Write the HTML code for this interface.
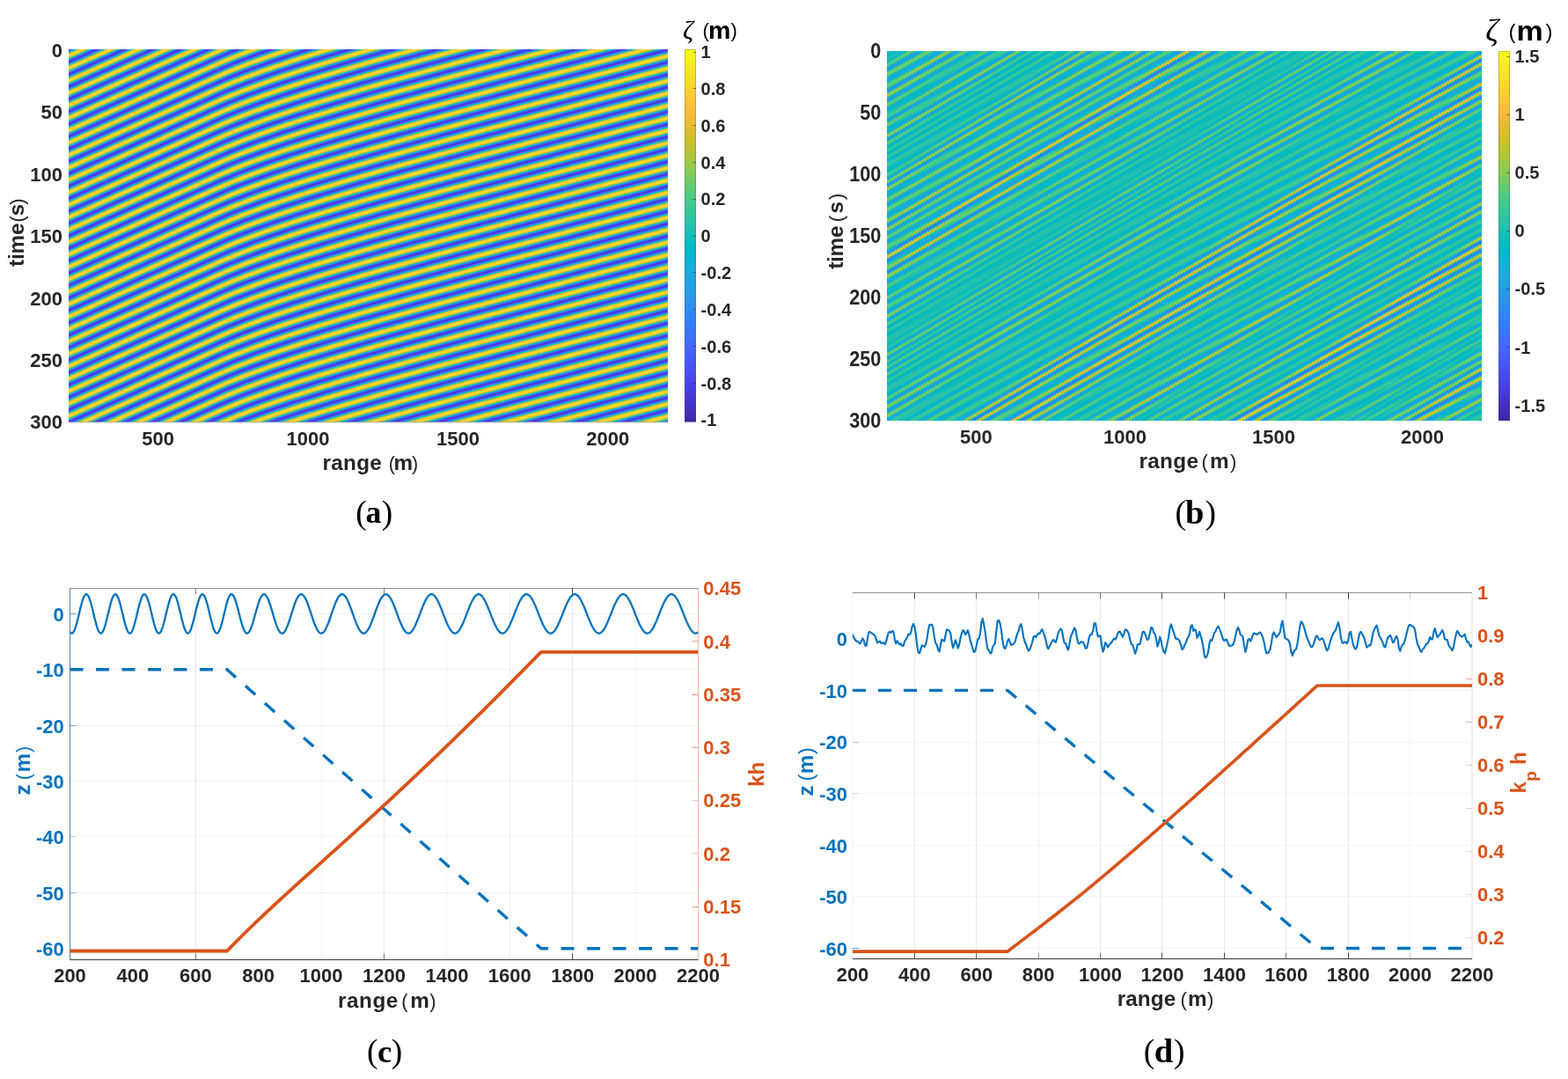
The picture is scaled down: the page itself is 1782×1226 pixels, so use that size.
<!DOCTYPE html>
<html lang="en"><head><meta charset="utf-8"><title>Wave propagation over a sloping bottom</title>
<style>
html,body{margin:0;padding:0;background:#fff}
body{width:1782px;height:1226px;position:relative;overflow:hidden}
svg{position:absolute;left:0;top:0}
text{font-family:"Liberation Sans",sans-serif;font-weight:bold;fill:#262626;text-anchor:middle;white-space:pre}
.s{font-family:"Liberation Serif","DejaVu Serif",serif;font-weight:normal}.b{fill:#0072bd}.o{fill:#d95319}.k{fill:#000}.n{font-weight:normal}.e{text-anchor:end}.l{text-anchor:start}.z{font-family:"Liberation Serif","DejaVu Serif",serif;font-style:italic;font-weight:normal}
#hb{position:absolute;left:1008px;top:58px;width:676px;height:420px;overflow:hidden;display:flex;filter:url(#cm)}#hb i{flex:0 0 3px;height:100%}
</style></head><body>
<div id="hb"><i style="background:linear-gradient(#880,#880,#740,#750,#880,#810,#790,#960,#a20,#770,#560,#6c0,#9c0,#b00,#960,#6c0,#5c0,#710,#900,#a30,#a40,#800,#520,#5b0,#9f0,#c00,#8e0,#5d0,#5e0,#860,#aa0,#990,#6e0,#690,#810,#870,#8b0,#9d0,#840,#570,#6c0,#a90,#a20,#7a0,#780,#710,#680,#960,#bc0,#7d0,#4c0,#7c0,#b00,#8c0,#680,#7b0,#940,#850,#730,#800,#950,#850,#6b0,#7c0,#980,#8b0,#780,#7d0,#7a0,#800,#9c0,#890,#5d0,#7f0,#bb0,#810,#450,#7f0,#c60,#940,#610,#6c0,#790,#860,#aa0,#a20,#680,#540,#770,#a20,#aa0,#8c0,#6a0,#630,#730,#8f0,#b20,#a40,#5c0,#470,#8f0,#c60,#8f0,#580,#6a0,#9d0,#a70,#7b0,#5a0,#720,#9c0,#a10,#950,#780,#480,#5b0,#cb0,#e10,#690,#3b0,#710,#940,#990,#b40,#900,#430,#500,#ab0,#c20,#8a0,#640,#600,#7c0,#a30,#990,#770,#770,#7c0,#720,#8c0,#ac0,#850,#580,#6e0,#990,#a00,#900,#720,#5a0,#780,#b50,#a50,#630,#5c0,#910,#a30,#7b0,#6c0,#8a0,#960,#7c0,#730,#840,#880,#830,#860,#7f0,#7b0,#8e0,#860,#660,#7d0,#b10,#8d0,#570,#780,#a50,#7e0,#6d0,#9b0,#950,#5f0,#700,#a60,#910,#670,#7c0,#9b0,#840,#6f0,#800,#8e0,#860,#840,#7e0,#700,#820,#a60,#8f0,#590,#630,#a50,#b60,#7f0,#550,#630,#9a0,#b80,#8a0,#580,#6b0)"></i><i style="background:linear-gradient(#8b0,#770,#740,#870,#820,#770,#920,#a60,#7f0,#570,#660,#940,#b00,#9d0,#720,#5c0,#6b0,#8a0,#a00,#a80,#890,#560,#550,#950,#c00,#980,#620,#5b0,#7e0,#a70,#9f0,#730,#680,#7e0,#860,#890,#9e0,#8b0,#590,#650,#a30,#a60,#7f0,#790,#730,#650,#8e0,#be0,#870,#4d0,#730,#ad0,#920,#6a0,#780,#920,#880,#740,#7d0,#940,#890,#6d0,#780,#960,#8e0,#790,#7d0,#7a0,#7d0,#9a0,#8e0,#5e0,#770,#bb0,#8c0,#460,#740,#c30,#9e0,#650,#6a0,#760,#810,#a70,#a90,#700,#530,#700,#9c0,#ab0,#930,#6f0,#620,#6e0,#880,#af0,#ad0,#650,#440,#830,#c50,#990,#5c0,#640,#970,#aa0,#820,#5c0,#6c0,#970,#a20,#9a0,#7f0,#4b0,#500,#bc0,#ea0,#780,#3c0,#690,#8e0,#950,#b50,#9c0,#4a0,#480,#9e0,#c40,#930,#690,#5f0,#760,#9f0,#9d0,#7a0,#770,#7c0,#710,#870,#ac0,#8d0,#5b0,#680,#940,#a00,#940,#770,#590,#700,#af0,#ad0,#6a0,#590,#8a0,#a40,#800,#6b0,#860,#970,#7f0,#720,#820,#880,#830,#860,#800,#7a0,#8d0,#890,#670,#770,#af0,#950,#590,#720,#a30,#820,#6b0,#980,#9a0,#630,#6a0,#a30,#970,#690,#770,#9a0,#870,#6f0,#7d0,#8d0,#870,#850,#800,#700,#7d0,#a40,#960,#5d0,#5d0,#9d0,#b90,#880,#590,#5e0,#910,#b80,#930,#5c0,#660,#950)"></i><i style="background:linear-gradient(#790,#730,#850,#820,#760,#8e0,#a80,#860,#5a0,#600,#8c0,#ae0,#a30,#790,#5d0,#670,#830,#9d0,#aa0,#910,#5b0,#500,#8a0,#be0,#a10,#690,#590,#770,#a30,#a30,#790,#680,#7b0,#840,#870,#9e0,#920,#5d0,#5f0,#9b0,#a80,#830,#7b0,#750,#620,#860,#be0,#920,#500,#6b0,#a90,#980,#6c0,#750,#910,#8a0,#750,#7a0,#930,#8d0,#6e0,#740,#940,#900,#7b0,#7d0,#7a0,#7a0,#980,#940,#600,#700,#b80,#970,#480,#690,#be0,#a60,#6b0,#690,#730,#7c0,#a20,#ae0,#780,#530,#690,#950,#ab0,#990,#740,#630,#6a0,#810,#ab0,#b40,#6f0,#420,#770,#c10,#a20,#610,#600,#900,#ab0,#890,#5e0,#670,#910,#a10,#9e0,#880,#500,#470,#ac0,#f00,#890,#3f0,#620,#880,#910,#b50,#a80,#520,#420,#910,#c30,#9b0,#6f0,#5f0,#700,#9a0,#a00,#7e0,#780,#7c0,#6f0,#810,#ab0,#950,#5f0,#640,#8e0,#9f0,#980,#7d0,#5b0,#680,#a80,#b30,#720,#580,#830,#a40,#850,#6b0,#820,#970,#820,#720,#800,#870,#830,#870,#810,#7a0,#8b0,#8d0,#690,#710,#ab0,#9d0,#5d0,#6c0,#a10,#870,#6a0,#940,#9f0,#670,#650,#9e0,#9b0,#6c0,#740,#980,#8b0,#700,#7b0,#8b0,#880,#860,#820,#700,#780,#a20,#9d0,#630,#580,#940,#bb0,#910,#5d0,#590,#880,#b70,#9c0,#610,#610,#900,#990)"></i><i style="background:linear-gradient(#720,#830,#830,#740,#8a0,#a90,#8e0,#5e0,#5c0,#840,#aa0,#a80,#810,#600,#630,#7d0,#980,#ab0,#9a0,#620,#4c0,#7f0,#bb0,#a90,#700,#590,#710,#9d0,#a60,#7f0,#680,#780,#820,#840,#9d0,#990,#620,#590,#930,#a90,#880,#7e0,#780,#610,#7d0,#bc0,#9c0,#540,#640,#a40,#9d0,#700,#720,#8f0,#8d0,#760,#780,#910,#900,#710,#710,#910,#920,#7d0,#7d0,#7a0,#780,#960,#990,#640,#690,#b40,#a10,#4c0,#5f0,#b60,#ad0,#710,#690,#710,#770,#9d0,#b20,#810,#560,#630,#8e0,#aa0,#9f0,#7a0,#650,#670,#7a0,#a60,#ba0,#7b0,#430,#6c0,#bb0,#aa0,#670,#5d0,#890,#ab0,#910,#620,#620,#8a0,#a00,#a10,#900,#560,#400,#9b0,#f10,#9a0,#440,#5b0,#820,#8b0,#b20,#b20,#5c0,#3d0,#840,#c00,#a30,#760,#600,#6b0,#950,#a20,#820,#790,#7d0,#6f0,#7b0,#a90,#9c0,#630,#600,#880,#9e0,#9c0,#840,#5d0,#620,#a00,#b70,#7a0,#570,#7c0,#a30,#890,#6c0,#7e0,#970,#850,#730,#7e0,#870,#830,#870,#820,#790,#8a0,#900,#6b0,#6b0,#a70,#a40,#620,#670,#9d0,#8b0,#690,#8f0,#a30,#6d0,#610,#980,#9f0,#6f0,#700,#960,#8f0,#720,#780,#8a0,#880,#870,#840,#710,#740,#9e0,#a30,#690,#540,#8a0,#ba0,#9a0,#630,#560,#7f0,#b40,#a40,#670,#5e0,#8a0,#9a0,#840)"></i><i style="background:linear-gradient(#820,#840,#730,#850,#a90,#960,#630,#580,#7c0,#a60,#ac0,#890,#640,#610,#770,#930,#ab0,#a10,#6a0,#4b0,#740,#b50,#af0,#780,#5a0,#6b0,#970,#a90,#850,#6a0,#760,#800,#820,#9b0,#9e0,#680,#560,#8b0,#a90,#8c0,#800,#7b0,#600,#750,#b80,#a60,#590,#5e0,#9e0,#a10,#730,#700,#8c0,#8f0,#780,#760,#8f0,#930,#740,#6e0,#8e0,#940,#800,#7e0,#7b0,#750,#920,#9d0,#680,#630,#ae0,#aa0,#520,#560,#ae0,#b30,#770,#6a0,#700,#720,#970,#b50,#8b0,#590,#5e0,#860,#a70,#a30,#810,#670,#650,#740,#9f0,#be0,#860,#450,#610,#b40,#b10,#6e0,#5a0,#820,#aa0,#970,#660,#5f0,#840,#9d0,#a30,#980,#5d0,#3a0,#890,#ef0,#ab0,#4b0,#570,#7d0,#860,#ae0,#bb0,#670,#3b0,#770,#bb0,#a90,#7d0,#620,#660,#8e0,#a20,#860,#7a0,#7e0,#6f0,#760,#a60,#a30,#690,#5d0,#810,#9b0,#9e0,#8a0,#610,#5c0,#980,#ba0,#830,#580,#760,#a00,#8e0,#6d0,#7b0,#960,#880,#740,#7c0,#860,#830,#870,#840,#790,#880,#920,#6e0,#660,#a10,#ab0,#680,#620,#990,#8f0,#690,#8a0,#a60,#730,#5e0,#920,#a20,#730,#6d0,#930,#920,#740,#760,#880,#880,#870,#860,#720,#700,#9a0,#a80,#700,#510,#800,#b80,#a20,#6a0,#540,#760,#af0,#ab0,#6e0,#5c0,#840,#990,#860,#800)"></i><i style="background:linear-gradient(#850,#730,#800,#a70,#9d0,#690,#570,#740,#a00,#ae0,#910,#690,#600,#720,#8d0,#a90,#a80,#730,#4a0,#6a0,#ae0,#b40,#800,#5c0,#650,#910,#a90,#8b0,#6c0,#740,#7f0,#7f0,#990,#a40,#6f0,#530,#820,#a80,#900,#820,#7e0,#610,#6d0,#b20,#ae0,#600,#590,#970,#a40,#780,#6e0,#890,#900,#7a0,#740,#8c0,#950,#770,#6c0,#8a0,#950,#820,#7e0,#7c0,#730,#8f0,#a00,#6d0,#5e0,#a70,#b30,#5a0,#4f0,#a40,#b80,#7e0,#6c0,#6f0,#6e0,#900,#b60,#940,#5e0,#5a0,#7e0,#a30,#a70,#870,#6b0,#640,#6e0,#970,#c00,#920,#490,#580,#aa0,#b70,#760,#590,#7b0,#a70,#9e0,#6c0,#5d0,#7d0,#990,#a30,#a00,#660,#370,#780,#ea0,#ba0,#540,#540,#770,#800,#a80,#c30,#740,#3b0,#6b0,#b40,#ae0,#840,#650,#630,#880,#a20,#8a0,#7b0,#800,#6f0,#710,#a10,#a80,#700,#5b0,#7b0,#980,#a00,#900,#650,#580,#8e0,#bb0,#8c0,#5a0,#700,#9d0,#920,#6f0,#780,#940,#8c0,#750,#7b0,#850,#830,#860,#850,#790,#860,#940,#720,#620,#9a0,#b00,#6f0,#5f0,#950,#930,#690,#840,#a80,#790,#5c0,#8b0,#a50,#780,#6b0,#8f0,#940,#770,#750,#860,#880,#870,#880,#740,#6d0,#950,#ac0,#780,#510,#770,#b30,#aa0,#710,#540,#6e0,#a90,#b00,#750,#5b0,#7f0,#980,#880,#800,#830)"></i><i style="background:linear-gradient(#720,#7b0,#a40,#a40,#710,#560,#6d0,#990,#af0,#980,#6f0,#5f0,#6d0,#860,#a60,#ae0,#7d0,#4c0,#610,#a50,#b80,#890,#5f0,#610,#8a0,#a90,#910,#6f0,#730,#7d0,#7c0,#950,#a80,#770,#520,#7a0,#a60,#930,#850,#820,#630,#660,#ab0,#b60,#680,#550,#900,#a60,#7c0,#6d0,#870,#910,#7d0,#730,#8a0,#970,#7b0,#6b0,#860,#950,#840,#7f0,#7d0,#720,#8a0,#a30,#730,#5a0,#9f0,#ba0,#620,#4a0,#990,#ba0,#860,#6e0,#6f0,#6b0,#890,#b50,#9d0,#640,#580,#770,#9e0,#a90,#8e0,#6f0,#630,#690,#8f0,#c00,#9e0,#4f0,#510,#a00,#bb0,#7e0,#5a0,#740,#a30,#a30,#720,#5c0,#770,#950,#a30,#a70,#710,#360,#680,#e10,#c80,#5e0,#520,#720,#7a0,#a10,#c80,#820,#3c0,#600,#ac0,#b20,#8b0,#690,#600,#820,#a10,#8e0,#7d0,#810,#710,#6d0,#9b0,#ad0,#770,#5b0,#750,#930,#a00,#960,#6b0,#550,#850,#ba0,#950,#5d0,#6b0,#9a0,#950,#710,#750,#920,#8e0,#770,#7a0,#850,#830,#860,#860,#790,#840,#960,#760,#5f0,#920,#b30,#760,#5d0,#8f0,#960,#6b0,#7f0,#a90,#800,#5b0,#850,#a60,#7d0,#6a0,#8c0,#960,#790,#730,#840,#880,#880,#890,#770,#6a0,#8f0,#ae0,#810,#510,#6e0,#ae0,#b00,#7a0,#550,#660,#a10,#b40,#7e0,#5b0,#790,#970,#8a0,#810,#840,#780)"></i><i style="background:linear-gradient(#760,#a10,#a90,#780,#570,#670,#910,#ae0,#9e0,#750,#600,#690,#800,#a10,#b20,#870,#4f0,#5a0,#9c0,#ba0,#910,#640,#5e0,#820,#a70,#960,#720,#720,#7c0,#7a0,#910,#ab0,#7f0,#530,#720,#a20,#960,#870,#850,#650,#600,#a30,#bb0,#710,#530,#880,#a70,#810,#6d0,#830,#920,#7f0,#720,#860,#980,#7f0,#6a0,#820,#950,#860,#800,#7e0,#710,#860,#a50,#7a0,#570,#960,#c00,#6c0,#460,#8e0,#bb0,#8d0,#710,#700,#680,#810,#b30,#a50,#6b0,#570,#700,#980,#aa0,#940,#740,#640,#640,#860,#be0,#a90,#570,#4b0,#960,#bd0,#870,#5b0,#6e0,#9f0,#a80,#790,#5c0,#710,#900,#a10,#ac0,#7c0,#380,#590,#d40,#d50,#6a0,#520,#6e0,#750,#990,#cb0,#900,#400,#570,#a30,#b40,#920,#6e0,#5f0,#7b0,#9f0,#910,#7f0,#830,#720,#690,#950,#b00,#7f0,#5c0,#700,#8f0,#9f0,#9c0,#710,#530,#7b0,#b70,#9d0,#620,#660,#950,#980,#740,#720,#900,#910,#790,#790,#840,#820,#850,#870,#7a0,#810,#970,#7b0,#5d0,#8b0,#b50,#7e0,#5c0,#8a0,#990,#6d0,#7a0,#a90,#870,#5b0,#7e0,#a60,#820,#690,#880,#980,#7d0,#730,#820,#880,#880,#8b0,#790,#680,#890,#af0,#890,#530,#660,#a60,#b40,#830,#570,#600,#990,#b70,#860,#5d0,#740,#940,#8b0,#820,#850,#790,#740)"></i><i style="background:linear-gradient(#9c0,#ad0,#810,#590,#610,#890,#ac0,#a40,#7c0,#620,#660,#7a0,#9c0,#b50,#910,#540,#530,#910,#b90,#9a0,#690,#5c0,#7b0,#a40,#9b0,#760,#720,#7b0,#770,#8c0,#ac0,#880,#550,#6b0,#9d0,#970,#890,#890,#690,#5b0,#990,#bf0,#7b0,#520,#800,#a60,#860,#6d0,#800,#920,#820,#720,#830,#980,#830,#6a0,#7e0,#940,#880,#810,#7f0,#700,#810,#a50,#810,#550,#8d0,#c30,#770,#440,#820,#ba0,#940,#750,#710,#660,#7a0,#ae0,#ac0,#730,#570,#6a0,#910,#a90,#9a0,#7a0,#660,#610,#7e0,#ba0,#b30,#600,#470,#8a0,#bd0,#8f0,#5e0,#690,#990,#ab0,#810,#5d0,#6c0,#8a0,#9f0,#b10,#880,#3b0,#4c0,#c60,#de0,#770,#530,#6b0,#700,#900,#cc0,#9e0,#460,#4f0,#980,#b40,#990,#740,#5e0,#750,#9b0,#930,#800,#840,#750,#660,#8e0,#b20,#870,#5e0,#6b0,#8a0,#9e0,#a00,#790,#530,#720,#b30,#a50,#670,#630,#900,#9b0,#780,#700,#8d0,#920,#7b0,#780,#830,#820,#850,#880,#7a0,#7f0,#980,#800,#5c0,#820,#b50,#860,#5b0,#850,#9b0,#6f0,#750,#a70,#8f0,#5c0,#770,#a50,#870,#690,#830,#980,#800,#720,#800,#870,#870,#8c0,#7c0,#670,#820,#af0,#920,#570,#5f0,#9e0,#b70,#8c0,#5b0,#5b0,#900,#b80,#8e0,#5f0,#6f0,#910,#8c0,#830,#860,#7b0,#720,#880)"></i><i style="background:linear-gradient(#b00,#890,#5d0,#5d0,#810,#a80,#a90,#830,#650,#640,#740,#950,#b50,#9b0,#5a0,#4f0,#870,#b70,#a10,#700,#5b0,#750,#a00,#9f0,#7a0,#720,#7a0,#750,#870,#ad0,#910,#580,#650,#980,#990,#8b0,#8d0,#6d0,#570,#8f0,#c10,#850,#520,#790,#a50,#8b0,#6e0,#7e0,#910,#840,#720,#800,#980,#870,#6b0,#7a0,#930,#890,#820,#810,#700,#7d0,#a50,#880,#550,#830,#c50,#820,#440,#770,#b70,#9a0,#790,#730,#650,#730,#a90,#b20,#7c0,#590,#640,#8a0,#a70,#9e0,#800,#690,#5f0,#750,#b30,#bc0,#6a0,#440,#7f0,#bb0,#970,#620,#640,#920,#ad0,#880,#5f0,#680,#840,#9b0,#b30,#940,#410,#410,#b50,#e40,#840,#560,#680,#6b0,#870,#ca0,#ab0,#4e0,#490,#8e0,#b20,#9e0,#7a0,#5f0,#700,#970,#950,#820,#860,#780,#640,#870,#b20,#8f0,#610,#680,#840,#9b0,#a40,#800,#540,#6a0,#ad0,#ab0,#6e0,#600,#8b0,#9c0,#7b0,#6e0,#8a0,#940,#7e0,#780,#820,#820,#840,#890,#7b0,#7d0,#980,#860,#5c0,#7a0,#b40,#8e0,#5c0,#7f0,#9c0,#720,#700,#a50,#950,#5f0,#710,#a20,#8c0,#690,#7f0,#990,#830,#730,#7f0,#860,#870,#8d0,#800,#670,#7c0,#ad0,#9a0,#5c0,#590,#950,#b80,#940,#600,#570,#870,#b60,#960,#630,#6b0,#8e0,#8d0,#830,#870,#7c0,#710,#840,#9a0)"></i><i style="background:linear-gradient(#920,#620,#5a0,#7a0,#a30,#ac0,#8b0,#690,#630,#6f0,#8e0,#b50,#a40,#620,#4b0,#7d0,#b30,#a70,#770,#5c0,#6e0,#9b0,#a20,#7f0,#730,#7a0,#740,#820,#ac0,#990,#5c0,#600,#920,#990,#8c0,#900,#730,#550,#850,#c10,#8f0,#540,#720,#a20,#8f0,#700,#7b0,#910,#870,#720,#7c0,#970,#8b0,#6d0,#770,#910,#8b0,#830,#830,#710,#780,#a30,#8f0,#560,#790,#c40,#8e0,#450,#6d0,#b20,#9f0,#7d0,#760,#650,#6c0,#a20,#b60,#850,#5c0,#600,#820,#a40,#a20,#860,#6d0,#5e0,#6d0,#ac0,#c30,#760,#440,#750,#b70,#9f0,#670,#600,#8b0,#ad0,#900,#630,#640,#7f0,#960,#b40,#a00,#490,#380,#a40,#e70,#910,#5a0,#670,#680,#7e0,#c60,#b80,#580,#440,#830,#af0,#a30,#810,#610,#6b0,#930,#970,#840,#870,#7b0,#620,#7f0,#b00,#970,#650,#650,#7f0,#970,#a60,#880,#570,#620,#a50,#b00,#750,#5e0,#850,#9d0,#7f0,#6e0,#860,#950,#810,#780,#810,#810,#830,#890,#7c0,#7b0,#970,#8b0,#5e0,#730,#b10,#960,#5f0,#7a0,#9d0,#760,#6c0,#a10,#9c0,#620,#6c0,#9f0,#910,#6b0,#7b0,#980,#870,#730,#7d0,#850,#860,#8e0,#830,#670,#760,#aa0,#a20,#620,#540,#8c0,#b70,#9d0,#670,#540,#7d0,#b40,#9e0,#670,#680,#8b0,#8e0,#840,#880,#7f0,#700,#800,#990,#910)"></i><i style="background:linear-gradient(#680,#580,#720,#9d0,#ae0,#920,#6e0,#630,#6a0,#870,#b20,#ac0,#6b0,#4a0,#730,#ae0,#ad0,#7e0,#5d0,#690,#950,#a40,#840,#740,#7a0,#720,#7d0,#a90,#a10,#620,#5c0,#8b0,#980,#8d0,#930,#780,#530,#7b0,#bf0,#990,#570,#6c0,#9f0,#930,#710,#780,#8f0,#890,#730,#790,#960,#8f0,#6f0,#740,#8e0,#8c0,#840,#840,#720,#740,#a10,#950,#580,#700,#c10,#9a0,#490,#640,#ac0,#a30,#820,#790,#660,#660,#9a0,#b80,#8e0,#600,#5d0,#7b0,#a00,#a50,#8c0,#710,#5e0,#660,#a30,#c70,#820,#450,#6b0,#b20,#a60,#6c0,#5e0,#840,#ac0,#970,#680,#620,#790,#900,#b40,#ab0,#530,#320,#920,#e70,#9e0,#5f0,#670,#650,#750,#bf0,#c30,#630,#420,#780,#aa0,#a70,#870,#640,#670,#8e0,#970,#860,#890,#7e0,#620,#780,#ae0,#9e0,#6a0,#630,#7a0,#930,#a80,#900,#5b0,#5c0,#9d0,#b40,#7c0,#5e0,#800,#9d0,#830,#6d0,#830,#950,#830,#780,#800,#810,#820,#8a0,#7e0,#790,#950,#900,#600,#6c0,#ad0,#9d0,#620,#750,#9d0,#790,#690,#9c0,#a10,#670,#670,#9b0,#950,#6d0,#780,#970,#8a0,#740,#7b0,#840,#850,#8f0,#870,#690,#700,#a50,#a90,#690,#510,#820,#b50,#a40,#6e0,#530,#750,#af0,#a50,#6d0,#660,#870,#8e0,#840,#880,#810,#700,#7c0,#970,#950,#7a0)"></i><i style="background:linear-gradient(#580,#6b0,#960,#ae0,#980,#740,#630,#660,#7f0,#ad0,#b40,#750,#4a0,#6a0,#a70,#b00,#860,#600,#640,#8f0,#a40,#880,#760,#7a0,#720,#780,#a50,#a80,#690,#590,#850,#970,#8e0,#960,#7f0,#540,#720,#bb0,#a20,#5c0,#660,#9b0,#960,#740,#760,#8e0,#8c0,#750,#760,#940,#920,#710,#710,#8c0,#8d0,#850,#860,#740,#700,#9d0,#9c0,#5c0,#680,#bd0,#a50,#4e0,#5c0,#a50,#a70,#860,#7c0,#680,#610,#910,#b90,#970,#660,#5b0,#740,#9a0,#a60,#910,#770,#5f0,#600,#990,#ca0,#8e0,#480,#620,#ab0,#ab0,#730,#5d0,#7d0,#aa0,#9d0,#6d0,#610,#740,#8a0,#b10,#b60,#5e0,#2e0,#800,#e30,#ab0,#660,#670,#630,#6c0,#b60,#cc0,#6f0,#410,#6e0,#a40,#a90,#8e0,#680,#630,#880,#970,#870,#8a0,#820,#630,#710,#a90,#a50,#700,#620,#750,#8e0,#a80,#980,#600,#570,#940,#b60,#840,#5f0,#7a0,#9c0,#870,#6d0,#7f0,#950,#860,#780,#7f0,#810,#820,#8a0,#7f0,#770,#930,#950,#630,#650,#a70,#a40,#660,#700,#9c0,#7e0,#660,#970,#a60,#6c0,#630,#970,#990,#6f0,#740,#950,#8d0,#760,#7a0,#830,#840,#8e0,#8a0,#6b0,#6b0,#a00,#af0,#710,#500,#790,#b00,#ab0,#760,#530,#6c0,#a90,#aa0,#730,#640,#830,#8d0,#840,#890,#830,#710,#790,#940,#970,#7e0,#680)"></i><i style="background:linear-gradient(#650,#8e0,#ad0,#9e0,#7a0,#650,#630,#780,#a80,#b90,#800,#4c0,#610,#9f0,#b20,#8e0,#640,#610,#880,#a40,#8d0,#780,#7b0,#720,#730,#a00,#ad0,#710,#570,#7f0,#950,#8e0,#980,#850,#550,#690,#b50,#ab0,#620,#610,#960,#990,#770,#740,#8c0,#8e0,#770,#740,#910,#950,#750,#6f0,#890,#8d0,#850,#880,#760,#6d0,#990,#a10,#600,#600,#b60,#b00,#540,#550,#9c0,#a90,#8a0,#800,#6b0,#5e0,#880,#b80,#9f0,#6c0,#5b0,#6e0,#940,#a70,#970,#7c0,#610,#5b0,#8e0,#ca0,#9b0,#4d0,#5a0,#a30,#b00,#7a0,#5c0,#760,#a60,#a30,#730,#600,#700,#840,#ad0,#bf0,#6b0,#2c0,#6f0,#db0,#b60,#6e0,#690,#630,#640,#ac0,#d30,#7d0,#430,#660,#9d0,#aa0,#940,#6d0,#610,#830,#960,#880,#8b0,#860,#640,#6b0,#a40,#aa0,#770,#620,#710,#890,#a60,#9f0,#660,#530,#8a0,#b70,#8c0,#600,#750,#9a0,#8b0,#6e0,#7c0,#940,#880,#790,#7f0,#810,#810,#8a0,#810,#760,#910,#990,#680,#600,#a10,#a90,#6b0,#6d0,#9a0,#820,#640,#910,#aa0,#720,#610,#910,#9c0,#720,#710,#920,#900,#780,#790,#820,#830,#8e0,#8e0,#6e0,#670,#990,#b30,#7a0,#500,#700,#ab0,#b00,#7f0,#550,#650,#a20,#af0,#790,#640,#7f0,#8d0,#850,#890,#860,#720,#750,#910,#990,#830,#6a0,#6c0)"></i><i style="background:linear-gradient(#860,#aa0,#a30,#810,#680,#620,#710,#a00,#bd0,#8a0,#500,#5a0,#960,#b30,#950,#690,#5e0,#820,#a30,#910,#7a0,#7c0,#720,#6e0,#9a0,#b20,#790,#570,#790,#930,#8d0,#990,#8c0,#580,#610,#ae0,#b20,#690,#5e0,#900,#9b0,#7a0,#730,#8a0,#8f0,#790,#720,#8e0,#980,#780,#6d0,#860,#8d0,#860,#890,#780,#6b0,#940,#a60,#660,#5a0,#ae0,#b90,#5d0,#4f0,#930,#a90,#8e0,#840,#6e0,#5b0,#7f0,#b40,#a60,#730,#5b0,#690,#8e0,#a60,#9b0,#820,#650,#570,#830,#c70,#a70,#530,#530,#9a0,#b20,#810,#5d0,#700,#a10,#a80,#7a0,#610,#6c0,#7e0,#a70,#c60,#7a0,#2d0,#5f0,#d10,#c00,#760,#6b0,#630,#5d0,#a00,#d70,#8b0,#460,#5e0,#950,#aa0,#9a0,#720,#600,#7e0,#950,#890,#8b0,#8a0,#670,#660,#9d0,#ae0,#7e0,#630,#6d0,#830,#a40,#a50,#6e0,#510,#810,#b50,#930,#630,#710,#980,#8e0,#700,#790,#920,#8b0,#7a0,#7e0,#800,#800,#890,#820,#750,#8e0,#9d0,#6d0,#5c0,#990,#ae0,#700,#690,#980,#870,#630,#8a0,#ac0,#790,#5f0,#8c0,#9e0,#760,#6f0,#8f0,#920,#7a0,#780,#810,#820,#8d0,#910,#710,#630,#920,#b60,#830,#510,#680,#a30,#b40,#880,#580,#5e0,#9a0,#b20,#800,#640,#7c0,#8c0,#850,#890,#880,#730,#730,#8e0,#9b0,#870,#6c0,#690,#880)"></i><i style="background:linear-gradient(#a60,#a70,#870,#6c0,#610,#6b0,#980,#be0,#950,#550,#550,#8d0,#b20,#9c0,#6f0,#5d0,#7b0,#a00,#940,#7d0,#7d0,#730,#6b0,#940,#b50,#820,#580,#730,#900,#8c0,#990,#930,#5d0,#5a0,#a50,#b80,#700,#5b0,#8a0,#9d0,#7d0,#720,#870,#910,#7b0,#700,#8a0,#9a0,#7c0,#6d0,#830,#8d0,#860,#8b0,#7b0,#690,#8e0,#aa0,#6c0,#550,#a50,#c00,#660,#4b0,#8a0,#a80,#920,#880,#730,#590,#770,#b00,#ac0,#7b0,#5d0,#640,#870,#a30,#9f0,#880,#6a0,#540,#790,#c30,#b20,#5b0,#4e0,#900,#b40,#890,#5f0,#6a0,#9b0,#ab0,#810,#630,#690,#780,#a00,#cb0,#890,#300,#510,#c50,#c70,#7e0,#6f0,#650,#570,#940,#d80,#990,#4b0,#570,#8d0,#a80,#9f0,#790,#600,#790,#930,#8a0,#8c0,#8e0,#6a0,#610,#960,#b00,#850,#650,#6a0,#7e0,#a00,#aa0,#760,#500,#780,#b20,#9a0,#660,#6d0,#950,#920,#720,#760,#900,#8d0,#7c0,#7e0,#800,#7f0,#890,#840,#740,#8a0,#a00,#730,#580,#910,#b10,#770,#670,#950,#8b0,#630,#830,#ad0,#800,#5e0,#860,#a00,#7a0,#6d0,#8c0,#940,#7c0,#780,#800,#810,#8c0,#930,#750,#610,#8a0,#b70,#8d0,#540,#610,#9b0,#b60,#910,#5c0,#590,#920,#b30,#870,#660,#780,#8a0,#850,#890,#8a0,#750,#700,#8a0,#9b0,#8c0,#6f0,#660,#820,#a30)"></i><i style="background:linear-gradient(#aa0,#8e0,#710,#610,#650,#900,#be0,#a00,#5c0,#510,#830,#af0,#a20,#750,#5d0,#750,#9d0,#970,#800,#7e0,#750,#680,#8c0,#b60,#8b0,#5a0,#6e0,#8c0,#8b0,#990,#990,#620,#540,#9b0,#bc0,#780,#5a0,#840,#9d0,#810,#710,#840,#920,#7e0,#6f0,#860,#9b0,#800,#6c0,#7f0,#8c0,#860,#8c0,#7e0,#680,#880,#ac0,#740,#510,#9b0,#c60,#710,#490,#810,#a60,#950,#8c0,#780,#590,#6e0,#a90,#b10,#830,#600,#610,#800,#a00,#a10,#8e0,#6f0,#530,#6e0,#bc0,#bb0,#650,#4b0,#870,#b30,#900,#620,#650,#950,#ad0,#880,#660,#670,#720,#980,#cd0,#990,#360,#450,#b70,#cc0,#870,#730,#670,#530,#870,#d60,#a70,#520,#520,#840,#a50,#a30,#7f0,#610,#740,#900,#8a0,#8c0,#910,#6f0,#5d0,#8e0,#b10,#8c0,#680,#680,#790,#9b0,#ae0,#7f0,#500,#6f0,#ae0,#a10,#6b0,#6a0,#910,#940,#740,#730,#8e0,#8e0,#7d0,#7e0,#800,#7e0,#880,#850,#740,#860,#a20,#7a0,#560,#890,#b20,#7d0,#650,#920,#8f0,#630,#7d0,#ad0,#870,#5e0,#800,#a00,#7e0,#6c0,#880,#950,#7f0,#780,#7f0,#800,#8a0,#950,#7a0,#5f0,#830,#b60,#960,#580,#5b0,#930,#b60,#990,#620,#550,#890,#b30,#8e0,#680,#760,#890,#840,#880,#8c0,#780,#6e0,#860,#9b0,#900,#730,#650,#7c0,#a10,#9c0)"></i><i style="background:linear-gradient(#940,#760,#630,#610,#870,#bc0,#aa0,#640,#4e0,#7a0,#ab0,#a70,#7c0,#5d0,#6f0,#980,#990,#820,#800,#770,#650,#850,#b60,#940,#5d0,#6a0,#890,#890,#980,#9f0,#690,#500,#910,#be0,#810,#5a0,#7f0,#9d0,#850,#710,#820,#920,#810,#6f0,#820,#9b0,#850,#6d0,#7d0,#8b0,#860,#8c0,#820,#670,#820,#ae0,#7c0,#4e0,#900,#ca0,#7c0,#490,#780,#a30,#970,#8f0,#7d0,#5a0,#670,#a20,#b40,#8c0,#650,#5e0,#790,#9b0,#a30,#940,#750,#540,#650,#b30,#c30,#6f0,#490,#7d0,#b10,#970,#660,#610,#8e0,#ae0,#8f0,#6a0,#650,#6d0,#900,#cd0,#a90,#3e0,#3b0,#a70,#cf0,#900,#770,#6b0,#500,#7a0,#d20,#b40,#5a0,#4f0,#7c0,#a10,#a60,#860,#630,#700,#8d0,#8a0,#8b0,#950,#740,#5b0,#850,#b10,#930,#6c0,#670,#740,#960,#b10,#880,#520,#670,#a80,#a60,#700,#670,#8d0,#970,#770,#710,#8b0,#900,#7f0,#7e0,#800,#7e0,#870,#870,#740,#830,#a30,#800,#560,#800,#b20,#840,#640,#8e0,#930,#650,#760,#ac0,#8e0,#5f0,#7b0,#a00,#830,#6b0,#850,#950,#820,#780,#7e0,#7e0,#880,#970,#7f0,#5e0,#7b0,#b40,#9f0,#5e0,#560,#890,#b40,#a10,#690,#530,#800,#b10,#950,#6b0,#730,#870,#840,#880,#8e0,#7a0,#6d0,#810,#9a0,#940,#770,#640,#760,#9d0,#a00,#7e0)"></i><i style="background:linear-gradient(#7c0,#650,#5d0,#7d0,#b70,#b20,#6d0,#4d0,#710,#a50,#ab0,#840,#5f0,#6a0,#930,#9b0,#850,#820,#790,#640,#7d0,#b30,#9c0,#620,#660,#850,#870,#960,#a40,#700,#4d0,#870,#be0,#8a0,#5b0,#790,#9c0,#880,#720,#7f0,#920,#840,#6f0,#7f0,#9a0,#890,#6e0,#7a0,#8a0,#860,#8d0,#850,#680,#7c0,#ae0,#840,#4d0,#850,#cb0,#880,#4a0,#700,#9f0,#980,#920,#830,#5d0,#600,#990,#b60,#940,#6a0,#5d0,#730,#960,#a30,#990,#7c0,#550,#5d0,#a90,#c90,#7b0,#490,#740,#ae0,#9e0,#6b0,#5f0,#860,#ad0,#960,#6e0,#650,#680,#860,#ca0,#b80,#480,#330,#970,#cf0,#980,#7c0,#6f0,#4f0,#6e0,#ca0,#bf0,#640,#4d0,#740,#9b0,#a80,#8d0,#660,#6c0,#8a0,#890,#8a0,#970,#790,#5a0,#7d0,#ae0,#990,#710,#670,#6f0,#8f0,#b20,#910,#560,#600,#a10,#ab0,#760,#660,#890,#980,#7a0,#700,#880,#900,#810,#7e0,#800,#7d0,#860,#880,#740,#7f0,#a30,#880,#560,#780,#b10,#8b0,#640,#8a0,#970,#670,#700,#a90,#950,#610,#750,#9f0,#870,#6b0,#810,#950,#840,#790,#7d0,#7d0,#860,#980,#840,#5f0,#730,#b00,#a70,#650,#530,#800,#b10,#a80,#710,#520,#770,#ad0,#9b0,#6e0,#710,#850,#840,#870,#8f0,#7e0,#6d0,#7d0,#980,#970,#7c0,#650,#710,#980,#a20,#840,#6e0)"></i><i style="background:linear-gradient(#690,#5b0,#750,#b10,#b90,#770,#4e0,#690,#9e0,#ad0,#8b0,#630,#660,#8e0,#9b0,#880,#830,#7c0,#640,#760,#b00,#a40,#680,#640,#810,#840,#930,#a70,#790,#4c0,#7c0,#bc0,#930,#5d0,#740,#9a0,#8b0,#730,#7d0,#910,#870,#700,#7b0,#990,#8d0,#700,#770,#880,#860,#8d0,#890,#690,#760,#ac0,#8d0,#4e0,#7a0,#ca0,#940,#4d0,#680,#9a0,#990,#950,#890,#600,#5b0,#900,#b50,#9b0,#700,#5d0,#6d0,#900,#a20,#9d0,#830,#590,#560,#9e0,#cc0,#870,#4b0,#6c0,#a90,#a30,#710,#5d0,#7f0,#ab0,#9c0,#740,#660,#650,#7d0,#c50,#c50,#550,#2e0,#870,#cc0,#9f0,#820,#750,#4f0,#630,#c10,#c90,#6f0,#4d0,#6d0,#950,#a90,#930,#6a0,#6a0,#870,#890,#890,#990,#7f0,#5a0,#760,#ab0,#9f0,#760,#670,#6b0,#890,#b10,#9a0,#5b0,#5a0,#990,#ae0,#7c0,#650,#850,#990,#7e0,#6f0,#850,#910,#820,#7e0,#810,#7d0,#850,#8a0,#750,#7b0,#a20,#8f0,#580,#700,#ae0,#910,#650,#860,#990,#6b0,#6b0,#a50,#9b0,#650,#700,#9c0,#8c0,#6c0,#7d0,#950,#870,#7a0,#7d0,#7d0,#840,#980,#890,#610,#6c0,#aa0,#ae0,#6d0,#510,#770,#ac0,#ae0,#790,#520,#6f0,#a90,#a00,#730,#700,#830,#830,#860,#900,#810,#6d0,#790,#950,#9a0,#810,#660,#6c0,#930,#a40,#890,#700,#6e0)"></i><i style="background:linear-gradient(#5a0,#6c0,#a90,#bf0,#820,#500,#620,#970,#ae0,#920,#670,#630,#880,#9b0,#8a0,#850,#7f0,#640,#6f0,#aa0,#ab0,#6e0,#620,#7e0,#820,#8f0,#aa0,#810,#4d0,#720,#b90,#9b0,#610,#6f0,#970,#8e0,#740,#7a0,#900,#8a0,#710,#770,#970,#910,#720,#750,#860,#850,#8d0,#8c0,#6b0,#710,#aa0,#950,#500,#6f0,#c60,#9f0,#510,#620,#940,#980,#960,#8f0,#650,#570,#870,#b30,#a20,#770,#5e0,#680,#8a0,#a00,#a10,#8b0,#5d0,#500,#920,#cd0,#930,#4e0,#640,#a30,#a80,#780,#5c0,#780,#a70,#a10,#790,#680,#620,#740,#bd0,#d10,#630,#2b0,#770,#c70,#a60,#870,#7b0,#510,#590,#b50,#d00,#7b0,#4e0,#670,#8e0,#a80,#990,#6e0,#680,#830,#880,#880,#9a0,#850,#5b0,#6e0,#a60,#a40,#7c0,#690,#680,#820,#af0,#a20,#610,#560,#900,#af0,#820,#650,#800,#990,#810,#6e0,#820,#910,#840,#7f0,#810,#7c0,#840,#8b0,#760,#770,#a00,#960,#5b0,#690,#a90,#970,#670,#820,#9c0,#6f0,#660,#a00,#a10,#690,#6c0,#9a0,#900,#6d0,#7a0,#940,#890,#7b0,#7d0,#7c0,#810,#970,#8e0,#630,#660,#a40,#b40,#760,#510,#6f0,#a60,#b20,#820,#540,#670,#a30,#a50,#770,#6f0,#820,#830,#840,#900,#840,#6e0,#760,#920,#9b0,#860,#690,#680,#8d0,#a40,#8e0,#730,#6d0,#760)"></i><i style="background:linear-gradient(#650,#a00,#c20,#8c0,#540,#5c0,#8f0,#ae0,#990,#6c0,#600,#820,#9a0,#8c0,#870,#830,#660,#690,#a40,#b00,#750,#620,#7a0,#800,#8c0,#ab0,#8b0,#4f0,#690,#b40,#a30,#650,#6b0,#940,#910,#760,#780,#8f0,#8c0,#720,#740,#940,#940,#750,#740,#850,#850,#8c0,#8f0,#6d0,#6c0,#a60,#9d0,#530,#660,#c10,#aa0,#570,#5c0,#8e0,#970,#980,#940,#6b0,#540,#7e0,#b00,#a80,#7e0,#600,#640,#840,#9d0,#a30,#920,#630,#4c0,#850,#cc0,#9e0,#530,#5d0,#9c0,#ab0,#7e0,#5c0,#710,#a30,#a60,#800,#6a0,#610,#6c0,#b40,#da0,#730,#2b0,#680,#bf0,#ab0,#8c0,#810,#540,#510,#a80,#d50,#870,#510,#610,#870,#a50,#9e0,#730,#670,#800,#870,#860,#9b0,#8c0,#5d0,#680,#a00,#a70,#820,#6b0,#660,#7b0,#ab0,#a90,#690,#530,#880,#af0,#890,#660,#7c0,#990,#850,#6f0,#7f0,#900,#860,#7f0,#810,#7c0,#820,#8b0,#780,#740,#9d0,#9c0,#600,#620,#a40,#9d0,#690,#7e0,#9d0,#730,#620,#9a0,#a60,#6d0,#690,#960,#930,#6f0,#770,#920,#8c0,#7c0,#7d0,#7b0,#7f0,#960,#930,#670,#610,#9c0,#b80,#7f0,#520,#670,#9f0,#b50,#8b0,#570,#610,#9c0,#a80,#7c0,#6f0,#800,#820,#830,#900,#870,#6f0,#720,#8e0,#9c0,#8b0,#6c0,#650,#870,#a30,#930,#770,#6d0,#720,#880)"></i><i style="background:linear-gradient(#960,#c30,#970,#590,#580,#860,#ac0,#9f0,#720,#5f0,#7d0,#980,#8e0,#880,#860,#680,#640,#9c0,#b40,#7d0,#620,#770,#7d0,#870,#ab0,#940,#520,#600,#ad0,#a90,#6a0,#680,#900,#930,#780,#760,#8d0,#8f0,#750,#710,#910,#970,#780,#730,#830,#840,#8b0,#920,#710,#680,#a10,#a40,#580,#5d0,#b90,#b40,#5e0,#580,#880,#950,#980,#9a0,#710,#530,#750,#aa0,#ac0,#850,#640,#610,#7d0,#990,#a40,#990,#6a0,#4a0,#790,#c80,#a90,#5a0,#580,#940,#ad0,#850,#5e0,#6b0,#9d0,#a90,#860,#6e0,#600,#640,#a90,#e10,#840,#2d0,#5b0,#b60,#ae0,#910,#880,#590,#4a0,#9a0,#d70,#940,#560,#5d0,#800,#a20,#a30,#790,#660,#7d0,#860,#840,#9a0,#920,#610,#620,#990,#aa0,#880,#6e0,#650,#750,#a60,#b00,#710,#510,#7f0,#ae0,#8f0,#670,#780,#980,#890,#6f0,#7c0,#8f0,#870,#800,#820,#7d0,#810,#8c0,#7a0,#710,#9a0,#a20,#650,#5d0,#9e0,#a20,#6c0,#7a0,#9e0,#780,#600,#930,#a90,#730,#660,#920,#960,#720,#740,#900,#8d0,#7d0,#7d0,#7b0,#7c0,#940,#970,#6b0,#5d0,#930,#ba0,#890,#550,#610,#960,#b60,#940,#5c0,#5b0,#940,#aa0,#820,#6f0,#7e0,#810,#820,#900,#8b0,#710,#6f0,#8a0,#9c0,#900,#6f0,#630,#810,#a10,#970,#7b0,#6e0,#700,#840,#9b0)"></i><i style="background:linear-gradient(#c20,#a20,#600,#550,#7e0,#a80,#a40,#780,#5f0,#770,#950,#8f0,#890,#8a0,#6b0,#5f0,#940,#b70,#850,#640,#750,#7b0,#830,#aa0,#9c0,#570,#590,#a50,#af0,#700,#650,#8c0,#950,#7b0,#750,#8b0,#910,#770,#6f0,#8d0,#990,#7b0,#720,#810,#830,#8a0,#940,#750,#640,#9b0,#ab0,#5e0,#560,#b00,#bd0,#670,#550,#810,#930,#970,#9e0,#780,#530,#6c0,#a40,#af0,#8d0,#680,#5f0,#770,#940,#a40,#9f0,#720,#490,#6e0,#c10,#b30,#610,#540,#8c0,#ad0,#8c0,#610,#660,#960,#ab0,#8c0,#720,#610,#5d0,#9c0,#e40,#960,#320,#4f0,#ab0,#b00,#950,#8f0,#600,#440,#8c0,#d60,#a00,#5c0,#5a0,#7a0,#9d0,#a60,#7f0,#670,#7a0,#840,#820,#990,#970,#650,#5d0,#920,#ab0,#8d0,#720,#650,#6f0,#a00,#b40,#7a0,#510,#770,#ab0,#950,#6a0,#740,#960,#8c0,#710,#790,#8e0,#880,#800,#820,#7d0,#800,#8c0,#7c0,#6e0,#950,#a70,#6c0,#590,#970,#a50,#700,#760,#9e0,#7e0,#5e0,#8c0,#ac0,#790,#640,#8d0,#990,#750,#710,#8d0,#8f0,#7f0,#7d0,#7b0,#7a0,#920,#9b0,#710,#5a0,#8a0,#bb0,#920,#590,#5b0,#8e0,#b50,#9d0,#620,#570,#8c0,#aa0,#870,#700,#7d0,#810,#800,#8f0,#8e0,#740,#6d0,#850,#9c0,#940,#740,#620,#7b0,#9e0,#9a0,#800,#700,#6e0,#7f0,#990,#960)"></i><i style="background:linear-gradient(#ab0,#670,#530,#760,#a30,#a80,#7f0,#600,#720,#920,#900,#8a0,#8d0,#6f0,#5c0,#8b0,#b70,#8d0,#660,#730,#790,#7e0,#a70,#a40,#5e0,#530,#9c0,#b30,#770,#630,#880,#960,#7d0,#740,#880,#920,#7a0,#6d0,#890,#9a0,#7f0,#720,#7f0,#820,#880,#960,#790,#620,#940,#b00,#660,#500,#a60,#c30,#700,#540,#7b0,#8f0,#960,#a10,#800,#540,#650,#9c0,#b00,#940,#6d0,#5e0,#710,#8f0,#a30,#a40,#7b0,#4a0,#630,#b90,#bc0,#6a0,#520,#840,#ad0,#930,#650,#610,#8f0,#ab0,#920,#770,#630,#580,#8f0,#e40,#a80,#390,#460,#a00,#b00,#980,#950,#670,#410,#7e0,#d20,#ab0,#630,#590,#730,#980,#a80,#860,#680,#770,#830,#800,#970,#9c0,#6b0,#5a0,#8a0,#aa0,#930,#770,#650,#690,#980,#b80,#840,#520,#6f0,#a70,#9a0,#6d0,#710,#930,#8f0,#730,#770,#8c0,#890,#810,#830,#7d0,#7e0,#8c0,#7f0,#6c0,#900,#aa0,#730,#560,#8f0,#a80,#740,#720,#9d0,#840,#5d0,#850,#ad0,#7f0,#630,#890,#9b0,#780,#6f0,#8a0,#900,#810,#7e0,#7b0,#780,#8f0,#9e0,#770,#580,#810,#b90,#9c0,#5e0,#570,#850,#b30,#a50,#690,#550,#840,#aa0,#8c0,#720,#7c0,#800,#7f0,#8e0,#900,#770,#6c0,#810,#9a0,#980,#790,#620,#750,#9a0,#9d0,#840,#720,#6d0,#7b0,#960,#990,#830)"></i><i style="background:linear-gradient(#700,#520,#6f0,#9d0,#ab0,#860,#620,#6e0,#8f0,#900,#8b0,#900,#740,#590,#820,#b60,#950,#690,#720,#780,#7a0,#a30,#ac0,#660,#4f0,#920,#b50,#7e0,#630,#830,#960,#800,#730,#850,#930,#7e0,#6c0,#850,#9b0,#830,#720,#7e0,#810,#860,#970,#7e0,#600,#8d0,#b40,#6e0,#4b0,#9a0,#c80,#7a0,#540,#750,#8c0,#940,#a40,#880,#570,#5e0,#940,#b00,#9b0,#730,#5f0,#6c0,#890,#a00,#a90,#840,#4d0,#5a0,#af0,#c20,#740,#510,#7c0,#aa0,#9a0,#690,#5e0,#880,#aa0,#970,#7c0,#660,#540,#820,#e00,#b90,#430,#3e0,#930,#af0,#9b0,#9b0,#700,#400,#700,#cb0,#b50,#6c0,#580,#6d0,#920,#a90,#8c0,#6b0,#750,#810,#7e0,#940,#a10,#710,#580,#820,#a90,#980,#7c0,#670,#650,#900,#b90,#8d0,#550,#680,#a20,#9f0,#710,#6e0,#900,#920,#750,#740,#8a0,#8a0,#810,#830,#7e0,#7d0,#8c0,#810,#6b0,#8a0,#ad0,#7a0,#550,#870,#a90,#790,#700,#9c0,#890,#5d0,#7e0,#ac0,#860,#630,#840,#9c0,#7c0,#6e0,#870,#900,#830,#7f0,#7c0,#770,#8b0,#a00,#7d0,#570,#790,#b60,#a40,#650,#540,#7c0,#af0,#ac0,#710,#530,#7c0,#a80,#910,#740,#7b0,#800,#7d0,#8c0,#930,#7a0,#6b0,#7d0,#970,#9b0,#7e0,#630,#700,#960,#9e0,#880,#750,#6c0,#770,#920,#9a0,#870,#760)"></i><i style="background:linear-gradient(#540,#680,#970,#ac0,#8d0,#650,#6a0,#8b0,#8f0,#8b0,#930,#790,#590,#7a0,#b30,#9c0,#6d0,#710,#760,#750,#9e0,#b20,#6e0,#4c0,#890,#b60,#850,#630,#7f0,#960,#830,#730,#830,#940,#810,#6c0,#810,#9b0,#870,#730,#7d0,#800,#840,#980,#830,#5f0,#860,#b60,#770,#480,#8e0,#ca0,#850,#550,#700,#880,#910,#a50,#900,#5c0,#590,#8b0,#ae0,#a10,#7a0,#600,#680,#830,#9c0,#ab0,#8e0,#510,#520,#a40,#c70,#7e0,#510,#740,#a70,#9f0,#6f0,#5c0,#800,#a80,#9c0,#820,#6a0,#510,#750,#da0,#c90,#4e0,#380,#870,#ac0,#9c0,#a10,#7a0,#400,#640,#c20,#be0,#750,#590,#680,#8b0,#a80,#920,#6d0,#730,#800,#7b0,#910,#a40,#780,#570,#7a0,#a60,#9c0,#810,#690,#610,#880,#b80,#970,#590,#620,#9c0,#a30,#750,#6c0,#8d0,#940,#780,#730,#880,#8b0,#820,#840,#7f0,#7c0,#8b0,#840,#6b0,#850,#ae0,#830,#540,#7f0,#aa0,#7d0,#6d0,#9a0,#8f0,#5e0,#770,#ab0,#8c0,#630,#7f0,#9c0,#800,#6d0,#840,#910,#840,#7f0,#7c0,#750,#880,#a20,#840,#580,#700,#b10,#ac0,#6d0,#530,#730,#a90,#b10,#790,#530,#740,#a50,#950,#760,#7a0,#800,#7c0,#8a0,#940,#7e0,#6b0,#780,#940,#9d0,#840,#650,#6b0,#910,#9f0,#8d0,#780,#6c0,#730,#8e0,#9b0,#8b0,#7a0,#6a0)"></i><i style="background:linear-gradient(#620,#8f0,#ac0,#940,#690,#680,#870,#8f0,#8b0,#950,#7f0,#590,#710,#af0,#a20,#720,#710,#760,#710,#980,#b60,#780,#4b0,#7f0,#b50,#8c0,#640,#7b0,#950,#860,#730,#800,#940,#850,#6c0,#7d0,#9a0,#8a0,#740,#7b0,#7f0,#820,#970,#880,#600,#7e0,#b70,#810,#470,#830,#ca0,#900,#580,#6c0,#840,#8d0,#a50,#980,#610,#550,#820,#ab0,#a60,#810,#630,#650,#7e0,#980,#ad0,#970,#570,#4c0,#980,#c90,#890,#530,#6d0,#a20,#a40,#750,#5b0,#790,#a40,#a00,#870,#6f0,#500,#690,#d00,#d70,#5c0,#350,#7b0,#a70,#9d0,#a50,#840,#430,#580,#b80,#c40,#7e0,#5c0,#640,#850,#a70,#970,#710,#720,#7f0,#7a0,#8d0,#a70,#800,#570,#730,#a20,#9f0,#860,#6d0,#5f0,#800,#b60,#a00,#5e0,#5d0,#950,#a50,#7a0,#6b0,#8a0,#960,#7b0,#720,#850,#8b0,#830,#840,#800,#7b0,#8b0,#860,#6b0,#7f0,#ae0,#8b0,#550,#780,#a90,#820,#6b0,#970,#940,#610,#700,#a80,#920,#650,#7a0,#9c0,#840,#6d0,#810,#900,#860,#800,#7d0,#740,#840,#a20,#8a0,#5a0,#690,#ab0,#b20,#750,#530,#6c0,#a20,#b50,#830,#550,#6d0,#a00,#990,#790,#7a0,#800,#7b0,#880,#950,#820,#6b0,#740,#900,#9f0,#8a0,#670,#670,#8b0,#9f0,#900,#7c0,#6d0,#700,#8a0,#9b0,#8e0,#7d0,#6c0,#660)"></i><i style="background:linear-gradient(#880,#ab0,#9a0,#6e0,#650,#820,#8d0,#8b0,#960,#850,#5a0,#6a0,#a90,#a70,#770,#710,#750,#6e0,#920,#b90,#820,#4b0,#750,#b20,#930,#660,#770,#940,#890,#740,#7d0,#930,#880,#6d0,#790,#980,#8e0,#760,#7b0,#7e0,#800,#970,#8d0,#610,#770,#b60,#8b0,#470,#770,#c70,#9a0,#5c0,#680,#800,#8a0,#a40,#9f0,#680,#530,#790,#a60,#a90,#880,#660,#630,#780,#930,#ad0,#a00,#5f0,#470,#8b0,#c90,#940,#560,#660,#9c0,#a80,#7c0,#5b0,#720,#9f0,#a30,#8d0,#740,#500,#5e0,#c40,#e20,#6b0,#340,#700,#a20,#9c0,#a80,#8e0,#470,#4e0,#ab0,#c90,#890,#5f0,#610,#7e0,#a40,#9c0,#750,#720,#7e0,#780,#890,#a80,#880,#590,#6c0,#9c0,#a10,#8b0,#710,#5d0,#780,#b20,#a80,#650,#590,#8e0,#a70,#7f0,#6a0,#860,#970,#7e0,#710,#830,#8b0,#830,#840,#800,#7b0,#8a0,#890,#6b0,#790,#ac0,#930,#580,#710,#a70,#870,#6a0,#930,#990,#640,#6a0,#a40,#980,#670,#760,#9a0,#880,#6e0,#7e0,#900,#870,#810,#7e0,#740,#800,#a10,#910,#5d0,#620,#a30,#b70,#7e0,#540,#650,#9a0,#b70,#8c0,#580,#670,#9b0,#9b0,#7c0,#7a0,#7f0,#7a0,#850,#960,#860,#6d0,#710,#8c0,#9f0,#8f0,#6b0,#640,#850,#9e0,#940,#800,#6f0,#6d0,#850,#9a0,#920,#810,#6e0,#630,#8c0)"></i><i style="background:linear-gradient(#a80,#a00,#730,#640,#7e0,#8c0,#8a0,#970,#8b0,#5d0,#630,#a20,#ab0,#7d0,#720,#760,#6b0,#8a0,#ba0,#8c0,#4d0,#6d0,#ae0,#990,#690,#730,#920,#8b0,#750,#7b0,#920,#8b0,#6f0,#750,#960,#910,#780,#7a0,#7e0,#7e0,#950,#920,#630,#700,#b40,#950,#490,#6c0,#c30,#a40,#610,#650,#7c0,#850,#a20,#a60,#700,#520,#710,#a00,#ac0,#8f0,#6b0,#610,#730,#8d0,#ab0,#a80,#680,#440,#7f0,#c70,#9e0,#5b0,#610,#960,#aa0,#830,#5c0,#6c0,#9a0,#a40,#920,#7b0,#520,#540,#b60,#eb0,#7c0,#360,#650,#9b0,#9b0,#aa0,#990,#4e0,#460,#9e0,#ca0,#920,#640,#5f0,#770,#a00,#a00,#7a0,#710,#7d0,#760,#840,#a80,#8f0,#5b0,#660,#970,#a20,#900,#760,#5d0,#700,#ac0,#af0,#6c0,#560,#870,#a70,#840,#6a0,#820,#980,#810,#710,#810,#8a0,#840,#850,#810,#7a0,#880,#8b0,#6d0,#730,#a90,#9b0,#5b0,#6a0,#a30,#8c0,#6a0,#8f0,#9e0,#680,#650,#9f0,#9d0,#6b0,#720,#990,#8c0,#6f0,#7b0,#8e0,#880,#820,#800,#730,#7c0,#9f0,#980,#610,#5c0,#9a0,#ba0,#880,#570,#5f0,#920,#b80,#950,#5c0,#620,#950,#9d0,#7f0,#7a0,#800,#790,#830,#960,#8a0,#6f0,#6e0,#880,#9f0,#940,#6f0,#620,#7f0,#9b0,#960,#840,#710,#6b0,#810,#980,#940,#850,#710,#600,#830,#c40)"></i><i style="background:linear-gradient(#a40,#790,#640,#7a0,#8a0,#880,#970,#910,#610,#5d0,#9a0,#ae0,#830,#740,#760,#690,#830,#b90,#970,#510,#650,#a90,#9f0,#6d0,#700,#900,#8d0,#760,#790,#910,#8e0,#710,#720,#930,#930,#7a0,#7a0,#7d0,#7b0,#930,#960,#670,#6a0,#b00,#9f0,#4d0,#620,#bc0,#ad0,#670,#640,#790,#810,#9f0,#ab0,#780,#520,#6a0,#9a0,#ad0,#960,#700,#610,#6e0,#870,#a80,#af0,#720,#430,#730,#c20,#a70,#610,#5d0,#8f0,#ab0,#8a0,#5f0,#660,#940,#a40,#970,#810,#560,#4c0,#a60,#f00,#8d0,#390,#5c0,#940,#980,#aa0,#a30,#560,#400,#900,#ca0,#9c0,#6a0,#5e0,#710,#9b0,#a30,#7e0,#720,#7d0,#750,#800,#a70,#970,#600,#610,#900,#a20,#940,#7b0,#5e0,#690,#a60,#b50,#750,#550,#7f0,#a60,#8a0,#6b0,#7e0,#970,#850,#710,#7e0,#8a0,#840,#850,#830,#7a0,#870,#8e0,#6f0,#6e0,#a50,#a20,#600,#640,#9f0,#910,#6a0,#8b0,#a10,#6d0,#610,#990,#a10,#6f0,#6e0,#960,#8f0,#710,#780,#8d0,#890,#830,#810,#740,#780,#9d0,#9d0,#670,#570,#910,#bb0,#910,#5c0,#5a0,#890,#b60,#9e0,#610,#5d0,#8f0,#9f0,#820,#7a0,#800,#790,#800,#950,#8d0,#710,#6c0,#830,#9d0,#990,#740,#610,#7a0,#980,#980,#880,#740,#6a0,#7c0,#960,#960,#880,#740,#5f0,#7a0,#c10,#ab0)"></i><i style="background:linear-gradient(#7f0,#650,#770,#880,#870,#970,#970,#660,#580,#910,#af0,#880,#760,#780,#680,#7b0,#b60,#a00,#560,#5e0,#a30,#a40,#710,#6e0,#8d0,#8f0,#780,#770,#8f0,#910,#730,#6f0,#8f0,#950,#7d0,#7a0,#7d0,#7a0,#900,#9a0,#6b0,#650,#ab0,#a80,#530,#590,#b40,#b50,#6e0,#630,#750,#7d0,#9a0,#af0,#810,#540,#630,#920,#ac0,#9c0,#760,#620,#6a0,#800,#a40,#b40,#7c0,#440,#680,#bb0,#b00,#680,#5a0,#880,#ab0,#910,#630,#620,#8d0,#a40,#9b0,#890,#5b0,#450,#960,#f10,#9f0,#3f0,#550,#8d0,#940,#a90,#ac0,#600,#3c0,#820,#c70,#a50,#700,#5f0,#6c0,#950,#a50,#830,#730,#7d0,#750,#7b0,#a40,#9e0,#650,#5d0,#890,#a10,#980,#810,#600,#630,#9e0,#b90,#7d0,#550,#780,#a40,#8e0,#6c0,#7a0,#960,#880,#720,#7c0,#890,#840,#850,#840,#7a0,#850,#900,#710,#6a0,#a00,#a90,#660,#600,#9a0,#950,#6a0,#860,#a40,#730,#5e0,#930,#a50,#730,#6b0,#930,#920,#730,#760,#8b0,#8a0,#840,#830,#750,#750,#990,#a20,#6d0,#540,#880,#bb0,#9a0,#610,#560,#800,#b30,#a50,#680,#5a0,#890,#9f0,#850,#7b0,#800,#790,#7d0,#940,#910,#750,#6b0,#7e0,#9b0,#9d0,#7a0,#610,#740,#950,#9a0,#8b0,#770,#6a0,#780,#930,#970,#8c0,#790,#5e0,#710,#bc0,#b70,#500)"></i><i style="background:linear-gradient(#670,#740,#860,#850,#960,#9c0,#6c0,#550,#890,#af0,#8e0,#780,#790,#670,#740,#b20,#aa0,#5c0,#580,#9b0,#a70,#760,#6c0,#8a0,#910,#7a0,#750,#8c0,#930,#770,#6d0,#8c0,#970,#800,#7a0,#7d0,#780,#8d0,#9d0,#700,#600,#a40,#b00,#590,#510,#aa0,#bb0,#760,#630,#730,#790,#950,#b10,#8a0,#580,#5e0,#8a0,#aa0,#a10,#7d0,#640,#670,#7a0,#9e0,#b80,#870,#470,#5e0,#b30,#b70,#6f0,#580,#800,#a90,#980,#670,#5e0,#860,#a20,#9e0,#900,#610,#410,#850,#ee0,#b10,#470,#4f0,#850,#900,#a70,#b50,#6b0,#3a0,#750,#c10,#ac0,#780,#600,#670,#8f0,#a60,#880,#740,#7d0,#750,#770,#a10,#a40,#6b0,#5b0,#820,#9f0,#9b0,#870,#630,#5e0,#950,#bb0,#870,#560,#710,#a10,#930,#6e0,#770,#950,#8b0,#730,#7a0,#880,#850,#850,#850,#7a0,#830,#910,#750,#660,#9a0,#ae0,#6d0,#5c0,#950,#980,#6c0,#810,#a60,#790,#5c0,#8c0,#a70,#780,#690,#8f0,#950,#750,#740,#890,#8b0,#850,#840,#760,#710,#950,#a70,#740,#520,#7e0,#b80,#a30,#680,#540,#770,#ae0,#ac0,#6f0,#580,#820,#9e0,#880,#7c0,#810,#790,#7b0,#920,#940,#780,#6a0,#7a0,#970,#a00,#800,#620,#700,#900,#9a0,#8f0,#7b0,#6a0,#740,#8f0,#980,#8f0,#7d0,#5f0,#690,#b40,#c10,#5b0,#370)"></i><i style="background:linear-gradient(#710,#830,#830,#940,#a00,#730,#530,#800,#ad0,#930,#7b0,#7b0,#680,#6e0,#ac0,#b20,#640,#540,#930,#aa0,#7b0,#6b0,#870,#920,#7d0,#740,#890,#950,#7a0,#6b0,#870,#970,#820,#7a0,#7d0,#760,#8a0,#9f0,#750,#5c0,#9c0,#b70,#620,#4b0,#9f0,#bf0,#7f0,#640,#710,#750,#8f0,#b20,#940,#5c0,#5a0,#820,#a60,#a60,#840,#670,#650,#740,#980,#ba0,#930,#4b0,#550,#a90,#bc0,#780,#570,#790,#a70,#9e0,#6d0,#5c0,#7f0,#9f0,#a00,#960,#690,#3e0,#750,#e70,#c10,#500,#4b0,#7e0,#8b0,#a30,#bb0,#770,#3a0,#690,#ba0,#b20,#7f0,#630,#640,#880,#a50,#8d0,#760,#7d0,#750,#730,#9c0,#a90,#720,#590,#7c0,#9c0,#9d0,#8c0,#670,#5a0,#8c0,#bb0,#900,#590,#6b0,#9d0,#970,#710,#740,#930,#8e0,#750,#780,#870,#850,#850,#860,#7b0,#820,#920,#780,#630,#930,#b20,#740,#5a0,#8f0,#9b0,#6e0,#7c0,#a60,#800,#5a0,#850,#a80,#7e0,#680,#8b0,#970,#780,#720,#870,#8b0,#860,#860,#780,#6f0,#900,#a90,#7c0,#520,#750,#b40,#aa0,#700,#540,#6f0,#a80,#b20,#770,#580,#7b0,#9d0,#8b0,#7d0,#810,#790,#780,#8f0,#960,#7c0,#6a0,#750,#930,#a20,#860,#650,#6c0,#8c0,#9a0,#920,#7f0,#6b0,#700,#8b0,#970,#920,#820,#610,#620,#ac0,#c90,#680,#340,#860)"></i><i style="background:linear-gradient(#810,#810,#910,#a30,#7a0,#530,#770,#aa0,#970,#7e0,#7e0,#690,#670,#a50,#b80,#6d0,#510,#8b0,#ab0,#800,#6a0,#840,#920,#7f0,#730,#860,#960,#7e0,#6a0,#830,#970,#850,#7b0,#7e0,#750,#860,#a10,#7b0,#5a0,#940,#bc0,#6b0,#470,#930,#c10,#870,#670,#700,#720,#890,#b20,#9c0,#620,#570,#7a0,#a10,#a90,#8b0,#6b0,#640,#6f0,#910,#ba0,#9e0,#520,#4e0,#9e0,#c00,#810,#580,#720,#a20,#a30,#730,#5b0,#780,#9a0,#a10,#9c0,#720,#3d0,#660,#de0,#d00,#5c0,#480,#770,#860,#9e0,#c00,#840,#3d0,#5d0,#b10,#b70,#870,#660,#610,#810,#a40,#910,#780,#7d0,#760,#6f0,#970,#ad0,#7a0,#590,#750,#980,#9f0,#920,#6c0,#570,#820,#ba0,#990,#5d0,#660,#980,#9a0,#740,#710,#900,#910,#770,#770,#860,#850,#850,#860,#7b0,#800,#930,#7c0,#610,#8c0,#b40,#7d0,#580,#890,#9e0,#700,#780,#a60,#870,#5b0,#7e0,#a80,#830,#670,#870,#990,#7c0,#710,#840,#8b0,#860,#870,#7a0,#6d0,#8a0,#ab0,#840,#530,#6c0,#ad0,#b00,#780,#550,#670,#a10,#b60,#800,#580,#750,#9a0,#8d0,#7e0,#820,#7a0,#760,#8d0,#980,#810,#6b0,#720,#8f0,#a30,#8c0,#680,#680,#870,#980,#940,#830,#6d0,#6d0,#870,#960,#940,#870,#640,#5c0,#a10,#cf0,#750,#320,#770,#df0)"></i><i style="background:linear-gradient(#7f0,#8e0,#a60,#820,#540,#6f0,#a60,#9b0,#810,#800,#6b0,#620,#9d0,#bd0,#760,#4f0,#830,#ab0,#860,#6b0,#800,#930,#820,#720,#830,#970,#820,#6a0,#7f0,#970,#880,#7c0,#7e0,#750,#820,#a10,#810,#580,#8b0,#bf0,#750,#440,#880,#c10,#8f0,#6a0,#6f0,#6f0,#820,#af0,#a40,#6a0,#550,#730,#9c0,#aa0,#910,#6f0,#640,#6a0,#890,#b90,#a80,#590,#480,#920,#c10,#8a0,#5a0,#6c0,#9d0,#a70,#7a0,#5b0,#720,#960,#a10,#a20,#7b0,#3f0,#580,#d10,#dc0,#690,#470,#700,#810,#980,#c30,#910,#410,#530,#a60,#ba0,#8f0,#6b0,#5f0,#7b0,#a10,#950,#7b0,#7e0,#770,#6c0,#910,#af0,#820,#5a0,#6f0,#930,#9f0,#970,#720,#550,#790,#b60,#a10,#620,#620,#930,#9d0,#770,#6f0,#8d0,#930,#7a0,#760,#840,#840,#840,#870,#7c0,#7e0,#930,#810,#600,#840,#b50,#850,#580,#820,#9f0,#730,#740,#a40,#8e0,#5c0,#770,#a70,#890,#670,#830,#990,#7f0,#710,#820,#8a0,#870,#880,#7c0,#6c0,#850,#ac0,#8c0,#550,#640,#a60,#b50,#810,#570,#610,#980,#b80,#890,#5a0,#700,#970,#900,#7f0,#820,#7b0,#750,#890,#990,#850,#6c0,#6e0,#8a0,#a30,#920,#6b0,#660,#820,#960,#960,#870,#700,#6b0,#820,#940,#960,#8c0,#680,#570,#960,#d30,#840,#330,#680,#d80,#bd0)"></i><i style="background:linear-gradient(#8a0,#a70,#8a0,#560,#680,#a00,#9e0,#840,#830,#6e0,#5e0,#940,#c00,#800,#4f0,#7a0,#aa0,#8b0,#6c0,#7d0,#920,#840,#720,#800,#970,#860,#6b0,#7b0,#960,#8a0,#7d0,#7f0,#750,#7e0,#a10,#880,#580,#820,#c10,#800,#440,#7c0,#bf0,#970,#6e0,#6f0,#6d0,#7c0,#ab0,#ab0,#720,#550,#6c0,#950,#aa0,#970,#750,#650,#670,#810,#b50,#b20,#630,#450,#870,#c00,#930,#5d0,#670,#970,#aa0,#810,#5c0,#6c0,#900,#9f0,#a60,#860,#420,#4c0,#c20,#e50,#770,#480,#6b0,#7c0,#910,#c30,#9f0,#470,#4b0,#9b0,#ba0,#960,#700,#5e0,#740,#9d0,#980,#7d0,#7f0,#780,#6a0,#8a0,#b00,#8a0,#5c0,#6a0,#8e0,#9e0,#9b0,#790,#550,#700,#b10,#a90,#690,#5e0,#8d0,#9f0,#7b0,#6e0,#8a0,#950,#7c0,#750,#830,#840,#840,#880,#7d0,#7c0,#930,#850,#600,#7d0,#b40,#8d0,#590,#7c0,#9f0,#770,#700,#a20,#950,#5e0,#710,#a40,#8e0,#680,#7e0,#9a0,#830,#710,#7f0,#890,#870,#890,#7e0,#6b0,#7f0,#ab0,#940,#590,#5e0,#9e0,#b80,#8a0,#5a0,#5c0,#8f0,#b80,#910,#5e0,#6b0,#930,#910,#810,#830,#7d0,#740,#860,#990,#890,#6f0,#6c0,#850,#a10,#970,#700,#640,#7d0,#940,#970,#8b0,#730,#6a0,#7e0,#920,#970,#900,#6d0,#540,#8b0,#d40,#930,#360,#5a0,#ce0,#c80,#620)"></i><i style="background:linear-gradient(#a70,#920,#5a0,#610,#9a0,#9f0,#870,#860,#710,#5b0,#8a0,#c10,#8b0,#510,#730,#a70,#900,#6d0,#7a0,#910,#870,#730,#7d0,#960,#8a0,#6c0,#770,#940,#8c0,#7f0,#800,#750,#7a0,#a00,#8e0,#590,#7a0,#c10,#8c0,#450,#710,#bb0,#9f0,#720,#700,#6b0,#750,#a60,#b10,#7a0,#560,#660,#8e0,#a90,#9d0,#7b0,#660,#640,#790,#af0,#ba0,#6d0,#430,#7b0,#be0,#9c0,#620,#620,#910,#ac0,#890,#5f0,#670,#8a0,#9d0,#a90,#900,#470,#420,#b10,#eb0,#860,#4b0,#660,#770,#8a0,#c20,#ac0,#4f0,#450,#8f0,#b90,#9d0,#760,#5f0,#6f0,#990,#9a0,#800,#800,#7a0,#680,#840,#b00,#920,#5f0,#660,#890,#9c0,#9f0,#800,#570,#680,#ab0,#af0,#700,#5c0,#870,#a00,#7f0,#6d0,#870,#960,#7f0,#750,#810,#840,#830,#880,#7e0,#7b0,#920,#8a0,#610,#750,#b10,#960,#5c0,#760,#9f0,#7b0,#6c0,#9e0,#9b0,#620,#6b0,#a10,#930,#6a0,#7a0,#990,#860,#710,#7d0,#890,#870,#8a0,#810,#6b0,#7a0,#a80,#9c0,#5e0,#580,#940,#b90,#930,#5f0,#570,#860,#b70,#9a0,#620,#670,#8f0,#920,#820,#840,#7e0,#730,#820,#990,#8d0,#720,#6a0,#7f0,#9f0,#9c0,#750,#640,#780,#900,#980,#8f0,#770,#690,#7a0,#8f0,#970,#950,#730,#520,#7f0,#d30,#a20,#3c0,#4e0,#c10,#d20,#6e0,#430)"></i><i style="background:linear-gradient(#9a0,#5e0,#5c0,#930,#a00,#890,#890,#760,#590,#810,#c00,#950,#540,#6b0,#a40,#950,#6f0,#770,#900,#8a0,#740,#7a0,#950,#8e0,#6e0,#740,#910,#8e0,#800,#810,#750,#770,#9d0,#940,#5b0,#710,#be0,#970,#470,#670,#b50,#a50,#770,#710,#6a0,#700,#a00,#b50,#830,#590,#610,#870,#a70,#a10,#810,#690,#620,#720,#a90,#c00,#790,#430,#700,#b90,#a40,#670,#5f0,#8a0,#ac0,#900,#620,#630,#840,#9a0,#ab0,#9a0,#4f0,#3a0,#9f0,#ee0,#950,#500,#630,#730,#820,#be0,#b80,#590,#400,#830,#b60,#a30,#7d0,#610,#6a0,#940,#9c0,#830,#810,#7d0,#670,#7d0,#ae0,#9a0,#640,#630,#830,#990,#a20,#870,#590,#610,#a30,#b40,#770,#5b0,#810,#a00,#830,#6d0,#830,#960,#820,#750,#800,#840,#830,#890,#800,#790,#910,#8e0,#630,#6e0,#ae0,#9d0,#5f0,#710,#9e0,#7f0,#6a0,#9a0,#a00,#660,#660,#9d0,#970,#6c0,#760,#980,#8a0,#720,#7b0,#870,#870,#8b0,#840,#6c0,#740,#a50,#a30,#650,#540,#8b0,#b90,#9c0,#650,#550,#7d0,#b40,#a10,#670,#640,#8b0,#930,#830,#840,#800,#720,#7f0,#980,#910,#750,#690,#7a0,#9c0,#a00,#7b0,#640,#740,#8d0,#970,#930,#7b0,#690,#760,#8c0,#960,#980,#790,#510,#740,#ce0,#b00,#430,#440,#b30,#d90,#7b0,#440,#670)"></i><i style="background:linear-gradient(#650,#580,#8c0,#a00,#8c0,#8b0,#7a0,#580,#770,#bd0,#9f0,#580,#650,#9f0,#990,#720,#750,#8e0,#8c0,#750,#780,#930,#910,#710,#710,#8e0,#8f0,#810,#820,#760,#730,#9a0,#9a0,#5f0,#690,#ba0,#a20,#4c0,#5e0,#ae0,#aa0,#7c0,#730,#6b0,#6a0,#980,#b80,#8d0,#5d0,#5d0,#7f0,#a30,#a50,#870,#6d0,#610,#6b0,#a00,#c40,#850,#450,#660,#b20,#ab0,#6d0,#5d0,#830,#ab0,#970,#670,#610,#7e0,#960,#ab0,#a40,#580,#340,#8d0,#ec0,#a40,#560,#600,#6f0,#7a0,#b80,#c20,#650,#3e0,#780,#b10,#a80,#840,#630,#650,#8e0,#9c0,#850,#820,#7f0,#670,#760,#ab0,#a10,#690,#600,#7d0,#960,#a30,#8f0,#5d0,#5b0,#9a0,#b70,#7f0,#5b0,#7b0,#9f0,#880,#6d0,#7f0,#960,#850,#760,#7f0,#830,#820,#890,#810,#780,#8f0,#920,#660,#680,#a80,#a40,#640,#6c0,#9c0,#830,#680,#940,#a50,#6c0,#620,#980,#9b0,#6f0,#730,#960,#8d0,#740,#790,#860,#860,#8b0,#870,#6d0,#700,#a00,#a90,#6c0,#510,#810,#b60,#a40,#6d0,#530,#740,#af0,#a80,#6d0,#610,#860,#930,#840,#850,#820,#720,#7b0,#960,#940,#790,#680,#760,#980,#a30,#810,#650,#700,#890,#960,#950,#7f0,#6a0,#730,#880,#950,#9b0,#800,#520,#6a0,#c70,#bd0,#4d0,#3c0,#a40,#dd0,#890,#470,#5f0,#9c0)"></i><i style="background:linear-gradient(#550,#840,#9f0,#8e0,#8e0,#800,#590,#6e0,#b80,#a80,#5d0,#600,#990,#9c0,#750,#730,#8c0,#8e0,#770,#750,#900,#940,#740,#6e0,#8b0,#900,#830,#830,#780,#710,#960,#9f0,#630,#620,#b40,#ac0,#520,#560,#a50,#ae0,#820,#760,#6c0,#660,#900,#b90,#960,#620,#5b0,#780,#9e0,#a70,#8d0,#720,#610,#650,#970,#c60,#910,#480,#5d0,#ab0,#b00,#740,#5c0,#7c0,#a80,#9e0,#6c0,#5f0,#790,#910,#aa0,#ad0,#630,#310,#7b0,#e70,#b20,#5d0,#5f0,#6c0,#730,#b00,#ca0,#720,#3e0,#6d0,#ab0,#ab0,#8a0,#670,#620,#880,#9c0,#880,#830,#820,#680,#700,#a60,#a70,#700,#5f0,#780,#920,#a40,#960,#620,#560,#910,#b90,#880,#5c0,#760,#9d0,#8c0,#6e0,#7c0,#950,#880,#770,#7e0,#830,#820,#880,#820,#770,#8d0,#960,#6a0,#630,#a20,#aa0,#690,#680,#9a0,#870,#660,#8f0,#a80,#720,#5f0,#920,#9e0,#720,#700,#930,#900,#760,#780,#850,#860,#8b0,#8a0,#6f0,#6b0,#9b0,#ae0,#740,#500,#780,#b20,#aa0,#750,#530,#6c0,#a90,#ae0,#740,#600,#810,#920,#850,#850,#840,#730,#780,#930,#970,#7d0,#690,#710,#930,#a50,#870,#670,#6d0,#840,#950,#980,#840,#6c0,#700,#840,#930,#9d0,#870,#540,#600,#be0,#c90,#580,#360,#940,#de0,#970,#4b0,#580,#930,#ac0)"></i><i style="background:linear-gradient(#7d0,#9d0,#8f0,#900,#850,#5b0,#660,#b10,#b00,#640,#5c0,#930,#9f0,#790,#710,#8a0,#8f0,#790,#730,#8e0,#970,#770,#6d0,#880,#910,#840,#840,#7a0,#6e0,#920,#a40,#690,#5c0,#ac0,#b60,#5a0,#4f0,#9c0,#b00,#880,#790,#6d0,#620,#880,#b70,#9e0,#690,#590,#710,#980,#a80,#930,#770,#630,#600,#8d0,#c60,#9d0,#4e0,#550,#a20,#b40,#7c0,#5c0,#750,#a50,#a30,#730,#5e0,#730,#8b0,#a80,#b50,#6f0,#2f0,#6b0,#df0,#bf0,#660,#5f0,#6a0,#6c0,#a70,#d00,#7f0,#3f0,#630,#a30,#ad0,#910,#6c0,#600,#820,#9b0,#8a0,#850,#850,#6a0,#6b0,#a00,#ac0,#770,#5f0,#730,#8d0,#a30,#9c0,#690,#530,#870,#b80,#900,#5f0,#710,#9a0,#8f0,#6f0,#790,#940,#8b0,#780,#7d0,#820,#810,#880,#840,#770,#8a0,#990,#6e0,#5f0,#9b0,#af0,#6f0,#650,#960,#8b0,#660,#890,#ab0,#780,#5d0,#8c0,#a10,#760,#6e0,#900,#930,#780,#770,#830,#850,#8b0,#8c0,#720,#680,#940,#b20,#7d0,#500,#6f0,#ac0,#b00,#7d0,#550,#650,#a10,#b20,#7b0,#600,#7d0,#910,#860,#860,#850,#740,#750,#900,#990,#820,#6a0,#6d0,#8e0,#a50,#8d0,#6a0,#6b0,#800,#920,#990,#880,#6e0,#6e0,#810,#900,#9f0,#8e0,#580,#580,#b40,#d30,#650,#320,#840,#dc0,#a40,#520,#530,#8a0,#aa0,#9a0)"></i><i style="background:linear-gradient(#9a0,#900,#910,#8b0,#5e0,#5f0,#a90,#b70,#6c0,#590,#8d0,#a00,#7d0,#700,#870,#900,#7c0,#720,#8a0,#980,#7b0,#6c0,#840,#910,#850,#850,#7c0,#6c0,#8d0,#a70,#6f0,#570,#a40,#bd0,#630,#4a0,#920,#b10,#8d0,#7c0,#700,#600,#7f0,#b40,#a60,#700,#590,#6b0,#920,#a80,#980,#7c0,#650,#5c0,#830,#c40,#a90,#550,#4f0,#980,#b70,#840,#5d0,#6f0,#a00,#a80,#790,#5e0,#6f0,#860,#a40,#bb0,#7c0,#310,#5b0,#d40,#ca0,#700,#600,#680,#660,#9c0,#d40,#8e0,#430,#5b0,#9b0,#ad0,#970,#710,#5f0,#7c0,#990,#8c0,#860,#880,#6c0,#660,#9a0,#b00,#7e0,#600,#6f0,#880,#a10,#a20,#700,#510,#7e0,#b60,#980,#620,#6c0,#970,#930,#710,#760,#920,#8d0,#790,#7c0,#820,#800,#880,#850,#770,#880,#9b0,#740,#5b0,#930,#b20,#760,#620,#930,#8f0,#660,#830,#ac0,#7f0,#5c0,#860,#a20,#7b0,#6c0,#8c0,#950,#7b0,#760,#820,#840,#8a0,#8f0,#750,#650,#8d0,#b40,#860,#520,#670,#a50,#b40,#860,#580,#5e0,#990,#b50,#830,#610,#790,#8f0,#870,#860,#870,#760,#730,#8d0,#9a0,#860,#6c0,#6a0,#880,#a50,#930,#6e0,#690,#7c0,#8f0,#9a0,#8d0,#710,#6c0,#7d0,#8d0,#9f0,#950,#5d0,#500,#a70,#da0,#740,#310,#750,#d70,#b10,#5a0,#4f0,#820,#a70,#9d0,#890)"></i><i style="background:linear-gradient(#900,#920,#900,#620,#590,#a00,#bc0,#750,#570,#860,#a10,#810,#700,#840,#910,#7e0,#710,#870,#9a0,#7f0,#6b0,#810,#900,#860,#860,#7e0,#6b0,#870,#a90,#760,#540,#9a0,#c30,#6d0,#470,#870,#b00,#920,#800,#730,#5e0,#770,#b00,#ad0,#780,#5b0,#660,#8b0,#a60,#9d0,#820,#690,#5a0,#7a0,#bf0,#b40,#5d0,#4a0,#8e0,#b70,#8c0,#5f0,#6a0,#9a0,#ab0,#810,#600,#6b0,#800,#9f0,#c00,#8a0,#340,#4d0,#c60,#d20,#7a0,#630,#680,#600,#910,#d40,#9c0,#480,#540,#920,#ac0,#9d0,#770,#5f0,#770,#970,#8e0,#860,#8b0,#6f0,#620,#920,#b20,#860,#620,#6b0,#830,#9e0,#a70,#780,#510,#750,#b30,#9f0,#670,#680,#930,#960,#740,#730,#8f0,#8f0,#7b0,#7c0,#820,#800,#870,#860,#770,#850,#9d0,#790,#590,#8a0,#b40,#7d0,#610,#8e0,#920,#670,#7d0,#ac0,#870,#5c0,#800,#a20,#7f0,#6b0,#890,#960,#7e0,#750,#800,#830,#890,#910,#790,#630,#860,#b40,#8f0,#550,#600,#9c0,#b60,#8f0,#5c0,#590,#900,#b50,#8b0,#630,#750,#8e0,#870,#860,#890,#780,#710,#890,#9b0,#8b0,#6f0,#680,#820,#a30,#980,#730,#680,#780,#8c0,#990,#910,#750,#6b0,#790,#8a0,#9e0,#9b0,#630,#4b0,#9a0,#de0,#830,#320,#660,#cf0,#bc0,#630,#4c0,#790,#a30,#a00,#8e0,#790)"></i><i style="background:linear-gradient(#920,#950,#670,#540,#960,#bf0,#7e0,#560,#800,#a10,#850,#700,#820,#920,#810,#700,#830,#9a0,#830,#6b0,#7d0,#8f0,#870,#870,#810,#6b0,#820,#aa0,#7d0,#510,#900,#c70,#780,#460,#7d0,#ae0,#960,#840,#770,#5e0,#6f0,#a90,#b20,#800,#5d0,#620,#840,#a30,#a00,#880,#6d0,#580,#700,#b80,#bd0,#670,#480,#830,#b60,#930,#620,#650,#930,#ad0,#880,#630,#670,#7a0,#980,#c20,#990,#3a0,#420,#b70,#d80,#850,#660,#690,#5c0,#860,#d20,#aa0,#500,#4e0,#880,#aa0,#a20,#7e0,#600,#720,#940,#8f0,#870,#8d0,#730,#5f0,#8a0,#b20,#8d0,#650,#680,#7d0,#9a0,#aa0,#800,#520,#6c0,#ad0,#a60,#6c0,#650,#8e0,#980,#770,#710,#8c0,#910,#7d0,#7b0,#810,#7f0,#860,#880,#770,#820,#9e0,#7f0,#580,#820,#b40,#850,#600,#8a0,#960,#690,#770,#ab0,#8e0,#5d0,#7a0,#a20,#840,#6a0,#850,#970,#810,#750,#7f0,#820,#880,#920,#7d0,#620,#7f0,#b30,#980,#590,#5a0,#940,#b70,#970,#620,#550,#870,#b50,#920,#650,#710,#8b0,#880,#860,#8a0,#7a0,#6f0,#850,#9b0,#8f0,#730,#660,#7c0,#a00,#9d0,#780,#680,#750,#880,#990,#950,#790,#6b0,#760,#860,#9d0,#a10,#6a0,#470,#8c0,#df0,#930,#350,#590,#c50,#c60,#6e0,#4c0,#710,#9e0,#a10,#920,#7f0,#5b0)"></i><i style="background:linear-gradient(#9a0,#6e0,#510,#8b0,#c00,#870,#570,#790,#a00,#890,#710,#7f0,#910,#840,#700,#7f0,#9a0,#880,#6c0,#7a0,#8e0,#880,#880,#830,#6b0,#7c0,#aa0,#850,#510,#850,#c90,#840,#460,#740,#aa0,#9a0,#870,#7b0,#5f0,#680,#a20,#b60,#890,#610,#5f0,#7d0,#9f0,#a30,#8e0,#720,#580,#670,#af0,#c40,#730,#460,#790,#b40,#9a0,#670,#610,#8c0,#ae0,#8f0,#660,#650,#750,#910,#c20,#a70,#420,#380,#a60,#db0,#900,#6a0,#6a0,#590,#7a0,#cd0,#b70,#590,#4a0,#7f0,#a60,#a50,#850,#620,#6d0,#900,#8f0,#870,#900,#770,#5d0,#820,#b10,#950,#690,#660,#780,#960,#ad0,#890,#540,#640,#a70,#ab0,#720,#630,#8a0,#990,#7a0,#6f0,#890,#920,#7f0,#7b0,#810,#7f0,#850,#890,#780,#7e0,#9e0,#860,#580,#790,#b30,#8c0,#610,#850,#980,#6b0,#710,#a80,#950,#600,#740,#a00,#890,#6a0,#810,#970,#840,#760,#7e0,#810,#870,#930,#810,#620,#780,#b00,#a10,#5f0,#550,#8a0,#b50,#a00,#690,#530,#7e0,#b20,#990,#690,#6e0,#890,#880,#860,#8c0,#7c0,#6e0,#810,#990,#930,#770,#660,#770,#9d0,#a00,#7d0,#690,#720,#840,#970,#980,#7d0,#6c0,#730,#820,#9a0,#a60,#730,#450,#7f0,#de0,#a30,#3b0,#4d0,#b90,#cd0,#790,#4d0,#690,#970,#a10,#960,#850,#5f0,#4f0)"></i><i style="background:linear-gradient(#750,#4f0,#810,#c00,#910,#590,#730,#9d0,#8c0,#720,#7c0,#910,#870,#710,#7c0,#990,#8c0,#6e0,#770,#8c0,#880,#890,#860,#6c0,#770,#a90,#8d0,#510,#7b0,#c80,#900,#480,#6b0,#a50,#9c0,#8b0,#800,#600,#620,#9a0,#b70,#910,#660,#5d0,#760,#9a0,#a40,#930,#780,#590,#600,#a60,#c90,#7e0,#470,#700,#af0,#a10,#6c0,#5e0,#850,#ad0,#960,#6b0,#640,#700,#8a0,#c00,#b40,#4d0,#310,#950,#da0,#9a0,#700,#6d0,#580,#6f0,#c60,#c20,#630,#480,#760,#a10,#a70,#8b0,#650,#690,#8c0,#8f0,#880,#910,#7c0,#5d0,#7b0,#af0,#9c0,#6e0,#650,#740,#900,#ae0,#920,#580,#5d0,#9f0,#af0,#790,#620,#850,#9a0,#7e0,#6e0,#860,#930,#810,#7b0,#810,#7e0,#840,#8a0,#790,#7b0,#9e0,#8c0,#5a0,#720,#b00,#930,#620,#810,#9a0,#6f0,#6c0,#a40,#9b0,#630,#6f0,#9e0,#8d0,#6b0,#7d0,#960,#870,#770,#7d0,#800,#850,#940,#860,#630,#710,#ab0,#a80,#660,#520,#810,#b20,#a70,#700,#520,#750,#ae0,#a00,#6d0,#6c0,#860,#870,#850,#8d0,#7f0,#6e0,#7d0,#970,#960,#7b0,#660,#720,#980,#a30,#830,#6b0,#6f0,#800,#940,#9a0,#820,#6d0,#710,#7e0,#970,#aa0,#7c0,#450,#710,#d90,#b30,#420,#440,#ab0,#d20,#850,#4f0,#630,#910,#a10,#990,#8c0,#640,#4b0,#830)"></i><i style="background:linear-gradient(#4f0,#770,#bd0,#9a0,#5c0,#6e0,#9a0,#900,#730,#7a0,#900,#890,#720,#790,#970,#900,#700,#740,#8a0,#880,#890,#890,#6e0,#720,#a60,#950,#530,#710,#c50,#9c0,#4c0,#630,#9f0,#9e0,#8e0,#850,#640,#5d0,#910,#b80,#990,#6c0,#5c0,#700,#950,#a40,#980,#7e0,#5c0,#590,#9b0,#cc0,#8b0,#490,#670,#a90,#a60,#720,#5d0,#7e0,#ab0,#9d0,#700,#640,#6c0,#820,#bc0,#c00,#590,#2c0,#830,#d70,#a40,#750,#700,#570,#650,#bd0,#cc0,#6f0,#480,#6e0,#9b0,#a90,#920,#690,#660,#880,#8f0,#880,#930,#810,#5d0,#730,#ab0,#a20,#730,#650,#700,#8a0,#ad0,#9a0,#5d0,#580,#960,#b20,#800,#620,#800,#9a0,#820,#6e0,#830,#930,#840,#7c0,#810,#7e0,#830,#8a0,#7a0,#780,#9c0,#930,#5d0,#6a0,#ac0,#9a0,#640,#7c0,#9c0,#720,#680,#9f0,#a10,#670,#6a0,#9b0,#910,#6d0,#790,#950,#890,#780,#7c0,#7f0,#830,#940,#8a0,#650,#6b0,#a60,#af0,#6f0,#500,#780,#ae0,#ad0,#790,#520,#6d0,#a90,#a50,#730,#6b0,#840,#870,#850,#8d0,#820,#6e0,#790,#950,#990,#800,#670,#6d0,#930,#a50,#880,#6d0,#6e0,#7c0,#910,#9c0,#870,#6f0,#700,#7a0,#920,#ac0,#860,#460,#650,#d10,#c10,#4c0,#3c0,#9d0,#d50,#910,#530,#5d0,#8a0,#9f0,#9c0,#920,#6b0,#480,#760,#d90)"></i><i style="background:linear-gradient(#6d0,#b80,#a20,#610,#690,#970,#930,#750,#780,#8e0,#8c0,#730,#750,#940,#930,#730,#720,#880,#880,#890,#8b0,#700,#6e0,#a20,#9c0,#560,#680,#c10,#a70,#510,#5c0,#990,#9f0,#910,#8a0,#680,#590,#870,#b60,#a10,#720,#5c0,#6a0,#8e0,#a30,#9c0,#850,#600,#540,#8f0,#cd0,#970,#4e0,#5f0,#a30,#ab0,#790,#5c0,#770,#a70,#a20,#760,#640,#680,#7a0,#b50,#cb0,#670,#2a0,#730,#d10,#ac0,#7b0,#740,#580,#5c0,#b10,#d30,#7c0,#490,#660,#940,#a80,#980,#6e0,#640,#830,#8e0,#870,#940,#870,#5f0,#6c0,#a60,#a70,#790,#660,#6c0,#840,#ab0,#a20,#640,#540,#8d0,#b30,#870,#630,#7b0,#9a0,#850,#6e0,#7f0,#920,#860,#7c0,#800,#7e0,#820,#8b0,#7b0,#760,#9a0,#980,#600,#640,#a60,#a00,#680,#780,#9c0,#770,#640,#9a0,#a60,#6c0,#660,#970,#950,#6f0,#760,#940,#8c0,#790,#7c0,#7f0,#810,#930,#8f0,#680,#660,#9f0,#b40,#770,#500,#6f0,#a80,#b10,#810,#540,#650,#a20,#aa0,#780,#6a0,#810,#870,#840,#8e0,#850,#6f0,#750,#920,#9b0,#850,#690,#690,#8d0,#a50,#8e0,#700,#6d0,#780,#8e0,#9c0,#8b0,#720,#6f0,#770,#8e0,#ae0,#8f0,#490,#5a0,#c70,#ce0,#580,#370,#8e0,#d40,#9d0,#590,#590,#830,#9c0,#9d0,#970,#720,#470,#690,#d00,#d10)"></i><i style="background:linear-gradient(#b20,#aa0,#660,#650,#930,#950,#780,#760,#8c0,#8e0,#750,#730,#920,#960,#760,#710,#860,#880,#890,#8d0,#730,#6a0,#9e0,#a30,#5b0,#5f0,#ba0,#b20,#580,#560,#910,#9e0,#930,#8e0,#6d0,#560,#7e0,#b20,#a70,#7a0,#5e0,#650,#880,#a10,#9f0,#8c0,#650,#500,#830,#cb0,#a30,#530,#590,#9b0,#ae0,#800,#5d0,#700,#a20,#a70,#7d0,#660,#660,#730,#ad0,#d30,#770,#2b0,#630,#c80,#b30,#820,#790,#5b0,#540,#a40,#d70,#890,#4c0,#600,#8d0,#a70,#9e0,#730,#630,#7f0,#8d0,#870,#940,#8c0,#610,#660,#9f0,#aa0,#800,#680,#690,#7e0,#a70,#a90,#6b0,#510,#840,#b20,#8e0,#640,#770,#990,#890,#6f0,#7c0,#910,#880,#7d0,#810,#7e0,#800,#8b0,#7d0,#740,#960,#9e0,#650,#5e0,#a00,#a50,#6b0,#740,#9c0,#7b0,#610,#930,#aa0,#720,#640,#920,#980,#720,#730,#910,#8e0,#7b0,#7b0,#7e0,#800,#920,#930,#6b0,#610,#970,#b80,#810,#510,#670,#a00,#b50,#8b0,#580,#5f0,#9b0,#ad0,#7e0,#6a0,#7f0,#860,#830,#8d0,#880,#710,#720,#8e0,#9c0,#8a0,#6c0,#660,#870,#a40,#930,#740,#6c0,#750,#8a0,#9c0,#8f0,#750,#6e0,#740,#880,#ad0,#990,#4e0,#500,#ba0,#d80,#650,#340,#7f0,#d00,#a90,#600,#570,#7c0,#980,#9d0,#9c0,#7a0,#480,#5d0,#c40,#dc0,#6e0)"></i><i style="background:linear-gradient(#b00,#6c0,#620,#8e0,#970,#7a0,#740,#8a0,#900,#780,#710,#8e0,#990,#790,#700,#830,#870,#880,#8f0,#760,#670,#980,#a80,#610,#580,#b10,#bb0,#610,#520,#8a0,#9d0,#940,#930,#720,#550,#750,#ad0,#ac0,#810,#610,#620,#810,#9e0,#a20,#920,#6b0,#4e0,#780,#c60,#ae0,#5a0,#540,#920,#af0,#870,#5f0,#6a0,#9c0,#aa0,#830,#690,#640,#6c0,#a40,#d80,#880,#2d0,#560,#bd0,#b90,#880,#7e0,#5f0,#4e0,#970,#d90,#960,#510,#5b0,#850,#a40,#a20,#7a0,#630,#7b0,#8c0,#860,#940,#910,#650,#610,#980,#ad0,#860,#6b0,#680,#780,#a30,#ae0,#740,#500,#7b0,#b00,#940,#670,#730,#970,#8d0,#700,#790,#900,#890,#7e0,#810,#7e0,#7f0,#8b0,#7f0,#720,#930,#a20,#6b0,#5a0,#980,#a90,#700,#710,#9b0,#800,#600,#8c0,#ac0,#780,#620,#8d0,#9b0,#750,#710,#8f0,#900,#7d0,#7b0,#7d0,#7e0,#900,#960,#700,#5e0,#8f0,#b90,#8b0,#540,#610,#980,#b60,#930,#5d0,#5a0,#930,#ae0,#840,#6b0,#7c0,#850,#820,#8d0,#8b0,#730,#700,#8a0,#9c0,#8e0,#700,#640,#810,#a20,#970,#780,#6d0,#720,#850,#9b0,#930,#790,#6f0,#710,#830,#ab0,#a20,#550,#480,#ac0,#e00,#740,#330,#700,#ca0,#b30,#680,#550,#750,#930,#9d0,#a00,#830,#4b0,#530,#b60,#e40,#7e0,#340)"></i><i style="background:linear-gradient(#730,#600,#890,#980,#7d0,#730,#880,#910,#7a0,#6f0,#8a0,#9a0,#7d0,#6f0,#810,#870,#870,#910,#7a0,#650,#920,#ad0,#680,#520,#a70,#c20,#6a0,#4f0,#820,#9b0,#950,#970,#790,#550,#6d0,#a60,#b00,#890,#650,#5f0,#7a0,#9a0,#a30,#980,#720,#4d0,#6d0,#bf0,#b80,#630,#500,#8a0,#b00,#8e0,#620,#650,#960,#ac0,#8a0,#6c0,#640,#660,#990,#db0,#990,#330,#4a0,#b10,#bc0,#8e0,#840,#640,#490,#890,#d70,#a30,#570,#570,#7e0,#a00,#a60,#800,#640,#770,#8a0,#850,#930,#960,#690,#5d0,#900,#ae0,#8c0,#6e0,#670,#720,#9d0,#b30,#7d0,#500,#730,#ac0,#9a0,#6a0,#6f0,#940,#900,#720,#760,#8e0,#8b0,#7f0,#810,#7e0,#7e0,#8b0,#810,#700,#8e0,#a60,#720,#570,#910,#ac0,#750,#6e0,#9a0,#860,#5f0,#850,#ad0,#7f0,#600,#880,#9d0,#780,#6f0,#8c0,#910,#7f0,#7b0,#7d0,#7c0,#8e0,#990,#750,#5b0,#870,#b90,#940,#580,#5b0,#8f0,#b50,#9c0,#620,#560,#8a0,#ae0,#8a0,#6c0,#7a0,#840,#810,#8c0,#8d0,#750,#6e0,#860,#9b0,#930,#740,#630,#7b0,#9f0,#9b0,#7d0,#6e0,#700,#810,#990,#970,#7d0,#700,#6f0,#7e0,#a80,#ab0,#5d0,#420,#9e0,#e40,#840,#340,#630,#c20,#bb0,#720,#550,#6f0,#8e0,#9b0,#a30,#8c0,#500,#4a0,#a70,#e90,#8e0,#380,#510)"></i><i style="background:linear-gradient(#5f0,#840,#990,#800,#730,#850,#920,#7d0,#6e0,#860,#9b0,#810,#6f0,#7f0,#860,#860,#920,#7e0,#630,#8b0,#b10,#700,#4e0,#9c0,#c70,#750,#4e0,#7a0,#980,#950,#9a0,#800,#560,#650,#9f0,#b20,#910,#6a0,#5e0,#740,#950,#a30,#9d0,#7a0,#4e0,#630,#b60,#c00,#6d0,#4e0,#810,#ae0,#950,#660,#610,#8e0,#ad0,#910,#710,#650,#600,#8e0,#db0,#aa0,#3a0,#400,#a40,#bd0,#940,#890,#6a0,#460,#7b0,#d30,#af0,#5f0,#550,#770,#9b0,#a80,#870,#650,#740,#880,#830,#920,#9a0,#6f0,#590,#880,#ae0,#930,#720,#670,#6d0,#960,#b50,#860,#520,#6b0,#a70,#a00,#6e0,#6d0,#910,#930,#740,#740,#8c0,#8c0,#800,#810,#7f0,#7d0,#8a0,#830,#6f0,#890,#a80,#790,#550,#880,#ae0,#7a0,#6b0,#980,#8b0,#5f0,#7e0,#ad0,#860,#600,#830,#9d0,#7c0,#6d0,#880,#920,#810,#7b0,#7d0,#7b0,#8b0,#9b0,#7b0,#5a0,#7e0,#b70,#9d0,#5e0,#570,#860,#b30,#a40,#6a0,#530,#820,#ad0,#900,#6e0,#780,#830,#800,#8b0,#900,#780,#6c0,#810,#9a0,#960,#790,#630,#750,#9c0,#9e0,#820,#700,#6e0,#7d0,#960,#990,#810,#710,#6e0,#780,#a40,#b20,#670,#3d0,#8e0,#e60,#940,#380,#570,#b80,#c20,#7b0,#570,#6a0,#890,#990,#a50,#940,#560,#430,#980,#ea0,#9f0,#3e0,#480,#9d0)"></i><i style="background:linear-gradient(#7f0,#990,#830,#730,#830,#930,#810,#6d0,#820,#9b0,#850,#700,#7d0,#850,#850,#930,#820,#630,#850,#b30,#780,#4b0,#910,#cb0,#800,#4f0,#730,#940,#950,#9d0,#870,#590,#5f0,#960,#b30,#980,#700,#5e0,#6f0,#8f0,#a10,#a20,#820,#510,#5a0,#ac0,#c60,#770,#4d0,#780,#ab0,#9b0,#6b0,#5e0,#870,#ac0,#970,#760,#660,#5c0,#830,#d70,#bb0,#450,#380,#950,#bd0,#990,#8f0,#710,#450,#6e0,#cc0,#ba0,#680,#540,#700,#950,#a90,#8d0,#680,#710,#860,#820,#8f0,#9e0,#750,#580,#800,#ac0,#980,#770,#670,#690,#8f0,#b60,#900,#550,#640,#a10,#a40,#730,#6a0,#8d0,#950,#770,#720,#8a0,#8d0,#810,#810,#7f0,#7c0,#890,#850,#6f0,#850,#aa0,#810,#540,#800,#ae0,#800,#6a0,#950,#900,#600,#770,#ac0,#8d0,#610,#7d0,#9e0,#810,#6c0,#850,#930,#830,#7c0,#7d0,#790,#880,#9d0,#800,#5a0,#760,#b40,#a60,#650,#540,#7d0,#af0,#ab0,#720,#520,#790,#aa0,#950,#710,#770,#830,#7f0,#8a0,#910,#7c0,#6b0,#7d0,#970,#990,#7e0,#640,#700,#970,#a00,#860,#720,#6d0,#790,#930,#9b0,#850,#730,#6d0,#730,#9e0,#b80,#720,#3b0,#7f0,#e40,#a50,#3e0,#4d0,#ac0,#c70,#860,#590,#660,#830,#950,#a60,#9d0,#5e0,#3e0,#870,#e80,#b00,#470,#410,#900,#cc0)"></i><i style="background:linear-gradient(#980,#860,#730,#800,#930,#840,#6d0,#7e0,#9a0,#890,#710,#7b0,#840,#840,#930,#870,#630,#7e0,#b30,#810,#490,#850,#cb0,#8b0,#500,#6d0,#900,#930,#9e0,#8e0,#5d0,#590,#8d0,#b20,#9f0,#760,#5e0,#6a0,#890,#9f0,#a50,#8a0,#550,#530,#a10,#ca0,#820,#4e0,#700,#a70,#a10,#700,#5c0,#7f0,#aa0,#9c0,#7b0,#690,#590,#770,#d10,#ca0,#510,#330,#870,#ba0,#9d0,#940,#790,#460,#620,#c20,#c30,#720,#540,#6a0,#8e0,#a90,#930,#6c0,#6f0,#840,#810,#8d0,#a00,#7c0,#570,#780,#a80,#9d0,#7c0,#690,#650,#870,#b60,#990,#5a0,#5e0,#9a0,#a80,#780,#690,#8a0,#970,#7a0,#710,#870,#8d0,#820,#810,#800,#7c0,#880,#870,#6f0,#7f0,#aa0,#890,#550,#780,#ad0,#860,#690,#920,#940,#630,#710,#a90,#930,#630,#780,#9d0,#850,#6c0,#810,#930,#850,#7d0,#7d0,#780,#850,#9d0,#870,#5b0,#6e0,#ae0,#ad0,#6d0,#520,#750,#aa0,#b00,#7a0,#530,#710,#a70,#9a0,#740,#760,#820,#7e0,#880,#930,#7f0,#6b0,#790,#950,#9c0,#830,#650,#6b0,#920,#a10,#8b0,#750,#6d0,#750,#8f0,#9c0,#890,#760,#6d0,#6f0,#980,#bc0,#7d0,#3b0,#700,#de0,#b40,#460,#450,#9f0,#c90,#900,#5e0,#620,#7e0,#910,#a60,#a50,#670,#3b0,#780,#e20,#c00,#510,#3c0,#820,#c80,#ae0)"></i><i style="background:linear-gradient(#890,#740,#7d0,#920,#870,#6e0,#7a0,#990,#8d0,#730,#790,#830,#820,#930,#8b0,#640,#770,#b20,#8b0,#4a0,#7a0,#ca0,#970,#540,#680,#8b0,#910,#9f0,#950,#630,#550,#840,#af0,#a40,#7d0,#600,#660,#830,#9b0,#a70,#930,#5a0,#4d0,#940,#cc0,#8e0,#510,#690,#a20,#a50,#770,#5b0,#780,#a60,#a10,#810,#6c0,#580,#6c0,#c80,#d70,#5f0,#300,#790,#b50,#9f0,#980,#820,#480,#570,#b70,#ca0,#7d0,#560,#650,#880,#a70,#990,#700,#6d0,#810,#7f0,#8a0,#a20,#830,#580,#710,#a40,#a10,#810,#6c0,#630,#800,#b30,#a20,#5f0,#590,#930,#aa0,#7e0,#680,#860,#980,#7d0,#700,#840,#8e0,#830,#820,#810,#7b0,#870,#890,#700,#7b0,#a90,#910,#570,#700,#aa0,#8c0,#680,#8e0,#990,#660,#6b0,#a50,#990,#660,#740,#9b0,#890,#6d0,#7e0,#920,#870,#7e0,#7e0,#770,#820,#9d0,#8d0,#5e0,#670,#a80,#b30,#750,#520,#6d0,#a30,#b40,#830,#540,#6a0,#a10,#9e0,#780,#750,#810,#7e0,#860,#940,#830,#6c0,#750,#910,#9d0,#890,#680,#670,#8c0,#a10,#8f0,#780,#6d0,#720,#8b0,#9c0,#8d0,#790,#6e0,#6b0,#900,#be0,#890,#3d0,#630,#d60,#c30,#500,#3f0,#920,#c90,#9a0,#630,#600,#790,#8c0,#a40,#ab0,#710,#3a0,#690,#d90,#ce0,#5e0,#390,#750,#c20,#b80,#680)"></i><i style="background:linear-gradient(#750,#7b0,#910,#8a0,#6f0,#760,#970,#910,#750,#780,#820,#810,#920,#8f0,#660,#710,#b00,#940,#4b0,#6f0,#c60,#a10,#590,#630,#860,#8e0,#9f0,#9c0,#690,#530,#7b0,#aa0,#a90,#840,#640,#630,#7d0,#970,#a80,#9b0,#610,#480,#880,#cb0,#990,#550,#630,#9c0,#a90,#7d0,#5c0,#710,#a10,#a40,#860,#700,#580,#620,#bc0,#e10,#6f0,#2f0,#6c0,#af0,#a10,#9c0,#8b0,#4d0,#4e0,#aa0,#cf0,#880,#5a0,#610,#810,#a40,#9e0,#740,#6c0,#7f0,#7e0,#870,#a30,#8a0,#5a0,#6a0,#9f0,#a40,#870,#6f0,#610,#780,#af0,#aa0,#670,#560,#8b0,#ab0,#840,#680,#820,#980,#810,#700,#810,#8d0,#840,#820,#810,#7b0,#860,#8b0,#710,#760,#a60,#980,#5a0,#6a0,#a70,#910,#690,#8a0,#9c0,#6a0,#660,#a00,#9f0,#690,#700,#990,#8d0,#6e0,#7b0,#910,#890,#7f0,#7e0,#770,#7f0,#9c0,#930,#610,#610,#a00,#b80,#7f0,#530,#660,#9c0,#b70,#8d0,#580,#640,#9c0,#a10,#7c0,#750,#800,#7d0,#840,#940,#870,#6e0,#720,#8d0,#9e0,#8e0,#6b0,#640,#860,#a00,#930,#7c0,#6f0,#6f0,#860,#9b0,#910,#7d0,#6f0,#680,#890,#be0,#950,#410,#560,#cb0,#cf0,#5c0,#3a0,#840,#c60,#a30,#690,#5f0,#740,#870,#a10,#b10,#7c0,#3c0,#5b0,#cd0,#d90,#6c0,#380,#690,#ba0,#bf0,#720,#470)"></i><i style="background:linear-gradient(#790,#900,#8d0,#710,#730,#940,#940,#770,#770,#810,#7f0,#900,#930,#690,#6b0,#ac0,#9d0,#4f0,#650,#c00,#ac0,#5f0,#600,#820,#8b0,#9d0,#a20,#700,#510,#730,#a50,#ac0,#8c0,#680,#610,#770,#920,#a80,#a20,#6a0,#460,#7b0,#c80,#a30,#5a0,#5d0,#950,#ab0,#840,#5d0,#6b0,#9b0,#a60,#8c0,#750,#590,#5a0,#af0,#e80,#800,#310,#610,#a70,#a20,#9f0,#930,#530,#460,#9c0,#d10,#930,#5e0,#5f0,#7a0,#a00,#a20,#7a0,#6c0,#7e0,#7d0,#830,#a20,#910,#5d0,#640,#980,#a50,#8c0,#730,#600,#710,#a90,#b00,#6f0,#530,#830,#aa0,#890,#690,#7e0,#980,#840,#700,#7f0,#8d0,#850,#820,#820,#7b0,#840,#8c0,#730,#710,#a30,#9f0,#5f0,#630,#a20,#960,#6a0,#860,#9f0,#6f0,#620,#9a0,#a30,#6e0,#6c0,#960,#900,#700,#780,#8f0,#8a0,#800,#7f0,#770,#7b0,#9a0,#980,#660,#5c0,#970,#bb0,#880,#560,#5f0,#930,#b70,#960,#5c0,#5e0,#950,#a30,#800,#750,#800,#7c0,#820,#940,#8a0,#700,#6f0,#880,#9e0,#930,#700,#620,#800,#9e0,#970,#800,#700,#6d0,#820,#9a0,#940,#800,#710,#650,#810,#bd0,#a20,#460,#4b0,#be0,#d90,#690,#380,#770,#c10,#ac0,#700,#5f0,#700,#820,#9c0,#b50,#880,#3f0,#4f0,#bf0,#e20,#7b0,#3a0,#5d0,#b00,#c50,#7e0,#480,#700)"></i><i style="background:linear-gradient(#8e0,#900,#740,#700,#910,#960,#7a0,#760,#800,#7e0,#8e0,#960,#6d0,#660,#a70,#a60,#540,#5b0,#b80,#b40,#660,#5d0,#7d0,#880,#9b0,#a60,#790,#520,#6b0,#9e0,#ae0,#930,#6d0,#600,#720,#8c0,#a60,#a90,#730,#450,#700,#c20,#ad0,#610,#590,#8d0,#ac0,#8c0,#600,#660,#950,#a70,#920,#7b0,#5b0,#520,#a10,#ec0,#920,#350,#560,#9f0,#a10,#a10,#9c0,#5a0,#410,#8e0,#d00,#9e0,#640,#5d0,#740,#9b0,#a50,#7f0,#6d0,#7c0,#7c0,#800,#a10,#980,#620,#5f0,#910,#a60,#910,#780,#610,#6a0,#a30,#b60,#770,#530,#7b0,#a80,#8f0,#6a0,#7a0,#970,#880,#700,#7c0,#8c0,#860,#830,#830,#7b0,#830,#8e0,#750,#6d0,#9e0,#a60,#650,#5e0,#9c0,#9a0,#6b0,#810,#a10,#740,#5e0,#940,#a70,#730,#690,#930,#940,#720,#750,#8d0,#8c0,#810,#800,#770,#780,#980,#9d0,#6b0,#580,#8e0,#bc0,#920,#5b0,#5a0,#8a0,#b60,#9e0,#620,#5a0,#8e0,#a40,#840,#760,#7f0,#7c0,#7f0,#930,#8e0,#720,#6d0,#840,#9c0,#970,#750,#610,#7a0,#9b0,#990,#840,#730,#6c0,#7d0,#970,#960,#840,#740,#640,#790,#b90,#ad0,#4e0,#430,#af0,#e10,#780,#380,#6b0,#ba0,#b30,#780,#600,#6c0,#7d0,#970,#b70,#940,#440,#450,#af0,#e70,#8b0,#3e0,#540,#a50,#c90,#890,#4a0,#670,#b30)"></i><i style="background:linear-gradient(#920,#760,#6e0,#8d0,#980,#7d0,#760,#7f0,#7d0,#8c0,#990,#720,#620,#a10,#ad0,#5a0,#540,#ae0,#bc0,#6e0,#5c0,#780,#840,#980,#aa0,#810,#540,#640,#960,#ae0,#9a0,#730,#600,#6d0,#860,#a30,#ae0,#7d0,#460,#650,#ba0,#b60,#690,#560,#860,#ab0,#930,#640,#610,#8e0,#a70,#960,#810,#5f0,#4c0,#910,#ed0,#a50,#3b0,#4e0,#950,#9f0,#a10,#a40,#640,#3d0,#800,#cc0,#a80,#6b0,#5d0,#6e0,#950,#a70,#850,#6e0,#7b0,#7b0,#7c0,#9f0,#9e0,#670,#5b0,#8a0,#a50,#960,#7d0,#630,#650,#9b0,#b90,#810,#530,#730,#a60,#940,#6c0,#760,#950,#8b0,#720,#7a0,#8b0,#860,#830,#840,#7b0,#810,#8f0,#780,#6a0,#990,#ab0,#6b0,#5a0,#960,#9e0,#6e0,#7d0,#a30,#7a0,#5c0,#8d0,#a90,#780,#670,#8f0,#960,#750,#730,#8b0,#8d0,#820,#810,#780,#760,#940,#a10,#720,#550,#850,#ba0,#9b0,#600,#570,#810,#b30,#a60,#690,#570,#860,#a40,#880,#770,#7f0,#7c0,#7d0,#910,#910,#750,#6b0,#7f0,#9a0,#9b0,#7a0,#610,#740,#970,#9b0,#880,#760,#6b0,#780,#940,#980,#880,#770,#640,#720,#b30,#b70,#580,#3c0,#9f0,#e50,#870,#3a0,#600,#b10,#b80,#800,#620,#6a0,#780,#910,#b80,#a00,#4c0,#3c0,#9e0,#e90,#9b0,#440,#4c0,#980,#ca0,#950,#4e0,#5e0,#ab0,#ab0)"></i><i style="background:linear-gradient(#7a0,#6c0,#890,#990,#810,#760,#7e0,#7b0,#890,#9b0,#770,#5f0,#990,#b30,#620,#4d0,#a40,#c10,#770,#5c0,#750,#800,#940,#ad0,#8a0,#570,#5e0,#8e0,#ac0,#9f0,#790,#610,#690,#800,#9e0,#b20,#880,#490,#5b0,#b10,#bd0,#720,#550,#7e0,#a90,#990,#680,#5e0,#870,#a60,#9b0,#870,#640,#480,#820,#e90,#b60,#440,#470,#8c0,#9c0,#a10,#ac0,#6e0,#3b0,#720,#c60,#b00,#730,#5d0,#690,#8f0,#a80,#8a0,#700,#7a0,#7a0,#790,#9b0,#a40,#6e0,#590,#820,#a30,#990,#820,#650,#600,#920,#bb0,#8a0,#550,#6d0,#a10,#980,#6f0,#730,#930,#8e0,#740,#780,#890,#870,#830,#850,#7c0,#800,#8f0,#7b0,#670,#930,#af0,#730,#580,#8f0,#a10,#700,#790,#a30,#810,#5b0,#860,#aa0,#7e0,#660,#8b0,#980,#780,#710,#880,#8d0,#830,#820,#790,#730,#900,#a40,#790,#540,#7b0,#b70,#a40,#670,#540,#780,#ae0,#ad0,#710,#560,#7f0,#a20,#8c0,#780,#7f0,#7c0,#7b0,#8f0,#940,#790,#6a0,#7b0,#970,#9e0,#800,#620,#6f0,#930,#9c0,#8c0,#790,#6b0,#740,#910,#990,#8c0,#7b0,#640,#6b0,#ac0,#c00,#630,#370,#8f0,#e60,#970,#3f0,#560,#a70,#bb0,#890,#660,#680,#740,#8b0,#b60,#ac0,#560,#360,#8d0,#e80,#ab0,#4c0,#450,#8c0,#c80,#a00,#540,#570,#a30,#b00,#740)"></i><i style="background:linear-gradient(#6b0,#850,#990,#840,#770,#7e0,#7a0,#860,#9d0,#7c0,#5c0,#920,#b80,#6b0,#490,#980,#c50,#810,#5e0,#710,#7c0,#8f0,#ae0,#930,#5c0,#590,#850,#a90,#a40,#800,#640,#660,#7a0,#990,#b40,#920,#4e0,#520,#a60,#c20,#7b0,#550,#770,#a60,#9f0,#6e0,#5b0,#7f0,#a30,#9e0,#8e0,#6b0,#450,#730,#e20,#c70,#4f0,#420,#820,#980,#9f0,#b20,#7a0,#3c0,#650,#be0,#b70,#7b0,#5f0,#650,#880,#a70,#900,#720,#790,#7a0,#750,#970,#a80,#750,#570,#7b0,#a00,#9c0,#880,#690,#5c0,#890,#bb0,#940,#590,#660,#9c0,#9c0,#730,#700,#910,#910,#760,#760,#880,#870,#830,#850,#7c0,#7e0,#900,#7e0,#660,#8c0,#b20,#7b0,#560,#880,#a20,#740,#750,#a20,#870,#5b0,#7e0,#aa0,#840,#650,#860,#9a0,#7b0,#700,#860,#8d0,#850,#830,#7a0,#710,#8c0,#a70,#800,#540,#720,#b30,#ab0,#6f0,#540,#700,#a80,#b20,#790,#560,#780,#a00,#8f0,#7a0,#7f0,#7c0,#790,#8d0,#960,#7d0,#6a0,#760,#930,#a00,#860,#640,#6b0,#8e0,#9c0,#900,#7d0,#6c0,#710,#8c0,#990,#8f0,#7f0,#660,#650,#a40,#c70,#6f0,#340,#7f0,#e40,#a70,#450,#4d0,#9c0,#bd0,#910,#6a0,#670,#6f0,#840,#b30,#b60,#610,#330,#7c0,#e30,#ba0,#560,#410,#7f0,#c40,#ab0,#5b0,#520,#9a0,#b40,#7b0,#670)"></i><i style="background:linear-gradient(#800,#990,#870,#780,#7d0,#790,#830,#9d0,#820,#5b0,#890,#bc0,#750,#460,#8c0,#c60,#8b0,#600,#6e0,#790,#890,#ad0,#9c0,#620,#560,#7d0,#a50,#a80,#880,#670,#640,#750,#930,#b50,#9d0,#550,#4c0,#9a0,#c40,#850,#560,#700,#a20,#a40,#750,#5a0,#780,#9f0,#a00,#940,#720,#450,#650,#d80,#d60,#5c0,#3f0,#790,#930,#9c0,#b60,#860,#3f0,#5a0,#b40,#bd0,#840,#630,#620,#810,#a50,#940,#750,#790,#7a0,#720,#920,#ab0,#7d0,#570,#740,#9c0,#9e0,#8d0,#6e0,#590,#800,#b80,#9d0,#5e0,#610,#970,#9f0,#770,#6e0,#8e0,#930,#780,#750,#860,#870,#830,#860,#7d0,#7d0,#900,#820,#650,#850,#b30,#840,#560,#810,#a30,#780,#710,#a00,#8e0,#5c0,#770,#a90,#8a0,#660,#810,#9b0,#7f0,#6f0,#830,#8d0,#860,#840,#7c0,#700,#870,#a80,#880,#560,#6a0,#ac0,#b20,#780,#540,#680,#a00,#b60,#820,#570,#710,#9d0,#920,#7c0,#7f0,#7d0,#780,#8a0,#970,#810,#6b0,#730,#8f0,#a10,#8c0,#680,#670,#880,#9b0,#930,#810,#6d0,#6e0,#880,#980,#920,#830,#680,#5f0,#9a0,#cc0,#7d0,#340,#6f0,#de0,#b60,#4e0,#470,#900,#bc0,#990,#6f0,#670,#6c0,#7d0,#ae0,#bf0,#6e0,#310,#6b0,#da0,#c70,#610,#3f0,#730,#be0,#b50,#630,#4d0,#900,#b60,#820,#670,#7c0)"></i><i style="background:linear-gradient(#980,#8a0,#790,#7d0,#790,#800,#9d0,#880,#5b0,#810,#bd0,#800,#440,#800,#c50,#940,#640,#6d0,#750,#840,#ab0,#a40,#690,#540,#750,#9f0,#aa0,#8f0,#6c0,#630,#6f0,#8c0,#b30,#a70,#5d0,#470,#8e0,#c50,#8f0,#590,#690,#9c0,#a80,#7c0,#5b0,#710,#9a0,#a10,#990,#7a0,#460,#580,#ca0,#e20,#6b0,#3f0,#700,#8e0,#980,#b90,#930,#430,#500,#a80,#c00,#8d0,#670,#600,#7a0,#a20,#990,#780,#790,#7a0,#700,#8c0,#ad0,#850,#590,#6e0,#970,#9f0,#930,#730,#580,#770,#b40,#a60,#640,#5d0,#900,#a10,#7b0,#6d0,#8a0,#950,#7b0,#740,#840,#870,#830,#870,#7e0,#7c0,#8f0,#850,#640,#7e0,#b20,#8c0,#570,#7a0,#a30,#7c0,#6e0,#9e0,#940,#5f0,#710,#a60,#900,#670,#7d0,#9a0,#830,#6f0,#800,#8d0,#860,#850,#7e0,#6f0,#820,#a70,#900,#590,#620,#a40,#b60,#810,#560,#620,#980,#b80,#8b0,#590,#6b0,#990,#940,#7e0,#7f0,#7d0,#760,#870,#980,#860,#6d0,#6f0,#8a0,#a10,#920,#6c0,#650,#830,#990,#950,#850,#700,#6b0,#830,#970,#940,#880,#6c0,#5b0,#900,#ce0,#8c0,#360,#600,#d50,#c40,#580,#420,#840,#ba0,#a00,#750,#680,#690,#760,#a70,#c60,#7c0,#330,#5c0,#cf0,#d20,#6e0,#3f0,#670,#b60,#bd0,#6d0,#4b0,#860,#b60,#890,#680,#7a0,#7f0)"></i><i style="background:linear-gradient(#8d0,#7b0,#7d0,#790,#7c0,#9c0,#8e0,#5c0,#790,#bd0,#8b0,#450,#740,#c10,#9d0,#680,#6c0,#730,#7e0,#a70,#ab0,#720,#530,#6d0,#990,#ab0,#950,#710,#630,#6b0,#840,#b00,#b00,#660,#430,#810,#c30,#990,#5d0,#640,#960,#aa0,#830,#5c0,#6b0,#940,#a10,#9e0,#830,#490,#4d0,#bb0,#ea0,#7b0,#400,#680,#880,#930,#b90,#a00,#4a0,#470,#9b0,#c10,#950,#6d0,#5f0,#740,#9e0,#9c0,#7c0,#790,#7b0,#6e0,#860,#ae0,#8d0,#5c0,#680,#910,#9f0,#970,#790,#580,#6e0,#af0,#ad0,#6b0,#5a0,#8a0,#a20,#7f0,#6c0,#870,#960,#7f0,#730,#820,#870,#830,#870,#7f0,#7b0,#8e0,#890,#650,#770,#b00,#950,#5a0,#740,#a20,#800,#6c0,#9a0,#9a0,#620,#6b0,#a30,#950,#690,#790,#9a0,#870,#700,#7d0,#8c0,#870,#860,#800,#6e0,#7d0,#a60,#970,#5d0,#5c0,#9b0,#b90,#8a0,#5a0,#5c0,#8f0,#b80,#950,#5d0,#660,#940,#960,#800,#800,#7e0,#750,#840,#980,#8a0,#6f0,#6d0,#850,#a00,#970,#700,#630,#7d0,#960,#970,#890,#730,#6a0,#7e0,#950,#950,#8c0,#700,#580,#850,#ce0,#9a0,#3b0,#530,#c90,#cf0,#640,#400,#790,#b50,#a70,#7b0,#6a0,#680,#700,#9f0,#ca0,#8b0,#360,#4f0,#c10,#db0,#7d0,#410,#5d0,#ac0,#c30,#780,#4a0,#7c0,#b40,#900,#6b0,#780,#7e0,#7c0)"></i><i style="background:linear-gradient(#7d0,#7e0,#790,#790,#9a0,#940,#5f0,#710,#ba0,#960,#470,#690,#bc0,#a50,#6e0,#6b0,#700,#780,#a20,#b00,#7b0,#550,#670,#910,#ab0,#9c0,#770,#640,#670,#7d0,#ab0,#b80,#710,#420,#750,#bf0,#a20,#620,#600,#8f0,#ac0,#8b0,#5f0,#660,#8e0,#a00,#a20,#8c0,#4e0,#430,#aa0,#f00,#8c0,#430,#620,#820,#8d0,#b80,#ac0,#530,#410,#8e0,#c00,#9d0,#730,#5f0,#6e0,#990,#9f0,#800,#7a0,#7c0,#6d0,#800,#ad0,#960,#600,#630,#8b0,#9e0,#9b0,#800,#5a0,#670,#a80,#b30,#730,#590,#830,#a20,#840,#6c0,#830,#970,#820,#730,#800,#860,#830,#870,#810,#7a0,#8d0,#8d0,#670,#710,#ad0,#9d0,#5d0,#6e0,#a00,#840,#6a0,#960,#9f0,#660,#660,#9e0,#9a0,#6c0,#750,#980,#8a0,#710,#7b0,#8a0,#870,#870,#820,#6f0,#780,#a30,#9e0,#620,#570,#920,#ba0,#940,#5f0,#580,#850,#b60,#9d0,#620,#620,#8f0,#970,#820,#800,#7f0,#750,#810,#970,#8e0,#720,#6b0,#800,#9e0,#9c0,#760,#620,#780,#930,#980,#8d0,#760,#690,#7a0,#920,#960,#900,#750,#570,#7a0,#cb0,#a90,#410,#480,#bb0,#d80,#720,#3f0,#6e0,#ae0,#ab0,#820,#6d0,#670,#6a0,#960,#cc0,#9a0,#3c0,#440,#b10,#e00,#8b0,#450,#540,#a10,#c60,#830,#4b0,#720,#b10,#970,#6e0,#770,#7e0,#790,#940)"></i><i style="background:linear-gradient(#7e0,#790,#760,#970,#990,#620,#690,#b60,#a10,#4c0,#5f0,#b50,#ac0,#740,#6c0,#6f0,#730,#9c0,#b40,#840,#570,#610,#890,#a80,#a10,#7e0,#670,#650,#760,#a50,#bd0,#7d0,#430,#6a0,#b90,#aa0,#680,#5d0,#880,#ab0,#920,#630,#620,#870,#9d0,#a40,#960,#550,#3c0,#980,#f10,#9c0,#490,#5d0,#7c0,#860,#b50,#b70,#5e0,#3d0,#810,#bc0,#a40,#7a0,#610,#690,#930,#a00,#830,#7b0,#7e0,#6c0,#7a0,#aa0,#9d0,#650,#600,#850,#9c0,#9e0,#870,#5d0,#600,#9f0,#b70,#7c0,#580,#7c0,#a10,#890,#6c0,#7f0,#970,#850,#740,#7e0,#860,#830,#870,#820,#790,#8b0,#900,#690,#6b0,#a80,#a40,#620,#680,#9d0,#880,#690,#910,#a40,#6c0,#610,#980,#9e0,#6f0,#710,#960,#8e0,#720,#790,#890,#880,#880,#840,#700,#730,#9f0,#a50,#690,#530,#880,#b90,#9d0,#650,#550,#7c0,#b30,#a50,#680,#5f0,#890,#970,#840,#810,#810,#750,#7d0,#960,#920,#750,#690,#7b0,#9b0,#a00,#7c0,#630,#730,#8f0,#980,#910,#7b0,#690,#760,#8e0,#960,#940,#7b0,#560,#700,#c60,#b60,#4a0,#3f0,#ac0,#de0,#800,#410,#640,#a70,#af0,#890,#710,#670,#650,#8c0,#cc0,#a90,#440,#3b0,#a00,#e20,#9a0,#4b0,#4d0,#950,#c80,#8f0,#4d0,#690,#ac0,#9d0,#710,#760,#7d0,#770,#900,#a30)"></i><i style="background:linear-gradient(#7a0,#740,#940,#9e0,#660,#630,#b00,#ab0,#520,#560,#ac0,#b20,#7b0,#6e0,#6e0,#6e0,#950,#b70,#8e0,#5c0,#5d0,#820,#a50,#a50,#850,#6a0,#630,#6f0,#9d0,#c10,#890,#460,#600,#b10,#b10,#700,#5b0,#800,#aa0,#990,#680,#5f0,#800,#9a0,#a50,#9e0,#5e0,#370,#850,#ee0,#ad0,#500,#590,#770,#800,#b00,#c00,#6a0,#3b0,#740,#b60,#aa0,#810,#630,#650,#8d0,#a10,#870,#7d0,#7f0,#6c0,#740,#a60,#a40,#6b0,#5d0,#7e0,#980,#a00,#8e0,#610,#5a0,#960,#ba0,#850,#590,#760,#9f0,#8d0,#6d0,#7b0,#960,#880,#750,#7d0,#850,#830,#870,#830,#790,#8a0,#930,#6d0,#650,#a20,#ab0,#680,#640,#990,#8c0,#680,#8c0,#a70,#720,#5e0,#920,#a10,#730,#6e0,#930,#910,#740,#770,#870,#880,#880,#870,#710,#6f0,#9a0,#aa0,#710,#510,#7e0,#b60,#a50,#6d0,#540,#730,#ad0,#ac0,#700,#5d0,#830,#970,#860,#820,#820,#750,#7a0,#940,#950,#790,#690,#760,#960,#a30,#820,#640,#6f0,#8b0,#970,#940,#7f0,#6a0,#720,#8a0,#960,#970,#810,#580,#660,#be0,#c30,#550,#380,#9b0,#e10,#8f0,#450,#5b0,#9e0,#b00,#8f0,#750,#690,#610,#820,#c80,#b70,#4f0,#340,#8e0,#e10,#a90,#530,#480,#890,#c70,#9a0,#510,#620,#a60,#a10,#750,#750,#7d0,#750,#8c0,#a50,#840)"></i><i style="background:linear-gradient(#720,#900,#a20,#6c0,#5d0,#a90,#b40,#590,#4f0,#a10,#b60,#810,#700,#6e0,#6a0,#8e0,#b70,#980,#610,#5a0,#7a0,#a00,#a80,#8b0,#6e0,#630,#690,#940,#c30,#960,#4a0,#570,#a80,#b60,#780,#5a0,#790,#a70,#a00,#6e0,#5d0,#7a0,#950,#a50,#a70,#690,#340,#740,#e70,#bc0,#5a0,#570,#720,#790,#a90,#c80,#780,#3c0,#680,#af0,#ae0,#880,#670,#610,#860,#a00,#8a0,#7e0,#810,#6d0,#6f0,#a10,#aa0,#720,#5c0,#780,#940,#a10,#940,#660,#560,#8c0,#ba0,#8e0,#5c0,#700,#9c0,#910,#6f0,#780,#940,#8b0,#760,#7b0,#840,#820,#870,#850,#780,#870,#960,#710,#610,#9a0,#b00,#6f0,#610,#950,#900,#680,#860,#a90,#790,#5c0,#8c0,#a30,#770,#6c0,#900,#940,#770,#750,#850,#870,#890,#890,#730,#6b0,#950,#ae0,#790,#500,#740,#b10,#ac0,#750,#540,#6b0,#a60,#b10,#770,#5c0,#7e0,#960,#870,#820,#840,#760,#770,#910,#970,#7e0,#6a0,#720,#920,#a40,#890,#670,#6c0,#860,#960,#960,#840,#6c0,#6f0,#860,#940,#990,#870,#5a0,#5e0,#b40,#cd0,#620,#330,#8b0,#e10,#9e0,#4b0,#540,#940,#b00,#950,#7a0,#6b0,#5e0,#780,#c20,#c40,#5c0,#300,#7d0,#db0,#b70,#5d0,#450,#7c0,#c30,#a50,#570,#5b0,#9f0,#a50,#7a0,#760,#7d0,#730,#870,#a50,#8a0,#660)"></i><i style="background:linear-gradient(#8b0,#a40,#720,#590,#a10,#bb0,#620,#4a0,#960,#b80,#880,#730,#6f0,#660,#850,#b50,#a10,#680,#580,#720,#9a0,#a90,#920,#730,#640,#640,#8b0,#c20,#a20,#510,#500,#9d0,#b90,#800,#5b0,#720,#a20,#a50,#750,#5c0,#740,#900,#a40,#ae0,#750,#340,#630,#dd0,#ca0,#640,#560,#6e0,#730,#a00,#cd0,#860,#3e0,#5e0,#a60,#b10,#900,#6c0,#5f0,#7f0,#9e0,#8d0,#800,#830,#6f0,#6a0,#9b0,#ae0,#7a0,#5c0,#730,#8f0,#a10,#9b0,#6d0,#530,#820,#b90,#960,#5f0,#6b0,#980,#950,#710,#750,#920,#8e0,#780,#7a0,#840,#820,#870,#860,#780,#850,#980,#750,#5e0,#920,#b30,#760,#5e0,#900,#940,#690,#800,#aa0,#800,#5b0,#850,#a40,#7c0,#6a0,#8c0,#960,#7a0,#740,#840,#870,#880,#8b0,#760,#680,#8e0,#b00,#830,#510,#6b0,#ab0,#b10,#7e0,#560,#630,#9e0,#b50,#800,#5d0,#790,#940,#890,#830,#850,#770,#750,#8e0,#990,#820,#6b0,#6e0,#8c0,#a50,#8f0,#6a0,#690,#810,#930,#980,#880,#6e0,#6d0,#820,#920,#9b0,#8e0,#5e0,#560,#a90,#d50,#700,#310,#7a0,#dd0,#ac0,#520,#4e0,#8a0,#ae0,#9b0,#800,#6e0,#5d0,#6e0,#ba0,#cf0,#6a0,#2e0,#6d0,#d30,#c20,#690,#430,#710,#bd0,#af0,#5f0,#560,#970,#a80,#7e0,#760,#7d0,#710,#820,#a40,#900,#690,#6f0)"></i><i style="background:linear-gradient(#a60,#790,#560,#970,#c10,#6d0,#460,#8b0,#b80,#8f0,#770,#710,#640,#7d0,#b20,#a90,#700,#580,#6c0,#930,#a90,#980,#790,#650,#600,#810,#be0,#ae0,#590,#4a0,#920,#bb0,#890,#5d0,#6c0,#9d0,#a90,#7c0,#5d0,#6e0,#8a0,#a10,#b40,#810,#360,#540,#cf0,#d50,#700,#570,#6b0,#6d0,#960,#d00,#950,#430,#550,#9c0,#b10,#970,#720,#5e0,#790,#9c0,#900,#820,#860,#710,#660,#940,#b10,#820,#5e0,#6e0,#8a0,#9f0,#a00,#740,#520,#780,#b50,#9f0,#640,#670,#940,#980,#740,#720,#900,#900,#7a0,#7a0,#830,#810,#860,#870,#790,#820,#990,#7b0,#5c0,#8a0,#b50,#7e0,#5d0,#8b0,#970,#6b0,#7b0,#aa0,#870,#5b0,#7e0,#a40,#810,#690,#880,#970,#7d0,#740,#820,#860,#880,#8d0,#790,#660,#880,#b10,#8c0,#540,#630,#a30,#b50,#870,#590,#5d0,#950,#b70,#880,#5f0,#740,#920,#8a0,#830,#860,#780,#720,#8a0,#9a0,#870,#6d0,#6b0,#860,#a40,#950,#6f0,#670,#7d0,#900,#990,#8d0,#720,#6b0,#7e0,#8f0,#9b0,#940,#630,#500,#9c0,#da0,#7f0,#310,#6a0,#d60,#ba0,#5c0,#4a0,#7f0,#ab0,#9f0,#850,#730,#5c0,#650,#b00,#d70,#7a0,#2f0,#5e0,#c80,#cc0,#750,#440,#660,#b50,#b80,#670,#520,#8e0,#a90,#830,#770,#7e0,#710,#7d0,#a30,#960,#6c0,#6c0,#840)"></i><i style="background:linear-gradient(#800,#540,#8d0,#c50,#780,#440,#800,#b60,#950,#7b0,#730,#620,#750,#ad0,#af0,#790,#590,#660,#8b0,#a70,#9d0,#7f0,#690,#5d0,#780,#b90,#b80,#630,#470,#870,#ba0,#910,#600,#670,#960,#ac0,#840,#5f0,#6a0,#840,#9c0,#b80,#8f0,#3b0,#470,#bf0,#dd0,#7d0,#5a0,#690,#680,#8c0,#cf0,#a40,#4a0,#4e0,#910,#b00,#9d0,#780,#5f0,#730,#980,#920,#830,#880,#740,#630,#8c0,#b20,#8a0,#600,#6a0,#850,#9c0,#a50,#7c0,#520,#6f0,#b00,#a60,#6a0,#630,#8f0,#9a0,#780,#700,#8d0,#920,#7c0,#790,#820,#810,#850,#880,#790,#800,#9a0,#800,#5b0,#820,#b50,#860,#5d0,#860,#990,#6d0,#750,#a90,#8f0,#5d0,#780,#a30,#860,#690,#840,#980,#800,#730,#800,#850,#880,#8f0,#7d0,#650,#810,#b00,#950,#580,#5c0,#9a0,#b70,#910,#5e0,#580,#8c0,#b70,#910,#620,#700,#8f0,#8b0,#840,#880,#7a0,#710,#860,#9a0,#8c0,#700,#690,#810,#a20,#9a0,#740,#660,#780,#8d0,#990,#910,#760,#6a0,#7a0,#8b0,#9b0,#9a0,#6a0,#4c0,#8f0,#dc0,#900,#340,#5c0,#cb0,#c50,#670,#490,#760,#a60,#a20,#8b0,#780,#5d0,#5d0,#a40,#dc0,#8b0,#330,#500,#ba0,#d30,#830,#470,#5c0,#ac0,#be0,#710,#500,#850,#a90,#880,#780,#7e0,#710,#780,#a00,#9c0,#710,#6b0,#810,#8b0)"></i><i style="background:linear-gradient(#530,#830,#c70,#840,#450,#750,#b20,#9a0,#7f0,#760,#620,#6e0,#a60,#b40,#820,#5c0,#610,#840,#a40,#a10,#860,#6d0,#5c0,#6f0,#b10,#c00,#6f0,#450,#7c0,#b80,#990,#640,#630,#8f0,#ad0,#8c0,#620,#660,#7e0,#970,#ba0,#9d0,#420,#3c0,#ae0,#e20,#8a0,#5e0,#690,#630,#810,#cc0,#b20,#530,#480,#860,#ad0,#a20,#7f0,#600,#6e0,#940,#930,#850,#8a0,#780,#610,#840,#b20,#920,#640,#670,#7f0,#990,#a80,#850,#540,#660,#aa0,#ac0,#700,#610,#8a0,#9b0,#7b0,#6f0,#890,#930,#7f0,#790,#810,#800,#840,#890,#7a0,#7d0,#9a0,#860,#5b0,#790,#b40,#8e0,#5e0,#810,#9b0,#700,#700,#a60,#960,#5f0,#720,#a10,#8b0,#6a0,#800,#980,#840,#740,#7e0,#840,#870,#900,#810,#650,#7a0,#ae0,#9e0,#5d0,#570,#900,#b70,#9a0,#640,#550,#820,#b50,#990,#660,#6c0,#8c0,#8b0,#840,#890,#7d0,#700,#820,#9a0,#900,#740,#670,#7b0,#9f0,#9f0,#790,#670,#740,#890,#980,#950,#7a0,#6a0,#760,#880,#990,#9f0,#720,#490,#810,#db0,#a00,#390,#4f0,#bf0,#ce0,#730,#490,#6d0,#9f0,#a40,#900,#7d0,#600,#570,#970,#de0,#9d0,#390,#450,#ab0,#d70,#910,#4c0,#540,#a10,#c30,#7b0,#4f0,#7d0,#a70,#8c0,#7a0,#800,#710,#730,#9b0,#a00,#760,#6a0,#7d0,#890,#900)"></i><i style="background:linear-gradient(#790,#c60,#910,#470,#6b0,#ac0,#9f0,#830,#7a0,#630,#670,#9e0,#b80,#8b0,#600,#5e0,#7c0,#a00,#a40,#8c0,#720,#5c0,#660,#a80,#c70,#7b0,#450,#710,#b30,#a10,#6a0,#5f0,#880,#ad0,#940,#670,#640,#780,#900,#b90,#aa0,#4b0,#340,#9b0,#e30,#970,#630,#690,#600,#760,#c60,#be0,#5e0,#450,#7c0,#a80,#a60,#860,#630,#690,#8f0,#940,#860,#8c0,#7c0,#600,#7c0,#b00,#9a0,#690,#650,#790,#940,#aa0,#8d0,#570,#5f0,#a10,#b10,#770,#600,#840,#9c0,#7f0,#6e0,#860,#940,#810,#790,#810,#800,#830,#890,#7b0,#7b0,#990,#8c0,#5c0,#710,#b10,#960,#600,#7c0,#9c0,#730,#6b0,#a20,#9d0,#630,#6c0,#9e0,#900,#6b0,#7c0,#970,#870,#750,#7d0,#830,#860,#900,#850,#660,#730,#aa0,#a60,#640,#530,#860,#b50,#a20,#6c0,#530,#780,#b10,#a00,#6b0,#690,#880,#8b0,#840,#8a0,#7f0,#6f0,#7e0,#980,#940,#780,#670,#750,#9a0,#a20,#7f0,#680,#710,#850,#960,#980,#7f0,#6b0,#730,#840,#970,#a30,#7a0,#490,#740,#d60,#b00,#410,#450,#b00,#d40,#800,#4b0,#650,#980,#a50,#940,#830,#640,#520,#890,#dd0,#ae0,#420,#3c0,#9b0,#d80,#9e0,#520,#4d0,#950,#c50,#860,#500,#750,#a50,#900,#7c0,#810,#720,#6f0,#960,#a30,#7c0,#6a0,#7a0,#870,#8f0,#8c0)"></i><i style="background:linear-gradient(#c30,#9d0,#4b0,#620,#a50,#a20,#880,#7f0,#650,#610,#950,#b90,#950,#660,#5c0,#750,#9a0,#a60,#920,#780,#5d0,#5f0,#9d0,#cb0,#880,#470,#670,#ad0,#a70,#700,#5d0,#800,#ab0,#9b0,#6c0,#620,#730,#890,#b70,#b70,#570,#2e0,#880,#e00,#a40,#6a0,#6a0,#5e0,#6c0,#bd0,#c90,#6a0,#440,#720,#a20,#a80,#8d0,#670,#660,#8a0,#940,#870,#8d0,#800,#600,#750,#ac0,#a10,#6f0,#640,#740,#8e0,#aa0,#960,#5c0,#590,#980,#b40,#7f0,#600,#7f0,#9c0,#830,#6d0,#820,#940,#840,#7a0,#800,#800,#820,#8a0,#7c0,#780,#980,#920,#5f0,#6a0,#ac0,#9d0,#640,#770,#9c0,#770,#680,#9d0,#a20,#680,#680,#9a0,#940,#6d0,#780,#960,#8a0,#760,#7b0,#820,#840,#910,#890,#670,#6d0,#a50,#ad0,#6d0,#500,#7c0,#b10,#a90,#740,#520,#6f0,#ac0,#a60,#700,#680,#850,#8b0,#840,#8b0,#820,#6f0,#7a0,#960,#970,#7d0,#670,#700,#950,#a50,#850,#6a0,#6e0,#800,#930,#9a0,#840,#6d0,#710,#7f0,#940,#a70,#830,#4a0,#670,#cf0,#bf0,#4b0,#3c0,#a10,#d80,#8e0,#4f0,#5e0,#900,#a40,#980,#890,#690,#4e0,#7b0,#d80,#bf0,#4d0,#360,#8a0,#d50,#ab0,#5b0,#490,#890,#c50,#910,#530,#6d0,#a10,#930,#7e0,#830,#740,#6b0,#910,#a60,#820,#6b0,#780,#850,#8e0,#8f0,#750)"></i><i style="background:linear-gradient(#a90,#500,#5a0,#9e0,#a40,#8c0,#830,#680,#5c0,#8b0,#b80,#9d0,#6d0,#5b0,#6e0,#940,#a60,#980,#7e0,#600,#590,#920,#cc0,#950,#4b0,#5f0,#a50,#ac0,#770,#5c0,#790,#a80,#a10,#720,#620,#6e0,#820,#b20,#c20,#650,#2b0,#760,#da0,#af0,#710,#6d0,#5e0,#620,#b20,#d10,#780,#450,#690,#9b0,#a90,#940,#6c0,#630,#850,#930,#870,#8f0,#850,#610,#6d0,#a70,#a70,#760,#640,#700,#880,#a90,#9e0,#630,#540,#8f0,#b50,#870,#610,#7a0,#9b0,#870,#6e0,#7f0,#940,#860,#7a0,#800,#7f0,#810,#8a0,#7e0,#760,#950,#980,#630,#630,#a60,#a40,#680,#730,#9c0,#7b0,#640,#970,#a70,#6e0,#640,#960,#980,#700,#740,#940,#8d0,#780,#7a0,#810,#830,#900,#8d0,#6a0,#680,#9e0,#b20,#760,#4f0,#720,#ab0,#af0,#7d0,#540,#670,#a50,#ab0,#770,#670,#810,#8a0,#840,#8b0,#850,#700,#760,#930,#990,#820,#690,#6c0,#8f0,#a60,#8c0,#6d0,#6c0,#7c0,#900,#9b0,#890,#6f0,#6f0,#7b0,#8f0,#a80,#8d0,#4c0,#5c0,#c50,#cc0,#570,#360,#900,#d80,#9b0,#540,#590,#880,#a10,#9b0,#8f0,#6f0,#4c0,#6e0,#cf0,#cd0,#5b0,#320,#7a0,#cf0,#b70,#650,#460,#7d0,#c20,#9c0,#570,#670,#9c0,#960,#800,#840,#760,#680,#8b0,#a70,#870,#6d0,#760,#820,#8d0,#910,#780,#6a0)"></i><i style="background:linear-gradient(#580,#540,#950,#a40,#8f0,#880,#6c0,#590,#810,#b50,#a50,#740,#5c0,#680,#8d0,#a40,#9c0,#850,#640,#540,#860,#ca0,#a20,#510,#570,#9d0,#b00,#7f0,#5d0,#720,#a30,#a60,#790,#630,#6a0,#7a0,#ac0,#cb0,#750,#2b0,#650,#d00,#b80,#790,#710,#5f0,#5a0,#a60,#d70,#860,#480,#610,#930,#a90,#9b0,#710,#610,#800,#920,#880,#8f0,#8a0,#630,#670,#a00,#ab0,#7d0,#650,#6c0,#820,#a60,#a60,#6b0,#510,#850,#b40,#8f0,#630,#750,#990,#8b0,#6f0,#7b0,#920,#890,#7b0,#800,#7f0,#800,#8a0,#800,#740,#930,#9d0,#680,#5e0,#9e0,#a90,#6c0,#6f0,#9b0,#800,#620,#900,#ab0,#740,#610,#900,#9b0,#730,#710,#910,#900,#7a0,#7a0,#800,#810,#8f0,#910,#6d0,#630,#970,#b60,#800,#500,#6a0,#a40,#b30,#870,#570,#600,#9d0,#af0,#7d0,#670,#7e0,#890,#840,#8b0,#870,#710,#730,#8f0,#9b0,#870,#6b0,#680,#890,#a50,#910,#710,#6b0,#780,#8c0,#9c0,#8e0,#730,#6e0,#780,#8b0,#a90,#960,#510,#520,#b80,#d70,#650,#330,#800,#d50,#a80,#5c0,#550,#800,#9e0,#9d0,#950,#770,#4c0,#620,#c40,#d90,#6a0,#310,#6b0,#c60,#c10,#710,#450,#710,#be0,#a60,#5c0,#610,#960,#980,#820,#860,#790,#660,#840,#a60,#8d0,#6f0,#740,#800,#8b0,#930,#7c0,#680,#890)"></i><i style="background:linear-gradient(#4f0,#8c0,#a30,#920,#8d0,#720,#570,#780,#b00,#ab0,#7d0,#5e0,#640,#850,#a10,#a00,#8c0,#690,#510,#7a0,#c60,#ae0,#590,#520,#930,#b10,#860,#5f0,#6b0,#9d0,#aa0,#810,#650,#670,#730,#a40,#d10,#860,#2d0,#560,#c40,#bf0,#810,#750,#610,#530,#980,#d90,#950,#4c0,#5a0,#8b0,#a60,#a00,#780,#610,#7b0,#900,#880,#900,#8f0,#670,#610,#980,#ae0,#840,#670,#6a0,#7c0,#a20,#ac0,#730,#500,#7b0,#b20,#960,#660,#710,#960,#8e0,#700,#780,#910,#8b0,#7c0,#7f0,#7f0,#7f0,#8a0,#810,#730,#8f0,#a10,#6e0,#590,#960,#ad0,#720,#6c0,#990,#850,#610,#890,#ad0,#7b0,#600,#8b0,#9d0,#770,#6f0,#8e0,#920,#7c0,#790,#7f0,#7f0,#8e0,#940,#720,#600,#8e0,#b80,#8a0,#530,#620,#9b0,#b60,#900,#5b0,#5a0,#940,#b10,#840,#680,#7b0,#880,#830,#8b0,#8a0,#730,#700,#8b0,#9c0,#8c0,#6f0,#660,#820,#a40,#970,#750,#6b0,#750,#880,#9b0,#920,#770,#6d0,#740,#860,#a80,#9f0,#580,#4a0,#aa0,#df0,#750,#320,#710,#ce0,#b30,#650,#530,#780,#990,#9e0,#9a0,#7f0,#4e0,#570,#b70,#e20,#7b0,#320,#5d0,#bb0,#c80,#7d0,#470,#670,#b70,#af0,#630,#5d0,#900,#990,#840,#880,#7c0,#650,#7e0,#a40,#920,#720,#730,#7d0,#890,#940,#800,#670,#830,#aa0)"></i><i style="background:linear-gradient(#830,#a10,#950,#910,#780,#570,#6e0,#a90,#b00,#850,#620,#600,#7e0,#9d0,#a20,#930,#700,#500,#6f0,#bf0,#b90,#630,#4e0,#890,#b10,#8e0,#620,#660,#960,#ad0,#880,#690,#660,#6c0,#9a0,#d40,#970,#330,#480,#b60,#c40,#8a0,#7b0,#650,#4e0,#8a0,#d80,#a30,#530,#550,#820,#a20,#a40,#7f0,#620,#760,#8d0,#870,#8f0,#940,#6b0,#5d0,#900,#b00,#8b0,#6b0,#680,#760,#9d0,#b00,#7d0,#500,#720,#ae0,#9d0,#6a0,#6d0,#930,#920,#730,#750,#8f0,#8c0,#7e0,#7f0,#7f0,#7e0,#890,#830,#720,#8b0,#a40,#750,#560,#8e0,#af0,#780,#6a0,#970,#8a0,#610,#820,#ae0,#820,#5f0,#850,#9e0,#7b0,#6d0,#8b0,#930,#7e0,#790,#7e0,#7e0,#8c0,#970,#770,#5d0,#860,#b80,#940,#580,#5b0,#920,#b60,#9a0,#620,#560,#8a0,#b10,#8b0,#6a0,#780,#870,#830,#8b0,#8d0,#760,#6e0,#860,#9b0,#910,#730,#640,#7c0,#a10,#9b0,#7a0,#6c0,#720,#830,#990,#960,#7b0,#6e0,#720,#800,#a50,#a80,#600,#430,#9b0,#e40,#860,#340,#620,#c50,#bd0,#6f0,#520,#710,#940,#9d0,#9e0,#870,#520,#4d0,#a70,#e80,#8d0,#360,#510,#ae0,#cd0,#8a0,#4a0,#5d0,#ae0,#b60,#6b0,#5a0,#8a0,#990,#860,#890,#800,#650,#770,#a10,#970,#760,#720,#7b0,#860,#950,#840,#670,#7d0,#a90,#940)"></i><i style="background:linear-gradient(#9d0,#960,#950,#7e0,#580,#660,#a10,#b30,#8e0,#670,#5e0,#770,#980,#a30,#990,#770,#500,#640,#b50,#c10,#6d0,#4c0,#800,#b00,#960,#660,#610,#8e0,#ad0,#8f0,#6d0,#650,#660,#8f0,#d50,#a90,#3b0,#3e0,#a60,#c60,#910,#810,#6a0,#4a0,#7b0,#d30,#b10,#5c0,#520,#7a0,#9d0,#a70,#860,#640,#720,#8b0,#860,#8f0,#980,#710,#5a0,#870,#af0,#920,#6f0,#670,#700,#960,#b30,#870,#520,#690,#a80,#a30,#6f0,#6a0,#8f0,#940,#750,#730,#8c0,#8e0,#7f0,#800,#800,#7d0,#890,#850,#710,#860,#a60,#7c0,#550,#850,#b00,#7e0,#680,#940,#8f0,#610,#7b0,#ad0,#890,#5f0,#7f0,#9f0,#7f0,#6c0,#870,#940,#810,#7a0,#7e0,#7c0,#8a0,#990,#7c0,#5c0,#7d0,#b60,#9e0,#5d0,#560,#880,#b40,#a20,#690,#530,#810,#af0,#920,#6c0,#760,#850,#820,#8a0,#8f0,#790,#6d0,#820,#9a0,#950,#780,#630,#760,#9c0,#9f0,#800,#6e0,#6f0,#7f0,#970,#990,#7f0,#700,#700,#7b0,#a10,#af0,#6a0,#3f0,#8b0,#e40,#970,#380,#560,#ba0,#c50,#7a0,#540,#6a0,#8d0,#9b0,#a10,#900,#580,#460,#970,#e90,#a00,#3d0,#470,#a00,#cf0,#970,#500,#550,#a40,#bc0,#740,#580,#830,#980,#870,#8b0,#840,#660,#710,#9d0,#9b0,#7a0,#730,#790,#840,#940,#880,#680,#770,#a70,#9b0,#670)"></i><i style="background:linear-gradient(#960,#980,#860,#5a0,#5f0,#980,#b40,#960,#6d0,#5d0,#700,#920,#a20,#9e0,#800,#530,#5b0,#aa0,#c80,#790,#4b0,#760,#ac0,#9c0,#6b0,#5e0,#870,#ad0,#960,#720,#660,#610,#840,#d20,#ba0,#460,#350,#960,#c50,#980,#870,#710,#490,#6e0,#cc0,#bd0,#660,#510,#720,#970,#a90,#8d0,#670,#6f0,#880,#850,#8d0,#9b0,#770,#580,#7f0,#ad0,#990,#740,#670,#6b0,#8f0,#b50,#910,#550,#620,#a10,#a70,#740,#680,#8b0,#960,#780,#710,#890,#8f0,#810,#800,#800,#7c0,#880,#870,#710,#820,#a70,#840,#550,#7c0,#b00,#850,#670,#900,#930,#630,#740,#ab0,#910,#610,#7a0,#9e0,#830,#6c0,#830,#940,#830,#7b0,#7d0,#7b0,#870,#9b0,#820,#5c0,#740,#b20,#a70,#650,#530,#7e0,#b00,#aa0,#710,#520,#780,#ac0,#980,#700,#750,#840,#810,#880,#910,#7c0,#6c0,#7d0,#980,#980,#7d0,#640,#700,#970,#a10,#850,#700,#6e0,#7a0,#930,#9b0,#840,#720,#6e0,#760,#9c0,#b50,#750,#3d0,#7b0,#e20,#a80,#3e0,#4b0,#ac0,#ca0,#850,#570,#650,#870,#980,#a30,#990,#600,#410,#860,#e60,#b20,#460,#3f0,#910,#ce0,#a40,#570,#4f0,#980,#bf0,#7e0,#580,#7d0,#960,#880,#8c0,#880,#680,#6c0,#980,#9e0,#7e0,#730,#780,#810,#940,#8c0,#6a0,#710,#a30,#a20,#6d0,#5e0)"></i><i style="background:linear-gradient(#9b0,#8d0,#5f0,#590,#8e0,#b30,#9e0,#740,#5e0,#6a0,#8b0,#a00,#a20,#880,#570,#530,#9e0,#cc0,#850,#4d0,#6e0,#a70,#a20,#710,#5c0,#7e0,#aa0,#9d0,#780,#680,#5e0,#780,#cb0,#ca0,#530,#300,#860,#c10,#9e0,#8d0,#780,#490,#610,#c10,#c70,#720,#510,#6b0,#900,#a90,#940,#6b0,#6c0,#850,#840,#8b0,#9e0,#7e0,#580,#760,#a90,#9e0,#7a0,#690,#670,#870,#b40,#9b0,#5b0,#5c0,#990,#aa0,#7a0,#670,#870,#980,#7c0,#700,#860,#8f0,#820,#800,#800,#7c0,#870,#880,#720,#7d0,#a70,#8c0,#560,#740,#ad0,#8b0,#670,#8d0,#970,#660,#6e0,#a70,#970,#640,#750,#9d0,#880,#6c0,#7f0,#940,#860,#7b0,#7d0,#7a0,#840,#9b0,#880,#5e0,#6d0,#ac0,#ae0,#6d0,#510,#750,#aa0,#b00,#7b0,#520,#6f0,#a70,#9d0,#740,#730,#820,#800,#870,#920,#800,#6c0,#790,#940,#9b0,#830,#660,#6b0,#920,#a20,#8b0,#730,#6d0,#760,#8f0,#9c0,#890,#750,#6e0,#710,#950,#b90,#810,#3d0,#6c0,#db0,#b90,#480,#420,#9e0,#cc0,#910,#5b0,#610,#800,#940,#a30,#a10,#690,#3e0,#760,#e00,#c20,#520,#3a0,#810,#c90,#af0,#600,#4a0,#8d0,#c00,#880,#590,#770,#940,#890,#8c0,#8c0,#6b0,#680,#930,#a00,#830,#750,#770,#7e0,#920,#900,#6c0,#6c0,#9e0,#a70,#740,#5d0,#750)"></i><i style="background:linear-gradient(#940,#640,#550,#840,#b00,#a40,#7c0,#600,#660,#840,#9d0,#a50,#910,#5d0,#4d0,#910,#cd0,#920,#500,#660,#a10,#a70,#780,#5b0,#770,#a60,#a20,#7f0,#6b0,#5c0,#6d0,#c20,#d70,#630,#2d0,#760,#bb0,#a20,#920,#810,#4c0,#560,#b40,#ce0,#7e0,#540,#650,#890,#a70,#9a0,#700,#6b0,#820,#820,#880,#9f0,#850,#590,#6e0,#a40,#a30,#800,#6b0,#640,#7f0,#b10,#a40,#610,#570,#900,#ac0,#810,#670,#830,#980,#7f0,#6f0,#830,#8f0,#830,#810,#810,#7b0,#850,#8a0,#720,#780,#a50,#940,#590,#6c0,#aa0,#910,#670,#890,#9b0,#6a0,#680,#a20,#9d0,#670,#700,#9a0,#8c0,#6d0,#7c0,#930,#880,#7d0,#7e0,#790,#810,#9b0,#8e0,#600,#650,#a50,#b50,#770,#510,#6c0,#a30,#b40,#850,#550,#680,#a10,#a10,#780,#730,#810,#7f0,#850,#930,#840,#6d0,#750,#910,#9d0,#890,#690,#670,#8b0,#a20,#900,#770,#6d0,#730,#8b0,#9d0,#8d0,#780,#6e0,#6d0,#8e0,#bb0,#8d0,#400,#5e0,#d20,#c80,#530,#3c0,#8f0,#cb0,#9c0,#610,#5e0,#7a0,#8f0,#a20,#a80,#730,#3d0,#660,#d60,#d10,#600,#370,#730,#c20,#b90,#6a0,#470,#810,#bf0,#910,#5c0,#720,#910,#890,#8c0,#900,#6f0,#640,#8c0,#a10,#870,#770,#760,#7b0,#900,#930,#700,#680,#980,#ab0,#7c0,#5e0,#6f0,#8a0)"></i><i style="background:linear-gradient(#6b0,#520,#7a0,#ab0,#aa0,#840,#630,#620,#7e0,#980,#a70,#9a0,#640,#490,#840,#cb0,#9e0,#560,#5f0,#9a0,#aa0,#800,#5c0,#6f0,#a00,#a60,#850,#6f0,#5b0,#630,#b60,#e10,#750,#2d0,#680,#b30,#a50,#970,#8a0,#500,#4c0,#a60,#d20,#8b0,#580,#600,#810,#a40,#a00,#750,#6a0,#7f0,#810,#850,#a00,#8d0,#5c0,#670,#9e0,#a60,#860,#6f0,#630,#770,#ac0,#ac0,#690,#540,#880,#ac0,#870,#670,#7e0,#980,#830,#6f0,#800,#8e0,#850,#810,#820,#7b0,#840,#8c0,#740,#740,#a20,#9c0,#5d0,#650,#a50,#970,#690,#840,#9e0,#6e0,#630,#9d0,#a30,#6c0,#6c0,#970,#900,#6f0,#780,#910,#8a0,#7e0,#7e0,#790,#7e0,#9a0,#940,#640,#5f0,#9c0,#b90,#810,#530,#640,#9a0,#b70,#8f0,#590,#610,#9a0,#a40,#7d0,#730,#800,#7f0,#830,#930,#880,#6e0,#710,#8c0,#9d0,#8e0,#6c0,#640,#840,#a10,#940,#7b0,#6e0,#6f0,#860,#9c0,#910,#7c0,#6f0,#6a0,#860,#bb0,#9a0,#440,#520,#c50,#d40,#600,#380,#800,#c70,#a70,#690,#5d0,#740,#8a0,#9f0,#ae0,#7f0,#3e0,#580,#c80,#dd0,#6f0,#370,#650,#b90,#c20,#760,#470,#760,#bc0,#9b0,#600,#6d0,#8e0,#890,#8c0,#930,#740,#620,#860,#a00,#8b0,#790,#760,#790,#8e0,#960,#740,#650,#910,#ae0,#840,#600,#6b0,#840,#9a0)"></i><i style="background:linear-gradient(#510,#700,#a40,#ad0,#8c0,#680,#600,#770,#930,#a60,#a20,#6d0,#460,#760,#c60,#a90,#5c0,#5a0,#920,#ac0,#870,#5e0,#690,#9a0,#a80,#8c0,#750,#5c0,#5a0,#a80,#e80,#880,#300,#5b0,#a90,#a60,#9b0,#930,#570,#450,#970,#d30,#970,#5d0,#5d0,#7a0,#9f0,#a40,#7b0,#6a0,#7d0,#7f0,#820,#a00,#940,#600,#610,#960,#a70,#8c0,#730,#620,#700,#a60,#b20,#720,#520,#7f0,#ab0,#8d0,#690,#7a0,#980,#870,#700,#7d0,#8d0,#860,#820,#820,#7b0,#830,#8d0,#760,#700,#9e0,#a30,#630,#5f0,#9f0,#9b0,#6b0,#800,#a00,#740,#5f0,#960,#a70,#710,#690,#940,#930,#710,#750,#8f0,#8c0,#7f0,#7f0,#780,#7b0,#970,#9a0,#690,#5a0,#930,#bb0,#8c0,#570,#5e0,#910,#b70,#990,#5e0,#5c0,#920,#a60,#820,#740,#7f0,#7e0,#810,#920,#8c0,#710,#6e0,#870,#9d0,#940,#710,#620,#7e0,#9e0,#980,#800,#700,#6d0,#810,#9a0,#950,#800,#720,#670,#7e0,#b80,#a60,#4b0,#470,#b60,#de0,#700,#370,#720,#c10,#af0,#710,#5d0,#6f0,#840,#9b0,#b20,#8c0,#430,#4b0,#b80,#e50,#800,#3a0,#5a0,#ad0,#c70,#820,#480,#6b0,#b60,#a30,#650,#690,#8a0,#880,#8b0,#960,#790,#600,#7f0,#9f0,#8f0,#7c0,#760,#770,#8b0,#990,#780,#620,#8a0,#af0,#8c0,#630,#670,#7e0,#950,#ab0)"></i><i style="background:linear-gradient(#680,#9c0,#af0,#940,#6e0,#5f0,#710,#8c0,#a40,#a90,#770,#460,#6a0,#bf0,#b30,#640,#560,#890,#ac0,#8f0,#620,#630,#920,#a90,#920,#7b0,#5e0,#520,#990,#eb0,#9c0,#360,#500,#9e0,#a50,#9e0,#9c0,#600,#3f0,#870,#d10,#a30,#650,#5c0,#730,#990,#a70,#820,#6b0,#7b0,#7e0,#7f0,#9e0,#9b0,#650,#5d0,#8e0,#a70,#920,#780,#630,#690,#9e0,#b70,#7c0,#520,#760,#a80,#930,#6b0,#760,#960,#8b0,#710,#7a0,#8c0,#870,#820,#830,#7c0,#810,#8e0,#780,#6c0,#990,#a90,#6a0,#5b0,#980,#9f0,#6e0,#7c0,#a10,#7a0,#5d0,#8f0,#aa0,#770,#670,#900,#960,#740,#730,#8c0,#8d0,#810,#800,#790,#780,#940,#9e0,#6f0,#570,#890,#bb0,#960,#5c0,#590,#870,#b50,#a20,#650,#580,#8a0,#a60,#870,#750,#7e0,#7d0,#7f0,#910,#8f0,#740,#6c0,#820,#9b0,#980,#770,#610,#770,#9b0,#9b0,#850,#730,#6c0,#7c0,#970,#970,#840,#740,#660,#760,#b40,#b20,#540,#3f0,#a60,#e40,#800,#380,#650,#b80,#b70,#7a0,#5f0,#6b0,#7e0,#960,#b40,#980,#490,#410,#a70,#ea0,#920,#3f0,#500,#a00,#ca0,#8f0,#4c0,#610,#af0,#ab0,#6b0,#670,#870,#870,#8a0,#990,#7f0,#600,#790,#9c0,#920,#7f0,#780,#750,#870,#9a0,#7d0,#610,#820,#ae0,#940,#670,#650,#790,#900,#ab0,#a20)"></i><i style="background:linear-gradient(#930,#ae0,#9c0,#750,#600,#6c0,#860,#a10,#ae0,#820,#490,#5f0,#b50,#bb0,#6e0,#540,#810,#ab0,#960,#660,#5f0,#8a0,#a80,#980,#810,#620,#4d0,#890,#e90,#af0,#3f0,#470,#930,#a20,#9f0,#a40,#6a0,#3d0,#780,#cb0,#ad0,#6d0,#5c0,#6c0,#930,#a80,#880,#6d0,#790,#7d0,#7b0,#9b0,#a10,#6b0,#590,#860,#a60,#970,#7e0,#640,#630,#960,#ba0,#870,#540,#6e0,#a40,#980,#6e0,#730,#940,#8e0,#730,#780,#8a0,#870,#830,#840,#7c0,#800,#8e0,#7b0,#690,#930,#ad0,#710,#580,#900,#a20,#710,#780,#a10,#800,#5b0,#870,#ab0,#7d0,#650,#8b0,#990,#770,#710,#8a0,#8e0,#830,#810,#790,#750,#910,#a20,#760,#550,#7f0,#b90,#a00,#630,#550,#7d0,#b10,#aa0,#6d0,#550,#820,#a50,#8b0,#760,#7e0,#7d0,#7c0,#900,#920,#780,#6b0,#7d0,#990,#9c0,#7d0,#620,#720,#960,#9c0,#890,#760,#6b0,#770,#930,#990,#890,#780,#650,#6f0,#ad0,#bc0,#600,#390,#940,#e70,#910,#3c0,#590,#ae0,#bc0,#840,#620,#680,#780,#8f0,#b50,#a50,#520,#3a0,#940,#ea0,#a40,#460,#480,#920,#ca0,#9c0,#510,#590,#a60,#b00,#720,#650,#830,#860,#880,#9a0,#850,#610,#730,#980,#940,#820,#790,#740,#840,#9b0,#830,#600,#7b0,#ac0,#9b0,#6d0,#640,#730,#890,#a90,#aa0,#6f0)"></i><i style="background:linear-gradient(#ac0,#a20,#7c0,#620,#680,#7f0,#9c0,#b20,#8d0,#4d0,#550,#aa0,#c10,#780,#540,#790,#a80,#9d0,#6c0,#5c0,#820,#a50,#9c0,#880,#680,#490,#790,#e40,#c20,#4a0,#410,#870,#9e0,#9f0,#ac0,#750,#3c0,#690,#c30,#b60,#760,#5d0,#670,#8b0,#a80,#8e0,#700,#780,#7c0,#780,#970,#a60,#730,#570,#7e0,#a30,#9b0,#840,#680,#5e0,#8c0,#bb0,#910,#570,#670,#9f0,#9c0,#720,#700,#910,#910,#750,#760,#880,#880,#830,#850,#7d0,#7e0,#8f0,#7e0,#670,#8d0,#b00,#7a0,#560,#890,#a40,#740,#740,#a10,#870,#5b0,#7f0,#ab0,#830,#650,#860,#9a0,#7b0,#700,#870,#8e0,#840,#820,#7a0,#730,#8c0,#a50,#7e0,#550,#750,#b50,#a90,#6b0,#540,#740,#ab0,#b00,#760,#550,#7a0,#a20,#8f0,#780,#7e0,#7d0,#7a0,#8d0,#950,#7c0,#6a0,#790,#950,#9f0,#830,#630,#6c0,#900,#9d0,#8e0,#7a0,#6c0,#730,#8f0,#9a0,#8d0,#7c0,#660,#680,#a50,#c40,#6c0,#360,#830,#e50,#a20,#420,#4f0,#a10,#be0,#8e0,#660,#670,#730,#880,#b20,#b00,#5d0,#350,#820,#e60,#b50,#510,#420,#840,#c70,#a80,#580,#520,#9c0,#b50,#790,#650,#7f0,#840,#850,#9b0,#8b0,#640,#6e0,#940,#960,#850,#7b0,#730,#800,#9b0,#880,#610,#730,#a80,#a20,#740,#640,#6f0,#830,#a50,#b10,#7a0,#450)"></i><i style="background:linear-gradient(#a70,#840,#650,#650,#780,#960,#b30,#990,#530,#4d0,#9d0,#c50,#830,#550,#710,#a30,#a20,#730,#5a0,#7a0,#a10,#9f0,#8f0,#6f0,#470,#6a0,#da0,#d20,#580,#3d0,#7c0,#990,#9d0,#b20,#820,#3e0,#5c0,#b80,#bd0,#800,#600,#630,#840,#a60,#940,#730,#780,#7b0,#750,#920,#aa0,#7b0,#570,#760,#9f0,#9e0,#8a0,#6c0,#5b0,#820,#b90,#9b0,#5c0,#620,#980,#a00,#760,#6e0,#8e0,#930,#780,#740,#860,#880,#830,#860,#7e0,#7d0,#8f0,#820,#660,#860,#b20,#830,#550,#810,#a50,#780,#710,#9f0,#8d0,#5c0,#780,#aa0,#8a0,#650,#810,#9b0,#7f0,#6f0,#830,#8e0,#850,#830,#7c0,#710,#870,#a60,#860,#560,#6c0,#ae0,#b00,#740,#540,#6b0,#a30,#b50,#800,#560,#720,#9f0,#920,#7a0,#7e0,#7d0,#790,#8b0,#970,#800,#6b0,#740,#910,#a10,#8a0,#660,#680,#8a0,#9c0,#910,#7f0,#6d0,#6f0,#8a0,#990,#900,#810,#680,#620,#9c0,#ca0,#7a0,#350,#720,#e00,#b30,#4b0,#480,#950,#be0,#970,#6c0,#660,#6f0,#810,#ae0,#ba0,#6a0,#320,#700,#dd0,#c40,#5d0,#3f0,#770,#c10,#b20,#610,#4e0,#920,#b70,#810,#650,#7c0,#830,#830,#9b0,#910,#670,#690,#8f0,#970,#880,#7d0,#730,#7c0,#9a0,#8e0,#630,#6d0,#a20,#a70,#7b0,#650,#6b0,#7c0,#a00,#b60,#860,#480,#570)"></i><i style="background:linear-gradient(#8c0,#6a0,#630,#720,#8e0,#b30,#a40,#5b0,#470,#900,#c60,#8e0,#580,#6a0,#9d0,#a70,#7a0,#5a0,#730,#9c0,#a10,#960,#770,#470,#5b0,#cd0,#e00,#670,#3c0,#720,#920,#990,#b60,#900,#430,#510,#ab0,#c10,#8a0,#650,#600,#7c0,#a30,#990,#770,#780,#7b0,#720,#8d0,#ac0,#840,#580,#6f0,#990,#9f0,#900,#720,#590,#790,#b50,#a40,#620,#5d0,#910,#a20,#7b0,#6c0,#8a0,#950,#7b0,#730,#840,#880,#830,#860,#7f0,#7c0,#8e0,#850,#650,#7e0,#b20,#8c0,#570,#7a0,#a40,#7d0,#6e0,#9d0,#940,#5f0,#710,#a70,#900,#660,#7d0,#9b0,#830,#6f0,#800,#8d0,#860,#840,#7e0,#700,#820,#a60,#8e0,#580,#640,#a60,#b60,#7e0,#550,#630,#9a0,#b80,#8a0,#580,#6c0,#9a0,#950,#7d0,#7e0,#7e0,#770,#880,#980,#850,#6c0,#700,#8c0,#a10,#900,#6a0,#650,#840,#9a0,#940,#830,#6f0,#6c0,#850,#980,#930,#860,#6b0,#5d0,#910,#cd0,#8a0,#360,#620,#d70,#c20,#560,#420,#870,#bc0,#9f0,#720,#670,#6b0,#790,#a80,#c20,#790,#330,#5f0,#d20,#d10,#6b0,#3e0,#6a0,#b80,#bb0,#6b0,#4b0,#870,#b70,#890,#670,#7a0,#810,#800,#990,#970,#6b0,#660,#8a0,#970,#8a0,#800,#730,#790,#980,#930,#660,#670,#9c0,#ab0,#820,#680,#690,#750,#990,#b90,#930,#4e0,#4e0,#9b0)"></i><i style="background:linear-gradient(#700,#630,#6d0,#870,#b00,#ae0,#650,#440,#830,#c40,#980,#5c0,#640,#970,#aa0,#820,#5c0,#6c0,#960,#a20,#9b0,#810,#4a0,#4f0,#bc0,#ea0,#790,#3e0,#690,#8c0,#940,#b70,#9d0,#490,#480,#9e0,#c20,#940,#6b0,#5f0,#750,#9f0,#9c0,#7b0,#780,#7c0,#6f0,#870,#ad0,#8d0,#5b0,#680,#930,#a00,#960,#780,#590,#6f0,#af0,#ac0,#6a0,#5a0,#8a0,#a30,#800,#6c0,#860,#960,#7e0,#730,#820,#870,#830,#870,#800,#7b0,#8d0,#890,#660,#770,#b00,#950,#590,#730,#a30,#810,#6c0,#990,#9a0,#620,#6b0,#a30,#960,#690,#780,#9a0,#870,#6f0,#7d0,#8c0,#870,#860,#800,#6f0,#7d0,#a50,#960,#5d0,#5d0,#9d0,#b90,#890,#590,#5d0,#900,#b80,#940,#5c0,#660,#950,#970,#7f0,#7f0,#7f0,#760,#840,#980,#890,#6f0,#6d0,#860,#a00,#960,#6f0,#630,#7e0,#980,#970,#880,#720,#6a0,#7f0,#960,#950,#8a0,#700,#5a0,#860,#cd0,#990,#3b0,#540,#ca0,#cf0,#630,#3f0,#7a0,#b70,#a60,#790,#690,#690,#720,#a00,#c80,#880,#360,#510,#c30,#db0,#7a0,#400,#5f0,#ae0,#c20,#770,#490,#7c0,#b50,#900,#690,#780,#800,#7d0,#970,#9c0,#710,#640,#840,#950,#8c0,#820,#740,#750,#950,#980,#6a0,#620,#940,#ad0,#8a0,#6b0,#670,#700,#910,#ba0,#9f0,#550,#480,#8e0,#c30)"></i><i style="background:linear-gradient(#640,#680,#7f0,#ab0,#b60,#710,#420,#760,#c00,#a20,#620,#600,#8f0,#ab0,#8a0,#5f0,#660,#8f0,#a00,#a00,#8a0,#4f0,#440,#aa0,#f00,#8b0,#420,#610,#850,#8e0,#b70,#aa0,#530,#410,#8f0,#c10,#9d0,#710,#5f0,#6f0,#990,#9f0,#7f0,#790,#7c0,#6e0,#800,#ac0,#950,#5f0,#630,#8c0,#9f0,#9a0,#7f0,#5a0,#670,#a80,#b30,#730,#580,#830,#a30,#840,#6c0,#820,#970,#820,#730,#800,#870,#830,#870,#810,#7a0,#8c0,#8d0,#680,#710,#ac0,#9d0,#5d0,#6d0,#a00,#850,#6a0,#950,#9f0,#670,#650,#9e0,#9b0,#6c0,#740,#980,#8b0,#700,#7b0,#8b0,#880,#870,#820,#6f0,#780,#a30,#9e0,#630,#570,#920,#bb0,#930,#5e0,#580,#860,#b70,#9d0,#620,#620,#8f0,#980,#820,#800,#800,#750,#810,#970,#8e0,#720,#6b0,#810,#9e0,#9b0,#750,#620,#780,#940,#980,#8c0,#760,#690,#7a0,#920,#960,#8f0,#750,#580,#7b0,#ca0,#a80,#410,#480,#bc0,#d90,#710,#3f0,#6e0,#b00,#ac0,#810,#6c0,#670,#6c0,#970,#cb0,#990,#3c0,#440,#b20,#e10,#8a0,#440,#550,#a20,#c60,#830,#4a0,#720,#b10,#970,#6d0,#760,#7e0,#7a0,#940,#a00,#770,#620,#7f0,#940,#8e0,#850,#760,#730,#920,#9c0,#700,#5e0,#8c0,#ad0,#910,#700,#670,#6a0,#880,#b80,#ab0,#5f0,#440,#800,#c00,#9f0)"></i><i style="background:linear-gradient(#650,#770,#a50,#bd0,#7d0,#430,#6a0,#b90,#ab0,#690,#5c0,#870,#ab0,#920,#630,#620,#880,#9e0,#a30,#950,#560,#3c0,#970,#f10,#9d0,#480,#5c0,#7e0,#880,#b40,#b60,#5e0,#3d0,#810,#bd0,#a50,#790,#600,#690,#930,#a10,#830,#7b0,#7e0,#6d0,#7a0,#aa0,#9d0,#650,#5f0,#850,#9c0,#9e0,#860,#5d0,#600,#9f0,#b80,#7c0,#580,#7c0,#a20,#890,#6c0,#7f0,#970,#850,#740,#7e0,#860,#830,#870,#820,#790,#8b0,#900,#6a0,#6a0,#a70,#a50,#630,#670,#9d0,#8a0,#690,#900,#a40,#6d0,#610,#980,#9f0,#6f0,#710,#960,#8e0,#720,#780,#890,#880,#880,#840,#700,#730,#9f0,#a50,#6a0,#530,#880,#b90,#9d0,#650,#550,#7c0,#b30,#a50,#690,#5e0,#890,#980,#840,#800,#810,#750,#7d0,#960,#920,#750,#6a0,#7b0,#9b0,#a00,#7c0,#630,#730,#900,#980,#900,#7a0,#690,#760,#8f0,#960,#930,#7b0,#570,#700,#c50,#b70,#4b0,#3e0,#ab0,#df0,#810,#410,#630,#a70,#af0,#880,#700,#670,#660,#8c0,#cb0,#a90,#450,#3a0,#9f0,#e30,#9b0,#4b0,#4d0,#950,#c80,#8f0,#4d0,#690,#ac0,#9d0,#710,#750,#7d0,#770,#900,#a30,#7d0,#620,#7a0,#910,#8f0,#880,#780,#700,#8e0,#9f0,#760,#5c0,#830,#ac0,#980,#760,#680,#660,#800,#b40,#b50,#6a0,#420,#730,#ba0,#a70,#6f0)"></i><i style="background:linear-gradient(#6f0,#9c0,#c10,#8b0,#460,#5f0,#b00,#b20,#700,#5a0,#800,#a90,#9a0,#680,#5e0,#800,#9a0,#a50,#9e0,#5f0,#370,#840,#ee0,#af0,#510,#580,#770,#800,#ae0,#c10,#6b0,#3b0,#730,#b70,#ab0,#810,#630,#640,#8c0,#a10,#870,#7c0,#7f0,#6d0,#740,#a60,#a50,#6c0,#5d0,#7e0,#980,#a00,#8e0,#610,#5a0,#950,#ba0,#860,#590,#750,#9f0,#8e0,#6e0,#7b0,#960,#890,#750,#7d0,#850,#830,#870,#840,#790,#890,#930,#6d0,#650,#a00,#ab0,#690,#630,#990,#8e0,#680,#8a0,#a70,#730,#5e0,#910,#a20,#740,#6e0,#920,#920,#750,#760,#870,#880,#880,#870,#720,#6f0,#990,#aa0,#720,#510,#7d0,#b60,#a50,#6d0,#540,#720,#ad0,#ad0,#700,#5d0,#830,#970,#860,#810,#820,#750,#7a0,#940,#950,#7a0,#690,#760,#960,#a30,#830,#640,#6f0,#8b0,#970,#940,#7f0,#6a0,#720,#8a0,#960,#970,#810,#580,#660,#bc0,#c40,#560,#370,#990,#e20,#910,#450,#5a0,#9d0,#b10,#900,#750,#690,#610,#810,#c70,#b80,#500,#330,#8d0,#e10,#aa0,#540,#470,#880,#c70,#9c0,#520,#610,#a50,#a20,#750,#750,#7d0,#750,#8b0,#a50,#840,#640,#750,#8e0,#8f0,#8a0,#7b0,#6f0,#890,#a10,#7c0,#5b0,#7b0,#a90,#9d0,#7c0,#6b0,#630,#770,#ae0,#bd0,#770,#420,#670,#b20,#ae0,#760,#6c0)"></i><i style="background:linear-gradient(#930,#c20,#980,#4b0,#560,#a60,#b70,#790,#5a0,#780,#a60,#a10,#6f0,#5d0,#790,#950,#a50,#a70,#6b0,#340,#710,#e60,#bf0,#5b0,#560,#720,#790,#a70,#c90,#7a0,#3c0,#660,#ae0,#af0,#890,#680,#610,#850,#a00,#8b0,#7e0,#810,#6e0,#6e0,#a00,#ab0,#730,#5c0,#780,#940,#a10,#950,#670,#550,#8a0,#ba0,#8f0,#5c0,#6f0,#9c0,#920,#700,#770,#940,#8c0,#760,#7b0,#840,#820,#870,#850,#780,#870,#960,#720,#600,#990,#b00,#700,#600,#940,#910,#680,#850,#aa0,#7a0,#5c0,#8a0,#a40,#780,#6b0,#8f0,#940,#770,#750,#850,#870,#880,#890,#740,#6b0,#930,#ae0,#7b0,#500,#730,#b00,#ad0,#760,#540,#690,#a50,#b20,#790,#5c0,#7d0,#960,#880,#820,#840,#760,#770,#910,#980,#7f0,#6a0,#710,#910,#a40,#8a0,#670,#6b0,#850,#960,#960,#840,#6c0,#6e0,#860,#940,#990,#880,#5b0,#5c0,#b20,#ce0,#640,#330,#870,#e10,#a10,#4c0,#520,#920,#b00,#960,#7b0,#6b0,#5e0,#770,#c10,#c60,#5e0,#2f0,#7a0,#db0,#b90,#5f0,#440,#7a0,#c20,#a70,#580,#5a0,#9d0,#a60,#7a0,#750,#7d0,#730,#860,#a50,#8b0,#660,#710,#8a0,#8f0,#8c0,#7e0,#6e0,#840,#a30,#830,#5b0,#730,#a40,#a20,#820,#6e0,#620,#6e0,#a50,#c30,#850,#450,#5d0,#a80,#b20,#7d0,#6c0,#820)"></i><i style="background:linear-gradient(#c10,#a50,#530,#4e0,#9a0,#ba0,#820,#5b0,#710,#a10,#a60,#760,#5c0,#730,#8e0,#a30,#af0,#780,#340,#5f0,#da0,#cd0,#670,#560,#6e0,#710,#9e0,#ce0,#8a0,#3f0,#5b0,#a40,#b10,#910,#6d0,#5f0,#7e0,#9e0,#8e0,#800,#840,#6f0,#690,#990,#af0,#7c0,#5d0,#720,#8e0,#a00,#9c0,#6e0,#530,#800,#b80,#990,#600,#6a0,#970,#950,#720,#740,#920,#8f0,#780,#7a0,#830,#820,#860,#860,#780,#840,#980,#770,#5d0,#900,#b40,#780,#5e0,#8f0,#950,#690,#7f0,#aa0,#820,#5b0,#830,#a50,#7e0,#6a0,#8b0,#960,#7b0,#740,#830,#870,#880,#8c0,#770,#680,#8d0,#b10,#850,#520,#690,#a90,#b30,#800,#560,#610,#9c0,#b60,#820,#5d0,#770,#940,#890,#830,#850,#770,#740,#8d0,#9a0,#840,#6c0,#6d0,#8b0,#a50,#900,#6b0,#680,#800,#930,#980,#890,#6f0,#6c0,#810,#910,#9b0,#8f0,#5f0,#550,#a50,#d60,#740,#310,#760,#db0,#b00,#540,#4d0,#870,#ae0,#9c0,#810,#6f0,#5c0,#6c0,#b80,#d10,#6e0,#2e0,#690,#d10,#c50,#6b0,#430,#6e0,#bc0,#b10,#610,#550,#940,#a80,#800,#760,#7d0,#710,#800,#a40,#920,#690,#6e0,#870,#8e0,#8e0,#810,#6d0,#7f0,#a30,#8a0,#5d0,#6c0,#9e0,#a50,#890,#730,#610,#670,#9b0,#c70,#930,#4a0,#540,#9d0,#b50,#840,#6d0,#800,#820)"></i><i style="background:linear-gradient(#b10,#5c0,#490,#8e0,#bb0,#8c0,#5e0,#6a0,#9b0,#aa0,#7f0,#5d0,#6d0,#880,#9f0,#b50,#860,#370,#4f0,#ca0,#d80,#740,#580,#6a0,#6b0,#930,#d00,#9a0,#450,#520,#980,#b10,#990,#740,#5e0,#770,#9b0,#910,#820,#860,#720,#650,#910,#b20,#850,#5f0,#6c0,#880,#9e0,#a20,#760,#520,#750,#b40,#a10,#660,#650,#920,#980,#750,#720,#8f0,#910,#7b0,#790,#830,#810,#860,#870,#790,#820,#9a0,#7c0,#5b0,#870,#b50,#810,#5d0,#8a0,#970,#6b0,#790,#aa0,#8a0,#5c0,#7c0,#a40,#830,#690,#870,#970,#7e0,#740,#810,#860,#880,#8e0,#7a0,#660,#850,#b10,#8f0,#550,#610,#a00,#b60,#8a0,#5a0,#5b0,#920,#b70,#8b0,#600,#720,#910,#8a0,#840,#870,#790,#720,#890,#9a0,#890,#6e0,#6a0,#850,#a30,#970,#700,#670,#7b0,#8f0,#990,#8e0,#730,#6b0,#7c0,#8e0,#9b0,#960,#650,#4f0,#980,#db0,#840,#320,#660,#d30,#bd0,#5f0,#4a0,#7c0,#a90,#a00,#870,#740,#5c0,#630,#ac0,#d90,#800,#300,#590,#c40,#cf0,#790,#450,#620,#b30,#ba0,#6a0,#510,#8b0,#a90,#850,#780,#7e0,#710,#7b0,#a20,#980,#6e0,#6c0,#830,#8d0,#8f0,#840,#6e0,#7b0,#a20,#910,#600,#650,#970,#a60,#8f0,#780,#630,#600,#900,#c70,#a10,#520,#4d0,#910,#b50,#8b0,#6f0,#7f0,#830,#700)"></i><i style="background:linear-gradient(#680,#460,#820,#b90,#950,#620,#650,#940,#ad0,#870,#600,#680,#810,#9a0,#b90,#950,#3d0,#420,#b80,#df0,#820,#5c0,#690,#650,#880,#cf0,#a90,#4d0,#4b0,#8d0,#af0,#9f0,#7b0,#5f0,#710,#970,#920,#840,#890,#750,#620,#890,#b30,#8d0,#620,#680,#820,#9b0,#a60,#7f0,#530,#6c0,#ae0,#a80,#6c0,#620,#8d0,#9a0,#790,#700,#8b0,#930,#7d0,#790,#820,#800,#850,#880,#790,#7f0,#9a0,#820,#5a0,#7e0,#b50,#890,#5e0,#840,#990,#6d0,#730,#a80,#910,#5e0,#760,#a30,#880,#690,#820,#980,#820,#740,#7f0,#850,#870,#8f0,#7e0,#650,#7e0,#b00,#990,#5a0,#5a0,#960,#b80,#950,#600,#560,#880,#b60,#940,#630,#6e0,#8e0,#8b0,#840,#880,#7b0,#700,#850,#9a0,#8d0,#720,#680,#7e0,#a10,#9c0,#760,#660,#770,#8b0,#980,#930,#770,#6a0,#780,#8a0,#9a0,#9c0,#6d0,#4a0,#890,#dc0,#960,#360,#570,#c70,#c90,#6b0,#490,#720,#a30,#a30,#8d0,#7a0,#5e0,#5a0,#9f0,#de0,#920,#350,#4b0,#b40,#d50,#880,#480,#590,#a80,#c00,#750,#4f0,#820,#a80,#890,#790,#7f0,#700,#760,#9e0,#9d0,#730,#6a0,#7f0,#8b0,#900,#880,#6f0,#760,#9f0,#980,#650,#600,#8f0,#a60,#950,#7e0,#660,#5b0,#850,#c40,#ae0,#5b0,#480,#850,#b30,#920,#720,#7f0,#850,#700,#770)"></i><i style="background:linear-gradient(#450,#770,#b60,#9d0,#670,#610,#8c0,#ad0,#900,#640,#650,#7a0,#940,#bb0,#a40,#460,#380,#a50,#e20,#900,#610,#690,#610,#7c0,#ca0,#b80,#580,#470,#810,#ab0,#a40,#830,#610,#6c0,#920,#930,#850,#8b0,#790,#600,#810,#b10,#960,#670,#660,#7c0,#960,#a90,#890,#550,#630,#a60,#ae0,#730,#610,#870,#9b0,#7d0,#6e0,#880,#940,#800,#790,#810,#800,#840,#890,#7a0,#7c0,#9a0,#890,#5b0,#760,#b30,#920,#5f0,#7f0,#9b0,#710,#6e0,#a40,#990,#610,#700,#a00,#8d0,#6a0,#7e0,#980,#850,#740,#7d0,#830,#860,#910,#830,#650,#770,#ad0,#a20,#600,#550,#8b0,#b60,#9e0,#680,#530,#7d0,#b30,#9c0,#680,#6b0,#8a0,#8b0,#840,#8a0,#7e0,#6f0,#800,#990,#920,#760,#670,#780,#9d0,#a10,#7c0,#670,#730,#870,#970,#960,#7c0,#6b0,#740,#850,#980,#a20,#750,#480,#7b0,#da0,#a70,#3c0,#4a0,#b80,#d10,#790,#4a0,#690,#9c0,#a40,#920,#800,#610,#530,#900,#df0,#a50,#3d0,#410,#a30,#d80,#970,#4f0,#510,#9c0,#c40,#800,#4f0,#790,#a60,#8e0,#7b0,#810,#710,#710,#990,#a20,#790,#6a0,#7c0,#880,#900,#8b0,#710,#720,#9c0,#9e0,#6b0,#5d0,#860,#a40,#990,#850,#6a0,#570,#790,#be0,#b90,#670,#460,#7a0,#af0,#970,#750,#7e0,#860,#710,#720,#9c0)"></i><i style="background:linear-gradient(#6c0,#b00,#a40,#6d0,#5e0,#840,#ac0,#980,#6a0,#630,#740,#8c0,#ba0,#b20,#510,#300,#910,#e10,#9e0,#680,#6a0,#5e0,#700,#c20,#c50,#640,#450,#760,#a40,#a80,#8b0,#650,#670,#8c0,#930,#870,#8e0,#7e0,#5f0,#780,#ae0,#9e0,#6d0,#640,#760,#910,#ab0,#920,#5a0,#5c0,#9d0,#b20,#7b0,#600,#820,#9c0,#810,#6e0,#840,#940,#830,#7a0,#800,#800,#830,#8a0,#7b0,#7a0,#990,#8f0,#5d0,#6d0,#af0,#990,#620,#7a0,#9c0,#740,#690,#a00,#9f0,#650,#6a0,#9c0,#920,#6c0,#7a0,#970,#890,#760,#7c0,#820,#850,#910,#870,#660,#700,#a80,#aa0,#680,#510,#800,#b30,#a70,#700,#520,#730,#ae0,#a30,#6e0,#690,#860,#8a0,#850,#8b0,#800,#6f0,#7c0,#970,#960,#7b0,#670,#720,#980,#a40,#830,#690,#6f0,#820,#940,#990,#820,#6c0,#710,#810,#950,#a60,#7f0,#480,#6d0,#d40,#b80,#460,#400,#a80,#d60,#870,#4d0,#610,#930,#a40,#970,#870,#660,#4e0,#810,#db0,#b70,#480,#380,#920,#d60,#a60,#570,#4b0,#8f0,#c50,#8c0,#510,#710,#a20,#910,#7e0,#820,#720,#6c0,#940,#a50,#7f0,#6b0,#790,#850,#8f0,#8e0,#730,#6e0,#970,#a30,#710,#5a0,#7e0,#a10,#9d0,#8b0,#6f0,#560,#6e0,#b60,#c30,#740,#460,#6f0,#aa0,#9c0,#780,#7e0,#880,#720,#6e0,#970,#a70)"></i><i style="background:linear-gradient(#a80,#aa0,#740,#5c0,#7c0,#a90,#9f0,#700,#620,#6f0,#840,#b60,#bf0,#5f0,#2c0,#7d0,#db0,#aa0,#700,#6d0,#5c0,#650,#b70,#cf0,#720,#450,#6c0,#9d0,#a90,#920,#6a0,#640,#870,#920,#870,#8f0,#830,#600,#700,#a90,#a50,#730,#640,#710,#8a0,#aa0,#9c0,#600,#560,#930,#b40,#840,#610,#7c0,#9b0,#850,#6e0,#800,#940,#850,#7a0,#800,#7f0,#820,#8a0,#7d0,#770,#980,#950,#600,#660,#a90,#a00,#660,#760,#9c0,#780,#660,#9a0,#a50,#6b0,#660,#980,#960,#6e0,#760,#950,#8c0,#770,#7b0,#810,#830,#910,#8c0,#680,#690,#a20,#b00,#720,#500,#760,#ad0,#ae0,#7a0,#530,#6a0,#a70,#a90,#740,#680,#830,#8a0,#840,#8c0,#830,#6f0,#780,#940,#990,#800,#680,#6d0,#910,#a50,#890,#6c0,#6d0,#7d0,#910,#9b0,#870,#6f0,#6f0,#7c0,#910,#a90,#890,#4a0,#600,#ca0,#c70,#520,#390,#970,#d80,#960,#530,#5b0,#8a0,#a10,#9b0,#8e0,#6d0,#4c0,#730,#d40,#c80,#550,#330,#800,#d10,#b30,#610,#470,#820,#c40,#970,#550,#6a0,#9d0,#940,#800,#840,#750,#690,#8d0,#a60,#850,#6c0,#760,#830,#8e0,#910,#760,#6b0,#920,#a70,#790,#5a0,#760,#9c0,#9f0,#910,#760,#560,#640,#ab0,#ca0,#820,#480,#650,#a30,#9f0,#7c0,#7e0,#890,#740,#6a0,#900,#aa0,#800)"></i><i style="background:linear-gradient(#ae0,#7c0,#5d0,#740,#a50,#a50,#770,#630,#6a0,#7b0,#af0,#ca0,#6f0,#2a0,#6a0,#d20,#b40,#790,#710,#5d0,#5b0,#aa0,#d60,#820,#470,#630,#940,#a90,#990,#700,#620,#810,#910,#870,#910,#890,#620,#690,#a20,#aa0,#7b0,#650,#6d0,#830,#a80,#a40,#680,#520,#880,#b40,#8c0,#620,#770,#9a0,#890,#6e0,#7d0,#930,#880,#7b0,#800,#7f0,#810,#8a0,#7e0,#750,#950,#9b0,#650,#600,#a20,#a60,#6a0,#720,#9b0,#7d0,#630,#940,#a90,#710,#630,#930,#990,#710,#730,#920,#8e0,#790,#7a0,#800,#810,#910,#900,#6b0,#640,#9a0,#b50,#7c0,#500,#6c0,#a60,#b30,#840,#560,#620,#9f0,#ad0,#7b0,#680,#7f0,#890,#840,#8c0,#870,#710,#740,#900,#9b0,#860,#6a0,#690,#8b0,#a50,#900,#700,#6c0,#790,#8d0,#9c0,#8c0,#720,#6e0,#780,#8c0,#aa0,#930,#4e0,#550,#be0,#d40,#600,#340,#860,#d50,#a30,#5a0,#560,#820,#9e0,#9d0,#950,#750,#4b0,#650,#c90,#d60,#650,#310,#6f0,#c90,#be0,#6d0,#450,#750,#bf0,#a20,#5a0,#640,#980,#960,#820,#870,#770,#660,#860,#a60,#8b0,#6f0,#750,#800,#8c0,#930,#7a0,#690,#8c0,#aa0,#810,#5a0,#6f0,#960,#9f0,#970,#7e0,#580,#5b0,#9f0,#cd0,#900,#4c0,#5d0,#9a0,#a10,#7f0,#7e0,#8b0,#770,#670,#890,#ab0,#880,#5e0)"></i><i style="background:linear-gradient(#840,#5e0,#6d0,#9f0,#a90,#7f0,#660,#670,#730,#a60,#d20,#810,#2c0,#5a0,#c60,#bb0,#810,#770,#5f0,#530,#9c0,#d90,#910,#4c0,#5c0,#8b0,#a60,#9f0,#770,#620,#7c0,#8f0,#870,#910,#8e0,#650,#630,#9b0,#ad0,#830,#680,#690,#7c0,#a40,#ab0,#710,#500,#7e0,#b20,#940,#650,#730,#970,#8d0,#700,#790,#910,#8a0,#7c0,#800,#7f0,#7f0,#8a0,#800,#730,#910,#a00,#6b0,#5b0,#9a0,#ab0,#700,#6e0,#9a0,#820,#610,#8c0,#ac0,#780,#610,#8d0,#9c0,#750,#700,#8f0,#910,#7c0,#7a0,#7f0,#7f0,#8f0,#940,#700,#600,#910,#b80,#870,#520,#630,#9d0,#b50,#8f0,#5a0,#5c0,#960,#b00,#820,#680,#7c0,#870,#830,#8c0,#8a0,#720,#710,#8c0,#9c0,#8b0,#6e0,#660,#840,#a40,#960,#750,#6c0,#750,#880,#9b0,#910,#760,#6e0,#740,#860,#aa0,#9e0,#550,#4b0,#af0,#dd0,#700,#320,#750,#cf0,#b00,#630,#540,#790,#990,#9d0,#9b0,#7d0,#4c0,#580,#bb0,#e10,#770,#320,#600,#bd0,#c70,#7a0,#460,#690,#b90,#ac0,#610,#5f0,#910,#970,#840,#890,#7b0,#650,#7f0,#a50,#910,#720,#730,#7d0,#890,#940,#7e0,#670,#850,#ab0,#8a0,#5d0,#690,#8f0,#9f0,#9c0,#860,#5c0,#540,#920,#cd0,#9e0,#530,#570,#920,#a20,#830,#7e0,#8c0,#7b0,#650,#820,#ab0,#900,#600,#6d0)"></i><i style="background:linear-gradient(#610,#670,#970,#ac0,#870,#690,#650,#6b0,#9c0,#d70,#940,#310,#4b0,#b70,#c00,#8a0,#7d0,#630,#4d0,#8c0,#d80,#a10,#530,#570,#820,#a20,#a40,#7e0,#620,#770,#8c0,#860,#910,#940,#690,#5e0,#920,#af0,#8a0,#6b0,#670,#760,#9e0,#b10,#7b0,#500,#740,#ae0,#9b0,#690,#6f0,#940,#900,#720,#760,#8f0,#8b0,#7e0,#800,#7f0,#7e0,#8a0,#820,#710,#8d0,#a40,#720,#570,#910,#ae0,#760,#6c0,#980,#870,#600,#850,#ae0,#7f0,#600,#870,#9d0,#790,#6e0,#8c0,#920,#7e0,#7a0,#7e0,#7e0,#8d0,#970,#750,#5d0,#880,#b90,#920,#570,#5c0,#930,#b60,#990,#610,#570,#8c0,#b00,#8a0,#6a0,#7a0,#860,#820,#8b0,#8c0,#750,#6e0,#870,#9b0,#910,#720,#640,#7d0,#a10,#9b0,#7a0,#6c0,#720,#830,#9a0,#960,#7b0,#6e0,#710,#800,#a70,#a70,#5d0,#440,#9f0,#e30,#820,#330,#650,#c60,#bb0,#6e0,#530,#710,#930,#9d0,#9f0,#870,#500,#4e0,#ab0,#e80,#8a0,#360,#530,#af0,#cc0,#880,#490,#5f0,#b00,#b40,#690,#5b0,#8b0,#970,#860,#8b0,#7f0,#640,#790,#a20,#960,#760,#730,#7b0,#870,#950,#830,#670,#7f0,#aa0,#920,#610,#640,#880,#9c0,#9f0,#8e0,#620,#4e0,#840,#ca0,#ab0,#5c0,#520,#890,#a10,#860,#7e0,#8e0,#7f0,#640,#7b0,#a90,#980,#650,#680,#950)"></i><i style="background:linear-gradient(#620,#8f0,#ad0,#8f0,#6e0,#650,#640,#900,#d80,#a80,#3a0,#3f0,#a70,#c20,#920,#840,#690,#480,#7d0,#d40,#af0,#5c0,#540,#790,#9d0,#a70,#860,#640,#730,#8a0,#850,#900,#980,#6f0,#5a0,#890,#af0,#920,#700,#670,#6f0,#970,#b40,#850,#510,#6b0,#a80,#a10,#6e0,#6c0,#910,#930,#740,#740,#8c0,#8d0,#7f0,#800,#7f0,#7d0,#890,#840,#700,#880,#a70,#7a0,#550,#870,#af0,#7c0,#6a0,#960,#8c0,#600,#7d0,#ad0,#870,#600,#820,#9e0,#7d0,#6d0,#880,#930,#810,#7b0,#7d0,#7c0,#8b0,#9a0,#7b0,#5b0,#7e0,#b70,#9d0,#5d0,#570,#880,#b40,#a20,#680,#530,#820,#ae0,#900,#6d0,#770,#850,#810,#8a0,#8f0,#780,#6c0,#820,#9a0,#950,#780,#630,#760,#9d0,#9e0,#800,#6e0,#6f0,#7e0,#970,#990,#800,#700,#6f0,#7a0,#a30,#b00,#670,#3e0,#8e0,#e50,#940,#370,#580,#ba0,#c30,#790,#550,#6b0,#8c0,#9a0,#a30,#910,#560,#450,#990,#ea0,#9e0,#3d0,#480,#a00,#ce0,#960,#4f0,#560,#a50,#ba0,#720,#5a0,#840,#960,#870,#8c0,#840,#650,#720,#9e0,#9a0,#7a0,#730,#790,#840,#950,#870,#670,#780,#a80,#9a0,#660,#600,#810,#980,#a10,#970,#690,#4b0,#760,#c40,#b70,#660,#500,#800,#9f0,#880,#7e0,#8f0,#830,#650,#740,#a50,#9e0,#6a0,#640,#8f0,#9d0)"></i><i style="background:linear-gradient(#870,#ac0,#970,#740,#660,#5e0,#830,#d50,#bb0,#450,#370,#960,#c00,#980,#8b0,#710,#470,#6e0,#cc0,#bb0,#670,#520,#710,#960,#a90,#8d0,#680,#700,#870,#830,#8e0,#9d0,#760,#580,#7f0,#ac0,#980,#760,#670,#6a0,#8f0,#b60,#900,#550,#630,#a10,#a60,#740,#690,#8d0,#950,#770,#720,#890,#8e0,#810,#810,#800,#7c0,#890,#860,#700,#830,#a90,#820,#540,#7e0,#af0,#820,#680,#930,#910,#610,#760,#ac0,#8e0,#610,#7c0,#9e0,#820,#6c0,#840,#930,#830,#7b0,#7d0,#7a0,#880,#9c0,#810,#5b0,#750,#b30,#a60,#650,#530,#7e0,#b00,#aa0,#710,#520,#790,#ab0,#960,#710,#760,#830,#800,#890,#910,#7c0,#6c0,#7d0,#980,#990,#7e0,#640,#700,#970,#a10,#860,#710,#6e0,#790,#930,#9b0,#850,#730,#6d0,#740,#9d0,#b60,#730,#3c0,#7d0,#e30,#a60,#3e0,#4c0,#ac0,#c80,#860,#580,#650,#850,#960,#a50,#9b0,#5f0,#3f0,#870,#e70,#b10,#460,#400,#900,#cd0,#a40,#570,#4f0,#9a0,#be0,#7c0,#590,#7e0,#940,#880,#8e0,#880,#670,#6c0,#980,#9d0,#7f0,#740,#770,#800,#950,#8c0,#680,#720,#a40,#a10,#6d0,#5e0,#7a0,#930,#a10,#9e0,#720,#4a0,#690,#bb0,#c10,#720,#4f0,#770,#9c0,#8b0,#7e0,#8f0,#880,#660,#6e0,#a00,#a40,#700,#610,#890,#9d0,#860)"></i><i style="background:linear-gradient(#a90,#9d0,#7b0,#690,#5b0,#760,#ce0,#cc0,#530,#310,#850,#bc0,#9e0,#920,#7a0,#470,#600,#c10,#c60,#730,#530,#6a0,#8e0,#a90,#940,#6c0,#6e0,#840,#810,#8c0,#a00,#7d0,#570,#760,#a80,#9e0,#7c0,#690,#650,#860,#b50,#9b0,#5b0,#5c0,#990,#a90,#7a0,#680,#880,#970,#7b0,#700,#860,#8e0,#820,#810,#800,#7c0,#880,#880,#700,#7e0,#a90,#8b0,#560,#760,#ad0,#880,#680,#900,#960,#640,#6f0,#a80,#950,#640,#770,#9d0,#860,#6c0,#800,#930,#860,#7c0,#7d0,#790,#840,#9d0,#880,#5c0,#6d0,#ad0,#af0,#6e0,#520,#740,#a90,#b10,#7c0,#530,#700,#a60,#9c0,#750,#750,#820,#7f0,#870,#930,#800,#6c0,#780,#940,#9c0,#840,#660,#6a0,#910,#a20,#8b0,#750,#6d0,#750,#8f0,#9c0,#8a0,#760,#6d0,#6f0,#960,#bb0,#800,#3c0,#6d0,#dd0,#b80,#470,#430,#9d0,#ca0,#920,#5d0,#610,#7e0,#910,#a50,#a40,#690,#3b0,#750,#e00,#c30,#530,#3a0,#800,#c80,#b00,#600,#4a0,#8e0,#bf0,#860,#5a0,#780,#920,#880,#8e0,#8d0,#6a0,#680,#920,#9f0,#830,#760,#760,#7d0,#930,#900,#6b0,#6c0,#9f0,#a70,#740,#5e0,#740,#8d0,#a00,#a50,#7c0,#4b0,#5e0,#af0,#c70,#7f0,#510,#700,#980,#8c0,#7e0,#8f0,#8c0,#690,#680,#990,#a90,#770,#600,#820,#9d0,#8a0,#780)"></i><i style="background:linear-gradient(#a20,#820,#6d0,#580,#6a0,#c40,#da0,#640,#2f0,#750,#b50,#a10,#980,#840,#4a0,#540,#b30,#cd0,#800,#570,#640,#860,#a60,#9b0,#710,#6c0,#810,#7f0,#890,#a20,#850,#590,#6e0,#a30,#a20,#830,#6d0,#620,#7d0,#b20,#a50,#620,#570,#900,#ab0,#800,#680,#840,#980,#7f0,#700,#830,#8e0,#830,#820,#810,#7b0,#860,#8a0,#700,#790,#a80,#940,#580,#6d0,#a90,#8e0,#680,#8c0,#9a0,#680,#690,#a30,#9c0,#670,#720,#9b0,#8b0,#6d0,#7d0,#920,#880,#7e0,#7e0,#780,#810,#9d0,#8f0,#5f0,#650,#a50,#b50,#780,#520,#6a0,#a10,#b50,#860,#550,#680,#a00,#a00,#790,#750,#810,#7e0,#850,#940,#840,#6d0,#740,#900,#9e0,#8a0,#690,#660,#8a0,#a10,#910,#790,#6e0,#710,#890,#9c0,#8e0,#7a0,#6e0,#6a0,#8e0,#be0,#8e0,#3e0,#5e0,#d20,#c80,#540,#3d0,#8d0,#c90,#9d0,#640,#5f0,#780,#8b0,#a30,#ad0,#750,#3b0,#640,#d50,#d20,#620,#380,#710,#c00,#ba0,#6b0,#480,#810,#be0,#900,#5d0,#730,#8f0,#870,#8e0,#920,#6e0,#640,#8c0,#9f0,#880,#780,#760,#7a0,#910,#940,#6e0,#680,#980,#ac0,#7d0,#5f0,#6e0,#870,#9d0,#aa0,#870,#4f0,#540,#a10,#cb0,#8c0,#540,#6a0,#930,#8d0,#7e0,#8f0,#910,#6d0,#640,#920,#ab0,#7f0,#600,#7c0,#9b0,#8e0,#7b0,#740)"></i><i style="background:linear-gradient(#890,#730,#580,#5e0,#b60,#e50,#770,#2f0,#660,#ac0,#a20,#9d0,#8f0,#4f0,#4a0,#a40,#d00,#8d0,#5b0,#600,#7e0,#a20,#a00,#770,#6c0,#7e0,#7e0,#850,#a30,#8e0,#5b0,#670,#9c0,#a50,#890,#710,#610,#750,#ac0,#ad0,#6a0,#540,#870,#ab0,#860,#680,#7f0,#980,#830,#700,#800,#8d0,#840,#820,#820,#7b0,#850,#8c0,#720,#730,#a50,#9c0,#5d0,#660,#a40,#940,#690,#880,#9e0,#6c0,#640,#9d0,#a10,#6b0,#6e0,#980,#8f0,#6f0,#790,#900,#8a0,#7f0,#7f0,#770,#7d0,#9b0,#950,#630,#5e0,#9c0,#ba0,#830,#540,#620,#980,#b70,#910,#590,#610,#980,#a20,#7e0,#750,#800,#7d0,#830,#940,#880,#6e0,#700,#8b0,#9e0,#900,#6d0,#630,#830,#9f0,#950,#7e0,#6f0,#6e0,#840,#9b0,#920,#7e0,#700,#670,#850,#be0,#9b0,#430,#510,#c50,#d50,#620,#390,#7e0,#c40,#a80,#6c0,#5e0,#720,#850,#9f0,#b30,#820,#3d0,#550,#c60,#de0,#730,#390,#630,#b50,#c30,#780,#470,#750,#bb0,#9a0,#610,#6f0,#8b0,#860,#8e0,#960,#730,#610,#850,#9e0,#8c0,#7b0,#760,#780,#8e0,#970,#730,#640,#910,#ae0,#850,#610,#6a0,#800,#980,#ad0,#930,#550,#4c0,#930,#cb0,#980,#5a0,#640,#8e0,#8e0,#7e0,#8d0,#950,#710,#600,#8a0,#ad0,#870,#610,#760,#980,#910,#7e0,#750,#700)"></i><i style="background:linear-gradient(#790,#5a0,#540,#a60,#ec0,#8c0,#330,#5a0,#a10,#a10,#a10,#9a0,#570,#420,#930,#d00,#9a0,#620,#5d0,#760,#9d0,#a40,#7d0,#6d0,#7d0,#7c0,#810,#a20,#960,#600,#610,#940,#a60,#900,#760,#600,#6c0,#a50,#b40,#740,#530,#7e0,#a90,#8d0,#6a0,#7b0,#970,#870,#700,#7d0,#8c0,#850,#830,#830,#7b0,#840,#8d0,#740,#6f0,#a00,#a30,#620,#600,#9e0,#980,#6b0,#830,#a10,#720,#5f0,#960,#a50,#710,#6a0,#940,#920,#710,#760,#8e0,#8b0,#810,#800,#770,#790,#990,#9c0,#690,#590,#920,#bc0,#8e0,#590,#5c0,#8d0,#b70,#9b0,#600,#5c0,#900,#a40,#820,#760,#7f0,#7c0,#800,#930,#8d0,#710,#6d0,#850,#9d0,#960,#730,#610,#7c0,#9c0,#980,#830,#720,#6c0,#7e0,#980,#960,#830,#730,#640,#7c0,#bb0,#a90,#4b0,#450,#b50,#df0,#720,#380,#6f0,#bd0,#b00,#750,#600,#6d0,#7e0,#990,#b70,#900,#420,#480,#b50,#e60,#850,#3c0,#570,#a90,#c80,#850,#490,#6a0,#b50,#a20,#660,#6b0,#880,#850,#8c0,#990,#790,#600,#7e0,#9c0,#8f0,#7e0,#770,#750,#8b0,#9a0,#770,#610,#890,#af0,#8e0,#660,#670,#7a0,#920,#ae0,#9e0,#5d0,#460,#840,#c80,#a40,#610,#610,#890,#8e0,#7d0,#8c0,#990,#770,#5e0,#820,#ac0,#8e0,#630,#710,#940,#930,#820,#770,#6e0,#830)"></i><i style="background:linear-gradient(#5e0,#4c0,#950,#ee0,#a10,#3a0,#500,#960,#9e0,#a20,#a40,#610,#3d0,#830,#cd0,#a60,#6a0,#5d0,#6f0,#960,#a70,#830,#6e0,#7b0,#7a0,#7d0,#a00,#9d0,#660,#5c0,#8b0,#a50,#950,#7d0,#620,#650,#9d0,#b90,#7f0,#530,#750,#a60,#920,#6c0,#770,#960,#8a0,#710,#7a0,#8b0,#860,#830,#840,#7b0,#820,#8f0,#760,#6b0,#9b0,#aa0,#690,#5c0,#980,#9c0,#6d0,#7f0,#a30,#780,#5c0,#8f0,#a80,#760,#680,#900,#950,#740,#730,#8c0,#8c0,#820,#810,#770,#760,#950,#a10,#700,#550,#870,#bb0,#990,#5f0,#570,#830,#b40,#a50,#670,#580,#880,#a30,#870,#770,#7f0,#7c0,#7e0,#920,#900,#750,#6b0,#800,#9b0,#9b0,#790,#610,#750,#980,#9b0,#880,#750,#6b0,#790,#950,#980,#880,#770,#630,#730,#b60,#b60,#550,#3d0,#a30,#e50,#840,#3a0,#620,#b30,#b70,#7f0,#620,#6a0,#780,#920,#b90,#9f0,#4a0,#3d0,#a10,#e90,#980,#430,#4d0,#9b0,#ca0,#920,#4d0,#600,#ad0,#aa0,#6d0,#690,#840,#830,#8a0,#9c0,#800,#600,#780,#990,#920,#810,#780,#730,#870,#9b0,#7d0,#5f0,#810,#ae0,#960,#6b0,#650,#740,#8b0,#ad0,#a80,#680,#430,#760,#c20,#af0,#690,#5f0,#840,#8d0,#7d0,#890,#9b0,#7d0,#5e0,#7a0,#aa0,#960,#670,#6d0,#900,#940,#850,#790,#6d0,#7d0,#ab0)"></i><i style="background:linear-gradient(#460,#830,#eb0,#b50,#440,#480,#8a0,#9a0,#a20,#ae0,#6d0,#3b0,#730,#c50,#af0,#740,#5e0,#690,#8f0,#a70,#8a0,#700,#7a0,#790,#780,#9c0,#a40,#6d0,#590,#830,#a20,#9a0,#830,#650,#5f0,#930,#bb0,#8a0,#550,#6e0,#a20,#970,#6f0,#740,#940,#8e0,#730,#780,#890,#860,#840,#850,#7b0,#810,#900,#790,#670,#940,#af0,#720,#580,#900,#9f0,#6f0,#7b0,#a40,#7f0,#5b0,#870,#aa0,#7d0,#660,#8c0,#980,#770,#720,#890,#8d0,#840,#820,#780,#730,#910,#a50,#780,#530,#7c0,#b80,#a40,#670,#540,#780,#ae0,#ad0,#700,#560,#800,#a20,#8b0,#790,#7f0,#7b0,#7b0,#900,#940,#790,#6a0,#7b0,#970,#9e0,#800,#620,#6f0,#920,#9c0,#8d0,#790,#6b0,#740,#900,#990,#8c0,#7b0,#630,#6a0,#ae0,#c10,#610,#370,#910,#e60,#960,#3f0,#560,#a70,#bb0,#890,#670,#680,#720,#8a0,#b80,#ac0,#540,#360,#8e0,#e80,#aa0,#4c0,#460,#8c0,#c80,#a00,#530,#580,#a40,#af0,#740,#680,#810,#810,#870,#9d0,#870,#620,#720,#950,#940,#840,#7a0,#720,#830,#9c0,#830,#5f0,#790,#ab0,#9e0,#710,#650,#6f0,#840,#a90,#b10,#730,#430,#680,#b90,#b70,#720,#5e0,#7f0,#8c0,#7c0,#860,#9d0,#840,#5e0,#720,#a60,#9c0,#6c0,#690,#8b0,#950,#880,#7c0,#6c0,#760,#a80,#a70)"></i><i style="background:linear-gradient(#710,#e30,#c80,#510,#440,#7f0,#940,#a00,#b50,#7b0,#3b0,#640,#bc0,#b70,#7e0,#610,#640,#870,#a60,#900,#730,#7a0,#790,#740,#980,#a90,#750,#580,#7a0,#9e0,#9d0,#8a0,#690,#5b0,#880,#bb0,#940,#5a0,#670,#9c0,#9b0,#730,#710,#910,#910,#760,#760,#870,#860,#840,#860,#7c0,#7f0,#910,#7d0,#640,#8d0,#b20,#7a0,#570,#890,#a10,#720,#760,#a30,#860,#5b0,#7f0,#aa0,#830,#660,#870,#990,#7b0,#700,#860,#8d0,#850,#840,#7a0,#700,#8c0,#a80,#800,#530,#710,#b20,#ac0,#700,#540,#6e0,#a70,#b30,#7a0,#560,#780,#9f0,#8e0,#7b0,#7f0,#7c0,#790,#8d0,#960,#7d0,#6a0,#750,#930,#a10,#870,#650,#6a0,#8c0,#9b0,#910,#7e0,#6c0,#700,#8b0,#990,#900,#800,#650,#630,#a40,#c90,#6f0,#340,#7e0,#e30,#a80,#460,#4d0,#9a0,#bc0,#930,#6c0,#670,#6d0,#820,#b40,#b90,#610,#320,#7a0,#e20,#bb0,#570,#410,#7d0,#c40,#ac0,#5b0,#520,#990,#b30,#7b0,#680,#7e0,#800,#840,#9e0,#8d0,#650,#6d0,#910,#950,#870,#7d0,#720,#7f0,#9c0,#890,#600,#710,#a60,#a40,#790,#660,#6b0,#7c0,#a40,#b80,#800,#450,#5c0,#ae0,#bd0,#7d0,#5f0,#7b0,#8b0,#7b0,#830,#9e0,#8b0,#610,#6b0,#a00,#a20,#710,#670,#860,#940,#8b0,#7f0,#6d0,#700,#a20,#af0,#670)"></i><i style="background:linear-gradient(#d60,#d80,#600,#420,#750,#8d0,#9b0,#bb0,#8a0,#3f0,#570,#af0,#bc0,#880,#650,#610,#7f0,#a40,#950,#770,#7b0,#790,#700,#920,#ad0,#7e0,#580,#720,#990,#9f0,#910,#6f0,#580,#7d0,#b80,#9f0,#5f0,#610,#950,#9e0,#770,#6f0,#8e0,#930,#790,#750,#850,#860,#840,#870,#7d0,#7d0,#910,#810,#630,#850,#b40,#840,#570,#810,#a20,#760,#720,#a20,#8e0,#5c0,#770,#a80,#890,#660,#820,#9a0,#7f0,#700,#830,#8c0,#860,#860,#7c0,#6e0,#860,#a90,#890,#550,#680,#aa0,#b30,#7b0,#550,#660,#9e0,#b70,#840,#580,#710,#9b0,#910,#7d0,#800,#7c0,#770,#8a0,#980,#820,#6b0,#710,#8d0,#a20,#8e0,#690,#670,#860,#9a0,#940,#830,#6e0,#6d0,#860,#970,#930,#860,#680,#5c0,#990,#cf0,#7f0,#340,#6d0,#dc0,#b80,#510,#470,#8c0,#ba0,#9b0,#730,#680,#690,#790,#ae0,#c40,#710,#310,#670,#d70,#ca0,#650,#3f0,#6f0,#bc0,#b60,#650,#4d0,#8f0,#b40,#830,#690,#7c0,#7e0,#810,#9d0,#940,#690,#690,#8b0,#940,#8a0,#800,#720,#7b0,#9b0,#8f0,#620,#6a0,#9f0,#a80,#800,#690,#680,#740,#9c0,#bc0,#8e0,#4a0,#520,#a10,#c10,#870,#610,#770,#8a0,#7b0,#800,#9d0,#920,#640,#660,#9a0,#a60,#780,#660,#810,#930,#8d0,#830,#6e0,#6b0,#9c0,#b60,#720,#440)"></i><i style="background:linear-gradient(#e50,#710,#430,#6d0,#850,#950,#be0,#990,#450,#4d0,#a10,#be0,#920,#6b0,#5f0,#770,#a00,#990,#7b0,#7c0,#790,#6d0,#8b0,#af0,#880,#5a0,#6c0,#930,#9f0,#970,#760,#570,#730,#b30,#a80,#660,#5d0,#8e0,#a00,#7b0,#6d0,#8a0,#950,#7c0,#740,#830,#860,#840,#870,#7e0,#7c0,#910,#850,#620,#7d0,#b30,#8d0,#580,#7a0,#a20,#7a0,#6f0,#9f0,#950,#5f0,#700,#a50,#8f0,#670,#7d0,#9a0,#830,#700,#800,#8b0,#870,#870,#7e0,#6d0,#800,#a90,#920,#590,#600,#a10,#b80,#860,#580,#5e0,#930,#b90,#8f0,#5b0,#6b0,#960,#930,#7f0,#810,#7d0,#750,#860,#990,#870,#6e0,#6d0,#870,#a10,#950,#6e0,#640,#800,#970,#970,#880,#710,#6a0,#800,#950,#950,#8c0,#6c0,#570,#8d0,#d10,#900,#360,#5c0,#d10,#c70,#5d0,#420,#7f0,#b50,#a30,#7a0,#6b0,#670,#700,#a50,#cb0,#820,#330,#570,#c90,#d50,#750,#400,#630,#b20,#bf0,#700,#4b0,#830,#b40,#8b0,#6b0,#7a0,#7c0,#7d0,#9b0,#9a0,#6e0,#660,#860,#930,#8c0,#830,#720,#770,#990,#950,#660,#640,#980,#ab0,#880,#6d0,#670,#6d0,#930,#be0,#9c0,#520,#4a0,#930,#c10,#910,#650,#740,#880,#7b0,#7c0,#9c0,#980,#690,#610,#920,#a80,#7e0,#660,#7d0,#910,#8f0,#870,#710,#660,#940,#bb0,#7e0,#440,#710)"></i><i style="background:linear-gradient(#840,#460,#660,#7e0,#8d0,#be0,#a80,#4e0,#450,#930,#bd0,#9b0,#730,#5f0,#700,#9a0,#9c0,#7f0,#7d0,#7b0,#6b0,#840,#af0,#910,#5e0,#660,#8c0,#9e0,#9c0,#7e0,#570,#6a0,#ac0,#af0,#6f0,#5b0,#870,#a10,#800,#6c0,#860,#960,#800,#740,#810,#850,#830,#880,#7f0,#7b0,#900,#8a0,#630,#750,#b10,#970,#5b0,#740,#a00,#7e0,#6c0,#9c0,#9b0,#620,#6a0,#a10,#950,#6a0,#790,#990,#870,#710,#7d0,#8a0,#870,#890,#810,#6c0,#7a0,#a70,#9b0,#5e0,#590,#960,#ba0,#910,#5d0,#590,#890,#b80,#990,#600,#660,#910,#940,#810,#820,#7e0,#740,#830,#990,#8c0,#710,#6b0,#810,#9f0,#9b0,#740,#630,#7a0,#930,#980,#8d0,#750,#690,#7b0,#910,#970,#910,#720,#540,#800,#d00,#a10,#3c0,#4e0,#c30,#d30,#6b0,#410,#720,#af0,#a80,#820,#6e0,#660,#680,#9b0,#d00,#940,#380,#480,#b70,#dd0,#860,#440,#580,#a60,#c50,#7d0,#4b0,#790,#b10,#920,#6e0,#790,#7b0,#790,#980,#9f0,#740,#640,#810,#920,#8e0,#860,#740,#740,#960,#9a0,#6b0,#5f0,#8f0,#ac0,#900,#720,#670,#670,#890,#bc0,#a90,#5b0,#450,#850,#be0,#9a0,#6a0,#720,#870,#7b0,#780,#990,#9e0,#6f0,#5d0,#8a0,#a90,#850,#670,#780,#8e0,#900,#8a0,#740,#630,#8b0,#bd0,#8a0,#460,#650,#b90)"></i><i style="background:linear-gradient(#4c0,#610,#770,#840,#bb0,#b60,#5a0,#3f0,#840,#b90,#a30,#7b0,#600,#6a0,#940,#9e0,#830,#7f0,#7d0,#690,#7c0,#ad0,#9a0,#630,#620,#840,#9b0,#a00,#860,#5a0,#610,#a30,#b50,#780,#5a0,#800,#a00,#850,#6c0,#820,#960,#830,#750,#800,#850,#830,#880,#800,#790,#8f0,#8e0,#650,#6d0,#ac0,#9f0,#600,#6e0,#9e0,#820,#690,#970,#a10,#680,#650,#9c0,#9a0,#6d0,#750,#970,#8b0,#720,#7a0,#880,#870,#8a0,#840,#6d0,#740,#a30,#a30,#650,#540,#8b0,#b90,#9b0,#650,#550,#7e0,#b40,#a20,#670,#620,#8b0,#950,#830,#830,#800,#730,#7f0,#970,#910,#750,#690,#7b0,#9c0,#a00,#7b0,#630,#740,#8e0,#980,#910,#7a0,#690,#760,#8d0,#960,#960,#790,#530,#740,#cc0,#b10,#450,#430,#b20,#db0,#7b0,#420,#670,#a60,#ac0,#890,#730,#660,#620,#8f0,#d10,#a60,#400,#3d0,#a40,#e00,#970,#4b0,#4f0,#980,#c70,#890,#4d0,#6f0,#ac0,#980,#720,#790,#7b0,#750,#930,#a30,#7b0,#640,#7c0,#8f0,#8e0,#890,#760,#710,#920,#9f0,#710,#5c0,#860,#ab0,#960,#780,#690,#630,#7f0,#b80,#b50,#670,#420,#770,#b90,#a20,#6f0,#710,#860,#7b0,#750,#950,#a20,#760,#5c0,#820,#a90,#8c0,#690,#740,#8b0,#900,#8e0,#780,#600,#810,#bd0,#970,#4a0,#5a0,#af0,#ba0)"></i><i style="background:linear-gradient(#5e0,#710,#7b0,#b50,#c30,#670,#3d0,#760,#b20,#a90,#830,#640,#650,#8d0,#9e0,#860,#810,#800,#690,#750,#a90,#a20,#6a0,#5f0,#7d0,#960,#a30,#8f0,#5f0,#5a0,#980,#b80,#820,#5b0,#790,#9f0,#8a0,#6d0,#7e0,#960,#860,#750,#7e0,#840,#820,#880,#820,#780,#8d0,#930,#680,#670,#a60,#a70,#650,#690,#9b0,#860,#670,#910,#a60,#6e0,#610,#960,#9d0,#700,#710,#950,#8f0,#740,#780,#860,#860,#8a0,#870,#6e0,#6f0,#9e0,#aa0,#6e0,#510,#7f0,#b60,#a50,#6d0,#530,#730,#ae0,#aa0,#6e0,#600,#850,#940,#850,#840,#820,#730,#7b0,#950,#950,#790,#690,#750,#970,#a30,#820,#650,#6f0,#890,#970,#950,#800,#6a0,#720,#890,#950,#9a0,#810,#530,#680,#c40,#c00,#500,#3a0,#a00,#df0,#8c0,#460,#5d0,#9c0,#ad0,#910,#790,#680,#5c0,#820,#ce0,#b70,#4c0,#350,#910,#de0,#a70,#540,#490,#8a0,#c70,#960,#510,#660,#a60,#9d0,#760,#790,#7a0,#720,#8e0,#a50,#820,#650,#770,#8c0,#8e0,#8b0,#790,#6e0,#8d0,#a20,#780,#5a0,#7d0,#a80,#9c0,#7f0,#6c0,#600,#750,#b10,#bf0,#750,#420,#6a0,#b10,#a80,#760,#710,#850,#7c0,#720,#900,#a60,#7e0,#5b0,#7a0,#a60,#920,#6c0,#710,#880,#900,#910,#7d0,#5f0,#780,#ba0,#a40,#510,#510,#a20,#bf0,#850)"></i><i style="background:linear-gradient(#6c0,#720,#ac0,#cc0,#770,#3d0,#690,#aa0,#ac0,#8c0,#680,#610,#860,#9d0,#890,#830,#830,#690,#6e0,#a40,#a90,#720,#5e0,#770,#910,#a30,#970,#650,#550,#8d0,#b90,#8b0,#5d0,#730,#9c0,#8e0,#6e0,#7a0,#950,#8a0,#770,#7d0,#830,#810,#880,#830,#770,#8b0,#970,#6c0,#610,#9e0,#ad0,#6c0,#650,#980,#8a0,#660,#8b0,#aa0,#750,#5e0,#8f0,#a00,#750,#6e0,#920,#920,#770,#770,#850,#860,#8a0,#8a0,#710,#6a0,#980,#af0,#780,#500,#740,#b00,#ad0,#770,#540,#690,#a60,#b00,#770,#5f0,#7f0,#930,#860,#850,#840,#740,#770,#920,#980,#7f0,#690,#700,#910,#a50,#890,#680,#6c0,#830,#940,#980,#850,#6c0,#6f0,#840,#930,#9d0,#890,#560,#5d0,#b90,#cd0,#5e0,#340,#8d0,#df0,#9c0,#4d0,#550,#910,#ac0,#970,#800,#6c0,#590,#750,#c70,#c70,#5a0,#300,#7d0,#d90,#b60,#5f0,#450,#7c0,#c30,#a30,#560,#5e0,#9f0,#a10,#7b0,#7a0,#7b0,#6f0,#880,#a60,#890,#670,#730,#880,#8e0,#8e0,#7c0,#6c0,#880,#a50,#800,#5a0,#750,#a30,#a10,#860,#700,#5e0,#6b0,#a80,#c60,#830,#450,#5f0,#a70,#ad0,#7c0,#710,#840,#7d0,#6f0,#8a0,#a80,#860,#5c0,#720,#a30,#980,#700,#6f0,#840,#8e0,#930,#830,#600,#6f0,#b50,#b00,#5a0,#4a0,#950,#c00,#8f0,#630)"></i><i style="background:linear-gradient(#690,#a10,#d20,#880,#410,#5e0,#9f0,#ae0,#940,#6f0,#5f0,#7f0,#9b0,#8c0,#850,#860,#6b0,#680,#9c0,#ae0,#7b0,#5f0,#710,#8b0,#a20,#9f0,#6d0,#520,#820,#b80,#950,#610,#6d0,#980,#920,#710,#770,#930,#8d0,#790,#7c0,#820,#810,#880,#850,#770,#880,#9a0,#720,#5c0,#960,#b10,#730,#630,#940,#8e0,#660,#850,#ac0,#7d0,#5c0,#880,#a20,#790,#6c0,#8e0,#940,#7a0,#760,#830,#850,#8a0,#8d0,#740,#660,#900,#b30,#820,#510,#6a0,#a80,#b20,#820,#560,#610,#9d0,#b40,#800,#600,#7a0,#910,#870,#860,#860,#750,#740,#8e0,#9a0,#840,#6b0,#6c0,#8b0,#a50,#900,#6c0,#690,#7e0,#910,#990,#8b0,#700,#6c0,#7f0,#8f0,#9f0,#920,#5b0,#530,#ac0,#d70,#6e0,#310,#7b0,#da0,#ac0,#560,#500,#860,#a90,#9c0,#860,#710,#570,#690,#bd0,#d40,#6b0,#2e0,#6b0,#ce0,#c30,#6c0,#440,#6f0,#bd0,#ae0,#5e0,#590,#970,#a30,#7f0,#7b0,#7c0,#6d0,#820,#a60,#900,#6a0,#700,#850,#8d0,#900,#800,#6b0,#830,#a50,#880,#5b0,#6d0,#9c0,#a30,#8d0,#760,#5f0,#620,#9c0,#c90,#930,#4b0,#560,#9c0,#af0,#830,#720,#840,#7f0,#6d0,#840,#a80,#8e0,#5f0,#6c0,#9e0,#9d0,#750,#6e0,#800,#8c0,#950,#890,#620,#660,#ad0,#ba0,#650,#450,#870,#be0,#990,#690,#640)"></i><i style="background:linear-gradient(#940,#d50,#990,#470,#550,#940,#ad0,#9c0,#760,#5f0,#780,#980,#8d0,#860,#8a0,#6e0,#630,#940,#b10,#840,#610,#6c0,#840,#9f0,#a60,#760,#500,#770,#b40,#9e0,#660,#690,#940,#950,#730,#740,#900,#8f0,#7b0,#7c0,#820,#800,#870,#860,#770,#850,#9d0,#780,#590,#8c0,#b40,#7b0,#610,#900,#920,#670,#7e0,#ac0,#850,#5c0,#810,#a20,#7e0,#6b0,#8a0,#960,#7d0,#750,#810,#830,#8a0,#900,#780,#630,#880,#b40,#8d0,#540,#610,#9f0,#b60,#8d0,#5b0,#5a0,#920,#b60,#890,#620,#760,#8e0,#870,#860,#880,#770,#710,#8a0,#9b0,#8a0,#6e0,#680,#840,#a40,#970,#720,#680,#790,#8c0,#9a0,#900,#740,#6b0,#7a0,#8b0,#9f0,#9a0,#610,#4c0,#9d0,#de0,#7f0,#310,#690,#d20,#ba0,#610,#4d0,#7b0,#a40,#9f0,#8d0,#780,#580,#5e0,#af0,#de0,#7e0,#300,#5a0,#c10,#cc0,#7b0,#460,#630,#b40,#b70,#670,#540,#8e0,#a40,#840,#7d0,#7e0,#6c0,#7b0,#a40,#960,#6f0,#6e0,#810,#8b0,#910,#830,#6b0,#7d0,#a50,#900,#5f0,#660,#950,#a40,#930,#7d0,#610,#5b0,#900,#ca0,#a20,#520,#4f0,#910,#af0,#890,#740,#840,#810,#6c0,#7d0,#a60,#960,#630,#660,#970,#a00,#7a0,#6e0,#7d0,#890,#950,#8e0,#650,#5f0,#a30,#c20,#710,#430,#7a0,#ba0,#a20,#700,#630,#770)"></i><i style="background:linear-gradient(#d30,#a90,#4f0,#4e0,#880,#a90,#a20,#7e0,#600,#720,#940,#8e0,#880,#8e0,#720,#5f0,#8b0,#b20,#8d0,#650,#680,#7d0,#9b0,#ab0,#800,#510,#6c0,#ae0,#a50,#6c0,#660,#8f0,#970,#770,#710,#8d0,#910,#7d0,#7b0,#810,#7f0,#860,#870,#770,#820,#9f0,#7f0,#580,#830,#b40,#840,#610,#8b0,#950,#680,#770,#ab0,#8d0,#5d0,#7b0,#a20,#830,#6a0,#850,#970,#800,#760,#7f0,#820,#880,#920,#7c0,#620,#800,#b30,#980,#590,#5a0,#940,#b70,#970,#620,#550,#870,#b50,#920,#650,#720,#8b0,#870,#860,#8b0,#790,#6f0,#850,#9b0,#8f0,#730,#660,#7d0,#a10,#9d0,#780,#680,#750,#880,#990,#950,#790,#6b0,#760,#860,#9d0,#a20,#6a0,#470,#8e0,#e00,#920,#350,#5a0,#c60,#c50,#6d0,#4c0,#710,#9d0,#a10,#930,#800,#5a0,#540,#a00,#e30,#930,#350,#4c0,#b10,#d20,#8a0,#4a0,#590,#a90,#be0,#720,#520,#850,#a30,#880,#7f0,#800,#6c0,#750,#a00,#9c0,#740,#6d0,#7e0,#880,#910,#870,#6c0,#780,#a30,#970,#630,#610,#8c0,#a30,#980,#840,#650,#560,#820,#c60,#af0,#5d0,#4a0,#850,#ad0,#8e0,#760,#840,#830,#6c0,#770,#a30,#9d0,#690,#620,#910,#a20,#800,#6e0,#7a0,#860,#950,#940,#6a0,#590,#980,#c70,#7f0,#440,#6d0,#b30,#a90,#780,#640,#720,#8e0)"></i><i style="background:linear-gradient(#b90,#5b0,#4a0,#7d0,#a40,#a60,#860,#620,#6d0,#8f0,#8e0,#880,#910,#770,#5c0,#820,#b10,#960,#6a0,#660,#760,#950,#ae0,#8a0,#540,#630,#a60,#ab0,#730,#640,#8a0,#990,#7a0,#6f0,#890,#920,#800,#7c0,#810,#7e0,#850,#890,#770,#7f0,#9f0,#860,#580,#790,#b30,#8c0,#610,#860,#980,#6a0,#710,#a80,#950,#600,#740,#a00,#880,#6a0,#810,#970,#840,#760,#7e0,#810,#870,#940,#820,#610,#770,#b00,#a20,#600,#540,#880,#b50,#a10,#6a0,#530,#7d0,#b20,#9a0,#6a0,#6f0,#880,#870,#860,#8c0,#7d0,#6e0,#800,#990,#940,#780,#650,#760,#9c0,#a10,#7e0,#6a0,#710,#830,#960,#980,#7e0,#6c0,#730,#800,#9a0,#a80,#730,#440,#7e0,#de0,#a50,#3b0,#4c0,#b70,#ce0,#7b0,#4e0,#680,#950,#a10,#980,#880,#5f0,#4d0,#8f0,#e30,#a70,#3e0,#410,#9f0,#d40,#9a0,#510,#510,#9c0,#c20,#7d0,#520,#7c0,#a10,#8b0,#810,#830,#6d0,#6f0,#9b0,#a00,#7a0,#6d0,#7b0,#850,#910,#8b0,#6e0,#720,#9f0,#9e0,#690,#5d0,#840,#a00,#9c0,#8c0,#6b0,#520,#750,#bf0,#bc0,#690,#480,#7a0,#aa0,#930,#780,#840,#860,#6c0,#710,#9e0,#a30,#700,#5f0,#890,#a30,#850,#700,#770,#830,#940,#990,#700,#550,#8c0,#c90,#8e0,#470,#620,#aa0,#ae0,#800,#660,#6e0,#890,#970)"></i><i style="background:linear-gradient(#680,#490,#720,#9d0,#a80,#8f0,#670,#690,#8a0,#8d0,#880,#940,#7d0,#5c0,#780,#ae0,#9d0,#710,#660,#710,#8d0,#af0,#950,#590,#5c0,#9c0,#af0,#7a0,#630,#840,#9a0,#7e0,#6e0,#860,#920,#820,#7c0,#810,#7e0,#840,#8a0,#780,#7b0,#9f0,#8e0,#590,#700,#af0,#930,#630,#820,#9a0,#6e0,#6b0,#a40,#9c0,#640,#6f0,#9d0,#8d0,#6b0,#7d0,#960,#870,#770,#7d0,#7f0,#850,#950,#870,#620,#6f0,#ab0,#ab0,#690,#510,#7d0,#b00,#aa0,#740,#520,#720,#ac0,#a10,#6f0,#6d0,#850,#860,#850,#8e0,#800,#6d0,#7b0,#970,#970,#7d0,#660,#700,#960,#a40,#850,#6c0,#6e0,#7d0,#930,#9b0,#840,#6f0,#700,#7b0,#960,#ad0,#7f0,#430,#6e0,#d80,#b70,#450,#420,#a60,#d20,#8a0,#520,#610,#8d0,#9e0,#9c0,#900,#660,#470,#7e0,#df0,#ba0,#4a0,#390,#8d0,#d20,#a80,#5a0,#4b0,#8f0,#c40,#890,#540,#740,#9d0,#8e0,#830,#860,#6f0,#6a0,#940,#a30,#800,#6f0,#780,#820,#900,#8f0,#700,#6e0,#9b0,#a40,#710,#5b0,#7c0,#9b0,#9e0,#930,#730,#510,#690,#b50,#c50,#760,#490,#6f0,#a40,#970,#7a0,#840,#890,#6e0,#6c0,#980,#a80,#770,#5d0,#820,#a20,#8a0,#720,#750,#7f0,#910,#9e0,#770,#520,#800,#c80,#9c0,#4c0,#590,#9f0,#b10,#890,#6a0,#6b0,#830,#960,#8b0)"></i><i style="background:linear-gradient(#4a0,#690,#940,#a80,#960,#6c0,#660,#850,#8c0,#880,#960,#840,#5c0,#700,#a80,#a40,#780,#670,#6c0,#860,#ae0,#9f0,#600,#560,#920,#b10,#820,#630,#7f0,#9a0,#820,#6e0,#820,#920,#840,#7d0,#810,#7d0,#830,#8b0,#790,#770,#9d0,#950,#5d0,#680,#aa0,#9a0,#660,#7e0,#9c0,#720,#660,#9e0,#a20,#690,#6a0,#990,#910,#6d0,#790,#940,#8a0,#790,#7c0,#7e0,#820,#950,#8d0,#650,#680,#a40,#b20,#730,#500,#720,#aa0,#b00,#7e0,#530,#690,#a50,#a60,#760,#6c0,#820,#850,#840,#8f0,#840,#6e0,#770,#930,#9a0,#830,#680,#6a0,#8f0,#a50,#8c0,#700,#6d0,#790,#8f0,#9c0,#8a0,#720,#6f0,#760,#900,#b00,#8b0,#450,#5f0,#ce0,#c70,#510,#3a0,#950,#d30,#980,#580,#5c0,#840,#9b0,#9e0,#980,#6f0,#450,#6e0,#d60,#cc0,#580,#340,#7b0,#cb0,#b50,#650,#470,#810,#c20,#950,#570,#6d0,#990,#8f0,#850,#890,#720,#660,#8d0,#a50,#860,#710,#760,#7f0,#8e0,#920,#740,#6a0,#950,#a90,#790,#5b0,#740,#950,#9f0,#9a0,#7b0,#520,#5e0,#a90,#cb0,#850,#4c0,#660,#9d0,#990,#7d0,#840,#8c0,#710,#680,#910,#ab0,#7f0,#5d0,#7b0,#a00,#8f0,#750,#740,#7c0,#8e0,#a10,#7f0,#520,#740,#c40,#aa0,#540,#510,#940,#b20,#910,#6f0,#690,#7e0,#940,#8d0,#7a0)"></i><i style="background:linear-gradient(#620,#8b0,#a60,#9d0,#720,#650,#800,#8a0,#860,#980,#8b0,#5f0,#680,#a10,#a80,#800,#690,#680,#7d0,#aa0,#a80,#690,#520,#880,#b10,#8a0,#650,#7a0,#990,#860,#6e0,#7e0,#910,#860,#7e0,#810,#7d0,#810,#8b0,#7a0,#740,#9b0,#9c0,#610,#610,#a30,#a00,#690,#7a0,#9d0,#760,#620,#980,#a70,#6f0,#660,#950,#950,#700,#750,#920,#8c0,#7b0,#7c0,#7d0,#7f0,#940,#920,#680,#620,#9b0,#b70,#7e0,#510,#690,#a10,#b50,#890,#570,#610,#9d0,#aa0,#7c0,#6c0,#800,#840,#830,#8f0,#870,#6f0,#730,#8f0,#9c0,#8a0,#6b0,#660,#880,#a40,#920,#750,#6d0,#740,#8a0,#9c0,#8f0,#760,#6e0,#720,#890,#b10,#970,#4a0,#530,#c10,#d50,#600,#350,#830,#d00,#a50,#600,#590,#7b0,#950,#9e0,#a00,#790,#450,#5e0,#c90,#da0,#6a0,#330,#6a0,#c10,#c00,#720,#460,#740,#be0,#9f0,#5c0,#670,#940,#900,#860,#8d0,#760,#640,#860,#a40,#8b0,#730,#750,#7c0,#8c0,#950,#780,#670,#8e0,#ac0,#820,#5c0,#6d0,#8f0,#9e0,#9f0,#850,#560,#540,#9b0,#ce0,#940,#510,#5f0,#950,#9a0,#7f0,#840,#8f0,#750,#640,#8a0,#ac0,#880,#5e0,#740,#9c0,#930,#780,#740,#780,#8a0,#a30,#880,#530,#680,#bd0,#b60,#5e0,#4c0,#880,#b00,#980,#740,#690,#790,#910,#8f0,#7d0,#760)"></i><i style="background:linear-gradient(#820,#a20,#a30,#7a0,#650,#7c0,#880,#840,#980,#920,#620,#610,#990,#ab0,#870,#6d0,#660,#750,#a40,#b00,#730,#500,#7d0,#af0,#920,#670,#760,#970,#8a0,#700,#7b0,#900,#880,#7f0,#810,#7d0,#800,#8c0,#7c0,#710,#970,#a30,#680,#5b0,#9b0,#a50,#6e0,#760,#9d0,#7c0,#5f0,#900,#ab0,#750,#640,#900,#980,#730,#720,#8f0,#8f0,#7d0,#7c0,#7c0,#7d0,#920,#970,#6d0,#5d0,#910,#ba0,#8a0,#540,#600,#970,#b60,#950,#5c0,#5a0,#930,#ac0,#830,#6d0,#7e0,#830,#820,#8f0,#8b0,#720,#6f0,#8a0,#9c0,#900,#700,#630,#800,#a20,#970,#7a0,#6e0,#710,#840,#9b0,#940,#7b0,#6f0,#6e0,#820,#b00,#a30,#510,#480,#b10,#df0,#710,#340,#720,#c80,#b10,#6a0,#570,#740,#8f0,#9c0,#a60,#850,#480,#510,#b90,#e50,#7d0,#350,#5c0,#b40,#c80,#800,#470,#680,#b70,#a90,#630,#630,#8e0,#900,#870,#900,#7a0,#620,#7f0,#a20,#910,#770,#750,#7a0,#890,#970,#7c0,#650,#870,#ad0,#8b0,#5f0,#680,#870,#9a0,#a30,#8f0,#5c0,#4d0,#8c0,#cd0,#a20,#580,#590,#8d0,#9a0,#810,#830,#910,#790,#620,#820,#ac0,#900,#610,#6e0,#980,#970,#7c0,#740,#760,#850,#a30,#910,#560,#5e0,#b30,#c00,#6a0,#4a0,#7c0,#ab0,#9e0,#7b0,#690,#750,#8e0,#910,#7f0,#750,#800)"></i><i style="background:linear-gradient(#9d0,#a70,#810,#660,#780,#850,#820,#970,#990,#680,#5c0,#8f0,#ac0,#8f0,#720,#650,#6e0,#9d0,#b50,#7e0,#510,#730,#ab0,#980,#6b0,#720,#950,#8e0,#710,#780,#8e0,#890,#800,#820,#7d0,#7f0,#8c0,#7e0,#6e0,#920,#a80,#6f0,#570,#930,#a80,#720,#730,#9d0,#820,#5d0,#880,#ad0,#7c0,#620,#8b0,#9b0,#770,#700,#8c0,#900,#7f0,#7d0,#7c0,#7a0,#900,#9b0,#730,#590,#870,#ba0,#960,#5a0,#5a0,#8c0,#b50,#9f0,#640,#560,#890,#ac0,#890,#6f0,#7c0,#820,#800,#8e0,#8e0,#750,#6d0,#840,#9b0,#950,#750,#620,#790,#9e0,#9b0,#800,#700,#6e0,#7e0,#980,#970,#800,#710,#6c0,#7a0,#ac0,#ae0,#5b0,#400,#9f0,#e50,#840,#360,#630,#be0,#ba0,#760,#590,#6d0,#880,#990,#aa0,#910,#4e0,#450,#a60,#ea0,#910,#3b0,#4f0,#a50,#cb0,#8e0,#4b0,#5e0,#ae0,#b10,#6b0,#600,#880,#8f0,#870,#920,#800,#620,#770,#9f0,#950,#7b0,#760,#770,#860,#980,#810,#640,#7f0,#ac0,#940,#640,#640,#800,#960,#a50,#990,#640,#490,#7d0,#c80,#af0,#620,#560,#850,#990,#830,#830,#930,#7e0,#610,#7a0,#a90,#980,#660,#690,#930,#990,#800,#760,#740,#800,#a20,#9a0,#5c0,#550,#a70,#c80,#770,#4a0,#710,#a50,#a20,#810,#6b0,#720,#8a0,#910,#820,#750,#7c0,#980)"></i><i style="background:linear-gradient(#a90,#890,#690,#750,#830,#7f0,#950,#9e0,#6f0,#580,#860,#aa0,#950,#780,#660,#670,#940,#b80,#890,#530,#6a0,#a50,#9e0,#6f0,#6f0,#910,#910,#740,#750,#8b0,#8a0,#810,#830,#7e0,#7e0,#8c0,#810,#6c0,#8c0,#ac0,#780,#550,#8a0,#aa0,#770,#700,#9c0,#880,#5d0,#800,#ad0,#840,#620,#850,#9c0,#7b0,#6e0,#880,#910,#820,#7e0,#7c0,#780,#8c0,#9f0,#7a0,#580,#7c0,#b80,#a10,#610,#550,#800,#b10,#a90,#6d0,#530,#7f0,#a90,#8f0,#720,#7b0,#810,#7e0,#8d0,#910,#790,#6b0,#7f0,#990,#9a0,#7c0,#620,#720,#980,#9e0,#860,#730,#6d0,#790,#940,#9a0,#850,#750,#6a0,#730,#a60,#b80,#670,#3a0,#8d0,#e70,#970,#3a0,#550,#b10,#c10,#810,#5c0,#680,#810,#940,#ac0,#9e0,#560,#3d0,#920,#eb0,#a60,#430,#460,#950,#cc0,#9d0,#520,#550,#a30,#b70,#740,#5f0,#830,#8e0,#870,#940,#860,#630,#710,#9a0,#980,#7f0,#770,#760,#820,#980,#860,#640,#780,#aa0,#9d0,#6a0,#610,#790,#900,#a50,#a30,#6e0,#470,#6e0,#bf0,#ba0,#6d0,#550,#7e0,#970,#840,#820,#950,#840,#620,#720,#a50,#9f0,#6b0,#650,#8d0,#9a0,#840,#780,#720,#7b0,#9f0,#a20,#630,#4f0,#990,#cc0,#850,#4c0,#680,#9d0,#a50,#880,#6f0,#6f0,#860,#910,#850,#760,#790,#950,#a60)"></i><i style="background:linear-gradient(#910,#6c0,#730,#810,#7c0,#920,#a30,#770,#570,#7c0,#a70,#9b0,#7f0,#690,#620,#8a0,#b90,#950,#570,#630,#9e0,#a20,#740,#6c0,#8e0,#940,#770,#730,#880,#8b0,#820,#830,#7f0,#7c0,#8b0,#830,#6b0,#860,#ae0,#810,#540,#810,#aa0,#7d0,#6d0,#9a0,#8e0,#5e0,#780,#ab0,#8b0,#630,#800,#9c0,#7f0,#6d0,#850,#910,#840,#7f0,#7c0,#760,#880,#a10,#820,#580,#720,#b30,#aa0,#6a0,#530,#750,#ab0,#b00,#770,#530,#760,#a60,#940,#750,#7a0,#800,#7c0,#8b0,#940,#7d0,#6b0,#790,#950,#9d0,#830,#640,#6c0,#920,#9f0,#8b0,#770,#6c0,#740,#900,#9b0,#8a0,#790,#6a0,#6c0,#9e0,#c00,#740,#380,#7a0,#e30,#aa0,#420,#4b0,#a20,#c40,#8d0,#610,#650,#7a0,#8d0,#ab0,#a90,#610,#380,#7e0,#e60,#b90,#4f0,#3f0,#850,#c80,#aa0,#5b0,#4f0,#970,#ba0,#7d0,#5f0,#7e0,#8b0,#860,#950,#8c0,#660,#6b0,#950,#9a0,#830,#790,#750,#7e0,#970,#8c0,#650,#710,#a50,#a40,#720,#610,#730,#890,#a30,#aa0,#7a0,#470,#610,#b40,#c20,#790,#550,#770,#940,#850,#800,#960,#8a0,#640,#6b0,#9f0,#a50,#720,#630,#870,#9a0,#880,#7a0,#720,#750,#9b0,#a90,#6c0,#4a0,#8b0,#cd0,#940,#510,#600,#950,#a50,#8f0,#730,#6d0,#820,#910,#870,#770,#750,#910,#ab0,#7e0)"></i><i style="background:linear-gradient(#710,#720,#7f0,#790,#8d0,#a70,#800,#570,#730,#a20,#9f0,#860,#6d0,#5e0,#800,#b60,#a00,#5e0,#5d0,#950,#a50,#7a0,#6b0,#8a0,#960,#7a0,#720,#860,#8b0,#830,#840,#7f0,#7b0,#8b0,#860,#6a0,#7f0,#ae0,#8b0,#550,#780,#a90,#820,#6c0,#970,#940,#600,#700,#a80,#920,#650,#7a0,#9c0,#840,#6d0,#810,#900,#860,#800,#7d0,#740,#840,#a20,#8a0,#590,#690,#ab0,#b20,#750,#530,#6b0,#a20,#b50,#820,#550,#6d0,#a00,#980,#790,#7a0,#7f0,#7b0,#880,#960,#820,#6b0,#740,#910,#9f0,#8a0,#670,#670,#8b0,#9f0,#900,#7c0,#6d0,#700,#8a0,#9b0,#8f0,#7d0,#6b0,#660,#950,#c50,#830,#380,#690,#db0,#bc0,#4d0,#430,#930,#c40,#990,#670,#630,#740,#860,#a80,#b40,#6f0,#350,#6b0,#db0,#ca0,#5e0,#3c0,#750,#c10,#b60,#650,#4a0,#8b0,#bb0,#870,#600,#790,#890,#840,#950,#920,#6a0,#660,#8e0,#9b0,#870,#7b0,#740,#7b0,#960,#910,#680,#6a0,#9f0,#a90,#7a0,#620,#6d0,#820,#9e0,#b00,#860,#4b0,#550,#a60,#c70,#860,#580,#710,#910,#850,#7f0,#950,#900,#670,#650,#980,#a90,#790,#620,#810,#980,#8c0,#7d0,#720,#710,#960,#af0,#760,#470,#7d0,#ca0,#a10,#580,#5a0,#8b0,#a40,#940,#770,#6d0,#7e0,#8f0,#8a0,#790,#720,#8b0,#ae0,#8a0,#420)"></i><i style="background:linear-gradient(#720,#7e0,#770,#880,#a90,#890,#590,#6b0,#9b0,#a10,#8d0,#720,#5c0,#760,#b20,#a90,#660,#580,#8d0,#a60,#800,#6a0,#860,#970,#7e0,#710,#830,#8a0,#830,#850,#800,#7b0,#8a0,#890,#6b0,#780,#ad0,#940,#580,#700,#a60,#870,#6a0,#940,#9a0,#640,#6a0,#a40,#980,#680,#760,#9a0,#880,#6e0,#7d0,#8f0,#870,#820,#7f0,#730,#7f0,#a20,#920,#5d0,#600,#a20,#b80,#800,#550,#630,#980,#b80,#8e0,#580,#660,#9a0,#9b0,#7d0,#7a0,#7f0,#790,#850,#960,#870,#6d0,#700,#8b0,#a00,#910,#6c0,#640,#840,#9d0,#940,#810,#6f0,#6c0,#840,#9a0,#920,#820,#6e0,#610,#8a0,#c70,#930,#3b0,#590,#cf0,#cb0,#5b0,#3e0,#830,#c00,#a30,#6f0,#630,#6f0,#7e0,#a30,#bc0,#7e0,#370,#590,#cd0,#d80,#6e0,#3c0,#660,#b60,#bf0,#720,#480,#7f0,#ba0,#900,#630,#750,#860,#820,#940,#970,#6f0,#630,#880,#9a0,#8a0,#7e0,#750,#770,#930,#960,#6c0,#650,#970,#ad0,#830,#650,#6a0,#7a0,#980,#b40,#940,#510,#4c0,#970,#c80,#920,#5d0,#6c0,#8d0,#850,#7d0,#940,#960,#6c0,#610,#900,#ab0,#810,#620,#7b0,#960,#8f0,#810,#740,#6d0,#8f0,#b30,#810,#470,#6f0,#c40,#ae0,#610,#560,#820,#a10,#990,#7d0,#6d0,#7a0,#8d0,#8c0,#7b0,#700,#850,#af0,#970,#470,#480)"></i><i style="background:linear-gradient(#7d0,#740,#830,#a90,#920,#5d0,#640,#930,#a20,#930,#790,#5c0,#6c0,#aa0,#b10,#6f0,#560,#840,#a60,#860,#6a0,#810,#970,#820,#710,#800,#8a0,#840,#850,#820,#7a0,#890,#8c0,#6c0,#720,#a90,#9d0,#5d0,#690,#a20,#8c0,#6a0,#8f0,#9f0,#690,#640,#9e0,#9e0,#6c0,#710,#980,#8c0,#6f0,#7a0,#8d0,#890,#830,#800,#730,#7a0,#a00,#9a0,#620,#5a0,#970,#bb0,#8c0,#590,#5c0,#8d0,#b80,#990,#5e0,#600,#930,#9d0,#800,#7b0,#800,#780,#820,#960,#8b0,#700,#6d0,#850,#9e0,#970,#720,#620,#7d0,#990,#970,#860,#730,#6a0,#7e0,#970,#950,#880,#720,#5e0,#7f0,#c50,#a30,#420,#4b0,#c00,#d80,#6a0,#3c0,#740,#b90,#ab0,#780,#650,#6b0,#760,#9b0,#c20,#8f0,#3b0,#4a0,#bb0,#e10,#800,#3f0,#5a0,#aa0,#c60,#7f0,#490,#730,#b60,#990,#680,#720,#840,#7f0,#920,#9c0,#750,#610,#810,#990,#8d0,#810,#760,#740,#900,#9a0,#710,#600,#8f0,#af0,#8c0,#690,#670,#730,#900,#b50,#a10,#5a0,#460,#880,#c60,#9e0,#630,#690,#890,#850,#7b0,#920,#9b0,#720,#5e0,#870,#ac0,#880,#640,#760,#930,#910,#840,#760,#6a0,#870,#b50,#8d0,#4a0,#620,#ba0,#b80,#6b0,#540,#790,#9c0,#9c0,#820,#6f0,#770,#8b0,#8d0,#7d0,#6f0,#7f0,#ae0,#a40,#500,#3d0,#a70)"></i><i style="background:linear-gradient(#730,#7d0,#a70,#9b0,#630,#5f0,#8b0,#a00,#990,#800,#5e0,#640,#a10,#b70,#7a0,#560,#7c0,#a40,#8b0,#6b0,#7d0,#970,#860,#720,#7d0,#880,#840,#860,#830,#7a0,#870,#8f0,#6e0,#6c0,#a40,#a50,#630,#640,#9d0,#900,#6a0,#8b0,#a30,#6f0,#600,#970,#a20,#700,#6e0,#950,#900,#720,#770,#8b0,#890,#850,#830,#730,#750,#9c0,#a10,#690,#550,#8b0,#bb0,#980,#600,#570,#820,#b50,#a30,#650,#5c0,#8b0,#9d0,#840,#7c0,#800,#780,#7e0,#950,#900,#740,#6b0,#7f0,#9c0,#9c0,#780,#610,#760,#950,#990,#8c0,#770,#690,#790,#930,#970,#8d0,#770,#5c0,#740,#c10,#b30,#4b0,#400,#ae0,#e00,#7c0,#3d0,#670,#af0,#b10,#820,#690,#690,#6f0,#920,#c40,#a00,#430,#3e0,#a70,#e60,#930,#450,#500,#9b0,#c90,#8d0,#4c0,#680,#af0,#a00,#6d0,#710,#810,#7d0,#8f0,#a00,#7c0,#610,#7b0,#960,#8f0,#840,#780,#720,#8c0,#9d0,#760,#5d0,#860,#ae0,#940,#6f0,#670,#6d0,#870,#b30,#ad0,#650,#420,#780,#c00,#a80,#6a0,#670,#860,#850,#790,#8f0,#9f0,#790,#5c0,#7f0,#aa0,#900,#670,#710,#8f0,#920,#880,#790,#680,#7f0,#b40,#9a0,#4f0,#570,#af0,#c00,#770,#550,#710,#960,#9e0,#880,#710,#750,#880,#8e0,#800,#6e0,#780,#ab0,#b00,#5b0,#350,#910,#f50)"></i><i style="background:linear-gradient(#760,#a40,#a30,#6a0,#5c0,#820,#9d0,#9d0,#880,#620,#5d0,#970,#bb0,#850,#570,#740,#a10,#900,#6d0,#790,#960,#8a0,#730,#7b0,#870,#840,#860,#840,#790,#860,#920,#710,#660,#9e0,#ac0,#6a0,#5f0,#970,#940,#6a0,#860,#a60,#760,#5c0,#8f0,#a50,#750,#6b0,#910,#930,#740,#750,#890,#890,#860,#850,#740,#710,#970,#a70,#720,#520,#7f0,#b80,#a20,#680,#540,#770,#af0,#ac0,#6e0,#5a0,#830,#9c0,#870,#7e0,#810,#770,#7b0,#930,#940,#780,#6a0,#790,#980,#a10,#800,#630,#700,#8f0,#990,#900,#7c0,#6a0,#740,#8e0,#970,#910,#7e0,#5c0,#690,#b90,#c00,#570,#380,#9b0,#e40,#8e0,#410,#5b0,#a40,#b40,#8b0,#6e0,#680,#690,#870,#c30,#b10,#4e0,#350,#920,#e50,#a60,#4e0,#480,#8c0,#c80,#9b0,#510,#5f0,#a70,#a60,#730,#700,#7f0,#7a0,#8a0,#a20,#830,#620,#750,#920,#900,#870,#7a0,#700,#880,#9f0,#7d0,#5c0,#7c0,#ab0,#9c0,#760,#680,#680,#7e0,#ae0,#b70,#720,#420,#6a0,#b70,#b00,#730,#660,#820,#850,#770,#8b0,#a20,#810,#5c0,#760,#a70,#970,#6b0,#6e0,#8b0,#920,#8b0,#7d0,#670,#770,#b10,#a50,#560,#4e0,#a10,#c50,#830,#570,#6a0,#8f0,#9e0,#8d0,#740,#730,#860,#8f0,#830,#6e0,#720,#a50,#ba0,#680,#310,#7b0,#ef0,#bd0)"></i><i style="background:linear-gradient(#9e0,#aa0,#720,#5a0,#7a0,#980,#9f0,#900,#670,#570,#8b0,#bb0,#900,#5a0,#6d0,#9d0,#950,#700,#760,#940,#8d0,#750,#7a0,#860,#830,#860,#850,#7a0,#840,#940,#750,#620,#960,#b10,#720,#5c0,#910,#970,#6b0,#800,#a80,#7d0,#5b0,#880,#a60,#7b0,#690,#8d0,#960,#780,#730,#860,#890,#870,#870,#760,#6d0,#920,#ac0,#7b0,#510,#740,#b30,#ab0,#720,#540,#6c0,#a70,#b20,#780,#5a0,#7c0,#9a0,#8a0,#7f0,#820,#780,#780,#900,#970,#7d0,#6a0,#730,#920,#a30,#880,#650,#6b0,#890,#980,#940,#810,#6b0,#6f0,#890,#960,#950,#850,#5e0,#600,#af0,#cc0,#660,#330,#870,#e30,#a00,#480,#520,#970,#b50,#940,#740,#690,#640,#7c0,#be0,#c00,#5d0,#300,#7d0,#df0,#b70,#5a0,#440,#7d0,#c40,#a70,#580,#580,#9e0,#aa0,#790,#700,#7e0,#770,#860,#a30,#8b0,#640,#700,#8e0,#910,#8a0,#7d0,#6f0,#830,#a00,#840,#5c0,#740,#a60,#a20,#7d0,#6b0,#650,#740,#a60,#bf0,#810,#440,#5e0,#ac0,#b60,#7b0,#670,#800,#840,#750,#870,#a30,#880,#5e0,#6f0,#a20,#9d0,#700,#6b0,#860,#910,#8e0,#810,#670,#6f0,#ab0,#b00,#5f0,#480,#930,#c60,#900,#5c0,#650,#880,#9d0,#920,#780,#720,#830,#8f0,#860,#6f0,#6c0,#9d0,#c30,#780,#300,#660,#e40,#d00,#5a0)"></i><i style="background:linear-gradient(#af0,#7c0,#5b0,#730,#920,#a00,#980,#6e0,#540,#7f0,#b90,#9a0,#5f0,#670,#970,#980,#730,#730,#910,#900,#780,#780,#840,#830,#850,#870,#7a0,#820,#960,#7a0,#5f0,#8d0,#b50,#7b0,#5b0,#8b0,#990,#6d0,#7b0,#a80,#850,#5b0,#800,#a60,#810,#680,#890,#980,#7b0,#720,#830,#890,#870,#8a0,#790,#6a0,#8b0,#ae0,#860,#520,#690,#aa0,#b20,#7d0,#560,#630,#9d0,#b60,#820,#5b0,#760,#970,#8b0,#810,#840,#790,#750,#8d0,#990,#830,#6b0,#6f0,#8c0,#a40,#8f0,#6a0,#680,#830,#950,#970,#870,#6e0,#6c0,#830,#940,#980,#8c0,#620,#570,#a20,#d40,#760,#310,#740,#dd0,#b10,#520,#4b0,#8a0,#b20,#9b0,#7b0,#6d0,#610,#710,#b50,#cc0,#6e0,#2e0,#6a0,#d40,#c60,#680,#420,#6f0,#bc0,#b30,#610,#520,#940,#ad0,#800,#710,#7d0,#750,#800,#a20,#920,#680,#6c0,#890,#900,#8c0,#810,#6f0,#7e0,#a00,#8c0,#5e0,#6c0,#9f0,#a60,#850,#6f0,#640,#6c0,#9d0,#c30,#900,#490,#530,#9f0,#b90,#840,#690,#7d0,#850,#740,#810,#a30,#900,#610,#680,#9c0,#a20,#760,#6a0,#820,#8f0,#900,#860,#690,#680,#a40,#b90,#6b0,#440,#840,#c40,#9c0,#630,#610,#810,#9a0,#950,#7c0,#720,#800,#8e0,#8a0,#720,#660,#940,#c80,#890,#320,#540,#d40,#df0,#6d0,#370)"></i><i style="background:linear-gradient(#860,#5d0,#6c0,#8c0,#9e0,#9f0,#770,#530,#740,#b40,#a40,#660,#630,#910,#9b0,#770,#700,#8d0,#920,#7b0,#780,#830,#820,#850,#880,#7a0,#7f0,#970,#800,#5d0,#840,#b60,#850,#5b0,#850,#9b0,#6f0,#750,#a70,#8e0,#5c0,#780,#a50,#870,#680,#840,#990,#7f0,#720,#810,#870,#870,#8c0,#7c0,#680,#830,#af0,#900,#560,#600,#a00,#b70,#890,#5a0,#5c0,#920,#b80,#8d0,#5e0,#700,#930,#8d0,#820,#850,#7a0,#730,#880,#9a0,#880,#6e0,#6b0,#850,#a30,#960,#6f0,#660,#7d0,#920,#980,#8d0,#720,#6a0,#7e0,#900,#990,#930,#680,#510,#940,#d90,#880,#330,#620,#d30,#c10,#5e0,#470,#7d0,#ad0,#a10,#830,#710,#600,#660,#aa0,#d60,#810,#300,#580,#c60,#d10,#780,#430,#620,#b20,#bc0,#6c0,#4f0,#890,#ad0,#860,#730,#7d0,#740,#7b0,#a00,#990,#6d0,#6a0,#840,#8e0,#8e0,#840,#6f0,#790,#9f0,#930,#620,#650,#970,#a80,#8d0,#740,#640,#640,#910,#c40,#a00,#520,#4c0,#920,#b90,#8d0,#6c0,#7c0,#850,#730,#7c0,#a10,#980,#660,#630,#950,#a50,#7c0,#690,#7d0,#8d0,#910,#8b0,#6c0,#620,#9b0,#bf0,#780,#430,#750,#bf0,#a60,#6b0,#5f0,#790,#960,#980,#810,#720,#7d0,#8d0,#8d0,#750,#620,#8a0,#ca0,#9b0,#380,#440,#c00,#ea0,#800,#3b0,#530)"></i><i style="background:linear-gradient(#610,#680,#840,#9b0,#a40,#800,#540,#6a0,#ad0,#ab0,#6d0,#600,#8b0,#9c0,#7b0,#6e0,#8a0,#940,#7e0,#780,#820,#820,#840,#890,#7b0,#7d0,#980,#860,#5c0,#7a0,#b40,#8e0,#5c0,#7f0,#9c0,#720,#700,#a50,#950,#5f0,#710,#a20,#8c0,#690,#7f0,#990,#830,#730,#7f0,#860,#870,#8d0,#800,#670,#7c0,#ad0,#9a0,#5b0,#590,#950,#b80,#940,#600,#560,#870,#b70,#970,#630,#6b0,#8e0,#8d0,#830,#870,#7c0,#710,#840,#9a0,#8d0,#720,#680,#7e0,#a00,#9c0,#760,#650,#770,#8d0,#980,#920,#770,#690,#790,#8c0,#990,#9a0,#6f0,#4d0,#850,#d90,#9b0,#380,#530,#c50,#cd0,#6d0,#460,#710,#a60,#a50,#8a0,#770,#600,#5d0,#9c0,#db0,#950,#360,#490,#b40,#d80,#890,#480,#570,#a60,#c20,#780,#4e0,#7f0,#ab0,#8c0,#760,#7e0,#730,#760,#9c0,#9f0,#740,#680,#7f0,#8c0,#8f0,#880,#710,#750,#9c0,#9a0,#670,#5f0,#8e0,#a80,#930,#7b0,#660,#5e0,#850,#c20,#ae0,#5c0,#460,#840,#b60,#950,#700,#7b0,#850,#730,#770,#9e0,#9f0,#6c0,#5f0,#8d0,#a60,#820,#6a0,#7a0,#8a0,#910,#900,#700,#5d0,#900,#c30,#860,#440,#680,#b70,#af0,#740,#5f0,#730,#910,#990,#850,#740,#7b0,#8c0,#8f0,#790,#5f0,#7f0,#c90,#ad0,#410,#370,#aa0,#ef0,#950,#420,#490,#940)"></i><i style="background:linear-gradient(#640,#7d0,#960,#a80,#8a0,#570,#610,#a40,#b10,#760,#5e0,#840,#9d0,#800,#6d0,#860,#950,#810,#780,#810,#810,#830,#890,#7c0,#7b0,#970,#8c0,#5e0,#710,#b10,#970,#5f0,#7a0,#9d0,#750,#6b0,#a10,#9d0,#630,#6b0,#9f0,#910,#6b0,#7b0,#980,#870,#740,#7d0,#850,#860,#8f0,#840,#670,#740,#aa0,#a40,#630,#530,#890,#b70,#9f0,#680,#530,#7b0,#b30,#a00,#690,#680,#8a0,#8d0,#840,#880,#7f0,#700,#7f0,#990,#920,#760,#670,#770,#9c0,#a10,#7d0,#660,#720,#880,#970,#960,#7d0,#6a0,#740,#870,#970,#a00,#780,#4b0,#760,#d60,#ae0,#400,#460,#b40,#d50,#7c0,#480,#670,#9d0,#a60,#910,#7e0,#630,#560,#8d0,#db0,#a90,#3f0,#3d0,#a00,#da0,#9a0,#4f0,#4f0,#980,#c60,#850,#4f0,#750,#a70,#910,#790,#7f0,#740,#710,#970,#a30,#7a0,#680,#7b0,#890,#8f0,#8b0,#730,#700,#980,#a00,#6d0,#5c0,#850,#a60,#990,#830,#6a0,#5a0,#780,#bc0,#bb0,#690,#440,#770,#b10,#9b0,#740,#7a0,#860,#730,#720,#990,#a40,#740,#5c0,#850,#a60,#890,#6c0,#760,#870,#910,#940,#760,#5a0,#850,#c40,#940,#480,#5d0,#ac0,#b50,#7e0,#610,#6e0,#8b0,#990,#890,#760,#790,#8a0,#920,#7e0,#5e0,#730,#c40,#bf0,#4e0,#2e0,#930,#ee0,#a90,#4d0,#420,#830,#cf0)"></i><i style="background:linear-gradient(#760,#900,#a90,#950,#5c0,#590,#990,#b50,#7f0,#5f0,#7e0,#9c0,#840,#6d0,#820,#950,#840,#790,#800,#800,#820,#8a0,#7d0,#780,#960,#920,#600,#690,#ab0,#9f0,#630,#750,#9c0,#790,#670,#9b0,#a30,#680,#660,#9a0,#960,#6d0,#770,#960,#8b0,#750,#7b0,#830,#850,#8f0,#890,#680,#6d0,#a40,#ac0,#6c0,#500,#7d0,#b20,#a80,#720,#520,#700,#ac0,#a70,#700,#660,#850,#8c0,#840,#8a0,#820,#700,#7a0,#960,#960,#7c0,#670,#710,#960,#a40,#850,#690,#6f0,#820,#940,#990,#830,#6c0,#710,#810,#940,#a40,#820,#4b0,#680,#ce0,#bf0,#4b0,#3c0,#a20,#d90,#8c0,#4d0,#5e0,#930,#a60,#970,#860,#680,#510,#7d0,#d70,#bd0,#4c0,#350,#8c0,#d70,#aa0,#590,#490,#8a0,#c60,#920,#520,#6c0,#a20,#950,#7c0,#810,#750,#6c0,#910,#a60,#810,#6a0,#780,#860,#8e0,#8e0,#760,#6d0,#930,#a50,#750,#5a0,#7c0,#a20,#9d0,#8a0,#700,#580,#6c0,#b20,#c50,#780,#450,#6b0,#aa0,#a00,#790,#7b0,#880,#750,#6d0,#930,#a80,#7c0,#5b0,#7d0,#a40,#8f0,#6f0,#740,#830,#8f0,#980,#7c0,#580,#7a0,#c20,#a30,#4f0,#530,#a00,#b80,#880,#650,#6a0,#850,#980,#8d0,#780,#770,#870,#930,#830,#5e0,#680,#bb0,#ce0,#5f0,#290,#7c0,#e70,#bc0,#5a0,#3e0,#720,#c60,#c00)"></i><i style="background:linear-gradient(#890,#a80,#9e0,#640,#540,#8e0,#b60,#890,#600,#780,#9b0,#880,#6e0,#7e0,#940,#870,#7a0,#7f0,#800,#810,#8a0,#7f0,#760,#940,#980,#640,#620,#a40,#a60,#680,#700,#9b0,#7e0,#640,#950,#a80,#6f0,#630,#940,#990,#700,#730,#930,#8e0,#780,#7a0,#810,#830,#8f0,#8d0,#6b0,#670,#9d0,#b30,#770,#4f0,#720,#ab0,#b00,#7d0,#540,#660,#a40,#ad0,#770,#660,#810,#8b0,#840,#8a0,#850,#710,#760,#920,#990,#820,#690,#6c0,#8f0,#a60,#8c0,#6d0,#6c0,#7d0,#900,#9b0,#890,#6f0,#6e0,#7c0,#8f0,#a70,#8d0,#4e0,#5a0,#c20,#ce0,#590,#350,#8e0,#d90,#9d0,#540,#580,#880,#a30,#9b0,#8e0,#6f0,#4e0,#6d0,#ce0,#ce0,#5c0,#310,#790,#d00,#b80,#650,#460,#7b0,#c20,#9e0,#570,#650,#9c0,#980,#800,#830,#770,#690,#8a0,#a70,#880,#6c0,#750,#830,#8d0,#910,#790,#6a0,#8d0,#a80,#7d0,#590,#730,#9c0,#a00,#910,#780,#580,#610,#a60,#cb0,#880,#490,#600,#a00,#a30,#7d0,#7b0,#890,#770,#6a0,#8c0,#ab0,#850,#5c0,#750,#a10,#940,#730,#720,#7f0,#8c0,#9a0,#830,#580,#6f0,#bc0,#b00,#580,#4c0,#920,#b90,#910,#6a0,#680,#7f0,#960,#900,#7b0,#760,#840,#940,#890,#600,#5e0,#af0,#da0,#720,#280,#670,#db0,#cc0,#6a0,#3e0,#630,#ba0,#cb0,#700)"></i><i style="background:linear-gradient(#a50,#a70,#6d0,#500,#820,#b40,#910,#630,#730,#980,#8c0,#6f0,#7a0,#920,#8a0,#7b0,#7f0,#7f0,#800,#8a0,#800,#740,#910,#9e0,#6a0,#5c0,#9c0,#ab0,#6e0,#6d0,#9a0,#820,#620,#8d0,#ac0,#760,#600,#8e0,#9c0,#740,#700,#900,#910,#7a0,#790,#800,#810,#8f0,#920,#6f0,#620,#940,#b70,#820,#510,#670,#a20,#b40,#890,#580,#5e0,#9a0,#b00,#800,#660,#7d0,#890,#840,#8b0,#880,#720,#720,#8e0,#9b0,#880,#6c0,#680,#870,#a50,#930,#720,#6b0,#780,#8b0,#9c0,#8f0,#730,#6d0,#770,#8a0,#a80,#980,#530,#4f0,#b40,#da0,#6a0,#320,#7b0,#d40,#ab0,#5d0,#540,#7e0,#9e0,#9d0,#950,#780,#4d0,#5f0,#c00,#dc0,#6f0,#300,#670,#c40,#c40,#740,#450,#6e0,#bc0,#a90,#5e0,#5f0,#950,#990,#830,#860,#7a0,#660,#820,#a60,#8f0,#6f0,#730,#7f0,#8b0,#930,#7d0,#680,#870,#aa0,#860,#5b0,#6c0,#940,#a00,#980,#800,#5b0,#580,#980,#cd0,#980,#4f0,#580,#960,#a50,#820,#7c0,#8a0,#7a0,#670,#850,#ab0,#8d0,#5f0,#6e0,#9c0,#980,#770,#710,#7c0,#890,#9c0,#8b0,#5a0,#640,#b40,#bb0,#630,#470,#850,#b60,#9a0,#710,#670,#790,#920,#920,#7e0,#760,#810,#940,#8f0,#640,#560,#a10,#e20,#870,#2b0,#540,#ca0,#d80,#7c0,#410,#550,#ac0,#d30,#800,#420)"></i><i style="background:linear-gradient(#ae0,#770,#4f0,#770,#b00,#9a0,#680,#6f0,#950,#900,#710,#770,#900,#8c0,#7d0,#7f0,#7f0,#7f0,#8a0,#820,#720,#8d0,#a20,#710,#580,#920,#ae0,#750,#6a0,#980,#870,#610,#860,#ae0,#7e0,#5f0,#880,#9e0,#790,#6e0,#8d0,#920,#7d0,#790,#7f0,#7f0,#8d0,#950,#740,#5e0,#8a0,#b80,#8e0,#550,#5f0,#970,#b60,#950,#5e0,#580,#900,#b10,#880,#680,#7a0,#880,#830,#8b0,#8b0,#750,#6f0,#890,#9c0,#8e0,#710,#650,#7f0,#a20,#990,#780,#6b0,#730,#860,#9a0,#940,#780,#6e0,#730,#830,#a60,#a30,#5b0,#460,#a30,#e20,#7d0,#320,#6a0,#cb0,#b80,#690,#520,#750,#970,#9e0,#9c0,#820,#500,#520,#b00,#e50,#830,#330,#570,#b60,#cb0,#830,#480,#620,#b30,#b30,#670,#5b0,#8d0,#990,#850,#880,#7e0,#650,#7b0,#a30,#950,#740,#720,#7c0,#880,#940,#820,#670,#800,#aa0,#900,#5f0,#650,#8c0,#9e0,#9d0,#8a0,#600,#510,#890,#cc0,#a70,#580,#520,#8c0,#a40,#860,#7c0,#8c0,#7e0,#660,#7d0,#a90,#960,#630,#690,#970,#9c0,#7c0,#720,#790,#850,#9c0,#930,#5e0,#5b0,#a90,#c40,#710,#460,#780,#b10,#a10,#780,#670,#740,#8e0,#940,#810,#760,#7f0,#940,#950,#6a0,#4f0,#900,#e50,#9d0,#310,#440,#b70,#df0,#8e0,#470,#4b0,#9b0,#d60,#910,#460,#600)"></i><i style="background:linear-gradient(#830,#510,#6c0,#aa0,#a00,#6d0,#6b0,#910,#930,#740,#740,#8d0,#8d0,#7f0,#800,#7f0,#7e0,#890,#840,#710,#880,#a60,#790,#550,#880,#b00,#7c0,#690,#950,#8c0,#610,#7e0,#ae0,#860,#5f0,#820,#9f0,#7d0,#6d0,#890,#930,#800,#7a0,#7e0,#7d0,#8b0,#990,#7a0,#5c0,#800,#b70,#9a0,#5b0,#580,#8c0,#b50,#a00,#660,#540,#840,#b00,#8f0,#6b0,#770,#860,#820,#8a0,#8e0,#780,#6d0,#830,#9b0,#940,#760,#630,#780,#9e0,#9e0,#7e0,#6d0,#700,#800,#980,#980,#7e0,#6f0,#700,#7d0,#a30,#ad0,#660,#400,#910,#e50,#900,#360,#5a0,#be0,#c20,#760,#530,#6c0,#8f0,#9c0,#a00,#8d0,#550,#480,#9d0,#e90,#990,#3a0,#4a0,#a50,#cf0,#920,#4d0,#580,#a80,#ba0,#710,#590,#850,#980,#870,#8b0,#820,#660,#740,#9f0,#9a0,#790,#730,#7a0,#850,#950,#870,#680,#790,#a80,#980,#650,#610,#840,#9b0,#a00,#930,#670,#4c0,#7a0,#c60,#b50,#630,#4f0,#820,#a20,#890,#7d0,#8d0,#820,#650,#760,#a60,#9d0,#690,#640,#900,#9d0,#810,#730,#760,#810,#9b0,#9b0,#640,#540,#9c0,#ca0,#7f0,#470,#6c0,#a90,#a70,#800,#690,#700,#8a0,#940,#840,#760,#7c0,#920,#9b0,#710,#4b0,#800,#e30,#b30,#3c0,#380,#a10,#e00,#a10,#510,#430,#890,#d40,#a10,#4d0,#570,#9e0)"></i><i style="background:linear-gradient(#540,#640,#a20,#a60,#730,#690,#8d0,#960,#770,#720,#8a0,#8e0,#800,#800,#800,#7d0,#880,#860,#700,#830,#a80,#820,#540,#7f0,#af0,#830,#680,#920,#910,#620,#760,#ac0,#8e0,#610,#7c0,#9e0,#820,#6c0,#840,#940,#830,#7b0,#7d0,#7b0,#880,#9b0,#810,#5b0,#760,#b30,#a50,#630,#540,#800,#b10,#a90,#700,#520,#7a0,#ac0,#960,#6f0,#750,#840,#810,#890,#910,#7c0,#6c0,#7e0,#980,#980,#7c0,#640,#710,#980,#a10,#850,#700,#6e0,#7b0,#940,#9b0,#840,#720,#6e0,#760,#9d0,#b50,#720,#3d0,#7f0,#e30,#a40,#3d0,#4d0,#af0,#c80,#830,#570,#660,#870,#980,#a30,#980,#5e0,#400,#890,#e80,#ae0,#440,#400,#930,#ce0,#a20,#550,#500,#9b0,#be0,#7b0,#580,#7e0,#960,#880,#8c0,#870,#670,#6d0,#990,#9d0,#7e0,#740,#780,#810,#940,#8b0,#690,#730,#a40,#a00,#6c0,#5e0,#7c0,#950,#a10,#9c0,#700,#4b0,#6b0,#bc0,#c00,#700,#4e0,#780,#9e0,#8b0,#7e0,#8e0,#870,#670,#6f0,#a00,#a40,#6f0,#610,#890,#9e0,#860,#750,#750,#7c0,#980,#a10,#6c0,#4f0,#8e0,#cc0,#8e0,#4a0,#620,#a00,#aa0,#880,#6d0,#6d0,#850,#930,#870,#770,#790,#8f0,#a00,#7a0,#490,#6f0,#db0,#c80,#4a0,#2f0,#8b0,#dc0,#b20,#5d0,#3f0,#780,#cf0,#b10,#560,#510,#920,#ac0)"></i><i style="background:linear-gradient(#5c0,#990,#a90,#7a0,#680,#880,#970,#7b0,#700,#860,#8e0,#820,#810,#800,#7c0,#870,#880,#700,#7e0,#a80,#8b0,#560,#750,#ad0,#890,#680,#8f0,#960,#650,#6f0,#a80,#960,#630,#760,#9d0,#870,#6c0,#800,#930,#860,#7c0,#7d0,#790,#840,#9c0,#880,#5c0,#6d0,#ad0,#ae0,#6d0,#510,#740,#aa0,#b00,#7b0,#520,#700,#a70,#9c0,#740,#740,#820,#7f0,#870,#920,#800,#6c0,#780,#940,#9c0,#830,#660,#6b0,#910,#a20,#8b0,#740,#6d0,#750,#8f0,#9c0,#890,#750,#6d0,#700,#960,#ba0,#800,#3c0,#6d0,#dd0,#b80,#470,#430,#9e0,#cb0,#910,#5c0,#610,#7f0,#920,#a40,#a30,#680,#3c0,#760,#e10,#c20,#520,#3a0,#810,#c90,#af0,#5f0,#4a0,#8e0,#c00,#860,#5a0,#780,#930,#880,#8e0,#8d0,#6a0,#680,#930,#9f0,#830,#760,#760,#7e0,#930,#900,#6b0,#6d0,#9f0,#a70,#740,#5d0,#740,#8e0,#a00,#a40,#7b0,#4c0,#5e0,#b00,#c80,#7e0,#500,#700,#990,#8d0,#7e0,#8e0,#8c0,#690,#680,#990,#a90,#770,#5f0,#820,#9d0,#8a0,#780,#740,#780,#940,#a70,#750,#4c0,#800,#cb0,#9d0,#510,#5a0,#950,#aa0,#8f0,#710,#6c0,#800,#920,#8a0,#790,#760,#8b0,#a30,#840,#490,#5f0,#cf0,#da0,#5c0,#2b0,#760,#d30,#c10,#6c0,#3e0,#680,#c50,#be0,#620,#4c0,#870,#aa0,#910)"></i><i style="background:linear-gradient(#900,#ab0,#810,#670,#830,#980,#7f0,#6f0,#830,#8e0,#830,#820,#810,#7b0,#860,#8a0,#710,#780,#a70,#940,#590,#6d0,#a90,#8f0,#680,#8b0,#9b0,#680,#680,#a30,#9c0,#670,#710,#9a0,#8b0,#6d0,#7c0,#920,#880,#7e0,#7e0,#780,#810,#9c0,#8f0,#5f0,#640,#a50,#b60,#790,#520,#6a0,#a10,#b50,#870,#550,#670,#a00,#a00,#790,#740,#810,#7e0,#850,#930,#840,#6d0,#740,#900,#9e0,#8a0,#690,#660,#8a0,#a20,#910,#790,#6e0,#710,#890,#9c0,#8f0,#7a0,#6e0,#6a0,#8d0,#bd0,#8e0,#3e0,#5d0,#d20,#c90,#540,#3c0,#8c0,#c90,#9e0,#640,#5f0,#780,#8c0,#a20,#ac0,#750,#3b0,#630,#d40,#d30,#630,#380,#700,#c00,#bb0,#6c0,#470,#800,#be0,#910,#5d0,#720,#8f0,#870,#8e0,#920,#6f0,#640,#8b0,#a00,#880,#780,#760,#7a0,#910,#940,#6f0,#670,#980,#ac0,#7d0,#5f0,#6e0,#870,#9d0,#aa0,#880,#4f0,#530,#a10,#cc0,#8c0,#540,#690,#930,#8e0,#7e0,#8e0,#910,#6d0,#630,#920,#ac0,#7f0,#600,#7c0,#9b0,#8e0,#7b0,#740,#740,#8f0,#ab0,#7f0,#4b0,#720,#c60,#ab0,#590,#540,#8a0,#a90,#960,#770,#6b0,#7c0,#900,#8c0,#7b0,#740,#870,#a50,#8f0,#4d0,#510,#bf0,#e80,#700,#2b0,#630,#c60,#cc0,#7d0,#400,#5a0,#b80,#c80,#6f0,#4b0,#7c0,#a70,#960,#7a0)"></i><i style="background:linear-gradient(#ab0,#870,#680,#7f0,#980,#830,#700,#800,#8d0,#850,#820,#820,#7b0,#850,#8c0,#720,#730,#a40,#9d0,#5d0,#650,#a40,#950,#690,#870,#9e0,#6d0,#630,#9c0,#a20,#6c0,#6d0,#970,#8f0,#6f0,#790,#900,#8a0,#7f0,#7f0,#770,#7c0,#9b0,#960,#640,#5d0,#9a0,#ba0,#850,#550,#610,#960,#b70,#930,#5a0,#600,#970,#a30,#7e0,#750,#800,#7d0,#820,#940,#890,#6f0,#700,#8a0,#9e0,#910,#6e0,#630,#820,#9f0,#960,#7f0,#6f0,#6e0,#830,#9b0,#930,#7f0,#700,#660,#840,#bd0,#9e0,#440,#4f0,#c30,#d70,#640,#380,#7b0,#c40,#a90,#6e0,#5e0,#710,#840,#9e0,#b40,#840,#3d0,#530,#c40,#e00,#750,#390,#610,#b40,#c40,#7a0,#470,#740,#ba0,#9b0,#620,#6e0,#8b0,#860,#8d0,#960,#740,#610,#840,#9e0,#8c0,#7b0,#760,#770,#8e0,#970,#730,#630,#900,#af0,#870,#620,#690,#7f0,#970,#ad0,#940,#560,#4b0,#910,#cb0,#9a0,#5b0,#640,#8e0,#8e0,#7d0,#8d0,#960,#720,#600,#890,#ad0,#880,#610,#750,#980,#910,#7f0,#750,#700,#880,#ad0,#8b0,#4d0,#650,#bd0,#b70,#640,#500,#7f0,#a50,#9b0,#7d0,#6c0,#780,#8d0,#8e0,#7d0,#730,#820,#a50,#9a0,#530,#460,#ac0,#f10,#870,#2e0,#520,#b50,#d30,#8e0,#460,#4e0,#a90,#cf0,#7d0,#4c0,#720,#a10,#9a0,#800,#710)"></i><i style="background:linear-gradient(#8e0,#6a0,#7a0,#970,#870,#700,#7c0,#8c0,#850,#830,#830,#7b0,#830,#8e0,#740,#6e0,#9f0,#a50,#640,#5f0,#9d0,#990,#6b0,#830,#a10,#730,#5f0,#950,#a60,#720,#6a0,#930,#930,#720,#750,#8d0,#8b0,#810,#800,#770,#780,#980,#9d0,#6a0,#580,#8f0,#bc0,#910,#5a0,#5a0,#8b0,#b60,#9e0,#610,#5b0,#8e0,#a30,#830,#760,#7f0,#7c0,#800,#930,#8e0,#720,#6d0,#840,#9d0,#970,#740,#610,#7a0,#9b0,#990,#840,#730,#6b0,#7d0,#980,#960,#840,#740,#630,#7a0,#ba0,#ac0,#4d0,#430,#b10,#e10,#760,#380,#6c0,#ba0,#b20,#780,#600,#6c0,#7c0,#980,#b80,#940,#430,#450,#b00,#e70,#8a0,#3e0,#540,#a50,#c90,#880,#4a0,#680,#b30,#a40,#680,#6b0,#870,#840,#8c0,#9a0,#7b0,#600,#7c0,#9c0,#900,#7f0,#770,#750,#8a0,#9a0,#790,#600,#870,#af0,#900,#670,#660,#780,#900,#ae0,#a10,#600,#450,#800,#c70,#a70,#630,#600,#880,#8d0,#7d0,#8b0,#990,#780,#5e0,#800,#ac0,#900,#640,#700,#930,#930,#830,#770,#6e0,#820,#ad0,#960,#510,#5a0,#b20,#c10,#710,#4f0,#750,#9f0,#9f0,#830,#6e0,#740,#8a0,#8f0,#800,#720,#7c0,#a30,#a50,#5c0,#3d0,#970,#f40,#9f0,#360,#450,#a20,#d50,#a00,#4f0,#450,#980,#d10,#8c0,#4f0,#690,#9a0,#9c0,#850,#730,#770)"></i><i style="background:linear-gradient(#6d0,#760,#950,#8b0,#720,#7a0,#8a0,#860,#840,#840,#7b0,#820,#8f0,#770,#690,#990,#ac0,#6c0,#5b0,#960,#9d0,#6d0,#7e0,#a30,#7a0,#5c0,#8d0,#a90,#780,#680,#8f0,#960,#750,#730,#8b0,#8c0,#830,#820,#770,#750,#940,#a30,#720,#540,#830,#ba0,#9d0,#620,#560,#7f0,#b20,#a80,#6a0,#570,#850,#a20,#880,#780,#7f0,#7b0,#7d0,#920,#920,#760,#6b0,#7e0,#9a0,#9c0,#7b0,#610,#730,#960,#9b0,#8a0,#770,#6a0,#770,#930,#980,#8a0,#780,#620,#700,#b40,#ba0,#580,#3a0,#9d0,#e60,#890,#3c0,#5e0,#af0,#b80,#830,#640,#690,#750,#8f0,#ba0,#a40,#4d0,#3a0,#9b0,#e90,#9e0,#460,#4a0,#950,#ca0,#970,#4f0,#5e0,#aa0,#ab0,#6f0,#690,#830,#820,#8a0,#9d0,#820,#610,#760,#980,#920,#830,#790,#730,#860,#9c0,#7f0,#5f0,#7e0,#ad0,#990,#6d0,#650,#710,#880,#ac0,#ac0,#6b0,#430,#710,#bf0,#b20,#6c0,#5f0,#820,#8c0,#7c0,#890,#9c0,#7f0,#5d0,#770,#a90,#980,#680,#6c0,#8e0,#940,#860,#7a0,#6c0,#7a0,#ab0,#a10,#570,#510,#a40,#c70,#7e0,#510,#6c0,#980,#a00,#8a0,#710,#720,#870,#8f0,#820,#720,#770,#a00,#af0,#670,#370,#810,#f10,#b60,#420,#3b0,#8f0,#d20,#b10,#5b0,#3f0,#860,#d00,#9b0,#550,#620,#920,#9d0,#8a0,#760,#750,#870)"></i><i style="background:linear-gradient(#730,#930,#8f0,#740,#780,#880,#860,#840,#850,#7b0,#800,#910,#7a0,#650,#920,#b10,#750,#580,#8e0,#9f0,#700,#7a0,#a40,#810,#5b0,#840,#aa0,#7f0,#660,#8a0,#980,#780,#710,#870,#8c0,#850,#840,#780,#710,#8f0,#a70,#7b0,#530,#770,#b60,#a80,#6b0,#540,#730,#ab0,#b00,#740,#560,#7c0,#a00,#8c0,#7a0,#800,#7b0,#7a0,#8f0,#950,#7b0,#6a0,#780,#950,#a00,#830,#630,#6d0,#8f0,#9b0,#8f0,#7c0,#6b0,#720,#8e0,#990,#8f0,#7e0,#630,#660,#ab0,#c50,#660,#350,#890,#e60,#9d0,#420,#520,#a10,#bb0,#8e0,#6a0,#670,#6f0,#860,#b80,#b30,#590,#330,#850,#e50,#b20,#510,#440,#850,#c70,#a50,#560,#560,#a00,#b00,#770,#690,#800,#800,#860,#9e0,#890,#630,#700,#930,#940,#860,#7c0,#720,#820,#9d0,#850,#5f0,#750,#a90,#a00,#750,#660,#6c0,#7f0,#a70,#b50,#790,#430,#620,#b40,#ba0,#770,#5f0,#7e0,#8b0,#7b0,#850,#9e0,#870,#5f0,#6f0,#a40,#9e0,#6e0,#690,#890,#940,#8a0,#7e0,#6c0,#730,#a70,#ab0,#600,#4a0,#960,#ca0,#8c0,#550,#650,#8f0,#a00,#8f0,#750,#700,#830,#8f0,#850,#730,#720,#9a0,#b70,#750,#350,#6c0,#e70,#cb0,#510,#350,#7b0,#ca0,#bf0,#690,#3c0,#760,#ca0,#a80,#5d0,#5d0,#8a0,#9c0,#8e0,#790,#740,#860,#880)"></i><i style="background:linear-gradient(#900,#920,#770,#760,#860,#860,#840,#860,#7c0,#7f0,#920,#7e0,#630,#8a0,#b40,#7e0,#570,#860,#a00,#730,#750,#a40,#890,#5b0,#7c0,#a90,#850,#660,#850,#9a0,#7d0,#700,#840,#8c0,#860,#860,#7a0,#6e0,#8a0,#aa0,#840,#540,#6c0,#ae0,#b00,#760,#540,#690,#a20,#b60,#7f0,#570,#740,#9c0,#8f0,#7d0,#800,#7b0,#770,#8c0,#970,#800,#6b0,#730,#900,#a20,#8b0,#670,#680,#880,#9a0,#930,#810,#6d0,#6e0,#880,#970,#930,#840,#650,#5e0,#a00,#ce0,#760,#330,#760,#e00,#b00,#4c0,#4a0,#920,#ba0,#980,#710,#680,#690,#7c0,#b20,#c10,#690,#300,#700,#dc0,#c30,#5f0,#400,#750,#c00,#b10,#600,#500,#940,#b30,#7f0,#6a0,#7d0,#7d0,#820,#9e0,#910,#660,#6b0,#8d0,#940,#890,#7f0,#710,#7d0,#9d0,#8c0,#600,#6d0,#a30,#a60,#7d0,#680,#680,#760,#a00,#bc0,#880,#470,#560,#a70,#bf0,#820,#610,#7a0,#890,#7a0,#820,#9f0,#8f0,#620,#680,#9d0,#a30,#740,#670,#840,#930,#8d0,#820,#6d0,#6d0,#a00,#b40,#6b0,#450,#860,#c90,#9a0,#5c0,#600,#870,#9e0,#940,#790,#700,#800,#8e0,#880,#740,#6d0,#930,#bd0,#850,#360,#590,#d80,#dd0,#630,#330,#690,#be0,#ca0,#7a0,#3d0,#660,#c10,#b40,#660,#5a0,#820,#9a0,#920,#7d0,#740,#840,#890,#750)"></i><i style="background:linear-gradient(#940,#7b0,#750,#840,#850,#840,#870,#7d0,#7d0,#920,#830,#610,#810,#b40,#880,#580,#7f0,#a10,#760,#710,#a20,#910,#5d0,#740,#a70,#8c0,#670,#800,#9a0,#810,#700,#810,#8b0,#860,#870,#7d0,#6c0,#830,#aa0,#8f0,#570,#630,#a50,#b60,#820,#570,#600,#970,#b80,#8b0,#5a0,#6e0,#970,#910,#7f0,#820,#7c0,#750,#880,#990,#860,#6d0,#6e0,#890,#a20,#930,#6c0,#650,#810,#970,#960,#870,#700,#6b0,#820,#950,#950,#8b0,#6a0,#580,#930,#d20,#880,#340,#630,#d60,#c10,#580,#440,#830,#b60,#a00,#790,#6b0,#660,#710,#aa0,#cb0,#7b0,#310,#5d0,#ce0,#d10,#700,#400,#670,#b60,#bc0,#6b0,#4c0,#890,#b30,#870,#6c0,#7b0,#7b0,#7e0,#9d0,#980,#6c0,#670,#880,#930,#8c0,#820,#720,#790,#9b0,#920,#640,#660,#9b0,#aa0,#860,#6d0,#660,#6e0,#960,#bf0,#980,#4e0,#4d0,#980,#c00,#8d0,#650,#770,#880,#790,#7d0,#9e0,#960,#670,#630,#950,#a70,#7b0,#660,#7f0,#910,#8f0,#860,#6f0,#670,#980,#ba0,#780,#430,#770,#c40,#a60,#640,#5c0,#7e0,#9b0,#980,#7e0,#700,#7d0,#8d0,#8b0,#770,#690,#8a0,#c00,#960,#3b0,#480,#c50,#ea0,#780,#350,#5a0,#af0,#d10,#8b0,#410,#590,#b50,#bd0,#710,#590,#7a0,#960,#940,#810,#750,#820,#8a0,#760,#780)"></i><i style="background:linear-gradient(#7e0,#750,#820,#850,#830,#880,#7e0,#7b0,#920,#880,#610,#780,#b30,#920,#5a0,#780,#a00,#7a0,#6d0,#9f0,#980,#600,#6d0,#a30,#910,#690,#7c0,#990,#850,#710,#7e0,#890,#870,#890,#800,#6b0,#7c0,#a90,#980,#5c0,#5a0,#990,#b90,#8e0,#5c0,#590,#8b0,#b80,#960,#5f0,#680,#920,#920,#810,#830,#7e0,#730,#840,#990,#8b0,#700,#6b0,#820,#a00,#9a0,#720,#630,#7b0,#930,#980,#8d0,#740,#690,#7c0,#910,#970,#920,#700,#530,#850,#d30,#9b0,#390,#530,#c80,#ce0,#670,#420,#750,#af0,#a60,#810,#6f0,#640,#680,#9e0,#d20,#8f0,#350,#4c0,#bc0,#da0,#820,#440,#5a0,#a90,#c30,#780,#4b0,#7d0,#b10,#8e0,#6f0,#7a0,#7a0,#790,#9a0,#9e0,#720,#650,#820,#910,#8d0,#850,#730,#750,#980,#990,#680,#600,#920,#ab0,#8e0,#720,#660,#670,#8b0,#bf0,#a70,#580,#460,#880,#be0,#970,#6a0,#740,#870,#790,#790,#9b0,#9d0,#6d0,#5e0,#8d0,#a90,#830,#670,#7a0,#8e0,#900,#8b0,#720,#620,#8f0,#be0,#860,#440,#690,#bc0,#b00,#6e0,#5b0,#770,#950,#9a0,#840,#720,#7a0,#8b0,#8d0,#7a0,#660,#810,#bf0,#a70,#430,#3b0,#af0,#f10,#8e0,#3b0,#4d0,#9e0,#d30,#9d0,#480,#4e0,#a70,#c20,#7d0,#5b0,#740,#910,#950,#850,#760,#800,#8b0,#770,#740,#940)"></i><i style="background:linear-gradient(#750,#800,#840,#830,#880,#7f0,#7a0,#910,#8d0,#630,#700,#af0,#9c0,#5e0,#720,#9e0,#7e0,#6a0,#9b0,#9f0,#650,#670,#9e0,#970,#6b0,#770,#980,#890,#720,#7b0,#880,#870,#8b0,#830,#6b0,#750,#a60,#a20,#630,#540,#8d0,#b90,#9a0,#640,#550,#7f0,#b50,#a00,#660,#640,#8c0,#930,#830,#840,#7f0,#720,#800,#980,#900,#740,#690,#7b0,#9d0,#9f0,#7a0,#640,#750,#8d0,#980,#920,#7a0,#690,#770,#8d0,#970,#980,#770,#510,#770,#d00,#ad0,#410,#460,#b70,#d80,#780,#430,#690,#a60,#aa0,#8a0,#750,#650,#600,#910,#d40,#a30,#3e0,#3f0,#a70,#de0,#940,#4a0,#500,#9b0,#c70,#860,#4c0,#720,#ac0,#950,#730,#7a0,#790,#750,#950,#a30,#790,#650,#7c0,#8e0,#8e0,#890,#750,#710,#940,#9e0,#6f0,#5c0,#880,#aa0,#960,#790,#680,#610,#7f0,#bb0,#b50,#650,#430,#790,#b80,#9f0,#6f0,#730,#860,#790,#750,#970,#a20,#740,#5c0,#840,#a90,#8a0,#690,#760,#8b0,#900,#8f0,#770,#5f0,#840,#bf0,#940,#480,#5d0,#b00,#b80,#790,#5d0,#700,#8f0,#9b0,#880,#740,#780,#890,#8f0,#7e0,#650,#770,#bc0,#b70,#500,#310,#970,#f20,#a40,#450,#430,#8b0,#d00,#ae0,#530,#450,#970,#c40,#890,#5e0,#6e0,#8c0,#950,#890,#770,#7f0,#8c0,#790,#710,#900,#990)"></i><i style="background:linear-gradient(#7f0,#830,#820,#890,#810,#780,#900,#920,#650,#680,#a90,#a40,#640,#6d0,#9c0,#820,#670,#950,#a50,#6b0,#630,#980,#9b0,#6f0,#730,#960,#8d0,#740,#790,#860,#860,#8c0,#870,#6c0,#6f0,#a10,#aa0,#6c0,#510,#800,#b60,#a50,#6d0,#530,#730,#af0,#a80,#6e0,#620,#860,#920,#840,#860,#820,#720,#7b0,#960,#950,#790,#680,#750,#970,#a30,#820,#660,#700,#880,#960,#960,#800,#6a0,#720,#870,#950,#9d0,#800,#510,#690,#c80,#be0,#4d0,#3b0,#a30,#dd0,#8a0,#470,#5e0,#9b0,#ab0,#920,#7c0,#680,#590,#820,#d10,#b70,#4a0,#360,#920,#dd0,#a60,#540,#490,#8c0,#c70,#940,#500,#690,#a60,#9a0,#770,#7b0,#790,#710,#900,#a60,#810,#660,#780,#8b0,#8e0,#8c0,#780,#6e0,#900,#a30,#760,#5a0,#7e0,#a70,#9c0,#810,#6c0,#5d0,#740,#b30,#c00,#740,#430,#6c0,#b00,#a60,#760,#730,#860,#7a0,#710,#910,#a60,#7c0,#5b0,#7c0,#a60,#900,#6d0,#730,#870,#8f0,#920,#7c0,#5d0,#7a0,#bd0,#a20,#4f0,#520,#a30,#bd0,#840,#600,#6b0,#890,#9a0,#8d0,#760,#760,#870,#910,#820,#640,#6d0,#b40,#c60,#5f0,#2b0,#7f0,#ed0,#b90,#520,#3e0,#790,#c90,#bd0,#600,#400,#870,#c30,#940,#630,#6a0,#860,#940,#8c0,#790,#7e0,#8c0,#7b0,#6e0,#8b0,#9b0,#830)"></i><i style="background:linear-gradient(#820,#810,#890,#820,#770,#8e0,#970,#690,#610,#a10,#ab0,#6a0,#690,#990,#860,#650,#8f0,#a90,#720,#5f0,#910,#9e0,#730,#700,#930,#900,#770,#780,#840,#850,#8c0,#8b0,#6f0,#690,#9a0,#b00,#770,#4f0,#740,#af0,#ad0,#780,#540,#690,#a60,#af0,#770,#610,#800,#900,#850,#870,#840,#730,#770,#930,#980,#7f0,#690,#6f0,#910,#a50,#8a0,#690,#6c0,#820,#930,#990,#860,#6d0,#6f0,#820,#920,#a00,#8a0,#530,#5c0,#bd0,#cd0,#5b0,#340,#8f0,#dd0,#9b0,#4e0,#560,#8f0,#aa0,#980,#840,#6d0,#550,#730,#ca0,#c90,#5a0,#300,#7d0,#d60,#b60,#610,#450,#7d0,#c30,#a10,#560,#610,#9f0,#9e0,#7c0,#7d0,#7a0,#6d0,#890,#a70,#880,#680,#740,#870,#8d0,#8f0,#7b0,#6c0,#8a0,#a60,#7e0,#5a0,#750,#a10,#a00,#890,#720,#5c0,#680,#a80,#c80,#840,#460,#600,#a60,#aa0,#7c0,#740,#860,#7b0,#6d0,#8b0,#a90,#850,#5c0,#740,#a30,#960,#710,#700,#830,#8e0,#950,#830,#5d0,#6f0,#b80,#af0,#590,#4b0,#950,#be0,#8f0,#650,#670,#820,#980,#910,#7a0,#750,#840,#910,#870,#660,#640,#aa0,#d20,#710,#290,#690,#e10,#cb0,#620,#3c0,#680,#be0,#c90,#6f0,#3e0,#780,#be0,#9f0,#690,#680,#800,#920,#8e0,#7b0,#7d0,#8d0,#7e0,#6d0,#850,#9b0,#870,#7c0)"></i><i style="background:linear-gradient(#800,#890,#830,#760,#8b0,#9c0,#6f0,#5c0,#980,#b00,#720,#660,#960,#8a0,#640,#880,#ac0,#7a0,#5d0,#8a0,#a00,#770,#6e0,#8f0,#930,#7a0,#770,#820,#830,#8c0,#8f0,#720,#650,#920,#b40,#820,#500,#690,#a60,#b30,#840,#570,#600,#9c0,#b30,#800,#620,#7b0,#8e0,#860,#870,#870,#740,#730,#8e0,#9a0,#850,#6c0,#6a0,#890,#a50,#910,#6e0,#6a0,#7c0,#8f0,#9a0,#8c0,#710,#6d0,#7c0,#8d0,#a20,#940,#580,#520,#af0,#d90,#6c0,#310,#7b0,#d80,#ac0,#580,#510,#830,#a50,#9d0,#8b0,#740,#540,#650,#be0,#d70,#6d0,#2f0,#690,#cb0,#c30,#6f0,#440,#6e0,#bc0,#ac0,#5e0,#5b0,#960,#a00,#800,#7f0,#7b0,#6b0,#820,#a60,#900,#6c0,#710,#830,#8c0,#910,#7f0,#6a0,#840,#a70,#870,#5b0,#6c0,#9a0,#a20,#900,#7a0,#5d0,#5f0,#9b0,#cb0,#950,#4c0,#560,#9a0,#ac0,#820,#750,#860,#7d0,#6b0,#840,#a90,#8e0,#5f0,#6c0,#9d0,#9b0,#760,#6f0,#7f0,#8b0,#970,#8a0,#5f0,#650,#af0,#bb0,#640,#460,#860,#bc0,#9a0,#6c0,#650,#7b0,#950,#930,#7d0,#750,#810,#910,#8d0,#690,#5c0,#9d0,#da0,#860,#2c0,#550,#d00,#d90,#750,#3e0,#5a0,#af0,#d20,#800,#400,#6a0,#b60,#a70,#710,#670,#7b0,#8f0,#900,#7d0,#7c0,#8d0,#820,#6c0,#800,#9a0,#8b0,#7f0,#7e0)"></i><i style="background:linear-gradient(#880,#850,#750,#880,#9f0,#760,#580,#8e0,#b30,#790,#640,#920,#8e0,#640,#800,#ad0,#830,#5d0,#830,#a10,#7c0,#6c0,#8b0,#950,#7d0,#770,#800,#820,#8b0,#920,#770,#610,#880,#b60,#8e0,#540,#600,#9b0,#b60,#910,#5d0,#590,#900,#b40,#890,#640,#770,#8b0,#860,#880,#8a0,#760,#700,#890,#9b0,#8c0,#6f0,#670,#820,#a30,#980,#740,#690,#770,#8a0,#9a0,#920,#760,#6c0,#770,#880,#a10,#9e0,#600,#490,#9e0,#e00,#800,#310,#680,#cf0,#ba0,#640,#4e0,#780,#9f0,#9f0,#930,#7c0,#550,#580,#af0,#e20,#820,#310,#580,#bc0,#cd0,#7f0,#470,#620,#b30,#b60,#680,#560,#8d0,#a00,#840,#810,#7e0,#690,#7a0,#a40,#960,#710,#700,#7f0,#890,#920,#830,#6a0,#7e0,#a70,#900,#5f0,#650,#910,#a20,#970,#820,#610,#570,#8c0,#cb0,#a50,#550,#4f0,#8e0,#ab0,#880,#770,#870,#800,#690,#7d0,#a70,#970,#640,#660,#970,#9f0,#7b0,#6f0,#7b0,#870,#980,#910,#630,#5d0,#a50,#c30,#720,#440,#780,#b60,#a20,#740,#650,#760,#900,#950,#810,#750,#7e0,#910,#920,#6e0,#560,#8f0,#dd0,#9c0,#320,#440,#bc0,#e20,#890,#430,#4e0,#9e0,#d50,#910,#440,#5e0,#ac0,#ad0,#790,#680,#760,#8b0,#910,#800,#7b0,#8d0,#850,#6c0,#7a0,#970,#8d0,#820,#810,#6a0)"></i><i style="background:linear-gradient(#870,#740,#840,#a20,#7d0,#560,#840,#b30,#810,#640,#8f0,#920,#650,#790,#ac0,#8b0,#5e0,#7d0,#a10,#810,#6b0,#860,#960,#800,#770,#7f0,#800,#890,#950,#7c0,#5f0,#7f0,#b50,#9a0,#5a0,#580,#8f0,#b60,#9c0,#640,#540,#850,#b30,#920,#680,#740,#890,#850,#880,#8c0,#790,#6e0,#840,#9b0,#910,#750,#650,#7a0,#9f0,#9e0,#7b0,#6a0,#720,#840,#980,#970,#7b0,#6d0,#730,#810,#9f0,#a70,#690,#430,#8d0,#e20,#940,#350,#580,#c10,#c50,#720,#4f0,#6e0,#970,#9f0,#990,#860,#590,#4e0,#9d0,#e60,#980,#380,#4a0,#aa0,#d10,#900,#4c0,#570,#a70,#bd0,#730,#540,#840,#9f0,#870,#840,#820,#690,#730,#9f0,#9c0,#760,#6f0,#7c0,#860,#930,#880,#6b0,#770,#a50,#990,#640,#600,#880,#9f0,#9c0,#8b0,#660,#510,#7d0,#c60,#b40,#610,#4b0,#820,#a80,#8d0,#790,#880,#830,#690,#760,#a40,#9e0,#6a0,#620,#900,#a00,#810,#700,#780,#830,#970,#980,#680,#560,#980,#c90,#810,#450,#6b0,#ae0,#a90,#7c0,#660,#710,#8b0,#960,#850,#760,#7c0,#8f0,#960,#740,#510,#7f0,#db0,#b20,#3c0,#370,#a50,#e50,#9d0,#4c0,#450,#8c0,#d40,#a30,#4b0,#540,#a00,#b10,#820,#6a0,#730,#870,#910,#820,#7a0,#8d0,#890,#6d0,#750,#940,#8f0,#850,#850,#6c0,#640)"></i><i style="background:linear-gradient(#740,#800,#a30,#860,#560,#7a0,#b10,#890,#640,#8b0,#960,#670,#720,#aa0,#940,#610,#760,#9f0,#860,#6b0,#820,#960,#840,#780,#7e0,#7e0,#870,#970,#820,#5f0,#750,#b10,#a50,#630,#530,#830,#b20,#a60,#6e0,#520,#790,#af0,#9a0,#6d0,#710,#860,#840,#870,#8f0,#7d0,#6d0,#7e0,#980,#960,#7b0,#650,#720,#9a0,#a20,#820,#6d0,#6f0,#7e0,#950,#9a0,#820,#6f0,#700,#7b0,#9a0,#af0,#750,#400,#7b0,#e00,#a80,#3d0,#4a0,#b10,#cd0,#810,#520,#660,#8e0,#9d0,#9e0,#900,#600,#460,#890,#e50,#ae0,#420,#3f0,#970,#d10,#a00,#540,#4f0,#990,#c10,#7f0,#550,#7c0,#9c0,#8a0,#860,#860,#6b0,#6d0,#990,#a00,#7c0,#700,#790,#830,#920,#8c0,#6c0,#710,#a10,#a10,#6b0,#5d0,#7f0,#9b0,#9f0,#940,#6f0,#4e0,#6e0,#bd0,#c00,#6e0,#4a0,#770,#a40,#910,#7b0,#880,#870,#6a0,#6f0,#9e0,#a50,#710,#5f0,#880,#a10,#860,#720,#760,#7f0,#950,#9e0,#700,#510,#8b0,#cb0,#910,#490,#600,#a40,#ad0,#850,#6a0,#6d0,#860,#950,#880,#770,#790,#8d0,#9a0,#7c0,#4f0,#6f0,#d40,#c70,#4b0,#2e0,#8e0,#e20,#b00,#590,#400,#7a0,#cf0,#b30,#560,#4d0,#930,#b20,#8a0,#6e0,#700,#830,#900,#840,#7a0,#8c0,#8d0,#6f0,#710,#900,#900,#870,#890,#6f0,#5f0,#920)"></i><i style="background:linear-gradient(#7b0,#a30,#8f0,#580,#700,#ae0,#910,#650,#870,#990,#6a0,#6b0,#a50,#9b0,#640,#710,#9c0,#8b0,#6c0,#7d0,#950,#870,#7a0,#7d0,#7c0,#840,#980,#890,#600,#6c0,#ab0,#af0,#6d0,#510,#770,#ac0,#af0,#7a0,#520,#6e0,#a80,#a00,#730,#700,#830,#830,#860,#900,#810,#6d0,#790,#950,#9a0,#810,#660,#6c0,#920,#a40,#890,#710,#6d0,#780,#900,#9c0,#880,#720,#6f0,#750,#940,#b40,#820,#400,#6a0,#d80,#bc0,#480,#400,#9f0,#cf0,#900,#580,#600,#840,#980,#a00,#9b0,#690,#410,#760,#de0,#c30,#510,#380,#830,#cc0,#af0,#5f0,#490,#8b0,#c20,#8b0,#570,#740,#980,#8b0,#880,#8a0,#6d0,#680,#920,#a20,#820,#720,#770,#7f0,#910,#900,#6f0,#6c0,#9b0,#a70,#740,#5c0,#770,#940,#9f0,#9c0,#790,#4f0,#610,#b00,#c90,#7d0,#4c0,#6d0,#9d0,#930,#7d0,#890,#8b0,#6c0,#690,#970,#aa0,#790,#5e0,#800,#9f0,#8b0,#750,#750,#7b0,#910,#a30,#780,#4f0,#7d0,#c90,#a00,#500,#570,#980,#ae0,#8e0,#6e0,#6b0,#800,#940,#8b0,#790,#770,#890,#9d0,#850,#500,#610,#c90,#d90,#5d0,#290,#770,#d90,#c00,#680,#3e0,#690,#c40,#c10,#620,#480,#860,#b00,#920,#720,#6f0,#7f0,#8f0,#850,#790,#8b0,#900,#720,#6e0,#8b0,#900,#890,#8d0,#740,#5b0,#860,#bd0)"></i><i style="background:linear-gradient(#a10,#970,#5c0,#680,#a80,#970,#670,#830,#9c0,#6e0,#650,#9f0,#a10,#690,#6c0,#990,#900,#6e0,#790,#930,#8a0,#7c0,#7d0,#7b0,#800,#980,#900,#630,#640,#a20,#b60,#790,#510,#6b0,#a30,#b40,#860,#550,#650,#a00,#a50,#790,#700,#810,#810,#840,#910,#850,#6e0,#740,#900,#9c0,#890,#690,#670,#8b0,#a30,#900,#760,#6d0,#730,#8b0,#9d0,#8e0,#770,#6e0,#6f0,#8c0,#b70,#910,#430,#5a0,#cc0,#cd0,#570,#390,#8c0,#ce0,#9f0,#600,#5c0,#7c0,#920,#a00,#a40,#750,#400,#640,#d20,#d40,#620,#350,#710,#c30,#bc0,#6c0,#460,#7d0,#c00,#960,#5b0,#6e0,#930,#8c0,#890,#8f0,#710,#640,#8a0,#a30,#880,#750,#760,#7c0,#8e0,#940,#730,#670,#950,#ac0,#7d0,#5c0,#6f0,#8d0,#9d0,#a30,#840,#520,#560,#a10,#cd0,#8d0,#510,#650,#960,#940,#7e0,#890,#8f0,#700,#640,#8f0,#ac0,#820,#5e0,#790,#9d0,#900,#790,#740,#770,#8d0,#a60,#820,#4e0,#6f0,#c30,#ae0,#590,#510,#8c0,#ad0,#950,#740,#6a0,#7b0,#910,#8d0,#7b0,#760,#850,#9f0,#8e0,#530,#530,#b90,#e70,#730,#290,#620,#cb0,#cd0,#790,#400,#5a0,#b70,#cb0,#710,#470,#7a0,#ab0,#980,#780,#6f0,#7b0,#8d0,#870,#790,#890,#940,#760,#6b0,#860,#8f0,#8a0,#910,#7a0,#580,#7b0,#ba0,#9e0)"></i><i style="background:linear-gradient(#a00,#610,#600,#a10,#9d0,#6a0,#7f0,#9f0,#730,#610,#980,#a60,#6f0,#680,#950,#930,#700,#760,#900,#8c0,#7e0,#7e0,#7a0,#7d0,#970,#960,#680,#5d0,#980,#ba0,#850,#540,#620,#980,#b70,#920,#5a0,#5e0,#970,#a70,#7f0,#710,#7f0,#800,#820,#920,#8a0,#700,#700,#8b0,#9d0,#8f0,#6e0,#630,#820,#a10,#960,#7c0,#6e0,#700,#840,#9b0,#930,#7c0,#700,#6b0,#830,#b70,#9f0,#490,#4c0,#bd0,#da0,#680,#360,#7a0,#c80,#ab0,#6a0,#5b0,#740,#8b0,#9d0,#ac0,#830,#420,#530,#c10,#e10,#760,#360,#600,#b60,#c50,#7b0,#470,#6f0,#ba0,#a10,#610,#690,#8e0,#8b0,#8a0,#930,#770,#610,#820,#a10,#8d0,#780,#760,#790,#8b0,#970,#770,#640,#8d0,#ae0,#870,#600,#690,#850,#990,#a80,#900,#580,#4d0,#910,#cd0,#9c0,#580,#5f0,#8f0,#940,#7f0,#880,#930,#750,#610,#860,#ad0,#8b0,#600,#730,#990,#930,#7d0,#750,#730,#870,#a80,#8d0,#510,#630,#ba0,#bb0,#650,#4d0,#800,#a90,#9c0,#7b0,#6a0,#770,#8e0,#8f0,#7e0,#740,#810,#9f0,#980,#590,#480,#a60,#ef0,#8a0,#2d0,#500,#b90,#d50,#8c0,#460,#4e0,#a70,#d20,#800,#490,#6f0,#a50,#9d0,#7e0,#700,#780,#8b0,#880,#780,#870,#960,#7b0,#6a0,#810,#8d0,#8a0,#950,#810,#580,#6f0,#b40,#a80,#6b0)"></i><i style="background:linear-gradient(#680,#5b0,#990,#a10,#6d0,#7b0,#a00,#790,#5d0,#900,#aa0,#760,#660,#900,#970,#730,#730,#8d0,#8d0,#800,#7f0,#790,#790,#940,#9c0,#6e0,#580,#8c0,#bc0,#920,#590,#5b0,#8c0,#b60,#9e0,#620,#580,#8d0,#a80,#850,#730,#7e0,#7f0,#800,#910,#8e0,#730,#6d0,#850,#9c0,#960,#740,#610,#7a0,#9d0,#9a0,#820,#710,#6d0,#7e0,#980,#970,#810,#730,#680,#7a0,#b40,#ad0,#520,#410,#aa0,#e30,#7b0,#360,#690,#bd0,#b50,#760,#5c0,#6d0,#830,#980,#b10,#920,#480,#450,#ad0,#e90,#8b0,#3b0,#530,#a60,#ca0,#8a0,#4a0,#640,#b20,#aa0,#680,#660,#890,#890,#890,#960,#7d0,#600,#7b0,#9e0,#920,#7c0,#770,#760,#880,#990,#7d0,#620,#840,#ae0,#910,#650,#650,#7d0,#930,#aa0,#9c0,#610,#470,#800,#c80,#aa0,#610,#5b0,#870,#930,#7f0,#870,#970,#7b0,#5f0,#7e0,#ab0,#930,#640,#6d0,#940,#960,#810,#770,#710,#810,#a80,#980,#550,#580,#ae0,#c40,#720,#4c0,#740,#a20,#a00,#820,#6d0,#730,#8a0,#900,#810,#740,#7c0,#9e0,#a20,#620,#400,#920,#f10,#a20,#350,#420,#a50,#d70,#9f0,#4f0,#450,#950,#d40,#910,#4d0,#650,#9d0,#a00,#840,#720,#760,#890,#890,#780,#840,#980,#800,#6a0,#7d0,#8a0,#890,#980,#890,#5a0,#650,#ab0,#b00,#740,#630)"></i><i style="background:linear-gradient(#570,#910,#a30,#710,#770,#a10,#800,#5c0,#870,#ab0,#7d0,#650,#8b0,#990,#770,#710,#8a0,#8e0,#820,#800,#7a0,#760,#910,#a10,#760,#550,#800,#ba0,#9e0,#610,#560,#800,#b20,#a80,#6b0,#550,#830,#a60,#8b0,#750,#7d0,#7e0,#7d0,#8f0,#920,#770,#6b0,#7e0,#990,#9b0,#7b0,#610,#730,#970,#9c0,#880,#750,#6b0,#780,#940,#990,#870,#770,#660,#710,#ad0,#ba0,#5f0,#3a0,#960,#e70,#8f0,#3a0,#5a0,#b00,#bc0,#820,#600,#690,#7b0,#910,#b30,#a10,#510,#3b0,#970,#eb0,#a10,#440,#480,#950,#ca0,#9a0,#500,#5a0,#a80,#b10,#710,#640,#840,#870,#880,#990,#840,#610,#730,#990,#950,#810,#780,#740,#840,#9a0,#820,#610,#7b0,#ac0,#9a0,#6b0,#630,#750,#8c0,#a90,#a80,#6d0,#440,#6f0,#c00,#b60,#6c0,#5a0,#800,#910,#7f0,#850,#990,#820,#5f0,#750,#a70,#9b0,#690,#690,#8e0,#970,#850,#790,#6f0,#7a0,#a60,#a20,#5c0,#4f0,#a00,#ca0,#810,#4e0,#6b0,#9a0,#a20,#890,#700,#710,#860,#900,#830,#740,#780,#9a0,#ab0,#6d0,#3b0,#7c0,#ed0,#ba0,#420,#380,#900,#d40,#b00,#5b0,#3f0,#830,#d10,#a00,#540,#5e0,#940,#a00,#890,#750,#740,#860,#8a0,#780,#810,#990,#860,#6b0,#790,#870,#870,#990,#920,#5e0,#5c0,#a10,#b50,#7e0,#650,#720)"></i><i style="background:linear-gradient(#880,#a50,#750,#740,#a00,#870,#5b0,#7e0,#ab0,#840,#640,#860,#9a0,#7b0,#6f0,#860,#8e0,#840,#820,#7b0,#730,#8c0,#a50,#7f0,#550,#750,#b40,#a90,#6b0,#530,#740,#aa0,#b10,#760,#540,#790,#a30,#900,#780,#7d0,#7d0,#7b0,#8d0,#950,#7c0,#6a0,#780,#950,#9f0,#830,#630,#6c0,#900,#9d0,#8e0,#7a0,#6c0,#720,#8f0,#9a0,#8c0,#7c0,#660,#680,#a50,#c40,#6d0,#350,#820,#e50,#a40,#420,#4f0,#a10,#bf0,#8e0,#660,#660,#740,#880,#b20,#b00,#5e0,#350,#810,#e60,#b60,#510,#410,#840,#c70,#a80,#590,#520,#9c0,#b50,#7a0,#640,#7f0,#850,#850,#9b0,#8b0,#640,#6d0,#940,#960,#850,#7b0,#730,#800,#9a0,#890,#610,#730,#a70,#a20,#740,#630,#6f0,#830,#a50,#b10,#7a0,#450,#610,#b40,#be0,#780,#5b0,#7a0,#8f0,#7f0,#830,#9b0,#890,#610,#6d0,#a20,#a20,#700,#660,#880,#970,#890,#7c0,#6f0,#740,#a10,#ab0,#660,#490,#900,#cc0,#900,#530,#630,#910,#a20,#8f0,#740,#6f0,#820,#900,#860,#750,#730,#950,#b20,#7a0,#390,#680,#e30,#d00,#520,#320,#7b0,#cc0,#bf0,#6b0,#3c0,#710,#ca0,#ae0,#5d0,#590,#8a0,#9f0,#8e0,#790,#730,#840,#8a0,#780,#7e0,#990,#8b0,#6e0,#760,#840,#840,#990,#9a0,#640,#550,#950,#b70,#880,#690,#6f0,#790)"></i><i style="background:linear-gradient(#a50,#790,#700,#9f0,#8f0,#5d0,#760,#a90,#8b0,#650,#800,#9b0,#800,#6f0,#830,#8e0,#860,#840,#7c0,#700,#860,#a70,#880,#560,#6a0,#ac0,#b20,#770,#540,#690,#a10,#b60,#820,#560,#710,#9e0,#930,#7b0,#7e0,#7d0,#780,#8a0,#970,#810,#6b0,#730,#8f0,#a10,#8b0,#670,#670,#890,#9c0,#920,#800,#6d0,#6e0,#880,#990,#910,#820,#690,#600,#990,#cb0,#7e0,#350,#6e0,#de0,#b70,#4d0,#460,#910,#be0,#990,#6d0,#660,#6d0,#7f0,#ad0,#bd0,#6d0,#320,#6b0,#db0,#c80,#600,#3e0,#730,#bf0,#b50,#630,#4d0,#8f0,#b70,#830,#660,#7c0,#820,#820,#9b0,#920,#680,#680,#8e0,#970,#880,#7e0,#730,#7b0,#990,#8f0,#640,#6b0,#a10,#a80,#7d0,#660,#6a0,#7a0,#9e0,#b80,#890,#490,#540,#a50,#c30,#850,#5d0,#750,#8c0,#7e0,#800,#9b0,#900,#640,#660,#9a0,#a60,#770,#650,#820,#950,#8c0,#800,#6f0,#6e0,#9b0,#b30,#710,#450,#810,#c90,#9e0,#5a0,#5d0,#880,#a00,#950,#790,#6f0,#7f0,#8e0,#890,#770,#6f0,#8e0,#b70,#890,#3b0,#550,#d30,#e20,#660,#310,#680,#bf0,#ca0,#7c0,#3e0,#620,#bf0,#ba0,#680,#560,#810,#9c0,#920,#7d0,#730,#810,#8b0,#790,#7a0,#970,#900,#710,#740,#800,#800,#970,#a20,#6c0,#510,#880,#b60,#920,#6e0,#6e0,#750,#880)"></i><i style="background:linear-gradient(#7d0,#6d0,#9c0,#960,#600,#6f0,#a50,#920,#670,#7b0,#9a0,#840,#6f0,#7f0,#8d0,#870,#850,#7e0,#6f0,#800,#a70,#920,#5a0,#600,#a20,#b80,#830,#570,#600,#950,#b90,#8e0,#5a0,#690,#980,#950,#7e0,#7f0,#7e0,#760,#860,#980,#870,#6d0,#6e0,#890,#a10,#930,#6d0,#640,#810,#990,#960,#860,#700,#6b0,#820,#970,#940,#880,#6d0,#5a0,#8d0,#ce0,#900,#370,#5c0,#d20,#c80,#5b0,#410,#810,#b90,#a30,#760,#680,#690,#750,#a50,#c70,#800,#330,#580,#cb0,#d60,#720,#3f0,#640,#b40,#bf0,#700,#4a0,#830,#b60,#8c0,#690,#790,#7f0,#7e0,#990,#990,#6e0,#650,#870,#960,#8b0,#810,#730,#770,#970,#950,#670,#640,#980,#ac0,#860,#6a0,#670,#720,#950,#bb0,#990,#510,#4b0,#950,#c40,#910,#620,#720,#8a0,#7e0,#7c0,#9a0,#970,#6a0,#610,#920,#a90,#7f0,#650,#7d0,#930,#8f0,#850,#710,#680,#930,#b80,#7e0,#450,#710,#c30,#ab0,#640,#5a0,#7e0,#9c0,#990,#7f0,#6f0,#7b0,#8d0,#8b0,#790,#6c0,#870,#b90,#990,#410,#450,#be0,#ee0,#7c0,#330,#570,#af0,#d10,#8e0,#430,#540,#b20,#c20,#740,#560,#790,#980,#950,#820,#740,#7f0,#8b0,#7a0,#770,#950,#950,#750,#730,#7e0,#7c0,#930,#a80,#760,#4f0,#7b0,#b20,#9a0,#750,#6f0,#710,#820,#9a0)"></i><i style="background:linear-gradient(#6b0,#980,#9d0,#640,#680,#a00,#970,#6a0,#770,#990,#890,#700,#7c0,#8b0,#870,#870,#810,#6e0,#7a0,#a50,#9b0,#600,#590,#960,#ba0,#900,#5d0,#590,#890,#b80,#9a0,#600,#640,#910,#970,#810,#800,#7f0,#750,#820,#980,#8c0,#700,#6b0,#820,#9f0,#9a0,#730,#620,#7a0,#940,#980,#8c0,#750,#690,#7c0,#930,#960,#8f0,#730,#560,#7f0,#ce0,#a20,#3e0,#4d0,#c20,#d50,#6c0,#3f0,#720,#b10,#aa0,#800,#6c0,#670,#6c0,#9a0,#cd0,#930,#390,#480,#b80,#df0,#850,#430,#580,#a60,#c50,#7e0,#4a0,#770,#b20,#940,#6d0,#770,#7d0,#7a0,#960,#9f0,#740,#630,#810,#930,#8d0,#850,#750,#730,#940,#9a0,#6d0,#5f0,#8f0,#ad0,#8f0,#700,#670,#6a0,#8b0,#bb0,#a80,#5b0,#450,#850,#c00,#9c0,#680,#6f0,#880,#7d0,#790,#970,#9d0,#700,#5d0,#890,#aa0,#860,#660,#770,#900,#900,#890,#750,#640,#890,#bb0,#8c0,#470,#630,#b90,#b50,#6f0,#590,#760,#970,#9b0,#840,#710,#780,#8b0,#8d0,#7c0,#690,#7e0,#b80,#a90,#4a0,#390,#a70,#f40,#940,#3a0,#4a0,#9c0,#d30,#a00,#4b0,#4a0,#a20,#c70,#810,#580,#710,#920,#970,#860,#750,#7d0,#8b0,#7b0,#740,#910,#980,#7a0,#730,#7c0,#780,#8e0,#ac0,#810,#4f0,#700,#ac0,#a00,#7c0,#710,#6e0,#7c0,#970,#910)"></i><i style="background:linear-gradient(#940,#a30,#6a0,#630,#9a0,#9c0,#6e0,#730,#970,#8d0,#720,#790,#890,#870,#890,#840,#6e0,#740,#a10,#a40,#670,#530,#890,#b90,#9c0,#650,#550,#7d0,#b30,#a40,#680,#600,#8a0,#960,#840,#820,#800,#740,#7e0,#970,#910,#750,#690,#7b0,#9b0,#a00,#7b0,#630,#740,#8f0,#980,#910,#7a0,#690,#760,#8e0,#960,#950,#7a0,#550,#720,#c90,#b40,#470,#400,#af0,#dd0,#7e0,#410,#650,#a70,#ae0,#890,#720,#670,#640,#8d0,#ce0,#a70,#420,#3b0,#a20,#e20,#990,#4b0,#4e0,#970,#c80,#8c0,#4d0,#6c0,#ac0,#9b0,#710,#770,#7c0,#760,#910,#a30,#7c0,#630,#7b0,#900,#8f0,#880,#770,#700,#900,#9f0,#730,#5c0,#850,#ab0,#970,#770,#680,#640,#7f0,#b60,#b50,#690,#420,#750,#ba0,#a50,#6f0,#6e0,#860,#7d0,#750,#930,#a20,#780,#5b0,#800,#a90,#8e0,#690,#730,#8c0,#900,#8d0,#790,#620,#7f0,#bb0,#9a0,#4c0,#580,#ad0,#bd0,#7b0,#5a0,#6f0,#900,#9c0,#8a0,#740,#760,#880,#8f0,#800,#680,#750,#b30,#b90,#570,#300,#8f0,#f30,#ab0,#450,#410,#890,#cf0,#b20,#570,#420,#910,#c80,#8e0,#5c0,#6b0,#8c0,#970,#8a0,#770,#7c0,#8b0,#7d0,#710,#8d0,#9b0,#7f0,#740,#7b0,#740,#880,#af0,#8d0,#520,#650,#a30,#a40,#830,#750,#6d0,#760,#930,#930,#7f0)"></i><i style="background:linear-gradient(#a70,#710,#5f0,#930,#a00,#720,#6f0,#930,#900,#750,#770,#860,#870,#8a0,#880,#700,#6e0,#9b0,#ab0,#710,#500,#7d0,#b50,#a70,#6f0,#530,#710,#ac0,#ac0,#710,#5e0,#830,#950,#850,#830,#820,#740,#7a0,#940,#950,#7a0,#690,#740,#960,#a30,#830,#650,#6e0,#890,#970,#950,#800,#6a0,#710,#880,#950,#9a0,#820,#550,#650,#c00,#c40,#540,#370,#9a0,#e10,#910,#470,#5a0,#9a0,#af0,#920,#790,#690,#5d0,#7f0,#cb0,#bb0,#500,#330,#8c0,#df0,#ab0,#560,#470,#870,#c70,#9b0,#520,#620,#a50,#a00,#770,#780,#7b0,#720,#8c0,#a60,#840,#650,#760,#8c0,#8f0,#8b0,#7a0,#6e0,#8b0,#a30,#7b0,#5a0,#7b0,#a70,#9e0,#7f0,#6c0,#600,#740,#af0,#c00,#780,#420,#670,#b00,#ab0,#770,#6f0,#840,#7e0,#720,#8e0,#a60,#810,#5b0,#770,#a60,#950,#6d0,#700,#870,#900,#910,#7f0,#600,#750,#b70,#a80,#540,#4e0,#9f0,#c10,#870,#5e0,#690,#890,#9b0,#8f0,#770,#750,#850,#900,#840,#690,#6c0,#ac0,#c60,#670,#2c0,#770,#eb0,#c00,#540,#3c0,#770,#c70,#c10,#650,#3e0,#800,#c50,#9a0,#620,#670,#860,#950,#8d0,#7a0,#7b0,#8b0,#7f0,#6f0,#880,#9c0,#840,#760,#7a0,#710,#810,#af0,#990,#570,#5d0,#990,#a60,#890,#7a0,#6e0,#710,#8e0,#940,#810,#890)"></i><i style="background:linear-gradient(#790,#5c0,#8c0,#a20,#770,#6d0,#900,#930,#780,#760,#840,#860,#8a0,#8b0,#720,#690,#940,#b00,#7c0,#500,#700,#ae0,#af0,#7a0,#540,#660,#a30,#b20,#7a0,#5e0,#7d0,#930,#870,#840,#850,#750,#760,#910,#990,#800,#6a0,#6f0,#8f0,#a50,#8c0,#690,#6b0,#820,#940,#980,#870,#6d0,#6e0,#820,#920,#9d0,#8c0,#590,#590,#b30,#d10,#640,#320,#860,#de0,#a30,#4f0,#520,#8d0,#ad0,#990,#810,#6d0,#590,#710,#c20,#cc0,#610,#2f0,#760,#d60,#bc0,#630,#440,#770,#c10,#a80,#590,#5b0,#9c0,#a30,#7c0,#790,#7c0,#6f0,#850,#a60,#8c0,#680,#720,#880,#8e0,#8e0,#7e0,#6c0,#850,#a50,#830,#5a0,#710,#a10,#a20,#870,#720,#5f0,#690,#a40,#c70,#890,#470,#5b0,#a40,#af0,#7f0,#700,#840,#7f0,#6f0,#870,#a70,#8a0,#5d0,#6f0,#a10,#9a0,#720,#6e0,#830,#8e0,#930,#850,#610,#6c0,#b10,#b40,#5e0,#470,#8f0,#c10,#930,#640,#650,#810,#990,#920,#7b0,#740,#830,#900,#880,#6a0,#640,#a20,#d00,#7a0,#2b0,#610,#dd0,#d30,#660,#3a0,#650,#ba0,#cc0,#750,#3d0,#710,#be0,#a50,#6a0,#650,#800,#930,#900,#7c0,#7a0,#8b0,#820,#6d0,#820,#9b0,#890,#790,#7b0,#6f0,#790,#ac0,#a40,#5f0,#570,#8f0,#a50,#8f0,#7f0,#700,#6d0,#890,#930,#820,#8a0,#910)"></i><i style="background:linear-gradient(#5c0,#840,#a30,#7c0,#6b0,#8b0,#950,#7b0,#750,#820,#840,#8a0,#8f0,#760,#650,#8c0,#b30,#880,#520,#650,#a40,#b50,#870,#580,#5e0,#980,#b50,#850,#600,#770,#900,#880,#850,#870,#760,#720,#8c0,#9b0,#870,#6d0,#6a0,#870,#a50,#940,#6e0,#680,#7c0,#8f0,#9a0,#8d0,#710,#6c0,#7d0,#8d0,#9e0,#950,#5e0,#500,#a40,#db0,#770,#310,#720,#d70,#b40,#5a0,#4d0,#810,#a80,#9e0,#890,#740,#580,#640,#b60,#d90,#750,#2e0,#620,#c90,#c80,#730,#440,#690,#b90,#b30,#630,#560,#920,#a40,#810,#7b0,#7d0,#6d0,#7e0,#a50,#940,#6c0,#6f0,#830,#8c0,#900,#820,#6c0,#7f0,#a50,#8c0,#5d0,#690,#990,#a40,#8f0,#790,#600,#5f0,#960,#ca0,#9a0,#4e0,#520,#970,#b10,#860,#720,#830,#800,#6d0,#810,#a70,#920,#610,#680,#9b0,#9f0,#780,#6d0,#7f0,#8b0,#950,#8b0,#640,#630,#a80,#be0,#6b0,#440,#800,#bd0,#9e0,#6c0,#630,#7a0,#950,#950,#7f0,#740,#800,#900,#8d0,#6e0,#5d0,#950,#d60,#8f0,#2f0,#4d0,#cb0,#e00,#790,#3d0,#570,#aa0,#d30,#870,#400,#630,#b50,#ad0,#720,#640,#7a0,#8f0,#910,#7f0,#7a0,#8b0,#850,#6d0,#7d0,#9a0,#8d0,#7c0,#7d0,#6e0,#720,#a70,#ae0,#690,#530,#840,#a20,#940,#850,#730,#6b0,#830,#920,#820,#8a0,#960,#700)"></i><i style="background:linear-gradient(#7d0,#a20,#820,#6a0,#870,#960,#7f0,#750,#800,#830,#890,#910,#7b0,#620,#830,#b40,#940,#570,#5c0,#980,#b70,#930,#5f0,#570,#8c0,#b60,#8e0,#640,#730,#8d0,#880,#860,#8a0,#790,#700,#870,#9b0,#8d0,#710,#670,#7f0,#a20,#9b0,#750,#680,#760,#8a0,#990,#930,#770,#6b0,#780,#880,#9e0,#9e0,#660,#490,#940,#e00,#8b0,#330,#5f0,#cb0,#c20,#680,#4c0,#750,#a00,#a10,#900,#7c0,#590,#580,#a60,#e10,#8a0,#330,#510,#b80,#d10,#840,#480,#5d0,#ad0,#bc0,#6e0,#530,#880,#a40,#860,#7e0,#7f0,#6c0,#780,#a10,#9a0,#720,#6d0,#7f0,#890,#910,#860,#6c0,#7a0,#a40,#950,#610,#630,#900,#a40,#960,#810,#630,#580,#880,#c80,#aa0,#580,#4c0,#8a0,#af0,#8c0,#750,#830,#820,#6c0,#7a0,#a40,#9b0,#670,#630,#930,#a20,#7e0,#6e0,#7b0,#880,#950,#920,#680,#5b0,#9d0,#c50,#7a0,#430,#720,#b60,#a70,#740,#630,#740,#900,#970,#830,#750,#7d0,#8e0,#910,#720,#580,#870,#d70,#a50,#370,#3e0,#b40,#e70,#8e0,#440,#4b0,#980,#d50,#990,#460,#570,#a90,#b30,#7c0,#660,#750,#8b0,#920,#820,#790,#8b0,#880,#6e0,#770,#970,#900,#800,#800,#6e0,#6b0,#9f0,#b50,#740,#520,#7a0,#9d0,#960,#8a0,#780,#690,#7e0,#900,#820,#890,#9b0,#770,#590)"></i><i style="background:linear-gradient(#a10,#870,#6a0,#820,#970,#830,#760,#7e0,#810,#870,#940,#800,#610,#7a0,#b10,#9f0,#5e0,#560,#8c0,#b60,#9f0,#670,#530,#800,#b30,#980,#680,#700,#890,#870,#860,#8c0,#7c0,#6e0,#820,#9a0,#920,#760,#650,#780,#9e0,#a00,#7c0,#690,#720,#840,#970,#970,#7d0,#6c0,#730,#820,#9b0,#a70,#700,#440,#820,#df0,#9f0,#390,#500,#bc0,#cc0,#770,#4d0,#6a0,#980,#a10,#970,#850,#5d0,#4e0,#940,#e40,#a10,#3b0,#440,#a40,#d40,#960,#4e0,#530,#a00,#c10,#7a0,#520,#7f0,#a20,#8a0,#810,#820,#6c0,#710,#9c0,#9f0,#780,#6d0,#7c0,#860,#910,#8a0,#6d0,#740,#a10,#9d0,#680,#5e0,#860,#a10,#9b0,#8a0,#690,#530,#790,#c20,#b80,#650,#480,#7d0,#ab0,#920,#770,#840,#850,#6c0,#730,#a00,#a20,#6e0,#5f0,#8b0,#a30,#840,#6f0,#780,#840,#940,#980,#6e0,#560,#900,#c90,#890,#460,#650,#ad0,#ad0,#7e0,#650,#6f0,#8a0,#970,#870,#760,#7b0,#8d0,#950,#790,#550,#780,#d40,#ba0,#430,#320,#9c0,#e80,#a30,#4e0,#430,#860,#d20,#ab0,#4f0,#4e0,#9b0,#b60,#850,#690,#710,#860,#920,#840,#790,#8a0,#8b0,#6f0,#730,#930,#920,#830,#830,#700,#640,#960,#ba0,#810,#530,#710,#970,#970,#8f0,#7d0,#6a0,#790,#8d0,#820,#870,#9e0,#7f0,#590,#790)"></i><i style="background:linear-gradient(#8c0,#6b0,#7e0,#960,#860,#770,#7d0,#7f0,#850,#950,#860,#620,#710,#ac0,#a90,#670,#520,#7f0,#b10,#a90,#720,#520,#740,#ad0,#9f0,#6e0,#6e0,#860,#860,#860,#8e0,#7f0,#6d0,#7c0,#970,#970,#7c0,#660,#710,#970,#a30,#840,#6c0,#6f0,#7e0,#940,#9b0,#830,#6e0,#700,#7c0,#970,#ad0,#7c0,#430,#710,#da0,#b30,#430,#440,#a90,#d20,#870,#510,#620,#8e0,#9f0,#9c0,#8f0,#640,#480,#810,#e10,#b70,#470,#3a0,#900,#d20,#a60,#580,#4b0,#910,#c40,#870,#530,#760,#9e0,#8d0,#830,#860,#6e0,#6b0,#960,#a30,#7f0,#6e0,#790,#830,#900,#8e0,#700,#6f0,#9c0,#a40,#6f0,#5b0,#7d0,#9c0,#9e0,#930,#710,#510,#6b0,#b80,#c40,#740,#490,#710,#a50,#960,#7a0,#840,#880,#6d0,#6d0,#9a0,#a70,#760,#5d0,#830,#a20,#890,#720,#750,#7f0,#920,#9d0,#760,#520,#830,#c90,#990,#4b0,#5a0,#a10,#b10,#870,#690,#6c0,#840,#960,#8a0,#780,#780,#8a0,#990,#800,#540,#6a0,#cb0,#ce0,#540,#2b0,#840,#e30,#b60,#5c0,#3f0,#740,#ca0,#ba0,#5b0,#480,#8d0,#b50,#8e0,#6d0,#6f0,#820,#910,#860,#790,#890,#8e0,#720,#6f0,#8e0,#930,#860,#870,#730,#600,#8b0,#bc0,#8d0,#570,#690,#900,#960,#930,#830,#6b0,#750,#8a0,#810,#850,#a10,#880,#5b0,#710,#9e0)"></i><i style="background:linear-gradient(#6d0,#7a0,#940,#890,#790,#7c0,#7d0,#820,#960,#8c0,#640,#680,#a50,#b20,#720,#500,#730,#aa0,#b00,#7e0,#530,#6a0,#a60,#a50,#750,#6d0,#820,#850,#850,#8f0,#830,#6e0,#770,#930,#9a0,#830,#680,#6a0,#900,#a50,#8c0,#700,#6d0,#780,#8f0,#9d0,#890,#720,#6f0,#760,#900,#b10,#890,#440,#610,#d00,#c60,#500,#3b0,#960,#d20,#970,#580,#5c0,#840,#9a0,#9e0,#990,#6e0,#440,#6f0,#d80,#cb0,#570,#350,#7c0,#cb0,#b50,#640,#470,#830,#c20,#930,#570,#6e0,#990,#8f0,#860,#8a0,#710,#660,#8e0,#a40,#850,#710,#770,#7f0,#8f0,#920,#730,#6a0,#960,#a90,#780,#5b0,#740,#950,#9f0,#9b0,#7b0,#520,#5e0,#aa0,#cb0,#840,#4c0,#670,#9d0,#980,#7d0,#850,#8c0,#700,#680,#920,#ab0,#7e0,#5d0,#7b0,#a00,#8f0,#750,#740,#7b0,#8e0,#a10,#7e0,#510,#750,#c50,#a80,#540,#520,#940,#b10,#900,#6f0,#690,#7f0,#940,#8d0,#7a0,#770,#870,#9b0,#880,#550,#5c0,#be0,#de0,#680,#280,#6e0,#d70,#c60,#6c0,#3e0,#630,#bf0,#c70,#690,#450,#800,#b20,#960,#720,#6e0,#7d0,#8f0,#880,#790,#870,#910,#750,#6c0,#890,#930,#880,#8b0,#780,#5c0,#800,#bb0,#9a0,#5d0,#640,#880,#940,#960,#890,#6e0,#720,#880,#7f0,#810,#a10,#910,#5e0,#6a0,#990,#8e0)"></i><i style="background:linear-gradient(#760,#920,#8c0,#7b0,#7c0,#7c0,#7f0,#950,#920,#680,#610,#9c0,#b80,#7e0,#510,#680,#a00,#b50,#8a0,#570,#610,#9c0,#a90,#7c0,#6d0,#800,#830,#830,#900,#870,#6f0,#720,#8e0,#9c0,#8a0,#6b0,#660,#880,#a40,#920,#760,#6d0,#730,#890,#9c0,#8f0,#770,#6f0,#710,#890,#b30,#970,#490,#520,#c20,#d50,#600,#360,#830,#cf0,#a50,#610,#590,#7a0,#940,#9e0,#a20,#7a0,#440,#5d0,#c90,#db0,#6a0,#330,#6a0,#c00,#c00,#720,#460,#750,#be0,#9f0,#5d0,#680,#930,#8f0,#870,#8e0,#750,#630,#860,#a40,#8b0,#740,#750,#7c0,#8c0,#950,#770,#660,#8f0,#ac0,#820,#5c0,#6d0,#8d0,#9d0,#a10,#860,#560,#530,#9a0,#ce0,#940,#520,#5f0,#950,#990,#7f0,#850,#8f0,#740,#640,#8a0,#ad0,#870,#5f0,#740,#9c0,#930,#790,#740,#780,#8a0,#a40,#880,#520,#680,#bd0,#b60,#5e0,#4d0,#870,#af0,#980,#750,#690,#790,#910,#8f0,#7d0,#760,#830,#9c0,#910,#590,#510,#ad0,#e90,#7e0,#2a0,#5a0,#c70,#d20,#7f0,#420,#550,#af0,#d00,#790,#450,#730,#ac0,#9c0,#790,#6e0,#7a0,#8d0,#8a0,#790,#860,#940,#7a0,#6a0,#840,#910,#890,#8f0,#7e0,#5b0,#750,#b70,#a50,#650,#610,#810,#900,#970,#8f0,#720,#700,#850,#7e0,#7d0,#a00,#9a0,#640,#640,#930,#8f0,#780)"></i><i style="background:linear-gradient(#8f0,#8e0,#7e0,#7d0,#7b0,#7c0,#930,#980,#6d0,#5c0,#910,#bb0,#8b0,#550,#5f0,#950,#b60,#970,#5d0,#5a0,#920,#ab0,#830,#6f0,#7e0,#820,#810,#900,#8b0,#720,#6f0,#890,#9c0,#910,#700,#630,#7f0,#a10,#980,#7c0,#6e0,#700,#830,#9b0,#940,#7c0,#700,#6c0,#800,#b10,#a50,#510,#470,#b10,#e00,#720,#340,#710,#c60,#b20,#6d0,#580,#720,#8c0,#9c0,#a90,#870,#470,#4e0,#b70,#e60,#7f0,#360,#5a0,#b20,#c80,#820,#480,#680,#b60,#a90,#640,#640,#8d0,#8e0,#880,#910,#7b0,#610,#7e0,#a20,#910,#780,#750,#790,#890,#970,#7c0,#640,#870,#ae0,#8c0,#600,#670,#850,#990,#a50,#920,#5c0,#4c0,#8a0,#cc0,#a40,#5a0,#5a0,#8c0,#980,#810,#850,#930,#790,#610,#810,#ac0,#900,#620,#6e0,#970,#960,#7d0,#750,#740,#840,#a50,#920,#550,#5d0,#b30,#c10,#6b0,#4a0,#7b0,#a90,#9e0,#7c0,#6a0,#750,#8d0,#900,#800,#750,#7f0,#9b0,#9a0,#600,#470,#9a0,#ee0,#960,#300,#490,#b30,#d80,#920,#490,#4a0,#9e0,#d40,#8a0,#480,#680,#a40,#a10,#7f0,#700,#760,#8a0,#8b0,#7a0,#830,#960,#7f0,#690,#7f0,#8f0,#8a0,#920,#850,#5c0,#6a0,#af0,#ae0,#6e0,#5f0,#7a0,#8b0,#970,#940,#770,#700,#830,#7d0,#780,#9d0,#a20,#6b0,#610,#8d0,#900,#780,#8c0)"></i><i style="background:linear-gradient(#8f0,#800,#7e0,#7b0,#790,#900,#9d0,#740,#580,#850,#ba0,#980,#5c0,#580,#880,#b40,#a20,#660,#560,#870,#aa0,#8a0,#710,#7c0,#800,#7f0,#8f0,#8f0,#750,#6c0,#830,#9b0,#970,#770,#620,#770,#9c0,#9c0,#820,#710,#6d0,#7d0,#970,#980,#820,#730,#6a0,#770,#ad0,#b20,#5b0,#3e0,#9d0,#e60,#870,#370,#600,#ba0,#bb0,#790,#5a0,#6c0,#840,#970,#ad0,#960,#4e0,#420,#a20,#eb0,#960,#3d0,#4d0,#a10,#cb0,#920,#4d0,#5d0,#ac0,#b10,#6c0,#610,#870,#8d0,#880,#940,#810,#610,#760,#9e0,#950,#7c0,#760,#760,#850,#980,#810,#630,#7e0,#ad0,#960,#660,#630,#7d0,#930,#a70,#9e0,#660,#470,#790,#c60,#b10,#650,#570,#840,#970,#820,#840,#950,#7f0,#600,#780,#a90,#990,#670,#690,#920,#980,#820,#770,#720,#7e0,#a40,#9c0,#5b0,#540,#a50,#c80,#7a0,#4b0,#6f0,#a20,#a20,#840,#6d0,#710,#890,#910,#820,#750,#7b0,#990,#a30,#690,#410,#860,#ed0,#af0,#3a0,#3c0,#9e0,#d90,#a50,#530,#420,#8c0,#d40,#9a0,#4e0,#5f0,#9b0,#a30,#850,#720,#740,#870,#8b0,#7a0,#810,#970,#840,#6a0,#7a0,#8c0,#890,#940,#8c0,#5e0,#610,#a50,#b50,#780,#600,#750,#850,#940,#980,#7d0,#700,#810,#7c0,#740,#990,#a80,#730,#5f0,#870,#900,#770,#890,#9f0)"></i><i style="background:linear-gradient(#830,#7f0,#7b0,#760,#8c0,#a10,#7c0,#560,#7a0,#b70,#a40,#640,#540,#7c0,#af0,#ac0,#700,#530,#7d0,#a70,#8f0,#740,#7c0,#7f0,#7d0,#8d0,#930,#7a0,#6b0,#7d0,#980,#9c0,#7e0,#620,#700,#960,#9e0,#890,#750,#6c0,#770,#930,#9a0,#880,#770,#690,#6f0,#a60,#bc0,#690,#380,#890,#e70,#9b0,#3d0,#530,#ac0,#c10,#860,#5f0,#670,#7c0,#900,#af0,#a40,#580,#3a0,#8c0,#ea0,#ab0,#480,#440,#8f0,#ca0,#a10,#540,#540,#a10,#b70,#760,#600,#810,#8a0,#870,#970,#880,#630,#6f0,#980,#980,#810,#780,#750,#810,#990,#870,#630,#760,#a90,#9f0,#6d0,#620,#750,#8b0,#a60,#a80,#720,#450,#690,#bc0,#bc0,#710,#570,#7c0,#940,#820,#830,#970,#860,#610,#700,#a40,#a00,#6d0,#660,#8b0,#990,#860,#790,#710,#780,#a00,#a50,#630,#4c0,#960,#cc0,#890,#4e0,#660,#990,#a40,#8b0,#700,#6f0,#840,#910,#850,#760,#770,#950,#aa0,#750,#3e0,#720,#e60,#c60,#480,#330,#880,#d40,#b60,#610,#3e0,#7a0,#cf0,#aa0,#570,#580,#910,#a30,#8b0,#760,#730,#840,#8c0,#7a0,#7e0,#970,#890,#6c0,#760,#880,#870,#950,#940,#630,#590,#9a0,#b90,#830,#630,#700,#7f0,#910,#9b0,#820,#720,#800,#7c0,#6f0,#920,#ad0,#7c0,#5f0,#810,#8f0,#760,#850,#a10,#840)"></i><i style="background:linear-gradient(#810,#7c0,#740,#880,#a40,#840,#570,#6f0,#b00,#ae0,#6f0,#530,#700,#a70,#b30,#7c0,#540,#730,#a30,#940,#780,#7c0,#7f0,#7b0,#8a0,#950,#7f0,#6b0,#770,#930,#9f0,#860,#650,#6a0,#8e0,#9e0,#8e0,#7a0,#6c0,#710,#8d0,#9b0,#8d0,#7c0,#690,#670,#9d0,#c50,#780,#360,#750,#e20,#af0,#460,#480,#9b0,#c20,#930,#660,#650,#750,#880,#ad0,#b10,#660,#350,#760,#e20,#bf0,#560,#3e0,#7d0,#c50,#af0,#5e0,#4d0,#940,#b90,#800,#610,#7c0,#880,#840,#970,#8f0,#660,#6a0,#920,#990,#850,#7b0,#740,#7d0,#980,#8d0,#640,#6e0,#a40,#a60,#760,#620,#6f0,#830,#a20,#b00,#800,#470,#5b0,#ae0,#c30,#7e0,#580,#760,#910,#820,#810,#980,#8c0,#640,#690,#9d0,#a60,#740,#630,#850,#980,#8a0,#7d0,#710,#720,#9b0,#ad0,#6e0,#480,#870,#cc0,#980,#540,#5e0,#8f0,#a40,#910,#750,#6e0,#800,#900,#880,#770,#730,#900,#b00,#820,#3e0,#5f0,#d90,#da0,#5b0,#2f0,#730,#ca0,#c40,#710,#3d0,#690,#c60,#b70,#610,#540,#870,#a10,#900,#7a0,#720,#810,#8c0,#7b0,#7b0,#960,#8f0,#6f0,#730,#850,#850,#950,#9b0,#6a0,#530,#8d0,#ba0,#8e0,#680,#6e0,#7a0,#8c0,#9c0,#880,#740,#800,#7d0,#6b0,#8b0,#af0,#860,#600,#7c0,#8e0,#760,#800,#a10,#8b0,#6b0)"></i><i style="background:linear-gradient(#7e0,#720,#820,#a40,#8e0,#590,#650,#a70,#b50,#7b0,#540,#660,#9d0,#b70,#880,#570,#6b0,#9c0,#970,#7b0,#7c0,#7f0,#790,#870,#970,#840,#6c0,#720,#8d0,#a00,#8e0,#690,#650,#870,#9d0,#930,#800,#6e0,#6d0,#860,#9a0,#910,#820,#6c0,#610,#910,#c90,#890,#370,#630,#d80,#c20,#530,#410,#8b0,#c00,#9e0,#6e0,#640,#6f0,#7f0,#a80,#bd0,#760,#340,#620,#d50,#d00,#660,#3c0,#6d0,#bb0,#bb0,#6a0,#4a0,#870,#b90,#890,#640,#790,#850,#820,#970,#950,#6b0,#650,#8b0,#990,#890,#7e0,#740,#790,#960,#930,#680,#670,#9c0,#ab0,#7f0,#650,#6a0,#7a0,#9b0,#b60,#8e0,#4d0,#500,#9e0,#c60,#8b0,#5c0,#710,#8d0,#820,#7e0,#970,#930,#680,#630,#950,#a90,#7c0,#630,#7f0,#960,#8d0,#800,#720,#6d0,#940,#b30,#7a0,#460,#770,#c70,#a60,#5d0,#590,#850,#a10,#970,#7b0,#6e0,#7c0,#8e0,#8a0,#790,#700,#890,#b30,#910,#410,#4e0,#c70,#e90,#700,#2f0,#610,#bb0,#cd0,#830,#400,#5a0,#b90,#c10,#6e0,#530,#7d0,#9d0,#940,#7e0,#720,#7f0,#8b0,#7c0,#780,#940,#930,#730,#710,#810,#810,#930,#a20,#730,#500,#810,#b70,#970,#6e0,#6d0,#750,#860,#9c0,#8d0,#770,#810,#7e0,#690,#830,#af0,#8f0,#630,#780,#8d0,#760,#7b0,#a00,#910,#6e0,#790)"></i><i style="background:linear-gradient(#710,#7d0,#a30,#970,#5e0,#5c0,#9c0,#ba0,#880,#580,#5e0,#910,#b80,#940,#5c0,#640,#950,#990,#7f0,#7d0,#7f0,#770,#840,#970,#890,#6e0,#6e0,#870,#a00,#950,#6f0,#630,#7f0,#990,#970,#860,#720,#6a0,#800,#970,#950,#880,#700,#5c0,#850,#ca0,#9b0,#3c0,#520,#c90,#d10,#630,#3e0,#7a0,#b90,#a70,#770,#660,#6a0,#750,#9f0,#c50,#880,#370,#500,#c30,#dc0,#790,#3f0,#5f0,#ae0,#c30,#780,#490,#7a0,#b70,#930,#680,#760,#820,#7e0,#950,#9b0,#710,#630,#840,#970,#8c0,#810,#750,#750,#930,#980,#6c0,#620,#930,#ae0,#890,#690,#680,#720,#920,#b80,#9d0,#550,#480,#8e0,#c50,#980,#620,#6d0,#8a0,#820,#7b0,#960,#990,#6e0,#5f0,#8c0,#ab0,#840,#640,#790,#930,#8f0,#850,#740,#690,#8c0,#b70,#870,#470,#690,#bf0,#b20,#670,#570,#7b0,#9c0,#9b0,#810,#6f0,#790,#8c0,#8c0,#7b0,#6d0,#820,#b30,#a00,#480,#400,#b20,#f20,#870,#340,#510,#aa0,#d20,#950,#460,#4e0,#aa0,#c80,#7b0,#530,#740,#980,#970,#830,#740,#7c0,#8b0,#7d0,#750,#910,#970,#770,#710,#7e0,#7e0,#8f0,#a70,#7d0,#4f0,#740,#b20,#9f0,#750,#6e0,#720,#800,#990,#910,#7a0,#820,#810,#670,#7a0,#ac0,#980,#680,#760,#8d0,#760,#760,#9d0,#970,#730,#780,#870)"></i><i style="background:linear-gradient(#770,#a00,#9f0,#650,#560,#900,#bb0,#950,#5f0,#580,#850,#b60,#9f0,#630,#600,#8e0,#9a0,#820,#7e0,#800,#760,#800,#970,#8e0,#720,#6b0,#800,#9d0,#9c0,#760,#620,#780,#940,#980,#8c0,#760,#690,#7a0,#930,#960,#8e0,#760,#590,#780,#c70,#ac0,#440,#450,#b70,#dc0,#750,#3e0,#6b0,#b00,#ae0,#810,#6b0,#680,#6d0,#950,#c90,#9b0,#3e0,#420,#ae0,#e30,#8d0,#440,#530,#a00,#c80,#860,#4a0,#6e0,#b10,#9b0,#6d0,#740,#800,#7b0,#920,#a00,#790,#620,#7d0,#940,#8e0,#850,#770,#720,#900,#9c0,#720,#5e0,#8a0,#ae0,#920,#700,#670,#6b0,#880,#b70,#ac0,#610,#430,#7d0,#c00,#a30,#690,#6b0,#870,#810,#780,#930,#9f0,#750,#5c0,#830,#ab0,#8c0,#660,#740,#8f0,#910,#890,#770,#650,#830,#b80,#940,#4b0,#5c0,#b40,#bc0,#730,#570,#730,#960,#9d0,#870,#710,#760,#890,#8e0,#7e0,#6c0,#7a0,#b10,#ae0,#530,#360,#9a0,#f50,#9f0,#3d0,#450,#970,#d20,#a80,#500,#450,#990,#cb0,#890,#570,#6d0,#920,#980,#880,#760,#7b0,#8b0,#7e0,#730,#8d0,#9a0,#7d0,#710,#7c0,#7a0,#8a0,#aa0,#880,#510,#690,#aa0,#a50,#7c0,#700,#6f0,#7a0,#960,#940,#7d0,#830,#840,#670,#720,#a70,#9f0,#6d0,#740,#8c0,#770,#710,#980,#9b0,#770,#780,#880,#750)"></i><i style="background:linear-gradient(#9c0,#a70,#6d0,#520,#830,#b90,#a00,#680,#540,#780,#b10,#a90,#6c0,#5d0,#860,#990,#850,#800,#810,#760,#7c0,#950,#930,#770,#690,#790,#990,#a10,#7e0,#630,#710,#8e0,#980,#910,#7c0,#690,#740,#8e0,#960,#940,#7d0,#580,#6b0,#c00,#bd0,#500,#3b0,#a30,#e20,#880,#410,#5f0,#a40,#b10,#8b0,#700,#680,#650,#880,#c80,#af0,#490,#370,#980,#e40,#a10,#4d0,#4a0,#900,#c80,#950,#4f0,#640,#aa0,#a10,#720,#740,#7e0,#770,#8d0,#a30,#810,#620,#770,#910,#8f0,#880,#790,#700,#8b0,#a00,#790,#5b0,#800,#ab0,#9a0,#770,#690,#660,#7d0,#b10,#b80,#6f0,#410,#6e0,#b80,#ab0,#710,#6a0,#840,#810,#750,#8e0,#a30,#7d0,#5b0,#7a0,#a80,#930,#6a0,#700,#8b0,#910,#8c0,#7c0,#640,#7a0,#b60,#a20,#510,#520,#a60,#c20,#800,#590,#6c0,#8f0,#9d0,#8c0,#740,#740,#870,#8f0,#820,#6b0,#720,#ab0,#bc0,#610,#2f0,#820,#f10,#b60,#490,#3d0,#830,#cd0,#b80,#5d0,#3f0,#880,#ca0,#960,#5c0,#670,#8b0,#970,#8c0,#780,#790,#8a0,#800,#710,#890,#9c0,#820,#730,#7b0,#770,#840,#ab0,#930,#550,#600,#a00,#a90,#840,#740,#6e0,#750,#910,#960,#7f0,#840,#880,#680,#6a0,#a10,#a50,#730,#730,#8c0,#780,#6d0,#930,#9e0,#7c0,#780,#890,#770,#660)"></i><i style="background:linear-gradient(#ad0,#780,#500,#770,#b30,#aa0,#720,#540,#6d0,#a80,#b00,#750,#5c0,#7f0,#970,#870,#810,#830,#760,#780,#920,#970,#7d0,#690,#730,#930,#a40,#870,#660,#6c0,#880,#970,#950,#820,#6b0,#700,#880,#950,#980,#850,#5a0,#600,#b60,#cb0,#5f0,#340,#8e0,#e20,#9b0,#480,#550,#970,#b10,#940,#780,#6a0,#600,#7b0,#c30,#c00,#580,#300,#810,#de0,#b40,#5a0,#450,#800,#c50,#a30,#560,#5c0,#a10,#a60,#780,#740,#7d0,#740,#880,#a50,#890,#650,#720,#8c0,#8f0,#8b0,#7c0,#6e0,#860,#a20,#810,#5b0,#760,#a60,#a00,#7f0,#6c0,#620,#720,#a90,#c10,#7f0,#440,#600,#ad0,#b10,#7a0,#6b0,#820,#810,#730,#890,#a50,#860,#5d0,#720,#a40,#9a0,#6f0,#6d0,#860,#900,#900,#810,#640,#700,#b10,#ae0,#5b0,#4a0,#970,#c40,#8d0,#5e0,#660,#870,#9b0,#910,#780,#730,#840,#8f0,#860,#6c0,#6a0,#a30,#c70,#720,#2d0,#6b0,#e60,#cb0,#590,#390,#710,#c20,#c50,#6d0,#3d0,#770,#c40,#a20,#630,#640,#840,#960,#8f0,#7b0,#790,#8a0,#820,#6f0,#840,#9c0,#870,#750,#7a0,#740,#7e0,#aa0,#9e0,#5c0,#580,#950,#aa0,#8b0,#790,#6f0,#700,#8c0,#960,#820,#850,#8c0,#6b0,#630,#980,#a90,#7a0,#720,#8c0,#7b0,#6a0,#8c0,#a00,#810,#790,#8a0,#7a0,#630,#800)"></i><i style="background:linear-gradient(#830,#510,#6b0,#ab0,#b20,#7e0,#560,#630,#9e0,#b50,#800,#5d0,#780,#940,#890,#830,#850,#770,#750,#8e0,#990,#830,#6b0,#6e0,#8c0,#a50,#8f0,#6a0,#690,#810,#930,#980,#880,#6e0,#6c0,#820,#920,#9b0,#8e0,#5e0,#560,#a80,#d50,#700,#310,#7a0,#dd0,#ad0,#520,#4e0,#890,#ae0,#9b0,#800,#6e0,#5c0,#6e0,#ba0,#cf0,#6a0,#2e0,#6c0,#d30,#c30,#690,#430,#700,#bd0,#af0,#5f0,#550,#960,#a80,#7f0,#760,#7d0,#710,#820,#a50,#910,#690,#6f0,#870,#8e0,#8e0,#800,#6d0,#810,#a30,#890,#5c0,#6d0,#9f0,#a40,#880,#720,#610,#680,#9e0,#c60,#900,#490,#550,#9f0,#b40,#830,#6d0,#810,#820,#700,#830,#a60,#8f0,#600,#6a0,#9e0,#9f0,#750,#6c0,#820,#8e0,#920,#870,#650,#680,#a90,#b90,#660,#450,#870,#c20,#990,#650,#630,#7f0,#980,#940,#7c0,#730,#810,#8f0,#8a0,#6e0,#640,#990,#ce0,#850,#2e0,#570,#d60,#db0,#6c0,#390,#600,#b40,#cf0,#7e0,#3e0,#680,#bc0,#ac0,#6c0,#620,#7e0,#930,#910,#7e0,#780,#890,#850,#6f0,#7e0,#9b0,#8c0,#780,#7b0,#720,#770,#a60,#a90,#650,#530,#8a0,#a80,#910,#7e0,#710,#6d0,#860,#960,#840,#860,#910,#6f0,#5e0,#8f0,#aa0,#800,#730,#8c0,#7e0,#670,#850,#9f0,#850,#7a0,#8c0,#7e0,#620,#760,#aa0)"></i><i style="background:linear-gradient(#540,#610,#a00,#b60,#8b0,#5a0,#5b0,#920,#b70,#8b0,#600,#730,#900,#8a0,#840,#870,#790,#720,#890,#9b0,#890,#6e0,#6a0,#850,#a40,#970,#700,#670,#7b0,#8f0,#990,#8e0,#730,#6b0,#7c0,#8d0,#9c0,#970,#640,#4e0,#990,#dc0,#830,#320,#660,#d30,#bd0,#5f0,#4a0,#7c0,#a90,#a00,#880,#750,#5b0,#620,#ad0,#da0,#7f0,#300,#590,#c40,#ce0,#790,#450,#630,#b30,#b90,#690,#520,#8c0,#a80,#840,#780,#7e0,#700,#7b0,#a20,#980,#6e0,#6c0,#830,#8c0,#8f0,#840,#6d0,#7b0,#a20,#910,#600,#660,#960,#a60,#900,#790,#620,#5f0,#910,#c80,#a10,#520,#4d0,#910,#b40,#8b0,#700,#800,#830,#6f0,#7d0,#a40,#970,#640,#640,#970,#a20,#7b0,#6c0,#7d0,#8b0,#930,#8d0,#680,#600,#9f0,#c10,#740,#430,#780,#bd0,#a40,#6d0,#610,#780,#940,#970,#810,#730,#7e0,#8e0,#8e0,#720,#5e0,#8c0,#d20,#9a0,#340,#450,#c10,#e60,#810,#3e0,#520,#a30,#d40,#900,#420,#5b0,#b00,#b40,#760,#620,#780,#8f0,#930,#810,#780,#880,#870,#6f0,#790,#990,#900,#7b0,#7c0,#720,#700,#a00,#b10,#6f0,#500,#7f0,#a40,#950,#840,#740,#6a0,#800,#940,#850,#860,#950,#750,#5b0,#850,#aa0,#860,#740,#8c0,#820,#660,#7e0,#9d0,#890,#7b0,#8d0,#830,#620,#6d0,#a20,#b20)"></i><i style="background:linear-gradient(#590,#940,#b70,#970,#620,#550,#860,#b60,#950,#640,#6f0,#8c0,#8a0,#850,#890,#7b0,#700,#840,#9a0,#8f0,#730,#670,#7d0,#a00,#9d0,#770,#670,#750,#8a0,#980,#940,#780,#6a0,#770,#880,#9b0,#9f0,#6d0,#490,#880,#de0,#980,#360,#560,#c50,#c90,#6e0,#490,#700,#a10,#a30,#8f0,#7c0,#5d0,#570,#9d0,#e00,#950,#360,#4a0,#b10,#d50,#8b0,#4a0,#570,#a60,#c10,#760,#500,#820,#a70,#8a0,#7b0,#800,#6f0,#750,#9e0,#9e0,#740,#6b0,#7e0,#8a0,#900,#880,#6e0,#760,#a00,#990,#650,#600,#8d0,#a50,#960,#810,#660,#590,#820,#c40,#b00,#5d0,#480,#840,#b10,#920,#730,#800,#840,#6f0,#760,#a10,#9f0,#6b0,#600,#8f0,#a40,#810,#6c0,#7a0,#880,#930,#930,#6d0,#5a0,#940,#c60,#830,#440,#6a0,#b40,#ac0,#770,#620,#720,#8e0,#980,#850,#750,#7b0,#8d0,#920,#770,#5a0,#7f0,#d10,#af0,#3e0,#370,#aa0,#eb0,#970,#460,#480,#910,#d40,#a20,#4a0,#500,#a30,#b80,#800,#640,#730,#8a0,#930,#840,#780,#880,#8a0,#700,#740,#950,#930,#7f0,#7f0,#720,#6a0,#980,#b70,#7b0,#500,#750,#9e0,#980,#8a0,#790,#6a0,#7b0,#910,#850,#860,#990,#7c0,#5a0,#7c0,#a70,#8b0,#750,#8d0,#860,#660,#780,#9a0,#8c0,#7c0,#8f0,#890,#640,#650,#980,#b60,#8c0)"></i><i style="background:linear-gradient(#870,#b50,#a20,#6b0,#520,#7a0,#b10,#9e0,#6a0,#6c0,#880,#890,#850,#8b0,#7e0,#6e0,#7f0,#990,#940,#780,#660,#750,#9b0,#a20,#7f0,#690,#710,#840,#960,#980,#7f0,#6c0,#730,#820,#980,#a60,#770,#460,#770,#da0,#ac0,#3e0,#480,#b30,#d20,#7e0,#4c0,#660,#970,#a30,#960,#850,#620,#4f0,#8b0,#e00,#ac0,#400,#3e0,#9d0,#d60,#9d0,#520,#4e0,#980,#c40,#820,#510,#780,#a30,#8e0,#7e0,#820,#700,#6f0,#980,#a20,#7b0,#6b0,#7b0,#860,#900,#8c0,#700,#710,#9c0,#a00,#6c0,#5c0,#830,#a20,#9b0,#890,#6c0,#550,#740,#bd0,#bd0,#6b0,#460,#760,#ac0,#970,#770,#800,#870,#6f0,#700,#9b0,#a50,#720,#5d0,#860,#a40,#870,#6f0,#770,#840,#920,#980,#740,#560,#870,#c70,#930,#480,#5e0,#a90,#b20,#810,#650,#6d0,#880,#980,#890,#760,#790,#8a0,#950,#7d0,#580,#720,#cb0,#c20,#4d0,#2e0,#910,#e90,#ac0,#520,#410,#7f0,#cf0,#b30,#550,#490,#950,#b90,#8a0,#680,#6f0,#850,#920,#870,#790,#870,#8d0,#720,#700,#910,#950,#830,#820,#740,#650,#8f0,#bb0,#880,#530,#6c0,#970,#990,#8f0,#7f0,#6a0,#760,#8e0,#850,#840,#9c0,#840,#5a0,#730,#a30,#8f0,#760,#8d0,#8b0,#680,#720,#960,#8d0,#7c0,#8f0,#8f0,#680,#5f0,#8d0,#b60,#980,#5d0)"></i><i style="background:linear-gradient(#b00,#ab0,#760,#520,#6f0,#ab0,#a50,#710,#6a0,#840,#880,#850,#8d0,#820,#6e0,#7a0,#960,#980,#7e0,#670,#6f0,#940,#a50,#870,#6c0,#6e0,#7e0,#920,#9b0,#850,#6e0,#700,#7c0,#930,#ab0,#830,#460,#670,#d20,#bf0,#4a0,#3d0,#a00,#d60,#8f0,#510,#5e0,#8d0,#a00,#9b0,#8f0,#690,#4a0,#790,#da0,#c10,#4e0,#360,#880,#d20,#ad0,#5d0,#490,#890,#c40,#8f0,#540,#6f0,#9e0,#910,#810,#850,#720,#6a0,#910,#a50,#820,#6d0,#780,#830,#8f0,#900,#730,#6c0,#970,#a60,#740,#5a0,#7a0,#9c0,#9e0,#920,#740,#530,#670,#b10,#c70,#7b0,#480,#6b0,#a40,#9b0,#7b0,#810,#890,#710,#6b0,#950,#a90,#7b0,#5c0,#7e0,#a30,#8d0,#720,#740,#800,#8f0,#9c0,#7b0,#540,#7a0,#c50,#a20,#4f0,#540,#9c0,#b40,#8b0,#690,#6a0,#820,#960,#8c0,#790,#780,#880,#970,#840,#580,#640,#c00,#d40,#5e0,#290,#790,#e10,#be0,#610,#3e0,#6d0,#c50,#c20,#620,#440,#860,#b70,#930,#6d0,#6d0,#800,#910,#890,#790,#850,#8f0,#750,#6d0,#8c0,#950,#860,#850,#770,#610,#840,#bb0,#950,#580,#650,#8f0,#980,#930,#840,#6c0,#720,#8b0,#840,#820,#9d0,#8d0,#5d0,#6b0,#9d0,#920,#770,#8c0,#900,#6b0,#6d0,#910,#8e0,#7d0,#8f0,#950,#6d0,#5a0,#810,#b30,#a30,#650,#560)"></i><i style="background:linear-gradient(#b20,#820,#540,#650,#a20,#aa0,#790,#6a0,#810,#870,#840,#8e0,#850,#6f0,#750,#910,#9b0,#850,#690,#690,#8d0,#a50,#8e0,#710,#6c0,#780,#8d0,#9c0,#8c0,#720,#6e0,#760,#8d0,#ae0,#900,#4a0,#590,#c60,#cf0,#590,#360,#8c0,#d40,#9e0,#5a0,#590,#820,#9b0,#9d0,#980,#730,#470,#680,#cf0,#d30,#600,#320,#740,#c90,#bb0,#6a0,#460,#7a0,#c10,#9c0,#590,#680,#980,#920,#840,#890,#750,#660,#8a0,#a60,#890,#700,#760,#7f0,#8d0,#930,#770,#690,#900,#aa0,#7e0,#5a0,#710,#950,#9f0,#990,#7e0,#550,#5b0,#a30,#cd0,#8b0,#4c0,#610,#9b0,#9d0,#7e0,#810,#8c0,#740,#670,#8d0,#ac0,#840,#5d0,#760,#9f0,#920,#750,#730,#7c0,#8c0,#a00,#840,#540,#6e0,#bf0,#b00,#590,#4d0,#8f0,#b40,#940,#6f0,#680,#7c0,#930,#8f0,#7b0,#760,#850,#980,#8c0,#5b0,#590,#b20,#e10,#730,#280,#630,#d30,#cd0,#720,#3f0,#5d0,#b80,#cd0,#720,#430,#780,#b30,#9b0,#730,#6d0,#7c0,#8e0,#8b0,#7a0,#840,#920,#790,#6b0,#860,#950,#880,#890,#7c0,#5f0,#7a0,#b80,#a10,#5f0,#600,#870,#950,#950,#8a0,#700,#6f0,#870,#830,#7f0,#9d0,#950,#620,#650,#970,#940,#780,#8b0,#940,#6f0,#690,#8c0,#8f0,#7c0,#8e0,#9a0,#750,#580,#760,#ad0,#ac0,#6f0,#520,#890)"></i><i style="background:linear-gradient(#8f0,#590,#5d0,#980,#ad0,#800,#6b0,#7e0,#850,#830,#8e0,#890,#710,#710,#8c0,#9c0,#8c0,#6d0,#650,#840,#a40,#950,#760,#6c0,#730,#880,#9c0,#910,#770,#6e0,#720,#860,#ae0,#9d0,#500,#4c0,#b60,#dc0,#6b0,#330,#790,#ce0,#ad0,#640,#560,#780,#950,#9e0,#a00,#7e0,#480,#580,#c00,#e10,#740,#330,#620,#bc0,#c50,#790,#460,#6d0,#bb0,#a70,#600,#630,#920,#930,#860,#8c0,#790,#630,#810,#a40,#8f0,#740,#750,#7c0,#8a0,#950,#7b0,#660,#890,#ac0,#880,#5d0,#6a0,#8d0,#9d0,#9f0,#880,#5a0,#520,#930,#ce0,#9c0,#540,#5a0,#920,#9d0,#810,#810,#8f0,#780,#640,#850,#ac0,#8d0,#600,#6f0,#9b0,#960,#7a0,#730,#780,#870,#a10,#8d0,#560,#620,#b60,#bd0,#650,#490,#810,#b00,#9c0,#760,#680,#770,#900,#910,#7e0,#760,#810,#980,#940,#600,#4f0,#a10,#e90,#8a0,#2c0,#500,#c10,#d70,#850,#440,#500,#a70,#d30,#820,#450,#6c0,#ab0,#a10,#7a0,#6d0,#780,#8c0,#8c0,#7b0,#820,#940,#7e0,#690,#810,#930,#8a0,#8c0,#810,#5e0,#6f0,#b20,#ab0,#680,#5d0,#7f0,#910,#960,#900,#740,#6e0,#840,#820,#7c0,#9b0,#9d0,#680,#600,#900,#950,#790,#8a0,#990,#740,#660,#870,#8e0,#7c0,#8c0,#9f0,#7d0,#580,#6b0,#a50,#b30,#7a0,#510,#7d0,#bf0)"></i><i style="background:linear-gradient(#610,#570,#8d0,#ad0,#880,#6d0,#7c0,#830,#810,#8e0,#8d0,#740,#6e0,#860,#9c0,#920,#730,#630,#7c0,#a00,#9a0,#7d0,#6e0,#700,#810,#9a0,#960,#7d0,#700,#6e0,#7e0,#ac0,#aa0,#590,#430,#a40,#e40,#7e0,#340,#670,#c40,#b80,#700,#560,#700,#8d0,#9b0,#a60,#8b0,#4d0,#4a0,#ac0,#e90,#8a0,#370,#530,#ac0,#cb0,#890,#4a0,#610,#b10,#b00,#680,#5f0,#8b0,#920,#870,#8f0,#7e0,#620,#790,#a10,#940,#780,#750,#790,#870,#970,#800,#650,#810,#ac0,#910,#620,#650,#840,#990,#a30,#930,#610,#4b0,#830,#ca0,#ab0,#5d0,#550,#880,#9c0,#830,#810,#910,#7d0,#620,#7c0,#aa0,#960,#640,#6a0,#950,#990,#7e0,#740,#750,#820,#a10,#970,#5b0,#580,#aa0,#c60,#730,#480,#750,#a90,#a10,#7e0,#6a0,#730,#8c0,#920,#810,#750,#7d0,#970,#9c0,#670,#470,#8f0,#eb0,#a30,#340,#410,#ac0,#dc0,#980,#4c0,#470,#950,#d50,#930,#490,#610,#a20,#a50,#810,#6f0,#750,#880,#8d0,#7b0,#800,#950,#820,#690,#7b0,#900,#8a0,#8f0,#870,#600,#660,#a90,#b30,#720,#5c0,#780,#8c0,#950,#950,#7a0,#6e0,#810,#810,#780,#980,#a40,#700,#5d0,#890,#950,#790,#870,#9c0,#7b0,#660,#820,#8d0,#7b0,#880,#a20,#870,#5a0,#620,#9a0,#b70,#860,#520,#720,#bc0,#9d0)"></i><i style="background:linear-gradient(#530,#820,#ab0,#8f0,#700,#7a0,#820,#7f0,#8c0,#900,#780,#6c0,#800,#9a0,#980,#7a0,#620,#740,#9a0,#9e0,#830,#710,#6d0,#7b0,#960,#990,#830,#730,#6b0,#760,#a60,#b50,#650,#3c0,#900,#e70,#930,#380,#580,#b60,#c10,#7d0,#590,#690,#850,#960,#aa0,#990,#540,#400,#970,#eb0,#a00,#400,#470,#9b0,#cd0,#990,#500,#570,#a60,#b70,#720,#5d0,#840,#900,#870,#920,#840,#630,#720,#9c0,#980,#7d0,#760,#770,#830,#970,#860,#640,#790,#aa0,#9b0,#680,#610,#7c0,#930,#a40,#9e0,#6b0,#480,#720,#c20,#b80,#690,#530,#7f0,#990,#850,#810,#930,#830,#620,#740,#a60,#9e0,#6a0,#650,#8e0,#9b0,#830,#760,#730,#7c0,#9f0,#a00,#620,#500,#9c0,#cb0,#820,#4a0,#6a0,#a10,#a50,#860,#6d0,#6f0,#870,#920,#840,#760,#7a0,#950,#a30,#710,#430,#7b0,#e80,#ba0,#400,#360,#960,#da0,#ab0,#580,#400,#830,#d30,#a40,#510,#590,#980,#a60,#880,#720,#730,#850,#8d0,#7c0,#7e0,#950,#880,#6b0,#770,#8d0,#8a0,#910,#8e0,#630,#5d0,#9f0,#b90,#7d0,#5e0,#730,#860,#930,#990,#7f0,#6e0,#7f0,#800,#740,#930,#aa0,#790,#5c0,#820,#940,#7a0,#840,#9e0,#810,#660,#7d0,#8c0,#7a0,#840,#a40,#900,#5f0,#5b0,#8e0,#b80,#920,#560,#680,#b70,#ab0,#4e0)"></i><i style="background:linear-gradient(#770,#a70,#940,#740,#790,#810,#7d0,#8b0,#930,#7c0,#6b0,#7b0,#960,#9c0,#810,#640,#6d0,#940,#a00,#8a0,#750,#6c0,#750,#910,#9b0,#890,#770,#6b0,#6e0,#9f0,#be0,#730,#380,#7d0,#e40,#a80,#400,#4c0,#a60,#c50,#8b0,#5e0,#650,#7d0,#900,#aa0,#a60,#600,#390,#810,#e70,#b60,#4c0,#400,#880,#ca0,#a80,#590,#4f0,#990,#bb0,#7c0,#5e0,#7e0,#8d0,#860,#940,#8b0,#650,#6c0,#960,#9b0,#820,#780,#750,#7f0,#970,#8b0,#660,#710,#a50,#a30,#700,#600,#750,#8c0,#a30,#a80,#770,#470,#630,#b60,#c20,#770,#540,#770,#960,#860,#800,#940,#890,#640,#6c0,#a00,#a40,#710,#630,#880,#9b0,#880,#790,#720,#770,#9b0,#a80,#6b0,#4b0,#8d0,#cd0,#920,#4f0,#610,#970,#a60,#8d0,#710,#6d0,#820,#910,#870,#770,#760,#910,#a80,#7c0,#410,#680,#de0,#d00,#500,#2f0,#800,#d30,#bb0,#670,#3d0,#710,#cb0,#b30,#5b0,#530,#8d0,#a60,#8e0,#760,#720,#820,#8d0,#7d0,#7c0,#940,#8d0,#6d0,#730,#890,#880,#910,#950,#690,#570,#930,#bb0,#890,#620,#6e0,#800,#8f0,#9b0,#850,#700,#7e0,#7f0,#700,#8d0,#ad0,#820,#5d0,#7c0,#920,#7a0,#810,#9f0,#880,#680,#790,#8a0,#790,#7f0,#a30,#9a0,#660,#560,#820,#b60,#9d0,#5b0,#5f0,#af0,#b80,#590,#3c0)"></i><i style="background:linear-gradient(#a10,#990,#780,#790,#800,#7b0,#880,#950,#810,#6b0,#750,#910,#9f0,#890,#670,#680,#8c0,#9f0,#900,#7b0,#6d0,#700,#8b0,#9b0,#8e0,#7c0,#6c0,#670,#950,#c40,#820,#380,#6a0,#dc0,#bb0,#4c0,#430,#940,#c50,#980,#660,#630,#750,#880,#a80,#b20,#6e0,#360,#6c0,#dd0,#c90,#5c0,#3b0,#770,#c20,#b50,#640,#4a0,#8b0,#bc0,#870,#5f0,#790,#8a0,#850,#940,#910,#690,#670,#8f0,#9b0,#860,#7a0,#750,#7b0,#950,#910,#680,#6b0,#9f0,#a90,#790,#610,#6e0,#830,#9f0,#af0,#850,#4b0,#570,#a80,#c70,#840,#570,#710,#920,#860,#7f0,#950,#8f0,#670,#660,#980,#a90,#790,#620,#810,#990,#8b0,#7c0,#720,#720,#950,#ae0,#760,#480,#7d0,#ca0,#a10,#570,#5a0,#8d0,#a50,#940,#770,#6d0,#7e0,#900,#8a0,#790,#730,#8b0,#ac0,#890,#430,#570,#ce0,#e20,#640,#2d0,#6b0,#c70,#c80,#780,#3e0,#610,#c00,#bf0,#670,#500,#820,#a30,#930,#7b0,#710,#7f0,#8c0,#7e0,#790,#930,#920,#710,#710,#850,#860,#910,#9b0,#700,#530,#860,#ba0,#930,#670,#6c0,#7b0,#8b0,#9c0,#8b0,#730,#7d0,#800,#6d0,#850,#ae0,#8c0,#600,#770,#910,#7a0,#7c0,#9f0,#8f0,#6b0,#770,#890,#780,#7a0,#a10,#a20,#700,#540,#760,#b10,#a70,#620,#580,#a50,#c30,#660,#360,#7e0)"></i><i style="background:linear-gradient(#9c0,#7c0,#7a0,#7f0,#7a0,#850,#960,#870,#6d0,#700,#8b0,#9f0,#900,#6c0,#640,#840,#9d0,#940,#810,#6f0,#6d0,#840,#9a0,#920,#820,#6e0,#620,#8a0,#c60,#930,#3c0,#590,#cf0,#cc0,#5b0,#3d0,#830,#c10,#a30,#6f0,#630,#6f0,#7f0,#a30,#bb0,#7e0,#370,#590,#cd0,#d80,#6e0,#3b0,#670,#b70,#bf0,#720,#480,#7e0,#ba0,#910,#630,#750,#870,#820,#930,#970,#6f0,#630,#880,#9b0,#8a0,#7e0,#750,#770,#930,#960,#6c0,#650,#970,#ad0,#830,#640,#6a0,#7b0,#980,#b30,#930,#510,#4c0,#970,#c90,#920,#5c0,#6c0,#8d0,#860,#7d0,#940,#950,#6c0,#610,#900,#ab0,#810,#620,#7b0,#970,#8f0,#800,#740,#6d0,#8e0,#b20,#820,#480,#6f0,#c40,#ae0,#600,#560,#820,#a20,#990,#7d0,#6d0,#7a0,#8e0,#8c0,#7b0,#710,#850,#ae0,#970,#480,#480,#bb0,#ef0,#7b0,#2f0,#590,#b70,#d00,#8a0,#430,#540,#b10,#c80,#750,#500,#780,#9e0,#970,#800,#720,#7c0,#8c0,#7f0,#770,#910,#960,#750,#6f0,#810,#830,#8f0,#a10,#790,#510,#790,#b60,#9d0,#6e0,#6b0,#760,#850,#9b0,#900,#760,#7d0,#810,#6b0,#7e0,#ad0,#950,#640,#730,#8f0,#7a0,#780,#9c0,#950,#6f0,#750,#880,#770,#750,#9c0,#a90,#7a0,#540,#6b0,#a90,#af0,#6b0,#530,#9a0,#ca0,#770,#350,#6a0,#d00)"></i><i style="background:linear-gradient(#810,#7b0,#800,#780,#810,#960,#8c0,#700,#6d0,#850,#9e0,#970,#720,#620,#7c0,#990,#980,#870,#730,#6a0,#7e0,#970,#950,#880,#730,#5e0,#7e0,#c50,#a50,#420,#4a0,#bf0,#d90,#6c0,#3b0,#730,#b90,#ac0,#790,#650,#6b0,#760,#9b0,#c20,#900,#3c0,#490,#ba0,#e20,#820,#3f0,#590,#a90,#c60,#800,#490,#720,#b50,#9a0,#680,#720,#840,#7f0,#910,#9c0,#760,#610,#810,#990,#8d0,#810,#760,#740,#8f0,#9a0,#710,#600,#8e0,#af0,#8d0,#690,#670,#730,#8f0,#b50,#a10,#5b0,#460,#860,#c60,#9f0,#630,#680,#890,#850,#7b0,#920,#9b0,#730,#5d0,#870,#ac0,#890,#640,#750,#930,#910,#840,#760,#6a0,#860,#b40,#8f0,#4a0,#610,#ba0,#b90,#6c0,#540,#780,#9c0,#9c0,#830,#6f0,#770,#8b0,#8d0,#7d0,#6f0,#7e0,#ad0,#a50,#510,#3c0,#a50,#f50,#930,#350,#4b0,#a40,#d30,#9c0,#4b0,#490,#a10,#cd0,#830,#520,#700,#980,#990,#850,#740,#7a0,#8b0,#800,#750,#8d0,#990,#7a0,#6f0,#7e0,#800,#8c0,#a50,#830,#510,#6e0,#b00,#a50,#760,#6c0,#720,#7f0,#980,#940,#7a0,#7e0,#830,#6a0,#760,#a90,#9e0,#6a0,#700,#8d0,#7b0,#740,#990,#9b0,#740,#740,#870,#780,#700,#960,#ae0,#850,#570,#620,#9f0,#b50,#750,#4f0,#8d0,#cf0,#880,#370,#580,#bf0,#d50)"></i><i style="background:linear-gradient(#7d0,#800,#770,#7e0,#950,#900,#740,#6a0,#7e0,#9b0,#9d0,#790,#610,#750,#940,#990,#8c0,#780,#690,#780,#920,#970,#8d0,#780,#5c0,#720,#c00,#b50,#4d0,#3f0,#ab0,#e10,#7f0,#3d0,#650,#ae0,#b20,#830,#690,#680,#6e0,#900,#c40,#a30,#450,#3c0,#a40,#e60,#960,#460,#4e0,#990,#c90,#8f0,#4c0,#670,#ae0,#a10,#6e0,#700,#810,#7c0,#8e0,#a00,#7d0,#610,#7a0,#950,#900,#850,#780,#720,#8b0,#9d0,#770,#5d0,#840,#ae0,#960,#700,#670,#6c0,#860,#b20,#ae0,#670,#420,#760,#bf0,#aa0,#6b0,#670,#850,#850,#790,#8f0,#9f0,#7a0,#5c0,#7d0,#aa0,#910,#670,#710,#8f0,#920,#880,#7a0,#670,#7e0,#b40,#9c0,#500,#560,#ad0,#c10,#790,#550,#6f0,#950,#9e0,#890,#720,#740,#880,#8e0,#800,#6e0,#770,#aa0,#b20,#5c0,#340,#8d0,#f40,#ab0,#400,#400,#900,#d10,#ae0,#560,#410,#900,#cd0,#910,#560,#680,#910,#990,#890,#760,#780,#8a0,#820,#730,#890,#9b0,#800,#6f0,#7c0,#7d0,#870,#a70,#8e0,#540,#630,#a70,#aa0,#7e0,#6f0,#700,#790,#940,#970,#7e0,#7f0,#850,#6b0,#6e0,#a30,#a40,#700,#6e0,#8c0,#7c0,#700,#940,#9e0,#7a0,#740,#870,#790,#6b0,#8e0,#b00,#910,#5c0,#5a0,#940,#b80,#800,#4d0,#7f0,#d00,#9b0,#3d0,#490,#ab0,#d90,#9d0)"></i><i style="background:linear-gradient(#810,#770,#7a0,#930,#950,#790,#6a0,#780,#970,#a10,#820,#630,#6f0,#8e0,#990,#910,#7d0,#6a0,#720,#8d0,#970,#930,#7f0,#5c0,#670,#b70,#c30,#5a0,#370,#970,#e40,#920,#420,#590,#a10,#b50,#8d0,#6f0,#680,#670,#840,#c20,#b40,#510,#340,#8d0,#e40,#aa0,#510,#470,#890,#c70,#9e0,#520,#5d0,#a50,#a70,#740,#700,#7f0,#790,#8a0,#a30,#850,#620,#740,#910,#910,#880,#7b0,#700,#870,#a00,#7f0,#5c0,#7a0,#aa0,#9d0,#780,#680,#670,#7b0,#ad0,#b90,#760,#420,#670,#b50,#b20,#750,#670,#820,#840,#760,#8a0,#a20,#820,#5c0,#750,#a60,#980,#6c0,#6d0,#8a0,#920,#8c0,#7e0,#660,#750,#b00,#a80,#580,#4d0,#9e0,#c50,#860,#580,#680,#8d0,#9e0,#8e0,#750,#730,#850,#8f0,#840,#6e0,#700,#a40,#bd0,#6b0,#300,#760,#ed0,#c10,#4e0,#3a0,#7d0,#ca0,#bd0,#640,#3d0,#7e0,#ca0,#9e0,#5d0,#630,#8a0,#980,#8d0,#790,#770,#890,#830,#720,#850,#9c0,#850,#710,#7a0,#790,#820,#a70,#990,#5a0,#5b0,#9c0,#ad0,#860,#730,#6f0,#740,#8f0,#980,#810,#800,#890,#6d0,#670,#9b0,#a90,#770,#6e0,#8a0,#7d0,#6c0,#8e0,#a10,#7f0,#750,#870,#7b0,#670,#850,#b00,#9c0,#640,#550,#880,#b90,#8c0,#4e0,#720,#cc0,#ae0,#470,#3e0,#960,#d80,#ae0,#640)"></i><i style="background:linear-gradient(#780,#770,#8f0,#980,#7f0,#6a0,#720,#900,#a40,#8a0,#670,#6a0,#870,#970,#950,#830,#6c0,#6e0,#870,#950,#960,#870,#5f0,#5d0,#ac0,#cf0,#6a0,#320,#820,#e20,#a50,#4b0,#500,#930,#b40,#960,#770,#6a0,#620,#780,#bc0,#c50,#610,#2f0,#770,#dc0,#bc0,#5e0,#430,#790,#c20,#ab0,#5b0,#560,#9b0,#ab0,#7b0,#710,#7e0,#760,#840,#a30,#8d0,#660,#6f0,#8c0,#900,#8b0,#7e0,#6f0,#820,#a10,#860,#5d0,#710,#a40,#a30,#800,#6c0,#640,#710,#a40,#c10,#860,#450,#5a0,#a80,#b70,#7e0,#680,#7f0,#840,#740,#850,#a40,#8b0,#5f0,#6d0,#a10,#9e0,#710,#6b0,#850,#900,#8f0,#830,#670,#6d0,#aa0,#b30,#620,#460,#8e0,#c60,#930,#5e0,#630,#850,#9c0,#930,#790,#720,#820,#8f0,#870,#700,#6a0,#9b0,#c60,#7d0,#2f0,#600,#df0,#d50,#600,#370,#6b0,#be0,#c90,#750,#3c0,#6e0,#c20,#aa0,#660,#600,#820,#960,#900,#7c0,#770,#880,#850,#710,#800,#9c0,#8a0,#740,#790,#770,#7c0,#a50,#a30,#610,#540,#900,#ad0,#8d0,#780,#700,#700,#890,#980,#840,#820,#8c0,#700,#620,#930,#ac0,#7e0,#6e0,#890,#7f0,#6a0,#880,#a10,#840,#760,#880,#7e0,#650,#7c0,#ac0,#a60,#6e0,#520,#7c0,#b60,#970,#510,#650,#c50,#bf0,#540,#360,#810,#d00,#bd0,#740,#490)"></i><i style="background:linear-gradient(#740,#8b0,#9a0,#850,#6c0,#6d0,#890,#a40,#920,#6c0,#670,#800,#940,#980,#8a0,#700,#6b0,#810,#920,#990,#8f0,#630,#540,#9e0,#d70,#7c0,#310,#6e0,#da0,#b70,#570,#4a0,#850,#b00,#9e0,#7f0,#6f0,#5f0,#6c0,#b20,#d10,#750,#2e0,#630,#cf0,#ca0,#6f0,#420,#6a0,#b90,#b60,#650,#510,#900,#ac0,#820,#730,#7d0,#740,#7e0,#a20,#950,#6a0,#6c0,#870,#8f0,#8d0,#820,#6f0,#7c0,#a00,#8e0,#5f0,#690,#9c0,#a70,#890,#720,#630,#680,#980,#c50,#970,#4c0,#500,#9a0,#b90,#880,#6b0,#7d0,#840,#730,#800,#a30,#930,#630,#660,#9a0,#a30,#780,#6a0,#800,#8e0,#910,#880,#690,#650,#a10,#bc0,#6f0,#430,#7f0,#c20,#a00,#660,#600,#7d0,#980,#960,#7e0,#720,#7f0,#8e0,#8b0,#720,#640,#910,#cb0,#900,#330,#4d0,#cd0,#e30,#740,#390,#5b0,#af0,#d10,#870,#3f0,#600,#b80,#b30,#700,#5f0,#7b0,#930,#930,#800,#770,#870,#870,#710,#7b0,#9a0,#8f0,#770,#7a0,#750,#760,#a00,#ac0,#6b0,#500,#840,#aa0,#930,#7e0,#720,#6c0,#830,#970,#860,#830,#900,#740,#5e0,#890,#ad0,#850,#6f0,#890,#820,#680,#810,#a00,#890,#780,#890,#820,#640,#730,#a60,#ae0,#790,#520,#700,#b10,#a20,#560,#5a0,#ba0,#cd0,#650,#330,#6d0,#c40,#c80,#850,#4f0,#560)"></i><i style="background:linear-gradient(#860,#9a0,#8b0,#700,#690,#820,#a20,#990,#720,#660,#7a0,#8f0,#980,#900,#750,#6a0,#7b0,#8d0,#9a0,#970,#6a0,#4e0,#8e0,#da0,#900,#340,#5c0,#cd0,#c60,#650,#470,#770,#a90,#a30,#870,#750,#5f0,#610,#a40,#da0,#8a0,#320,#510,#bd0,#d40,#800,#450,#5d0,#ad0,#bf0,#710,#4e0,#850,#ab0,#880,#760,#7e0,#730,#780,#9f0,#9c0,#700,#6a0,#820,#8d0,#8f0,#860,#6f0,#770,#9f0,#960,#630,#620,#930,#a80,#900,#780,#650,#600,#8b0,#c50,#a70,#560,#490,#8b0,#b70,#900,#6e0,#7c0,#850,#720,#7a0,#a10,#9b0,#680,#610,#920,#a50,#7f0,#6a0,#7c0,#8b0,#920,#8e0,#6d0,#5f0,#970,#c20,#7d0,#430,#700,#bb0,#aa0,#6f0,#600,#760,#930,#980,#830,#730,#7c0,#8d0,#8e0,#760,#600,#850,#cc0,#a40,#3b0,#3e0,#b60,#ec0,#8a0,#3f0,#4e0,#9d0,#d40,#990,#460,#540,#ab0,#ba0,#7a0,#600,#760,#8e0,#940,#830,#770,#860,#890,#720,#760,#970,#930,#7b0,#7b0,#750,#700,#9a0,#b30,#760,#4f0,#790,#a50,#980,#830,#750,#6b0,#7d0,#950,#880,#830,#930,#7a0,#5b0,#7f0,#ab0,#8b0,#710,#880,#860,#680,#7a0,#9e0,#8d0,#790,#8a0,#860,#650,#6a0,#9d0,#b40,#850,#550,#660,#aa0,#ab0,#5e0,#500,#ab0,#d80,#780,#340,#5b0,#b30,#ce0,#970,#580,#500,#7f0)"></i><i style="background:linear-gradient(#990,#900,#740,#670,#7a0,#9e0,#9f0,#7a0,#660,#740,#890,#980,#950,#7a0,#6a0,#760,#880,#990,#9e0,#730,#4a0,#7e0,#d90,#a40,#3b0,#4d0,#bd0,#d10,#750,#480,#6b0,#a00,#a50,#8f0,#7c0,#610,#570,#940,#dd0,#a00,#3a0,#430,#a90,#d90,#920,#4c0,#530,#9f0,#c40,#7e0,#4e0,#7a0,#a80,#8e0,#790,#7f0,#720,#730,#9a0,#a10,#770,#690,#7d0,#8a0,#8f0,#8a0,#710,#720,#9b0,#9d0,#690,#5d0,#890,#a60,#970,#800,#680,#5a0,#7e0,#c00,#b60,#630,#450,#7d0,#b30,#970,#730,#7c0,#860,#720,#740,#9c0,#a20,#6f0,#5d0,#890,#a60,#850,#6c0,#780,#880,#920,#930,#720,#5a0,#8b0,#c50,#8d0,#450,#630,#b10,#b10,#790,#610,#700,#8d0,#990,#870,#750,#7a0,#8b0,#910,#7b0,#5d0,#790,#c90,#b70,#470,#320,#9e0,#ee0,#a00,#480,#450,#8a0,#d20,#ab0,#4f0,#4a0,#9c0,#bd0,#850,#630,#710,#890,#940,#860,#780,#840,#8c0,#730,#720,#930,#960,#7f0,#7d0,#750,#6a0,#920,#b70,#830,#500,#6f0,#9f0,#9b0,#890,#7a0,#6a0,#780,#920,#880,#830,#960,#810,#5b0,#760,#a70,#910,#730,#880,#890,#690,#730,#9a0,#900,#7b0,#8a0,#8b0,#680,#630,#930,#b60,#910,#5a0,#5e0,#a10,#b30,#670,#490,#9b0,#de0,#8d0,#390,#4d0,#a00,#ce0,#a70,#640,#4e0,#740,#970)"></i><i style="background:linear-gradient(#950,#7a0,#670,#730,#980,#a30,#820,#680,#700,#830,#950,#990,#810,#6b0,#720,#820,#960,#a40,#7e0,#490,#6e0,#d30,#b70,#450,#400,#aa0,#d70,#860,#4b0,#610,#960,#a50,#960,#850,#660,#500,#830,#db0,#b50,#460,#390,#940,#d80,#a40,#550,#4b0,#900,#c60,#8b0,#510,#710,#a40,#920,#7c0,#810,#730,#6d0,#940,#a50,#7e0,#6a0,#790,#870,#8f0,#8d0,#740,#6e0,#970,#a30,#710,#5a0,#7f0,#a20,#9c0,#890,#6e0,#570,#700,#b70,#c20,#720,#450,#700,#ac0,#9d0,#770,#7c0,#870,#730,#6f0,#970,#a70,#780,#5c0,#810,#a50,#8c0,#6e0,#750,#840,#900,#980,#790,#570,#7f0,#c40,#9c0,#4b0,#570,#a50,#b60,#840,#640,#6b0,#870,#980,#8b0,#770,#780,#880,#940,#810,#5c0,#6c0,#c10,#c90,#570,#2b0,#860,#e90,#b50,#550,#3f0,#780,#cb0,#bb0,#5b0,#440,#8d0,#bc0,#8f0,#670,#6d0,#840,#930,#890,#790,#830,#8e0,#760,#6e0,#8e0,#970,#830,#800,#770,#660,#880,#b90,#8f0,#540,#660,#970,#9b0,#8e0,#800,#6b0,#730,#8e0,#880,#820,#980,#890,#5d0,#6d0,#a10,#950,#750,#880,#8d0,#6b0,#6e0,#950,#920,#7c0,#8b0,#900,#6c0,#5e0,#880,#b50,#9d0,#610,#580,#970,#b90,#720,#440,#8a0,#e00,#a20,#430,#420,#8c0,#c90,#b60,#710,#4f0,#6b0,#8f0,#8e0)"></i><i style="background:linear-gradient(#800,#680,#6d0,#910,#a50,#8a0,#6c0,#6d0,#7d0,#910,#9b0,#870,#6e0,#6f0,#7d0,#910,#a80,#890,#4b0,#5f0,#c90,#c80,#530,#380,#960,#d80,#970,#520,#5a0,#8b0,#a20,#9b0,#8d0,#6d0,#4c0,#720,#d30,#c90,#560,#320,#7f0,#d20,#b40,#610,#470,#810,#c40,#980,#550,#690,#9d0,#950,#800,#840,#750,#690,#8d0,#a60,#860,#6c0,#760,#830,#8e0,#910,#770,#6b0,#910,#a80,#7a0,#590,#760,#9c0,#9f0,#910,#760,#560,#640,#ab0,#ca0,#820,#480,#640,#a30,#a00,#7c0,#7d0,#890,#750,#6a0,#900,#aa0,#810,#5c0,#790,#a20,#910,#720,#730,#800,#8d0,#9b0,#800,#570,#730,#c00,#ab0,#540,#4f0,#970,#b70,#8e0,#6a0,#680,#800,#960,#8f0,#7a0,#770,#860,#950,#870,#5d0,#610,#b60,#d80,#6a0,#280,#6e0,#de0,#c60,#660,#3e0,#670,#bf0,#c80,#6a0,#410,#7e0,#b90,#990,#6d0,#6b0,#7f0,#900,#8b0,#7a0,#820,#900,#790,#6c0,#880,#970,#860,#830,#7a0,#630,#7e0,#b80,#9c0,#5a0,#600,#8e0,#9a0,#920,#850,#6e0,#700,#8a0,#880,#810,#990,#910,#600,#660,#9b0,#980,#780,#870,#910,#6e0,#690,#8f0,#930,#7d0,#8a0,#950,#720,#5a0,#7d0,#b10,#a70,#6a0,#540,#8b0,#bc0,#7e0,#420,#780,#db0,#b70,#500,#3b0,#790,#bf0,#c00,#810,#540,#640,#870,#8a0,#940)"></i><i style="background:linear-gradient(#6b0,#680,#890,#a50,#910,#710,#6c0,#780,#8c0,#9c0,#8e0,#730,#6e0,#770,#8b0,#aa0,#960,#500,#520,#bb0,#d70,#630,#330,#820,#d40,#a70,#5c0,#550,#800,#9d0,#9d0,#960,#760,#4b0,#620,#c60,#d90,#690,#310,#6c0,#c70,#c00,#700,#450,#720,#be0,#a40,#5c0,#620,#960,#970,#830,#870,#780,#660,#850,#a60,#8d0,#6f0,#740,#7f0,#8b0,#930,#7b0,#680,#8a0,#aa0,#830,#5b0,#6e0,#950,#a00,#980,#7f0,#590,#590,#9c0,#ce0,#930,#4e0,#5b0,#990,#a20,#800,#7d0,#8b0,#780,#670,#880,#ac0,#8a0,#5e0,#710,#9e0,#960,#760,#720,#7c0,#8a0,#9d0,#890,#580,#670,#b80,#b80,#5f0,#490,#890,#b50,#980,#700,#670,#7a0,#930,#910,#7d0,#760,#830,#960,#8e0,#610,#560,#a70,#e20,#7f0,#290,#590,#ce0,#d40,#780,#400,#580,#b00,#d10,#7b0,#420,#700,#b20,#a00,#740,#6b0,#7a0,#8e0,#8d0,#7b0,#810,#910,#7d0,#6a0,#830,#960,#890,#860,#7e0,#620,#740,#b30,#a70,#620,#5c0,#850,#970,#950,#8b0,#720,#6d0,#860,#870,#7e0,#980,#990,#660,#600,#930,#990,#790,#860,#950,#730,#660,#890,#920,#7e0,#890,#9a0,#790,#590,#720,#aa0,#b00,#750,#520,#800,#bd0,#8b0,#420,#670,#d10,#c90,#600,#390,#670,#b20,#c60,#900,#5b0,#600,#800,#840,#8f0,#b00)"></i><i style="background:linear-gradient(#650,#810,#a30,#980,#770,#6c0,#730,#860,#9b0,#930,#780,#6e0,#720,#840,#a90,#a20,#570,#480,#aa0,#e00,#760,#320,#6f0,#cc0,#b40,#670,#540,#760,#960,#9d0,#9d0,#810,#4d0,#530,#b50,#e40,#7e0,#330,#5b0,#b80,#c90,#800,#470,#650,#b60,#af0,#640,#5e0,#8f0,#970,#850,#8a0,#7c0,#640,#7d0,#a40,#930,#740,#730,#7c0,#880,#950,#800,#670,#830,#ab0,#8d0,#5e0,#670,#8c0,#9e0,#9e0,#8a0,#5e0,#510,#8c0,#cd0,#a30,#560,#550,#8e0,#a10,#840,#7e0,#8d0,#7c0,#650,#800,#ab0,#930,#620,#6b0,#980,#9a0,#7b0,#720,#780,#850,#9e0,#910,#5b0,#5d0,#ae0,#c20,#6d0,#470,#7b0,#b00,#9f0,#780,#680,#750,#8f0,#930,#800,#760,#7f0,#950,#950,#660,#4e0,#960,#e70,#970,#2f0,#480,#ba0,#dc0,#8b0,#460,#4c0,#9f0,#d50,#8c0,#450,#640,#a90,#a60,#7b0,#6c0,#760,#8a0,#8e0,#7c0,#7f0,#920,#810,#6a0,#7d0,#940,#8b0,#890,#830,#620,#6b0,#ac0,#b10,#6c0,#5a0,#7d0,#930,#960,#910,#760,#6c0,#820,#850,#7c0,#960,#a00,#6d0,#5d0,#8b0,#9a0,#7b0,#850,#990,#790,#650,#830,#910,#7e0,#870,#9d0,#820,#5a0,#680,#a00,#b50,#800,#520,#750,#bb0,#990,#460,#580,#c30,#d70,#730,#3b0,#580,#a10,#c80,#9f0,#640,#5e0,#790,#7f0,#890,#b10,#a20)"></i><i style="background:linear-gradient(#790,#9f0,#9d0,#7e0,#6e0,#700,#800,#980,#980,#7e0,#700,#6f0,#7c0,#a60,#ad0,#610,#400,#970,#e50,#8b0,#350,#5e0,#bf0,#bf0,#740,#550,#6d0,#8e0,#9b0,#a30,#8e0,#520,#480,#a10,#ea0,#950,#390,#4d0,#a70,#ce0,#900,#4c0,#5a0,#ab0,#b70,#6e0,#5b0,#870,#950,#870,#8d0,#810,#640,#750,#a00,#980,#790,#740,#790,#850,#960,#850,#660,#7c0,#aa0,#960,#640,#620,#840,#990,#a10,#940,#650,#4b0,#7c0,#c70,#b20,#620,#510,#840,#9f0,#870,#7f0,#8f0,#810,#640,#770,#a70,#9b0,#670,#660,#920,#9c0,#800,#740,#760,#810,#9d0,#9a0,#610,#550,#a10,#c90,#7b0,#470,#6f0,#a90,#a50,#800,#6a0,#710,#8a0,#930,#830,#760,#7c0,#940,#9c0,#6e0,#490,#840,#e60,#af0,#390,#3a0,#a40,#df0,#9f0,#500,#440,#8d0,#d50,#9d0,#4c0,#5b0,#9f0,#a90,#830,#6f0,#730,#870,#8e0,#7e0,#7e0,#930,#860,#6a0,#780,#910,#8c0,#8c0,#890,#640,#620,#a30,#b80,#780,#5a0,#760,#8d0,#950,#950,#7c0,#6c0,#7f0,#840,#780,#930,#a50,#750,#5b0,#840,#990,#7c0,#830,#9b0,#7f0,#650,#7e0,#900,#7d0,#850,#a00,#8b0,#5d0,#600,#950,#b80,#8c0,#550,#6b0,#b60,#a60,#4d0,#4b0,#b20,#e00,#880,#410,#4d0,#8f0,#c40,#ac0,#6f0,#5f0,#750,#790,#810,#ae0,#af0,#630)"></i><i style="background:linear-gradient(#990,#a00,#850,#710,#6e0,#7a0,#940,#9b0,#840,#730,#6d0,#750,#a00,#b60,#6e0,#3b0,#840,#e50,#a00,#3c0,#500,#b00,#c60,#820,#580,#670,#850,#960,#a60,#9a0,#5b0,#3f0,#8c0,#e90,#ab0,#440,#420,#940,#cd0,#a00,#540,#510,#9e0,#bc0,#780,#5a0,#800,#930,#870,#8f0,#870,#660,#6e0,#9a0,#9b0,#7e0,#750,#770,#810,#960,#8a0,#670,#740,#a60,#9f0,#6b0,#5f0,#7b0,#930,#a20,#9e0,#700,#490,#6c0,#be0,#be0,#6f0,#500,#7a0,#9c0,#890,#7f0,#900,#860,#650,#700,#a20,#a20,#6e0,#620,#8b0,#9d0,#850,#760,#740,#7b0,#9a0,#a20,#690,#4e0,#920,#cd0,#8b0,#4b0,#640,#9f0,#a80,#880,#6d0,#6e0,#850,#930,#860,#770,#790,#910,#a20,#780,#460,#720,#e00,#c50,#480,#310,#8d0,#db0,#b10,#5d0,#3f0,#7a0,#d00,#ad0,#550,#530,#930,#aa0,#8a0,#720,#720,#830,#8e0,#7f0,#7c0,#920,#8b0,#6c0,#740,#8d0,#8b0,#8e0,#8f0,#690,#5b0,#970,#bc0,#830,#5c0,#700,#870,#920,#990,#820,#6d0,#7c0,#830,#750,#8e0,#aa0,#7f0,#5b0,#7c0,#970,#7d0,#800,#9d0,#860,#660,#790,#8e0,#7d0,#810,#a00,#940,#630,#590,#890,#b70,#980,#590,#620,#af0,#b20,#560,#410,#9e0,#e40,#9d0,#4b0,#450,#7d0,#bc0,#b60,#7b0,#620,#720,#750,#790,#a80,#b90,#700,#460)"></i><i style="background:linear-gradient(#a10,#8b0,#760,#6d0,#750,#8f0,#9c0,#8a0,#770,#6c0,#6e0,#980,#bd0,#7d0,#3a0,#710,#df0,#b40,#460,#450,#9f0,#c80,#900,#5e0,#620,#7d0,#900,#a70,#a60,#670,#3a0,#770,#e20,#c00,#520,#3c0,#810,#c80,#af0,#5e0,#4b0,#900,#be0,#840,#5b0,#7a0,#900,#870,#900,#8d0,#690,#680,#930,#9d0,#830,#770,#760,#7d0,#940,#8f0,#690,#6d0,#a10,#a60,#740,#5f0,#730,#8c0,#a10,#a70,#7c0,#4a0,#5e0,#b00,#c60,#7d0,#520,#720,#970,#8a0,#7f0,#910,#8c0,#670,#690,#9b0,#a80,#760,#610,#840,#9c0,#8a0,#790,#730,#760,#960,#a90,#720,#4a0,#830,#cc0,#9b0,#510,#5b0,#940,#a80,#8f0,#720,#6c0,#800,#910,#890,#780,#760,#8d0,#a60,#830,#460,#600,#d30,#d90,#5a0,#2c0,#770,#d20,#c10,#6c0,#3e0,#690,#c60,#bb0,#600,#4f0,#880,#a80,#900,#770,#710,#800,#8e0,#800,#7a0,#910,#900,#6f0,#700,#890,#8a0,#8e0,#950,#6f0,#560,#8b0,#bd0,#8f0,#610,#6c0,#810,#8f0,#9b0,#880,#700,#7b0,#820,#730,#880,#ac0,#890,#5d0,#760,#950,#7e0,#7d0,#9d0,#8d0,#690,#750,#8c0,#7c0,#7d0,#9f0,#9d0,#6b0,#550,#7d0,#b40,#a30,#600,#5a0,#a60,#bd0,#620,#3a0,#890,#e10,#b20,#580,#410,#6d0,#b00,#bc0,#870,#670,#710,#710,#700,#a00,#c10,#7f0,#470,#6e0)"></i><i style="background:linear-gradient(#910,#7b0,#6e0,#700,#890,#9c0,#8f0,#7c0,#6d0,#680,#8f0,#c10,#8c0,#3c0,#5f0,#d40,#c60,#530,#3e0,#8d0,#c70,#9d0,#660,#600,#750,#880,#a40,#b10,#750,#390,#630,#d60,#d20,#630,#390,#700,#bf0,#bb0,#6b0,#480,#830,#bd0,#8e0,#5f0,#740,#8c0,#860,#910,#930,#6d0,#640,#8c0,#9e0,#880,#7a0,#750,#7a0,#920,#940,#6c0,#680,#9a0,#ac0,#7d0,#600,#6d0,#840,#9c0,#ad0,#890,#4e0,#530,#a10,#ca0,#8b0,#560,#6b0,#920,#8a0,#7e0,#910,#920,#6b0,#630,#930,#ab0,#7e0,#600,#7d0,#9a0,#8d0,#7c0,#740,#720,#900,#ad0,#7d0,#490,#740,#c70,#a90,#5a0,#550,#890,#a60,#960,#780,#6c0,#7c0,#8f0,#8b0,#7a0,#730,#880,#a90,#8f0,#490,#510,#c30,#e80,#6f0,#2c0,#630,#c40,#cc0,#7e0,#400,#5a0,#b90,#c60,#6e0,#4d0,#7d0,#a40,#950,#7c0,#710,#7d0,#8d0,#810,#780,#8f0,#940,#730,#6e0,#850,#880,#8e0,#9a0,#760,#530,#7f0,#ba0,#9a0,#670,#690,#7b0,#8a0,#9b0,#8e0,#730,#7a0,#820,#700,#810,#ac0,#920,#610,#710,#920,#7e0,#7a0,#9b0,#930,#6c0,#730,#890,#7c0,#780,#9c0,#a40,#740,#540,#710,#ad0,#ac0,#690,#540,#9b0,#c50,#710,#360,#740,#d80,#c30,#690,#410,#5e0,#a20,#be0,#930,#6d0,#720,#700,#680,#950,#c50,#8e0,#4b0,#640,#a60)"></i><i style="background:linear-gradient(#810,#700,#6c0,#820,#9a0,#930,#820,#700,#630,#840,#c10,#9d0,#410,#500,#c50,#d50,#630,#3a0,#7b0,#c10,#a80,#700,#610,#6f0,#800,#9f0,#b90,#850,#3b0,#520,#c40,#df0,#760,#3a0,#600,#b20,#c30,#790,#470,#760,#b90,#980,#630,#700,#880,#840,#900,#980,#730,#610,#840,#9c0,#8c0,#7d0,#760,#760,#8f0,#980,#710,#630,#910,#af0,#870,#640,#690,#7c0,#960,#b10,#970,#560,#4a0,#900,#ca0,#990,#5d0,#660,#8d0,#8a0,#7d0,#900,#970,#710,#5f0,#8a0,#ac0,#860,#620,#770,#960,#900,#800,#750,#6e0,#890,#b00,#890,#4b0,#670,#be0,#b60,#650,#520,#7e0,#a20,#9b0,#7e0,#6d0,#780,#8d0,#8d0,#7d0,#720,#820,#a90,#9c0,#4f0,#440,#ae0,#f20,#870,#300,#520,#b20,#d30,#910,#460,#4e0,#a90,#cd0,#7c0,#4e0,#730,#9e0,#990,#810,#720,#7a0,#8b0,#820,#760,#8d0,#970,#780,#6d0,#810,#850,#8c0,#9f0,#7f0,#520,#720,#b50,#a30,#6f0,#690,#760,#840,#990,#930,#770,#7a0,#830,#6f0,#790,#a90,#9b0,#660,#6d0,#8f0,#7f0,#760,#990,#990,#710,#710,#880,#7c0,#740,#970,#aa0,#7f0,#550,#670,#a40,#b30,#730,#510,#8f0,#ca0,#810,#370,#610,#ca0,#d10,#7b0,#450,#530,#920,#bc0,#9d0,#750,#750,#700,#620,#890,#c50,#9e0,#520,#5b0,#9d0,#a10)"></i><i style="background:linear-gradient(#740,#6a0,#7c0,#960,#960,#870,#750,#600,#790,#be0,#ad0,#4a0,#430,#b30,#df0,#760,#3a0,#6b0,#b70,#b10,#7b0,#630,#6b0,#770,#970,#be0,#970,#420,#430,#b00,#e60,#8b0,#400,#540,#a30,#c80,#880,#4a0,#6a0,#b30,#a10,#690,#6e0,#850,#810,#8e0,#9c0,#7a0,#600,#7d0,#9a0,#8f0,#810,#770,#740,#8c0,#9b0,#770,#5f0,#880,#af0,#910,#690,#660,#740,#8e0,#b10,#a40,#600,#440,#7f0,#c50,#a60,#650,#630,#870,#890,#7b0,#8e0,#9b0,#770,#5d0,#810,#ac0,#8f0,#650,#710,#920,#920,#840,#780,#6b0,#820,#b10,#960,#4f0,#5a0,#b30,#c00,#710,#520,#740,#9c0,#9e0,#850,#6f0,#750,#8a0,#8e0,#7f0,#700,#7c0,#a70,#a80,#590,#3a0,#980,#f50,#9f0,#380,#450,#9e0,#d40,#a30,#500,#450,#980,#d00,#8b0,#510,#6a0,#970,#9b0,#860,#740,#780,#8a0,#840,#750,#890,#9a0,#7d0,#6d0,#7d0,#820,#890,#a20,#890,#540,#670,#ac0,#aa0,#770,#6a0,#730,#7e0,#960,#970,#7b0,#7b0,#840,#6e0,#720,#a40,#a30,#6c0,#6b0,#8c0,#800,#730,#950,#9e0,#770,#700,#860,#7c0,#700,#910,#ae0,#8a0,#590,#5e0,#990,#b70,#7e0,#4f0,#820,#cc0,#930,#3b0,#510,#b80,#d90,#8f0,#4d0,#4b0,#820,#b60,#a50,#7d0,#790,#720,#5d0,#7c0,#c10,#ac0,#5b0,#550,#930,#a30,#7b0)"></i><i style="background:linear-gradient(#6a0,#760,#910,#980,#8d0,#7a0,#5f0,#6e0,#b80,#bc0,#560,#3a0,#9f0,#e50,#890,#3d0,#5e0,#ab0,#b60,#860,#680,#680,#700,#8d0,#bf0,#a80,#4c0,#390,#990,#e80,#a00,#490,#4a0,#920,#c90,#970,#4f0,#5f0,#aa0,#a80,#700,#6d0,#820,#7e0,#8b0,#a00,#820,#610,#760,#950,#910,#850,#790,#720,#870,#9e0,#7d0,#5d0,#7f0,#ad0,#9a0,#700,#660,#6d0,#840,#ae0,#b00,#6d0,#420,#6f0,#bd0,#b00,#6e0,#620,#830,#880,#7a0,#8b0,#9f0,#7f0,#5d0,#780,#a80,#970,#690,#6d0,#8d0,#930,#880,#7b0,#690,#7a0,#ae0,#a20,#560,#500,#a50,#c60,#7f0,#540,#6c0,#940,#9f0,#8b0,#720,#730,#860,#8f0,#820,#700,#750,#a30,#b30,#660,#340,#810,#f10,#b70,#440,#3b0,#8a0,#d00,#b40,#5c0,#3f0,#860,#ce0,#9a0,#570,#640,#900,#9b0,#8b0,#770,#760,#880,#850,#740,#850,#9b0,#830,#6e0,#7a0,#7f0,#850,#a30,#930,#580,#5e0,#a20,#af0,#800,#6d0,#700,#790,#920,#990,#7f0,#7c0,#860,#6f0,#6c0,#9e0,#a90,#740,#6a0,#8a0,#810,#6f0,#8f0,#a10,#7d0,#710,#850,#7d0,#6c0,#890,#af0,#950,#5f0,#580,#8d0,#b90,#890,#4f0,#750,#ca0,#a50,#430,#430,#a40,#dc0,#a20,#590,#460,#720,#ad0,#aa0,#850,#7e0,#760,#5a0,#6f0,#b90,#b90,#660,#520,#890,#a40,#800,#700)"></i><i style="background:linear-gradient(#710,#8c0,#970,#920,#810,#600,#630,#ae0,#c80,#650,#340,#8a0,#e50,#9d0,#440,#530,#9d0,#b80,#900,#6f0,#680,#690,#820,#bc0,#b90,#5a0,#320,#820,#e30,#b30,#550,#440,#820,#c60,#a60,#570,#570,#a00,#ad0,#770,#6d0,#7f0,#7b0,#860,#a10,#8a0,#630,#700,#900,#920,#880,#7c0,#700,#830,#9f0,#840,#5d0,#750,#a80,#a10,#790,#680,#690,#7a0,#a80,#ba0,#7c0,#430,#610,#b10,#b80,#790,#630,#7f0,#870,#780,#860,#a10,#870,#5e0,#700,#a30,#9d0,#6e0,#6a0,#880,#930,#8c0,#7f0,#690,#720,#aa0,#ad0,#5f0,#490,#950,#c80,#8d0,#580,#650,#8c0,#9f0,#900,#760,#710,#830,#8f0,#860,#710,#6f0,#9c0,#bd0,#750,#320,#6b0,#e70,#cc0,#540,#360,#760,#c70,#c20,#6c0,#3c0,#750,#c80,#a70,#5f0,#5f0,#880,#9a0,#8f0,#7a0,#760,#870,#860,#730,#810,#9c0,#890,#700,#790,#7c0,#800,#a20,#9d0,#5f0,#560,#960,#b10,#890,#710,#6f0,#740,#8d0,#9a0,#830,#7d0,#880,#710,#660,#960,#ad0,#7c0,#6a0,#880,#820,#6d0,#890,#a20,#830,#720,#850,#7f0,#690,#810,#ad0,#a00,#680,#540,#810,#b70,#940,#520,#690,#c40,#b60,#4e0,#3a0,#8e0,#d80,#b40,#670,#460,#650,#a20,#ac0,#8c0,#840,#7c0,#5a0,#630,#ae0,#c20,#730,#510,#800,#a20,#850,#710,#7e0)"></i><i style="background:linear-gradient(#860,#950,#950,#880,#630,#5b0,#a10,#d10,#760,#320,#750,#df0,#b00,#4f0,#4b0,#8e0,#b60,#9a0,#760,#6a0,#650,#760,#b40,#c70,#6b0,#2f0,#6d0,#d80,#c40,#640,#410,#720,#be0,#b20,#600,#510,#940,#af0,#7f0,#6e0,#7d0,#790,#810,#a10,#920,#670,#6c0,#8b0,#920,#8b0,#800,#700,#7e0,#9f0,#8b0,#5f0,#6d0,#a10,#a60,#810,#6c0,#660,#700,#9f0,#c00,#8c0,#480,#550,#a30,#bc0,#830,#650,#7c0,#870,#770,#820,#a10,#8f0,#610,#680,#9d0,#a20,#750,#680,#830,#910,#8e0,#840,#6a0,#6a0,#a30,#b60,#6b0,#440,#850,#c70,#9a0,#5f0,#600,#830,#9c0,#950,#7b0,#710,#800,#8e0,#890,#730,#6a0,#940,#c30,#870,#330,#560,#d70,#de0,#680,#350,#650,#b90,#cd0,#7d0,#3d0,#650,#bf0,#b20,#690,#5d0,#800,#970,#920,#7e0,#750,#850,#880,#730,#7c0,#9a0,#8e0,#740,#780,#7a0,#7b0,#9f0,#a60,#670,#510,#8a0,#b00,#900,#770,#700,#700,#870,#9a0,#870,#7f0,#8b0,#750,#610,#8c0,#ae0,#840,#6b0,#860,#840,#6b0,#830,#a20,#880,#740,#850,#810,#680,#780,#a90,#a90,#720,#520,#760,#b30,#9f0,#570,#5e0,#bb0,#c60,#5d0,#340,#790,#cf0,#c20,#780,#490,#5a0,#950,#aa0,#910,#890,#830,#5d0,#590,#a10,#c70,#810,#520,#770,#a00,#8a0,#720,#7b0,#8a0)"></i><i style="background:linear-gradient(#920,#980,#900,#690,#540,#930,#d60,#890,#330,#630,#d40,#c10,#5c0,#460,#7f0,#b10,#a10,#7f0,#6e0,#620,#6b0,#aa0,#d20,#7f0,#300,#590,#c90,#d10,#750,#420,#640,#b30,#bc0,#6c0,#4e0,#890,#af0,#860,#700,#7c0,#770,#7c0,#9f0,#990,#6d0,#690,#850,#900,#8d0,#830,#700,#790,#9d0,#930,#620,#650,#990,#a90,#8a0,#710,#650,#680,#930,#c30,#9d0,#500,#4c0,#940,#bc0,#8d0,#690,#7a0,#860,#750,#7d0,#a00,#970,#660,#620,#950,#a60,#7c0,#680,#7e0,#8f0,#900,#890,#6d0,#640,#990,#be0,#780,#430,#760,#c10,#a60,#680,#5e0,#7b0,#980,#980,#800,#720,#7d0,#8d0,#8c0,#760,#650,#8a0,#c60,#990,#390,#450,#c20,#ea0,#7d0,#390,#560,#a90,#d20,#8f0,#420,#580,#b20,#ba0,#740,#5c0,#790,#930,#940,#820,#760,#840,#890,#740,#780,#980,#920,#770,#780,#780,#750,#9a0,#ae0,#720,#4f0,#7e0,#ac0,#970,#7d0,#720,#6d0,#810,#980,#890,#800,#8e0,#790,#5e0,#830,#ae0,#8b0,#6d0,#850,#860,#6a0,#7c0,#a00,#8d0,#760,#850,#840,#670,#700,#a20,#b00,#7e0,#530,#6b0,#ad0,#a90,#5d0,#550,#af0,#d20,#6e0,#330,#660,#c10,#cc0,#8a0,#500,#520,#880,#a70,#940,#8e0,#8c0,#620,#510,#920,#c90,#8f0,#550,#700,#9c0,#8e0,#740,#790,#870,#900)"></i><i style="background:linear-gradient(#980,#970,#700,#4f0,#840,#d70,#9c0,#380,#520,#c50,#ce0,#6b0,#450,#720,#a90,#a60,#870,#740,#620,#610,#9c0,#d80,#940,#360,#490,#b60,#d90,#870,#470,#580,#a60,#c30,#790,#4d0,#7d0,#ad0,#8d0,#740,#7d0,#760,#770,#9b0,#9f0,#730,#670,#800,#8e0,#8e0,#870,#720,#740,#9a0,#9a0,#680,#5f0,#8f0,#a90,#920,#780,#660,#610,#870,#c10,#ac0,#5b0,#460,#850,#b90,#960,#6e0,#780,#860,#750,#770,#9d0,#9e0,#6d0,#5e0,#8d0,#a70,#830,#690,#790,#8c0,#910,#8e0,#710,#5f0,#8f0,#c20,#870,#440,#680,#b80,#b00,#720,#5e0,#740,#920,#9a0,#850,#730,#7a0,#8b0,#8f0,#790,#620,#7f0,#c50,#ac0,#430,#380,#ab0,#f00,#940,#400,#4a0,#970,#d30,#a20,#4a0,#4d0,#a40,#bf0,#7f0,#5e0,#730,#8e0,#950,#850,#770,#830,#8b0,#750,#740,#940,#960,#7c0,#790,#770,#700,#940,#b30,#7d0,#4f0,#730,#a60,#9b0,#830,#760,#6b0,#7b0,#950,#8b0,#810,#910,#7f0,#5d0,#790,#ab0,#920,#700,#840,#890,#6a0,#760,#9c0,#910,#780,#860,#880,#690,#680,#990,#b40,#8a0,#570,#620,#a40,#b10,#660,#4d0,#a00,#da0,#820,#350,#550,#af0,#d00,#9b0,#5a0,#4e0,#7b0,#a00,#950,#920,#940,#690,#4b0,#820,#c70,#9c0,#5b0,#6a0,#970,#910,#760,#770,#840,#8f0,#920)"></i><i style="background:linear-gradient(#9d0,#790,#4d0,#750,#d30,#af0,#410,#450,#b30,#d70,#7c0,#470,#660,#9f0,#a80,#8f0,#7b0,#640,#580,#8d0,#d90,#a90,#400,#3d0,#a10,#dc0,#9a0,#4e0,#4e0,#970,#c60,#870,#4e0,#730,#a90,#930,#770,#7e0,#750,#710,#960,#a30,#7a0,#670,#7b0,#8b0,#8f0,#8b0,#740,#700,#960,#a00,#6e0,#5b0,#850,#a70,#990,#800,#6a0,#5c0,#7a0,#bb0,#ba0,#690,#440,#760,#b30,#9d0,#730,#780,#860,#750,#720,#980,#a40,#750,#5c0,#840,#a70,#8a0,#6b0,#760,#880,#900,#930,#770,#5b0,#840,#c20,#960,#490,#5b0,#ad0,#b70,#7d0,#600,#6e0,#8c0,#9a0,#890,#750,#780,#890,#910,#7e0,#600,#730,#c00,#be0,#500,#2e0,#920,#ef0,#aa0,#4b0,#420,#840,#cf0,#b30,#550,#450,#940,#c10,#8b0,#620,#6e0,#880,#940,#890,#780,#810,#8c0,#770,#700,#900,#980,#800,#7b0,#780,#6c0,#8c0,#b60,#8a0,#510,#690,#9e0,#9e0,#890,#7b0,#6b0,#750,#910,#8c0,#810,#930,#860,#5e0,#700,#a50,#970,#730,#830,#8c0,#6c0,#700,#980,#940,#7b0,#860,#8c0,#6c0,#620,#8f0,#b50,#960,#5d0,#5a0,#9a0,#b70,#700,#480,#900,#dd0,#970,#3c0,#480,#9b0,#cf0,#ac0,#660,#4c0,#700,#980,#950,#940,#9c0,#730,#490,#730,#c00,#a70,#620,#660,#920,#930,#790,#750,#800,#8d0,#940,#830)"></i><i style="background:linear-gradient(#830,#4d0,#660,#cb0,#c10,#4d0,#3a0,#9f0,#db0,#8e0,#4c0,#5d0,#940,#a70,#960,#840,#690,#530,#7c0,#d40,#be0,#4d0,#340,#8b0,#d80,#ab0,#590,#480,#880,#c60,#940,#520,#6a0,#a30,#970,#7b0,#7f0,#760,#6d0,#8f0,#a60,#820,#690,#770,#870,#8e0,#8e0,#770,#6d0,#910,#a50,#760,#590,#7b0,#a30,#9e0,#880,#700,#590,#6d0,#b10,#c40,#790,#440,#690,#aa0,#a30,#790,#780,#870,#770,#6e0,#920,#a80,#7d0,#5b0,#7b0,#a50,#900,#6f0,#730,#840,#8f0,#970,#7d0,#5a0,#780,#c00,#a50,#500,#520,#9f0,#ba0,#880,#640,#6a0,#850,#990,#8e0,#780,#770,#870,#930,#840,#600,#680,#b70,#cd0,#610,#290,#7a0,#e80,#be0,#5a0,#3e0,#720,#c60,#c10,#630,#410,#850,#be0,#950,#670,#6b0,#830,#930,#8b0,#790,#800,#8e0,#790,#6d0,#8b0,#990,#840,#7e0,#790,#680,#830,#b60,#960,#560,#610,#950,#9e0,#8e0,#800,#6d0,#710,#8d0,#8c0,#810,#940,#8d0,#600,#680,#9f0,#9b0,#760,#830,#8f0,#6f0,#6b0,#920,#960,#7d0,#860,#910,#700,#5e0,#840,#b30,#a10,#650,#550,#8f0,#ba0,#7c0,#450,#7f0,#dc0,#ac0,#470,#3e0,#870,#c90,#b90,#750,#4e0,#670,#900,#920,#940,#a30,#7f0,#4a0,#650,#b70,#b10,#6b0,#630,#8c0,#950,#7c0,#750,#7d0,#8a0,#960,#890,#690)"></i><i style="background:linear-gradient(#5f0,#480,#9f0,#e40,#7d0,#2d0,#690,#d60,#ba0,#5f0,#4c0,#7b0,#a40,#9f0,#8f0,#7a0,#550,#5a0,#b10,#e40,#7d0,#2d0,#590,#c30,#ce0,#7b0,#440,#620,#b70,#b90,#640,#530,#900,#a40,#820,#7f0,#7f0,#6a0,#7a0,#a60,#970,#6e0,#6f0,#810,#8a0,#920,#840,#690,#7d0,#a80,#900,#5c0,#650,#950,#a40,#940,#7f0,#600,#580,#8f0,#ce0,#a30,#500,#4d0,#920,#b00,#870,#740,#860,#810,#690,#7d0,#a90,#970,#610,#650,#990,#a10,#790,#6d0,#7d0,#880,#970,#900,#630,#5c0,#a60,#c60,#6f0,#400,#7a0,#bc0,#a20,#6f0,#630,#770,#930,#960,#800,#740,#7f0,#900,#910,#6e0,#560,#8e0,#df0,#9a0,#2e0,#430,#c30,#e60,#820,#3f0,#4f0,#a20,#d90,#8f0,#400,#5d0,#b20,#b00,#760,#650,#770,#8d0,#920,#7f0,#790,#8d0,#860,#6b0,#7a0,#9a0,#8d0,#7f0,#800,#6c0,#6b0,#a60,#b50,#6b0,#510,#800,#9f0,#940,#8a0,#750,#690,#810,#910,#800,#8b0,#9c0,#710,#580,#890,#a80,#800,#780,#940,#7e0,#620,#800,#9c0,#840,#7e0,#950,#830,#5d0,#6a0,#a30,#b60,#800,#510,#6d0,#b70,#a30,#4d0,#530,#bf0,#da0,#6d0,#330,#5e0,#b10,#cd0,#980,#590,#550,#800,#920,#8c0,#a30,#9c0,#590,#490,#950,#c50,#860,#5c0,#7b0,#990,#860,#750,#780,#820,#930,#950,#760,#630)"></i></div>
<svg width="1782" height="1226" viewBox="0 0 1782 1226">
<defs><linearGradient id="ga" gradientUnits="userSpaceOnUse" x1="0" y1="0" x2="0" y2="14.1167" spreadMethod="repeat"><stop offset="0.0000" stop-color="#f6e028"/><stop offset="0.0208" stop-color="#f6df29"/><stop offset="0.0417" stop-color="#f8da2b"/><stop offset="0.0625" stop-color="#fbd32e"/><stop offset="0.0833" stop-color="#fec934"/><stop offset="0.1042" stop-color="#febe3c"/><stop offset="0.1250" stop-color="#ecba33"/><stop offset="0.1458" stop-color="#d1bf27"/><stop offset="0.1667" stop-color="#acc738"/><stop offset="0.1875" stop-color="#7fcc5a"/><stop offset="0.2083" stop-color="#51cc7f"/><stop offset="0.2292" stop-color="#32c69f"/><stop offset="0.2500" stop-color="#12beb9"/><stop offset="0.2708" stop-color="#08b5d0"/><stop offset="0.2917" stop-color="#1ea7e1"/><stop offset="0.3125" stop-color="#2797ea"/><stop offset="0.3333" stop-color="#2e87f7"/><stop offset="0.3542" stop-color="#3876fe"/><stop offset="0.3750" stop-color="#4466fd"/><stop offset="0.3958" stop-color="#4758f8"/><stop offset="0.4167" stop-color="#484df0"/><stop offset="0.4375" stop-color="#4744e8"/><stop offset="0.4583" stop-color="#463ee1"/><stop offset="0.4792" stop-color="#463adc"/><stop offset="0.5000" stop-color="#4639d9"/><stop offset="0.5208" stop-color="#463adc"/><stop offset="0.5417" stop-color="#463ee1"/><stop offset="0.5625" stop-color="#4744e8"/><stop offset="0.5833" stop-color="#484df0"/><stop offset="0.6042" stop-color="#4758f8"/><stop offset="0.6250" stop-color="#4466fd"/><stop offset="0.6458" stop-color="#3876fe"/><stop offset="0.6667" stop-color="#2e87f7"/><stop offset="0.6875" stop-color="#2797ea"/><stop offset="0.7083" stop-color="#1ea7e1"/><stop offset="0.7292" stop-color="#08b5d0"/><stop offset="0.7500" stop-color="#12beb9"/><stop offset="0.7708" stop-color="#32c69f"/><stop offset="0.7917" stop-color="#51cc7f"/><stop offset="0.8125" stop-color="#7fcc5a"/><stop offset="0.8333" stop-color="#acc738"/><stop offset="0.8542" stop-color="#d1bf27"/><stop offset="0.8750" stop-color="#ecba33"/><stop offset="0.8958" stop-color="#febe3c"/><stop offset="0.9167" stop-color="#fec934"/><stop offset="0.9375" stop-color="#fbd32e"/><stop offset="0.9583" stop-color="#f8da2b"/><stop offset="0.9792" stop-color="#f6df29"/><stop offset="1.0000" stop-color="#f6e028"/></linearGradient><rect id="ca" width="1" height="438.6" fill="url(#ga)"/><clipPath id="cpa"><rect x="78" y="56" width="681" height="423.5"/></clipPath><linearGradient id="cb778" x1="0" y1="0" x2="0" y2="1"><stop offset="0.0000" stop-color="#f9fb15"/><stop offset="0.0312" stop-color="#f6ef20"/><stop offset="0.0625" stop-color="#f5e327"/><stop offset="0.0938" stop-color="#f9d62d"/><stop offset="0.1250" stop-color="#feca33"/><stop offset="0.1562" stop-color="#febe3c"/><stop offset="0.1875" stop-color="#f1ba37"/><stop offset="0.2188" stop-color="#debc2a"/><stop offset="0.2500" stop-color="#c8c129"/><stop offset="0.2812" stop-color="#afc637"/><stop offset="0.3125" stop-color="#94ca4a"/><stop offset="0.3438" stop-color="#77cc60"/><stop offset="0.3750" stop-color="#5ccc76"/><stop offset="0.4062" stop-color="#44ca8a"/><stop offset="0.4375" stop-color="#34c79c"/><stop offset="0.4688" stop-color="#28c2ab"/><stop offset="0.5000" stop-color="#12beb9"/><stop offset="0.5312" stop-color="#01b9c6"/><stop offset="0.5625" stop-color="#0cb3d3"/><stop offset="0.5938" stop-color="#1aacdd"/><stop offset="0.6250" stop-color="#21a3e3"/><stop offset="0.6562" stop-color="#269ae9"/><stop offset="0.6875" stop-color="#2c90f0"/><stop offset="0.7188" stop-color="#2e85f8"/><stop offset="0.7500" stop-color="#347afd"/><stop offset="0.7812" stop-color="#3f6efe"/><stop offset="0.8125" stop-color="#4562fc"/><stop offset="0.8438" stop-color="#4757f7"/><stop offset="0.8750" stop-color="#484cef"/><stop offset="0.9062" stop-color="#4741e5"/><stop offset="0.9375" stop-color="#4536d5"/><stop offset="0.9688" stop-color="#422ebf"/><stop offset="1.0000" stop-color="#3e26a8"/></linearGradient><linearGradient id="cb1703" x1="0" y1="0" x2="0" y2="1"><stop offset="0.0000" stop-color="#f9fb15"/><stop offset="0.0312" stop-color="#f6ef20"/><stop offset="0.0625" stop-color="#f5e327"/><stop offset="0.0938" stop-color="#f9d62d"/><stop offset="0.1250" stop-color="#feca33"/><stop offset="0.1562" stop-color="#febe3c"/><stop offset="0.1875" stop-color="#f1ba37"/><stop offset="0.2188" stop-color="#debc2a"/><stop offset="0.2500" stop-color="#c8c129"/><stop offset="0.2812" stop-color="#afc637"/><stop offset="0.3125" stop-color="#94ca4a"/><stop offset="0.3438" stop-color="#77cc60"/><stop offset="0.3750" stop-color="#5ccc76"/><stop offset="0.4062" stop-color="#44ca8a"/><stop offset="0.4375" stop-color="#34c79c"/><stop offset="0.4688" stop-color="#28c2ab"/><stop offset="0.5000" stop-color="#12beb9"/><stop offset="0.5312" stop-color="#01b9c6"/><stop offset="0.5625" stop-color="#0cb3d3"/><stop offset="0.5938" stop-color="#1aacdd"/><stop offset="0.6250" stop-color="#21a3e3"/><stop offset="0.6562" stop-color="#269ae9"/><stop offset="0.6875" stop-color="#2c90f0"/><stop offset="0.7188" stop-color="#2e85f8"/><stop offset="0.7500" stop-color="#347afd"/><stop offset="0.7812" stop-color="#3f6efe"/><stop offset="0.8125" stop-color="#4562fc"/><stop offset="0.8438" stop-color="#4757f7"/><stop offset="0.8750" stop-color="#484cef"/><stop offset="0.9062" stop-color="#4741e5"/><stop offset="0.9375" stop-color="#4536d5"/><stop offset="0.9688" stop-color="#422ebf"/><stop offset="1.0000" stop-color="#3e26a8"/></linearGradient><clipPath id="cp79"><rect x="79.5" y="668.5" width="714.0" height="422.0"/></clipPath><clipPath id="cp969"><rect x="969" y="673.5" width="704" height="416.0"/></clipPath><filter id="cm" x="0" y="0" width="100%" height="100%" color-interpolation-filters="sRGB"><feColorMatrix type="matrix" values="0.94118 0.05882 0 0 0 0.94118 0.05882 0 0 0 0.94118 0.05882 0 0 0 0 0 0 1 0"/><feComponentTransfer><feFuncR type="table" tableValues="0.2422 0.2504 0.2578 0.2647 0.2706 0.2751 0.2783 0.2803 0.2813 0.2810 0.2795 0.2760 0.2699 0.2602 0.2440 0.2206 0.1963 0.1834 0.1786 0.1764 0.1687 0.1540 0.1460 0.1380 0.1248 0.1113 0.0952 0.0689 0.0297 0.0036 0.0067 0.0433 0.0964 0.1408 0.1717 0.1938 0.2161 0.2470 0.2906 0.3406 0.3909 0.4456 0.5044 0.5616 0.6174 0.6720 0.7242 0.7738 0.8203 0.8634 0.9035 0.9393 0.9728 0.9956 0.9970 0.9952 0.9892 0.9786 0.9676 0.9610 0.9597 0.9628 0.9691 0.9769"/><feFuncG type="table" tableValues="0.1504 0.1650 0.1818 0.1978 0.2147 0.2342 0.2559 0.2782 0.3006 0.3228 0.3447 0.3667 0.3892 0.4123 0.4358 0.4603 0.4847 0.5074 0.5289 0.5499 0.5703 0.5902 0.6091 0.6276 0.6459 0.6635 0.6798 0.6948 0.7082 0.7203 0.7312 0.7411 0.7500 0.7584 0.7670 0.7758 0.7843 0.7918 0.7973 0.8008 0.8029 0.8024 0.7993 0.7942 0.7876 0.7793 0.7698 0.7598 0.7498 0.7406 0.7330 0.7288 0.7298 0.7434 0.7659 0.7893 0.8136 0.8386 0.8639 0.8890 0.9135 0.9373 0.9606 0.9839"/><feFuncB type="table" tableValues="0.6603 0.7076 0.7511 0.7952 0.8364 0.8710 0.8991 0.9221 0.9414 0.9579 0.9717 0.9829 0.9906 0.9952 0.9988 0.9973 0.9892 0.9798 0.9682 0.9520 0.9359 0.9218 0.9079 0.8973 0.8883 0.8763 0.8598 0.8394 0.8163 0.7917 0.7660 0.7394 0.7120 0.6842 0.6554 0.6251 0.5923 0.5567 0.5188 0.4789 0.4354 0.3909 0.3480 0.3045 0.2612 0.2227 0.1910 0.1646 0.1535 0.1596 0.1774 0.2100 0.2394 0.2371 0.2199 0.2028 0.1885 0.1766 0.1643 0.1537 0.1423 0.1265 0.1064 0.0805"/></feComponentTransfer></filter></defs>
<g clip-path="url(#cpa)"><use href="#ca" x="78" y="49.03"/><use href="#ca" x="79" y="48.59"/><use href="#ca" x="80" y="48.14"/><use href="#ca" x="81" y="47.70"/><use href="#ca" x="82" y="47.25"/><use href="#ca" x="83" y="46.81"/><use href="#ca" x="84" y="46.36"/><use href="#ca" x="85" y="45.92"/><use href="#ca" x="86" y="45.47"/><use href="#ca" x="87" y="45.03"/><use href="#ca" x="88" y="44.58"/><use href="#ca" x="89" y="44.14"/><use href="#ca" x="90" y="43.69"/><use href="#ca" x="91" y="43.25"/><use href="#ca" x="92" y="42.80"/><use href="#ca" x="93" y="42.36"/><use href="#ca" x="94" y="41.91"/><use href="#ca" x="95" y="55.58"/><use href="#ca" x="96" y="55.14"/><use href="#ca" x="97" y="54.69"/><use href="#ca" x="98" y="54.25"/><use href="#ca" x="99" y="53.80"/><use href="#ca" x="100" y="53.36"/><use href="#ca" x="101" y="52.91"/><use href="#ca" x="102" y="52.47"/><use href="#ca" x="103" y="52.02"/><use href="#ca" x="104" y="51.57"/><use href="#ca" x="105" y="51.13"/><use href="#ca" x="106" y="50.68"/><use href="#ca" x="107" y="50.24"/><use href="#ca" x="108" y="49.79"/><use href="#ca" x="109" y="49.35"/><use href="#ca" x="110" y="48.90"/><use href="#ca" x="111" y="48.46"/><use href="#ca" x="112" y="48.01"/><use href="#ca" x="113" y="47.57"/><use href="#ca" x="114" y="47.12"/><use href="#ca" x="115" y="46.68"/><use href="#ca" x="116" y="46.23"/><use href="#ca" x="117" y="45.79"/><use href="#ca" x="118" y="45.34"/><use href="#ca" x="119" y="44.90"/><use href="#ca" x="120" y="44.45"/><use href="#ca" x="121" y="44.01"/><use href="#ca" x="122" y="43.56"/><use href="#ca" x="123" y="43.12"/><use href="#ca" x="124" y="42.67"/><use href="#ca" x="125" y="42.23"/><use href="#ca" x="126" y="55.90"/><use href="#ca" x="127" y="55.45"/><use href="#ca" x="128" y="55.01"/><use href="#ca" x="129" y="54.56"/><use href="#ca" x="130" y="54.12"/><use href="#ca" x="131" y="53.67"/><use href="#ca" x="132" y="53.23"/><use href="#ca" x="133" y="52.78"/><use href="#ca" x="134" y="52.34"/><use href="#ca" x="135" y="51.89"/><use href="#ca" x="136" y="51.45"/><use href="#ca" x="137" y="51.00"/><use href="#ca" x="138" y="50.55"/><use href="#ca" x="139" y="50.11"/><use href="#ca" x="140" y="49.66"/><use href="#ca" x="141" y="49.22"/><use href="#ca" x="142" y="48.77"/><use href="#ca" x="143" y="48.33"/><use href="#ca" x="144" y="47.88"/><use href="#ca" x="145" y="47.44"/><use href="#ca" x="146" y="46.99"/><use href="#ca" x="147" y="46.55"/><use href="#ca" x="148" y="46.10"/><use href="#ca" x="149" y="45.66"/><use href="#ca" x="150" y="45.21"/><use href="#ca" x="151" y="44.77"/><use href="#ca" x="152" y="44.32"/><use href="#ca" x="153" y="43.88"/><use href="#ca" x="154" y="43.43"/><use href="#ca" x="155" y="42.99"/><use href="#ca" x="156" y="42.54"/><use href="#ca" x="157" y="42.10"/><use href="#ca" x="158" y="55.77"/><use href="#ca" x="159" y="55.32"/><use href="#ca" x="160" y="54.88"/><use href="#ca" x="161" y="54.43"/><use href="#ca" x="162" y="53.99"/><use href="#ca" x="163" y="53.54"/><use href="#ca" x="164" y="53.10"/><use href="#ca" x="165" y="52.65"/><use href="#ca" x="166" y="52.21"/><use href="#ca" x="167" y="51.76"/><use href="#ca" x="168" y="51.32"/><use href="#ca" x="169" y="50.87"/><use href="#ca" x="170" y="50.43"/><use href="#ca" x="171" y="49.98"/><use href="#ca" x="172" y="49.54"/><use href="#ca" x="173" y="49.09"/><use href="#ca" x="174" y="48.64"/><use href="#ca" x="175" y="48.20"/><use href="#ca" x="176" y="47.75"/><use href="#ca" x="177" y="47.31"/><use href="#ca" x="178" y="46.86"/><use href="#ca" x="179" y="46.42"/><use href="#ca" x="180" y="45.97"/><use href="#ca" x="181" y="45.53"/><use href="#ca" x="182" y="45.08"/><use href="#ca" x="183" y="44.64"/><use href="#ca" x="184" y="44.19"/><use href="#ca" x="185" y="43.75"/><use href="#ca" x="186" y="43.30"/><use href="#ca" x="187" y="42.86"/><use href="#ca" x="188" y="42.41"/><use href="#ca" x="189" y="41.97"/><use href="#ca" x="190" y="55.64"/><use href="#ca" x="191" y="55.19"/><use href="#ca" x="192" y="54.75"/><use href="#ca" x="193" y="54.30"/><use href="#ca" x="194" y="53.86"/><use href="#ca" x="195" y="53.41"/><use href="#ca" x="196" y="52.97"/><use href="#ca" x="197" y="52.52"/><use href="#ca" x="198" y="52.08"/><use href="#ca" x="199" y="51.63"/><use href="#ca" x="200" y="51.19"/><use href="#ca" x="201" y="50.74"/><use href="#ca" x="202" y="50.30"/><use href="#ca" x="203" y="49.85"/><use href="#ca" x="204" y="49.41"/><use href="#ca" x="205" y="48.96"/><use href="#ca" x="206" y="48.52"/><use href="#ca" x="207" y="48.07"/><use href="#ca" x="208" y="47.62"/><use href="#ca" x="209" y="47.18"/><use href="#ca" x="210" y="46.73"/><use href="#ca" x="211" y="46.29"/><use href="#ca" x="212" y="45.84"/><use href="#ca" x="213" y="45.40"/><use href="#ca" x="214" y="44.95"/><use href="#ca" x="215" y="44.51"/><use href="#ca" x="216" y="44.06"/><use href="#ca" x="217" y="43.62"/><use href="#ca" x="218" y="43.17"/><use href="#ca" x="219" y="42.73"/><use href="#ca" x="220" y="42.28"/><use href="#ca" x="221" y="55.95"/><use href="#ca" x="222" y="55.51"/><use href="#ca" x="223" y="55.06"/><use href="#ca" x="224" y="54.62"/><use href="#ca" x="225" y="54.17"/><use href="#ca" x="226" y="53.73"/><use href="#ca" x="227" y="53.28"/><use href="#ca" x="228" y="52.84"/><use href="#ca" x="229" y="52.39"/><use href="#ca" x="230" y="51.95"/><use href="#ca" x="231" y="51.50"/><use href="#ca" x="232" y="51.06"/><use href="#ca" x="233" y="50.61"/><use href="#ca" x="234" y="50.17"/><use href="#ca" x="235" y="49.72"/><use href="#ca" x="236" y="49.28"/><use href="#ca" x="237" y="48.83"/><use href="#ca" x="238" y="48.39"/><use href="#ca" x="239" y="47.94"/><use href="#ca" x="240" y="47.50"/><use href="#ca" x="241" y="47.05"/><use href="#ca" x="242" y="46.61"/><use href="#ca" x="243" y="46.16"/><use href="#ca" x="244" y="45.71"/><use href="#ca" x="245" y="45.27"/><use href="#ca" x="246" y="44.82"/><use href="#ca" x="247" y="44.38"/><use href="#ca" x="248" y="43.93"/><use href="#ca" x="249" y="43.49"/><use href="#ca" x="250" y="43.05"/><use href="#ca" x="251" y="42.62"/><use href="#ca" x="252" y="42.18"/><use href="#ca" x="253" y="55.87"/><use href="#ca" x="254" y="55.44"/><use href="#ca" x="255" y="55.01"/><use href="#ca" x="256" y="54.59"/><use href="#ca" x="257" y="54.16"/><use href="#ca" x="258" y="53.74"/><use href="#ca" x="259" y="53.33"/><use href="#ca" x="260" y="52.91"/><use href="#ca" x="261" y="52.50"/><use href="#ca" x="262" y="52.09"/><use href="#ca" x="263" y="51.68"/><use href="#ca" x="264" y="51.27"/><use href="#ca" x="265" y="50.86"/><use href="#ca" x="266" y="50.46"/><use href="#ca" x="267" y="50.06"/><use href="#ca" x="268" y="49.66"/><use href="#ca" x="269" y="49.26"/><use href="#ca" x="270" y="48.87"/><use href="#ca" x="271" y="48.47"/><use href="#ca" x="272" y="48.08"/><use href="#ca" x="273" y="47.69"/><use href="#ca" x="274" y="47.30"/><use href="#ca" x="275" y="46.91"/><use href="#ca" x="276" y="46.52"/><use href="#ca" x="277" y="46.14"/><use href="#ca" x="278" y="45.76"/><use href="#ca" x="279" y="45.38"/><use href="#ca" x="280" y="45.00"/><use href="#ca" x="281" y="44.62"/><use href="#ca" x="282" y="44.24"/><use href="#ca" x="283" y="43.86"/><use href="#ca" x="284" y="43.49"/><use href="#ca" x="285" y="43.12"/><use href="#ca" x="286" y="42.75"/><use href="#ca" x="287" y="42.38"/><use href="#ca" x="288" y="42.01"/><use href="#ca" x="289" y="55.76"/><use href="#ca" x="290" y="55.39"/><use href="#ca" x="291" y="55.02"/><use href="#ca" x="292" y="54.66"/><use href="#ca" x="293" y="54.30"/><use href="#ca" x="294" y="53.94"/><use href="#ca" x="295" y="53.58"/><use href="#ca" x="296" y="53.22"/><use href="#ca" x="297" y="52.86"/><use href="#ca" x="298" y="52.50"/><use href="#ca" x="299" y="52.15"/><use href="#ca" x="300" y="51.79"/><use href="#ca" x="301" y="51.44"/><use href="#ca" x="302" y="51.09"/><use href="#ca" x="303" y="50.73"/><use href="#ca" x="304" y="50.38"/><use href="#ca" x="305" y="50.03"/><use href="#ca" x="306" y="49.69"/><use href="#ca" x="307" y="49.34"/><use href="#ca" x="308" y="48.99"/><use href="#ca" x="309" y="48.65"/><use href="#ca" x="310" y="48.30"/><use href="#ca" x="311" y="47.96"/><use href="#ca" x="312" y="47.62"/><use href="#ca" x="313" y="47.27"/><use href="#ca" x="314" y="46.93"/><use href="#ca" x="315" y="46.59"/><use href="#ca" x="316" y="46.25"/><use href="#ca" x="317" y="45.92"/><use href="#ca" x="318" y="45.58"/><use href="#ca" x="319" y="45.24"/><use href="#ca" x="320" y="44.90"/><use href="#ca" x="321" y="44.57"/><use href="#ca" x="322" y="44.24"/><use href="#ca" x="323" y="43.90"/><use href="#ca" x="324" y="43.57"/><use href="#ca" x="325" y="43.24"/><use href="#ca" x="326" y="42.91"/><use href="#ca" x="327" y="42.58"/><use href="#ca" x="328" y="42.25"/><use href="#ca" x="329" y="41.92"/><use href="#ca" x="330" y="55.71"/><use href="#ca" x="331" y="55.38"/><use href="#ca" x="332" y="55.05"/><use href="#ca" x="333" y="54.73"/><use href="#ca" x="334" y="54.40"/><use href="#ca" x="335" y="54.08"/><use href="#ca" x="336" y="53.75"/><use href="#ca" x="337" y="53.43"/><use href="#ca" x="338" y="53.11"/><use href="#ca" x="339" y="52.78"/><use href="#ca" x="340" y="52.46"/><use href="#ca" x="341" y="52.14"/><use href="#ca" x="342" y="51.82"/><use href="#ca" x="343" y="51.50"/><use href="#ca" x="344" y="51.18"/><use href="#ca" x="345" y="50.86"/><use href="#ca" x="346" y="50.55"/><use href="#ca" x="347" y="50.23"/><use href="#ca" x="348" y="49.91"/><use href="#ca" x="349" y="49.60"/><use href="#ca" x="350" y="49.28"/><use href="#ca" x="351" y="48.97"/><use href="#ca" x="352" y="48.65"/><use href="#ca" x="353" y="48.34"/><use href="#ca" x="354" y="48.02"/><use href="#ca" x="355" y="47.71"/><use href="#ca" x="356" y="47.40"/><use href="#ca" x="357" y="47.09"/><use href="#ca" x="358" y="46.78"/><use href="#ca" x="359" y="46.47"/><use href="#ca" x="360" y="46.16"/><use href="#ca" x="361" y="45.85"/><use href="#ca" x="362" y="45.54"/><use href="#ca" x="363" y="45.23"/><use href="#ca" x="364" y="44.92"/><use href="#ca" x="365" y="44.61"/><use href="#ca" x="366" y="44.31"/><use href="#ca" x="367" y="44.00"/><use href="#ca" x="368" y="43.69"/><use href="#ca" x="369" y="43.39"/><use href="#ca" x="370" y="43.08"/><use href="#ca" x="371" y="42.78"/><use href="#ca" x="372" y="42.47"/><use href="#ca" x="373" y="42.17"/><use href="#ca" x="374" y="55.98"/><use href="#ca" x="375" y="55.68"/><use href="#ca" x="376" y="55.37"/><use href="#ca" x="377" y="55.07"/><use href="#ca" x="378" y="54.77"/><use href="#ca" x="379" y="54.47"/><use href="#ca" x="380" y="54.17"/><use href="#ca" x="381" y="53.87"/><use href="#ca" x="382" y="53.57"/><use href="#ca" x="383" y="53.27"/><use href="#ca" x="384" y="52.97"/><use href="#ca" x="385" y="52.67"/><use href="#ca" x="386" y="52.37"/><use href="#ca" x="387" y="52.07"/><use href="#ca" x="388" y="51.77"/><use href="#ca" x="389" y="51.47"/><use href="#ca" x="390" y="51.18"/><use href="#ca" x="391" y="50.88"/><use href="#ca" x="392" y="50.58"/><use href="#ca" x="393" y="50.29"/><use href="#ca" x="394" y="49.99"/><use href="#ca" x="395" y="49.70"/><use href="#ca" x="396" y="49.40"/><use href="#ca" x="397" y="49.11"/><use href="#ca" x="398" y="48.81"/><use href="#ca" x="399" y="48.52"/><use href="#ca" x="400" y="48.22"/><use href="#ca" x="401" y="47.93"/><use href="#ca" x="402" y="47.64"/><use href="#ca" x="403" y="47.34"/><use href="#ca" x="404" y="47.05"/><use href="#ca" x="405" y="46.76"/><use href="#ca" x="406" y="46.47"/><use href="#ca" x="407" y="46.17"/><use href="#ca" x="408" y="45.88"/><use href="#ca" x="409" y="45.59"/><use href="#ca" x="410" y="45.30"/><use href="#ca" x="411" y="45.01"/><use href="#ca" x="412" y="44.72"/><use href="#ca" x="413" y="44.43"/><use href="#ca" x="414" y="44.14"/><use href="#ca" x="415" y="43.85"/><use href="#ca" x="416" y="43.56"/><use href="#ca" x="417" y="43.27"/><use href="#ca" x="418" y="42.98"/><use href="#ca" x="419" y="42.69"/><use href="#ca" x="420" y="42.41"/><use href="#ca" x="421" y="42.12"/><use href="#ca" x="422" y="55.95"/><use href="#ca" x="423" y="55.66"/><use href="#ca" x="424" y="55.37"/><use href="#ca" x="425" y="55.09"/><use href="#ca" x="426" y="54.80"/><use href="#ca" x="427" y="54.51"/><use href="#ca" x="428" y="54.23"/><use href="#ca" x="429" y="53.94"/><use href="#ca" x="430" y="53.66"/><use href="#ca" x="431" y="53.37"/><use href="#ca" x="432" y="53.08"/><use href="#ca" x="433" y="52.80"/><use href="#ca" x="434" y="52.52"/><use href="#ca" x="435" y="52.23"/><use href="#ca" x="436" y="51.95"/><use href="#ca" x="437" y="51.66"/><use href="#ca" x="438" y="51.38"/><use href="#ca" x="439" y="51.09"/><use href="#ca" x="440" y="50.81"/><use href="#ca" x="441" y="50.53"/><use href="#ca" x="442" y="50.25"/><use href="#ca" x="443" y="49.96"/><use href="#ca" x="444" y="49.68"/><use href="#ca" x="445" y="49.40"/><use href="#ca" x="446" y="49.12"/><use href="#ca" x="447" y="48.83"/><use href="#ca" x="448" y="48.55"/><use href="#ca" x="449" y="48.27"/><use href="#ca" x="450" y="47.99"/><use href="#ca" x="451" y="47.71"/><use href="#ca" x="452" y="47.43"/><use href="#ca" x="453" y="47.15"/><use href="#ca" x="454" y="46.87"/><use href="#ca" x="455" y="46.58"/><use href="#ca" x="456" y="46.30"/><use href="#ca" x="457" y="46.02"/><use href="#ca" x="458" y="45.74"/><use href="#ca" x="459" y="45.46"/><use href="#ca" x="460" y="45.18"/><use href="#ca" x="461" y="44.91"/><use href="#ca" x="462" y="44.63"/><use href="#ca" x="463" y="44.35"/><use href="#ca" x="464" y="44.07"/><use href="#ca" x="465" y="43.79"/><use href="#ca" x="466" y="43.51"/><use href="#ca" x="467" y="43.23"/><use href="#ca" x="468" y="42.95"/><use href="#ca" x="469" y="42.68"/><use href="#ca" x="470" y="42.40"/><use href="#ca" x="471" y="42.12"/><use href="#ca" x="472" y="55.96"/><use href="#ca" x="473" y="55.68"/><use href="#ca" x="474" y="55.40"/><use href="#ca" x="475" y="55.13"/><use href="#ca" x="476" y="54.85"/><use href="#ca" x="477" y="54.57"/><use href="#ca" x="478" y="54.30"/><use href="#ca" x="479" y="54.02"/><use href="#ca" x="480" y="53.74"/><use href="#ca" x="481" y="53.47"/><use href="#ca" x="482" y="53.19"/><use href="#ca" x="483" y="52.92"/><use href="#ca" x="484" y="52.64"/><use href="#ca" x="485" y="52.36"/><use href="#ca" x="486" y="52.09"/><use href="#ca" x="487" y="51.81"/><use href="#ca" x="488" y="51.54"/><use href="#ca" x="489" y="51.26"/><use href="#ca" x="490" y="50.99"/><use href="#ca" x="491" y="50.71"/><use href="#ca" x="492" y="50.44"/><use href="#ca" x="493" y="50.16"/><use href="#ca" x="494" y="49.89"/><use href="#ca" x="495" y="49.61"/><use href="#ca" x="496" y="49.34"/><use href="#ca" x="497" y="49.06"/><use href="#ca" x="498" y="48.79"/><use href="#ca" x="499" y="48.52"/><use href="#ca" x="500" y="48.24"/><use href="#ca" x="501" y="47.97"/><use href="#ca" x="502" y="47.70"/><use href="#ca" x="503" y="47.42"/><use href="#ca" x="504" y="47.15"/><use href="#ca" x="505" y="46.87"/><use href="#ca" x="506" y="46.60"/><use href="#ca" x="507" y="46.33"/><use href="#ca" x="508" y="46.06"/><use href="#ca" x="509" y="45.78"/><use href="#ca" x="510" y="45.51"/><use href="#ca" x="511" y="45.24"/><use href="#ca" x="512" y="44.96"/><use href="#ca" x="513" y="44.69"/><use href="#ca" x="514" y="44.42"/><use href="#ca" x="515" y="44.15"/><use href="#ca" x="516" y="43.87"/><use href="#ca" x="517" y="43.60"/><use href="#ca" x="518" y="43.33"/><use href="#ca" x="519" y="43.06"/><use href="#ca" x="520" y="42.79"/><use href="#ca" x="521" y="42.51"/><use href="#ca" x="522" y="42.24"/><use href="#ca" x="523" y="41.97"/><use href="#ca" x="524" y="55.82"/><use href="#ca" x="525" y="55.55"/><use href="#ca" x="526" y="55.27"/><use href="#ca" x="527" y="55.00"/><use href="#ca" x="528" y="54.73"/><use href="#ca" x="529" y="54.46"/><use href="#ca" x="530" y="54.19"/><use href="#ca" x="531" y="53.92"/><use href="#ca" x="532" y="53.65"/><use href="#ca" x="533" y="53.38"/><use href="#ca" x="534" y="53.11"/><use href="#ca" x="535" y="52.84"/><use href="#ca" x="536" y="52.57"/><use href="#ca" x="537" y="52.30"/><use href="#ca" x="538" y="52.02"/><use href="#ca" x="539" y="51.75"/><use href="#ca" x="540" y="51.48"/><use href="#ca" x="541" y="51.21"/><use href="#ca" x="542" y="50.94"/><use href="#ca" x="543" y="50.67"/><use href="#ca" x="544" y="50.40"/><use href="#ca" x="545" y="50.13"/><use href="#ca" x="546" y="49.86"/><use href="#ca" x="547" y="49.60"/><use href="#ca" x="548" y="49.33"/><use href="#ca" x="549" y="49.06"/><use href="#ca" x="550" y="48.79"/><use href="#ca" x="551" y="48.52"/><use href="#ca" x="552" y="48.25"/><use href="#ca" x="553" y="47.98"/><use href="#ca" x="554" y="47.71"/><use href="#ca" x="555" y="47.44"/><use href="#ca" x="556" y="47.17"/><use href="#ca" x="557" y="46.90"/><use href="#ca" x="558" y="46.63"/><use href="#ca" x="559" y="46.36"/><use href="#ca" x="560" y="46.10"/><use href="#ca" x="561" y="45.83"/><use href="#ca" x="562" y="45.56"/><use href="#ca" x="563" y="45.29"/><use href="#ca" x="564" y="45.02"/><use href="#ca" x="565" y="44.75"/><use href="#ca" x="566" y="44.48"/><use href="#ca" x="567" y="44.22"/><use href="#ca" x="568" y="43.95"/><use href="#ca" x="569" y="43.68"/><use href="#ca" x="570" y="43.41"/><use href="#ca" x="571" y="43.14"/><use href="#ca" x="572" y="42.87"/><use href="#ca" x="573" y="42.61"/><use href="#ca" x="574" y="42.34"/><use href="#ca" x="575" y="42.07"/><use href="#ca" x="576" y="55.92"/><use href="#ca" x="577" y="55.65"/><use href="#ca" x="578" y="55.38"/><use href="#ca" x="579" y="55.12"/><use href="#ca" x="580" y="54.85"/><use href="#ca" x="581" y="54.58"/><use href="#ca" x="582" y="54.31"/><use href="#ca" x="583" y="54.04"/><use href="#ca" x="584" y="53.78"/><use href="#ca" x="585" y="53.51"/><use href="#ca" x="586" y="53.24"/><use href="#ca" x="587" y="52.97"/><use href="#ca" x="588" y="52.71"/><use href="#ca" x="589" y="52.44"/><use href="#ca" x="590" y="52.17"/><use href="#ca" x="591" y="51.91"/><use href="#ca" x="592" y="51.64"/><use href="#ca" x="593" y="51.37"/><use href="#ca" x="594" y="51.10"/><use href="#ca" x="595" y="50.84"/><use href="#ca" x="596" y="50.57"/><use href="#ca" x="597" y="50.30"/><use href="#ca" x="598" y="50.03"/><use href="#ca" x="599" y="49.77"/><use href="#ca" x="600" y="49.50"/><use href="#ca" x="601" y="49.23"/><use href="#ca" x="602" y="48.96"/><use href="#ca" x="603" y="48.70"/><use href="#ca" x="604" y="48.43"/><use href="#ca" x="605" y="48.16"/><use href="#ca" x="606" y="47.90"/><use href="#ca" x="607" y="47.63"/><use href="#ca" x="608" y="47.36"/><use href="#ca" x="609" y="47.09"/><use href="#ca" x="610" y="46.83"/><use href="#ca" x="611" y="46.56"/><use href="#ca" x="612" y="46.29"/><use href="#ca" x="613" y="46.02"/><use href="#ca" x="614" y="45.76"/><use href="#ca" x="615" y="45.49"/><use href="#ca" x="616" y="45.22"/><use href="#ca" x="617" y="44.95"/><use href="#ca" x="618" y="44.69"/><use href="#ca" x="619" y="44.42"/><use href="#ca" x="620" y="44.15"/><use href="#ca" x="621" y="43.88"/><use href="#ca" x="622" y="43.62"/><use href="#ca" x="623" y="43.35"/><use href="#ca" x="624" y="43.08"/><use href="#ca" x="625" y="42.82"/><use href="#ca" x="626" y="42.55"/><use href="#ca" x="627" y="42.28"/><use href="#ca" x="628" y="42.01"/><use href="#ca" x="629" y="55.86"/><use href="#ca" x="630" y="55.60"/><use href="#ca" x="631" y="55.33"/><use href="#ca" x="632" y="55.06"/><use href="#ca" x="633" y="54.79"/><use href="#ca" x="634" y="54.53"/><use href="#ca" x="635" y="54.26"/><use href="#ca" x="636" y="53.99"/><use href="#ca" x="637" y="53.72"/><use href="#ca" x="638" y="53.46"/><use href="#ca" x="639" y="53.19"/><use href="#ca" x="640" y="52.92"/><use href="#ca" x="641" y="52.65"/><use href="#ca" x="642" y="52.39"/><use href="#ca" x="643" y="52.12"/><use href="#ca" x="644" y="51.85"/><use href="#ca" x="645" y="51.59"/><use href="#ca" x="646" y="51.32"/><use href="#ca" x="647" y="51.05"/><use href="#ca" x="648" y="50.78"/><use href="#ca" x="649" y="50.52"/><use href="#ca" x="650" y="50.25"/><use href="#ca" x="651" y="49.98"/><use href="#ca" x="652" y="49.71"/><use href="#ca" x="653" y="49.45"/><use href="#ca" x="654" y="49.18"/><use href="#ca" x="655" y="48.91"/><use href="#ca" x="656" y="48.64"/><use href="#ca" x="657" y="48.38"/><use href="#ca" x="658" y="48.11"/><use href="#ca" x="659" y="47.84"/><use href="#ca" x="660" y="47.58"/><use href="#ca" x="661" y="47.31"/><use href="#ca" x="662" y="47.04"/><use href="#ca" x="663" y="46.77"/><use href="#ca" x="664" y="46.51"/><use href="#ca" x="665" y="46.24"/><use href="#ca" x="666" y="45.97"/><use href="#ca" x="667" y="45.70"/><use href="#ca" x="668" y="45.44"/><use href="#ca" x="669" y="45.17"/><use href="#ca" x="670" y="44.90"/><use href="#ca" x="671" y="44.63"/><use href="#ca" x="672" y="44.37"/><use href="#ca" x="673" y="44.10"/><use href="#ca" x="674" y="43.83"/><use href="#ca" x="675" y="43.57"/><use href="#ca" x="676" y="43.30"/><use href="#ca" x="677" y="43.03"/><use href="#ca" x="678" y="42.76"/><use href="#ca" x="679" y="42.50"/><use href="#ca" x="680" y="42.23"/><use href="#ca" x="681" y="41.96"/><use href="#ca" x="682" y="55.81"/><use href="#ca" x="683" y="55.54"/><use href="#ca" x="684" y="55.28"/><use href="#ca" x="685" y="55.01"/><use href="#ca" x="686" y="54.74"/><use href="#ca" x="687" y="54.47"/><use href="#ca" x="688" y="54.21"/><use href="#ca" x="689" y="53.94"/><use href="#ca" x="690" y="53.67"/><use href="#ca" x="691" y="53.40"/><use href="#ca" x="692" y="53.14"/><use href="#ca" x="693" y="52.87"/><use href="#ca" x="694" y="52.60"/><use href="#ca" x="695" y="52.34"/><use href="#ca" x="696" y="52.07"/><use href="#ca" x="697" y="51.80"/><use href="#ca" x="698" y="51.53"/><use href="#ca" x="699" y="51.27"/><use href="#ca" x="700" y="51.00"/><use href="#ca" x="701" y="50.73"/><use href="#ca" x="702" y="50.46"/><use href="#ca" x="703" y="50.20"/><use href="#ca" x="704" y="49.93"/><use href="#ca" x="705" y="49.66"/><use href="#ca" x="706" y="49.39"/><use href="#ca" x="707" y="49.13"/><use href="#ca" x="708" y="48.86"/><use href="#ca" x="709" y="48.59"/><use href="#ca" x="710" y="48.33"/><use href="#ca" x="711" y="48.06"/><use href="#ca" x="712" y="47.79"/><use href="#ca" x="713" y="47.52"/><use href="#ca" x="714" y="47.26"/><use href="#ca" x="715" y="46.99"/><use href="#ca" x="716" y="46.72"/><use href="#ca" x="717" y="46.45"/><use href="#ca" x="718" y="46.19"/><use href="#ca" x="719" y="45.92"/><use href="#ca" x="720" y="45.65"/><use href="#ca" x="721" y="45.38"/><use href="#ca" x="722" y="45.12"/><use href="#ca" x="723" y="44.85"/><use href="#ca" x="724" y="44.58"/><use href="#ca" x="725" y="44.31"/><use href="#ca" x="726" y="44.05"/><use href="#ca" x="727" y="43.78"/><use href="#ca" x="728" y="43.51"/><use href="#ca" x="729" y="43.25"/><use href="#ca" x="730" y="42.98"/><use href="#ca" x="731" y="42.71"/><use href="#ca" x="732" y="42.44"/><use href="#ca" x="733" y="42.18"/><use href="#ca" x="734" y="41.91"/><use href="#ca" x="735" y="55.76"/><use href="#ca" x="736" y="55.49"/><use href="#ca" x="737" y="55.22"/><use href="#ca" x="738" y="54.96"/><use href="#ca" x="739" y="54.69"/><use href="#ca" x="740" y="54.42"/><use href="#ca" x="741" y="54.15"/><use href="#ca" x="742" y="53.89"/><use href="#ca" x="743" y="53.62"/><use href="#ca" x="744" y="53.35"/><use href="#ca" x="745" y="53.08"/><use href="#ca" x="746" y="52.82"/><use href="#ca" x="747" y="52.55"/><use href="#ca" x="748" y="52.28"/><use href="#ca" x="749" y="52.02"/><use href="#ca" x="750" y="51.75"/><use href="#ca" x="751" y="51.48"/><use href="#ca" x="752" y="51.21"/><use href="#ca" x="753" y="50.95"/><use href="#ca" x="754" y="50.68"/><use href="#ca" x="755" y="50.41"/><use href="#ca" x="756" y="50.14"/><use href="#ca" x="757" y="49.88"/><use href="#ca" x="758" y="49.61"/></g>
<line x1="78" y1="479.5" x2="759" y2="479.5" stroke="#666" stroke-width="1" stroke-opacity="0.5"/>
<text x="70.9" y="65.05" font-size="22" class="e">0</text>
<text x="70.9" y="135.45" font-size="22" class="e">50</text>
<text x="70.9" y="205.85" font-size="22" class="e">100</text>
<text x="70.9" y="276.25" font-size="22" class="e">150</text>
<text x="70.9" y="346.65" font-size="22" class="e">200</text>
<text x="70.9" y="417.05" font-size="22" class="e">250</text>
<text x="70.9" y="487.45" font-size="22" class="e">300</text>
<text x="179.72" y="506.3" font-size="22">500</text>
<text x="350.1" y="506.3" font-size="22">1000</text>
<text x="520.48" y="506.3" font-size="22">1500</text>
<text x="690.85" y="506.3" font-size="22">2000</text>
<text class="l"><tspan x="366.48" y="533.9" font-size="24.3" letter-spacing="0.31">range </tspan><tspan x="441.84" y="533.9" font-size="21.5" class="n">(</tspan><tspan x="447.45" y="533.9" font-size="24.3">m</tspan><tspan x="468.06" y="533.9" font-size="21.5" class="n">)</tspan></text>
<text class="l" transform="translate(27.3 0) rotate(-90)"><tspan x="-303.02" y="0" font-size="24.3" letter-spacing="-0.11">time</tspan><tspan x="-252.39" y="0" font-size="22" class="n">(</tspan><tspan x="-245.37" y="0" font-size="24.3">s</tspan><tspan x="-232.75" y="0" font-size="22" class="n">)</tspan></text>
<rect x="778" y="56" width="13" height="423.5" fill="url(#cb778)"/>
<rect x="778.5" y="56.5" width="12" height="422.5" fill="none" stroke="#4d4d4d" stroke-opacity="0.3"/>
<line x1="787.5" y1="59.5" x2="791" y2="59.5" stroke="#333" stroke-width="1" stroke-opacity="0.6"/>
<text x="796.6" y="66.27" font-size="20" class="l">1</text>
<line x1="787.5" y1="100.5" x2="791" y2="100.5" stroke="#333" stroke-width="1" stroke-opacity="0.6"/>
<text x="796.6" y="108.07" font-size="20" class="l">0.8</text>
<line x1="787.5" y1="142.5" x2="791" y2="142.5" stroke="#333" stroke-width="1" stroke-opacity="0.6"/>
<text x="796.6" y="149.88" font-size="20" class="l">0.6</text>
<line x1="787.5" y1="184.5" x2="791" y2="184.5" stroke="#333" stroke-width="1" stroke-opacity="0.6"/>
<text x="796.6" y="191.69" font-size="20" class="l">0.4</text>
<line x1="787.5" y1="226.5" x2="791" y2="226.5" stroke="#333" stroke-width="1" stroke-opacity="0.6"/>
<text x="796.6" y="233.49" font-size="20" class="l">0.2</text>
<line x1="787.5" y1="268.5" x2="791" y2="268.5" stroke="#333" stroke-width="1" stroke-opacity="0.6"/>
<text x="796.6" y="275.3" font-size="20" class="l">0</text>
<line x1="787.5" y1="309.5" x2="791" y2="309.5" stroke="#333" stroke-width="1" stroke-opacity="0.6"/>
<text x="796.6" y="317.11" font-size="20" class="l">-0.2</text>
<line x1="787.5" y1="351.5" x2="791" y2="351.5" stroke="#333" stroke-width="1" stroke-opacity="0.6"/>
<text x="796.6" y="358.91" font-size="20" class="l">-0.4</text>
<line x1="787.5" y1="393.5" x2="791" y2="393.5" stroke="#333" stroke-width="1" stroke-opacity="0.6"/>
<text x="796.6" y="400.72" font-size="20" class="l">-0.6</text>
<line x1="787.5" y1="435.5" x2="791" y2="435.5" stroke="#333" stroke-width="1" stroke-opacity="0.6"/>
<text x="796.6" y="442.53" font-size="20" class="l">-0.8</text>
<line x1="787.5" y1="477.5" x2="791" y2="477.5" stroke="#333" stroke-width="1" stroke-opacity="0.6"/>
<text x="796.6" y="484.33" font-size="20" class="l">-1</text>
<text class="z k l" x="776" y="44.3" font-size="30">ζ</text>
<text class="k l n" font-size="22"><tspan x="798.5" y="42.4">(</tspan><tspan x="830.5" y="42.4">)</tspan></text>
<text class="k l" font-size="28" transform="translate(805.0 43.95) scale(1.02 1)">m</text>
<text class="s k l" font-size="37.5"><tspan x="404.18" y="594.9">(</tspan><tspan x="415.61" y="594.4" font-weight="bold" font-size="35.74">a</tspan><tspan x="433.75" y="594.9">)</tspan></text>
<text class="e" font-size="22" transform="translate(1001.4 65.9) scale(0.985 1.05)">0</text>
<text class="e" font-size="22" transform="translate(1001.4 135.9) scale(0.985 1.05)">50</text>
<text class="e" font-size="22" transform="translate(1001.4 205.9) scale(0.985 1.05)">100</text>
<text class="e" font-size="22" transform="translate(1001.4 275.9) scale(0.985 1.05)">150</text>
<text class="e" font-size="22" transform="translate(1001.4 345.9) scale(0.985 1.05)">200</text>
<text class="e" font-size="22" transform="translate(1001.4 415.9) scale(0.985 1.05)">250</text>
<text class="e" font-size="22" transform="translate(1001.4 485.9) scale(0.985 1.05)">300</text>
<text x="1109.4" y="504" font-size="22">500</text>
<text x="1278.4" y="504" font-size="22">1000</text>
<text x="1447.4" y="504" font-size="22">1500</text>
<text x="1616.4" y="504" font-size="22">2000</text>
<text class="l"><tspan x="1294.38" y="531.9" font-size="24.3" letter-spacing="0.39">range </tspan><tspan x="1365.61" y="531.9" font-size="22" class="n">(</tspan><tspan x="1375.05" y="531.9" font-size="24.3">m</tspan><tspan x="1398.05" y="531.9" font-size="22" class="n">)</tspan></text>
<text class="l" transform="translate(958.4 0) rotate(-90)"><tspan x="-305.72" y="0" font-size="24.3" letter-spacing="-0.25">time </tspan><tspan x="-252.29" y="0" font-size="22" class="n">(</tspan><tspan x="-242.42" y="0" font-size="24.3">s</tspan><tspan x="-227.05" y="0" font-size="22" class="n">)</tspan></text>
<rect x="1703" y="58" width="13" height="420" fill="url(#cb1703)"/>
<rect x="1703.5" y="58.5" width="12" height="419" fill="none" stroke="#4d4d4d" stroke-opacity="0.3"/>
<line x1="1712.5" y1="64.5" x2="1716" y2="64.5" stroke="#333" stroke-width="1" stroke-opacity="0.6"/>
<text x="1721.6" y="71.31" font-size="20" class="l">1.5</text>
<line x1="1712.5" y1="130.5" x2="1716" y2="130.5" stroke="#333" stroke-width="1" stroke-opacity="0.6"/>
<text x="1721.6" y="137.34" font-size="20" class="l">1</text>
<line x1="1712.5" y1="196.5" x2="1716" y2="196.5" stroke="#333" stroke-width="1" stroke-opacity="0.6"/>
<text x="1721.6" y="203.38" font-size="20" class="l">0.5</text>
<line x1="1712.5" y1="262.5" x2="1716" y2="262.5" stroke="#333" stroke-width="1" stroke-opacity="0.6"/>
<text x="1721.6" y="269.42" font-size="20" class="l">0</text>
<line x1="1712.5" y1="328.5" x2="1716" y2="328.5" stroke="#333" stroke-width="1" stroke-opacity="0.6"/>
<text x="1721.6" y="335.46" font-size="20" class="l">-0.5</text>
<line x1="1712.5" y1="394.5" x2="1716" y2="394.5" stroke="#333" stroke-width="1" stroke-opacity="0.6"/>
<text x="1721.6" y="401.5" font-size="20" class="l">-1</text>
<line x1="1712.5" y1="460.5" x2="1716" y2="460.5" stroke="#333" stroke-width="1" stroke-opacity="0.6"/>
<text x="1721.6" y="467.53" font-size="20" class="l">-1.5</text>
<text class="z k l" x="1688.3" y="46.8" font-size="36.3">ζ</text>
<text class="k l n" font-size="24"><tspan x="1714.5" y="44.0">(</tspan><tspan x="1756.5" y="44.0">)</tspan></text>
<text class="k l" font-size="31.6" transform="translate(1723.6 45.6) scale(1.075 1)">m</text>
<text class="s k l" font-size="37.5"><tspan x="1335.47" y="594.9">(</tspan><tspan x="1347.1" y="594.5" font-weight="bold" font-size="38.5">b</tspan><tspan x="1369.45" y="594.9">)</tspan></text>
<line x1="222.5" y1="668.5" x2="222.5" y2="1090.5" stroke="#262626" stroke-width="1" stroke-opacity="0.1"/>
<line x1="365.5" y1="668.5" x2="365.5" y2="1090.5" stroke="#262626" stroke-width="1" stroke-opacity="0.06"/>
<line x1="436.5" y1="668.5" x2="436.5" y2="1090.5" stroke="#262626" stroke-width="1" stroke-opacity="0.1"/>
<line x1="507.5" y1="668.5" x2="507.5" y2="1090.5" stroke="#262626" stroke-width="1" stroke-opacity="0.06"/>
<line x1="579.5" y1="668.5" x2="579.5" y2="1090.5" stroke="#262626" stroke-width="1" stroke-opacity="0.08"/>
<line x1="650.5" y1="668.5" x2="650.5" y2="1090.5" stroke="#262626" stroke-width="1" stroke-opacity="0.11"/>
<line x1="722.5" y1="668.5" x2="722.5" y2="1090.5" stroke="#262626" stroke-width="1" stroke-opacity="0.04"/>
<line x1="79.5" y1="697.5" x2="793.5" y2="697.5" stroke="#5a8fb5" stroke-width="1" stroke-opacity="0.13"/>
<line x1="79.5" y1="760.5" x2="793.5" y2="760.5" stroke="#5a8fb5" stroke-width="1" stroke-opacity="0.1"/>
<line x1="79.5" y1="824.5" x2="793.5" y2="824.5" stroke="#5a8fb5" stroke-width="1" stroke-opacity="0.13"/>
<line x1="79.5" y1="887.5" x2="793.5" y2="887.5" stroke="#5a8fb5" stroke-width="1" stroke-opacity="0.1"/>
<line x1="79.5" y1="950.5" x2="793.5" y2="950.5" stroke="#5a8fb5" stroke-width="1" stroke-opacity="0.08"/>
<line x1="79.5" y1="1014.5" x2="793.5" y2="1014.5" stroke="#5a8fb5" stroke-width="1" stroke-opacity="0.13"/>
<line x1="79.5" y1="1090.5" x2="793.5" y2="1090.5" stroke="#262626" stroke-width="1.2" stroke-opacity="0.9"/>
<line x1="79.5" y1="668.5" x2="793.5" y2="668.5" stroke="#262626" stroke-width="1" stroke-opacity="0.5"/>
<line x1="79.5" y1="668.5" x2="79.5" y2="1090.5" stroke="#2b6a9c" stroke-width="1" stroke-opacity="0.85"/>
<line x1="793.5" y1="668.5" x2="793.5" y2="1090.5" stroke="#d95319" stroke-width="1" stroke-opacity="0.4"/>
<line x1="222.5" y1="1090.5" x2="222.5" y2="1083.5" stroke="#262626" stroke-width="1" stroke-opacity="0.6"/>
<line x1="436.5" y1="1090.5" x2="436.5" y2="1083.5" stroke="#262626" stroke-width="1" stroke-opacity="0.6"/>
<line x1="650.5" y1="1090.5" x2="650.5" y2="1083.5" stroke="#262626" stroke-width="1" stroke-opacity="0.8"/>
<line x1="222.5" y1="668.5" x2="222.5" y2="675.5" stroke="#262626" stroke-width="1" stroke-opacity="0.5"/>
<line x1="436.5" y1="668.5" x2="436.5" y2="675.5" stroke="#262626" stroke-width="1" stroke-opacity="0.5"/>
<line x1="650.5" y1="668.5" x2="650.5" y2="675.5" stroke="#262626" stroke-width="1" stroke-opacity="0.8"/>
<line x1="79.5" y1="697.5" x2="86.5" y2="697.5" stroke="#2b6a9c" stroke-width="1" stroke-opacity="0.6"/>
<line x1="79.5" y1="824.5" x2="86.5" y2="824.5" stroke="#2b6a9c" stroke-width="1" stroke-opacity="0.6"/>
<line x1="79.5" y1="950.5" x2="86.5" y2="950.5" stroke="#2b6a9c" stroke-width="1" stroke-opacity="0.3"/>
<line x1="79.5" y1="1014.5" x2="86.5" y2="1014.5" stroke="#2b6a9c" stroke-width="1" stroke-opacity="0.4"/>
<line x1="786.5" y1="728.5" x2="793.5" y2="728.5" stroke="#d95319" stroke-width="1" stroke-opacity="0.5"/>
<line x1="786.5" y1="789.5" x2="793.5" y2="789.5" stroke="#d95319" stroke-width="1" stroke-opacity="0.6"/>
<line x1="786.5" y1="849.5" x2="793.5" y2="849.5" stroke="#d95319" stroke-width="1" stroke-opacity="0.5"/>
<line x1="786.5" y1="909.5" x2="793.5" y2="909.5" stroke="#d95319" stroke-width="1" stroke-opacity="0.3"/>
<line x1="786.5" y1="969.5" x2="793.5" y2="969.5" stroke="#d95319" stroke-width="1" stroke-opacity="0.3"/>
<line x1="786.5" y1="1030.5" x2="793.5" y2="1030.5" stroke="#d95319" stroke-width="1" stroke-opacity="0.6"/>
<g clip-path="url(#cp79)" fill="none" stroke-linejoin="round"><polyline points="79.5,717.8 80.2,718.8 80.9,719.4 81.6,719.6 82.4,719.4 83.1,718.7 83.8,717.7 84.5,716.3 85.2,714.6 85.9,712.5 86.6,710.2 87.4,707.6 88.1,704.8 88.8,701.9 89.5,698.9 90.2,695.9 90.9,692.9 91.6,690.0 92.4,687.2 93.1,684.7 93.8,682.3 94.5,680.2 95.2,678.5 95.9,677.1 96.6,676.1 97.3,675.4 98.1,675.2 98.8,675.4 99.5,676.0 100.2,677.0 100.9,678.3 101.6,680.1 102.3,682.1 103.1,684.4 103.8,687.0 104.5,689.7 105.2,692.6 105.9,695.6 106.6,698.6 107.3,701.6 108.1,704.5 108.8,707.3 109.5,709.9 110.2,712.3 110.9,714.4 111.6,716.2 112.3,717.6 113.1,718.7 113.8,719.3 114.5,719.6 115.2,719.4 115.9,718.9 116.6,717.9 117.3,716.6 118.1,714.9 118.8,712.9 119.5,710.6 120.2,708.1 120.9,705.3 121.6,702.5 122.3,699.5 123.1,696.5 123.8,693.5 124.5,690.5 125.2,687.7 125.9,685.1 126.6,682.7 127.3,680.6 128.1,678.8 128.8,677.3 129.5,676.2 130.2,675.5 130.9,675.2 131.6,675.3 132.3,675.8 133.1,676.8 133.8,678.1 134.5,679.7 135.2,681.7 135.9,684.0 136.6,686.5 137.3,689.2 138.0,692.1 138.8,695.0 139.5,698.0 140.2,701.1 140.9,704.0 141.6,706.8 142.3,709.4 143.0,711.9 143.8,714.0 144.5,715.8 145.2,717.3 145.9,718.5 146.6,719.2 147.3,719.6 148.0,719.5 148.8,719.0 149.5,718.1 150.2,716.9 150.9,715.3 151.6,713.3 152.3,711.1 153.0,708.6 153.8,705.9 154.5,703.0 155.2,700.0 155.9,697.0 156.6,694.0 157.3,691.1 158.0,688.3 158.8,685.6 159.5,683.2 160.2,681.0 160.9,679.1 161.6,677.6 162.3,676.4 163.0,675.6 163.8,675.2 164.5,675.3 165.2,675.7 165.9,676.6 166.6,677.8 167.3,679.4 168.0,681.3 168.8,683.5 169.5,686.0 170.2,688.7 170.9,691.5 171.6,694.5 172.3,697.5 173.0,700.5 173.7,703.4 174.5,706.3 175.2,709.0 175.9,711.4 176.6,713.6 177.3,715.5 178.0,717.1 178.7,718.3 179.5,719.1 180.2,719.5 180.9,719.5 181.6,719.1 182.3,718.3 183.0,717.1 183.7,715.6 184.5,713.7 185.2,711.5 185.9,709.1 186.6,706.4 187.3,703.6 188.0,700.6 188.7,697.6 189.5,694.6 190.2,691.6 190.9,688.8 191.6,686.1 192.3,683.6 193.0,681.4 193.7,679.4 194.5,677.8 195.2,676.6 195.9,675.7 196.6,675.3 197.3,675.2 198.0,675.6 198.7,676.4 199.5,677.5 200.2,679.0 200.9,680.9 201.6,683.1 202.3,685.5 203.0,688.2 203.7,691.0 204.4,693.9 205.2,696.9 205.9,699.9 206.6,702.9 207.3,705.8 208.0,708.5 208.7,711.0 209.4,713.2 210.2,715.2 210.9,716.8 211.6,718.1 212.3,719.0 213.0,719.5 213.7,719.6 214.4,719.2 215.2,718.5 215.9,717.4 216.6,715.9 217.3,714.1 218.0,711.9 218.7,709.5 219.4,706.9 220.2,704.1 220.9,701.2 221.6,698.2 222.3,695.1 223.0,692.2 223.7,689.3 224.4,686.6 225.2,684.0 225.9,681.8 226.6,679.8 227.3,678.1 228.0,676.8 228.7,675.9 229.4,675.3 230.2,675.2 230.9,675.5 231.6,676.2 232.3,677.3 233.0,678.7 233.7,680.5 234.4,682.6 235.2,685.0 235.9,687.6 236.6,690.4 237.3,693.4 238.0,696.4 238.7,699.4 239.4,702.4 240.2,705.2 240.9,708.0 241.6,710.5 242.3,712.8 243.0,714.9 243.7,716.6 244.4,717.9 245.1,718.9 245.9,719.4 246.6,719.6 247.3,719.3 248.0,718.7 248.7,717.6 249.4,716.2 250.1,714.4 250.9,712.4 251.6,710.0 252.3,707.4 253.0,704.6 253.7,701.7 254.4,698.7 255.1,695.7 255.9,692.7 256.6,689.8 257.3,687.1 258.0,684.5 258.7,682.2 259.4,680.1 260.1,678.4 260.9,677.1 261.6,676.1 262.3,675.4 263.0,675.2 263.7,675.4 264.4,675.9 265.1,676.8 265.9,678.1 266.6,679.6 267.3,681.5 268.0,683.6 268.7,686.0 269.4,688.5 270.1,691.1 270.9,693.9 271.6,696.7 272.3,699.5 273.0,702.2 273.7,704.9 274.4,707.5 275.1,709.8 275.9,712.0 276.6,714.0 277.3,715.7 278.0,717.1 278.7,718.2 279.4,719.0 280.1,719.4 280.8,719.6 281.6,719.4 282.3,718.9 283.0,718.1 283.7,717.0 284.4,715.6 285.1,714.0 285.8,712.1 286.6,710.0 287.3,707.8 288.0,705.4 288.7,702.9 289.4,700.4 290.1,697.8 290.8,695.2 291.6,692.7 292.3,690.2 293.0,687.8 293.7,685.6 294.4,683.5 295.1,681.6 295.8,679.9 296.6,678.5 297.3,677.3 298.0,676.4 298.7,675.7 299.4,675.3 300.1,675.2 300.8,675.4 301.6,675.9 302.3,676.6 303.0,677.6 303.7,678.8 304.4,680.2 305.1,681.9 305.8,683.8 306.6,685.8 307.3,687.9 308.0,690.2 308.7,692.5 309.4,694.9 310.1,697.3 310.8,699.8 311.5,702.1 312.3,704.5 313.0,706.7 313.7,708.8 314.4,710.8 315.1,712.6 315.8,714.3 316.5,715.7 317.3,717.0 318.0,718.0 318.7,718.7 319.4,719.3 320.1,719.5 320.8,719.6 321.5,719.4 322.3,718.9 323.0,718.2 323.7,717.3 324.4,716.1 325.1,714.8 325.8,713.2 326.5,711.5 327.3,709.7 328.0,707.7 328.7,705.6 329.4,703.4 330.1,701.2 330.8,698.9 331.5,696.6 332.3,694.3 333.0,692.1 333.7,689.9 334.4,687.8 335.1,685.8 335.8,683.9 336.5,682.2 337.3,680.6 338.0,679.3 338.7,678.1 339.4,677.1 340.1,676.3 340.8,675.7 341.5,675.3 342.3,675.2 343.0,675.3 343.7,675.6 344.4,676.2 345.1,676.9 345.8,677.9 346.5,679.0 347.2,680.3 348.0,681.8 348.7,683.5 349.4,685.3 350.1,687.2 350.8,689.2 351.5,691.2 352.2,693.4 353.0,695.5 353.7,697.7 354.4,699.9 355.1,702.0 355.8,704.1 356.5,706.2 357.2,708.1 358.0,710.0 358.7,711.7 359.4,713.3 360.1,714.7 360.8,716.0 361.5,717.1 362.2,718.0 363.0,718.7 363.7,719.2 364.4,719.5 365.1,719.6 365.8,719.5 366.5,719.2 367.2,718.7 368.0,718.0 368.7,717.1 369.4,716.0 370.1,714.7 370.8,713.3 371.5,711.8 372.2,710.1 373.0,708.4 373.7,706.5 374.4,704.5 375.1,702.5 375.8,700.4 376.5,698.3 377.2,696.2 378.0,694.1 378.7,692.1 379.4,690.1 380.1,688.1 380.8,686.3 381.5,684.5 382.2,682.9 382.9,681.4 383.7,680.0 384.4,678.8 385.1,677.8 385.8,676.9 386.5,676.2 387.2,675.7 387.9,675.3 388.7,675.2 389.4,675.3 390.1,675.5 390.8,676.0 391.5,676.6 392.2,677.4 392.9,678.3 393.7,679.5 394.4,680.8 395.1,682.2 395.8,683.7 396.5,685.4 397.2,687.2 397.9,689.0 398.7,690.9 399.4,692.9 400.1,694.9 400.8,696.9 401.5,699.0 402.2,701.0 402.9,703.0 403.7,704.9 404.4,706.8 405.1,708.6 405.8,710.3 406.5,711.8 407.2,713.3 407.9,714.6 408.7,715.8 409.4,716.9 410.1,717.8 410.8,718.5 411.5,719.0 412.2,719.4 412.9,719.6 413.7,719.6 414.4,719.4 415.1,719.0 415.8,718.5 416.5,717.8 417.2,716.9 417.9,715.9 418.6,714.8 419.4,713.4 420.1,712.0 420.8,710.5 421.5,708.8 422.2,707.1 422.9,705.2 423.6,703.4 424.4,701.4 425.1,699.5 425.8,697.5 426.5,695.5 427.2,693.6 427.9,691.6 428.6,689.8 429.4,687.9 430.1,686.2 430.8,684.5 431.5,683.0 432.2,681.6 432.9,680.2 433.6,679.1 434.4,678.0 435.1,677.2 435.8,676.4 436.5,675.9 437.2,675.5 437.9,675.3 438.6,675.2 439.4,675.3 440.1,675.6 440.8,676.1 441.5,676.7 442.2,677.5 442.9,678.4 443.6,679.5 444.4,680.7 445.1,682.1 445.8,683.5 446.5,685.1 447.2,686.8 447.9,688.5 448.6,690.3 449.4,692.2 450.1,694.1 450.8,696.0 451.5,697.9 452.2,699.9 452.9,701.8 453.6,703.6 454.3,705.5 455.1,707.2 455.8,708.9 456.5,710.5 457.2,712.0 457.9,713.4 458.6,714.7 459.3,715.8 460.1,716.8 460.8,717.7 461.5,718.4 462.2,718.9 462.9,719.3 463.6,719.5 464.3,719.6 465.1,719.5 465.8,719.2 466.5,718.8 467.2,718.2 467.9,717.4 468.6,716.5 469.3,715.5 470.1,714.3 470.8,713.0 471.5,711.6 472.2,710.1 472.9,708.5 473.6,706.8 474.3,705.1 475.1,703.3 475.8,701.4 476.5,699.5 477.2,697.6 477.9,695.7 478.6,693.8 479.3,692.0 480.1,690.2 480.8,688.4 481.5,686.7 482.2,685.1 482.9,683.6 483.6,682.1 484.3,680.8 485.1,679.6 485.8,678.6 486.5,677.6 487.2,676.8 487.9,676.2 488.6,675.7 489.3,675.4 490.0,675.2 490.8,675.2 491.5,675.4 492.2,675.7 492.9,676.2 493.6,676.8 494.3,677.5 495.0,678.5 495.8,679.5 496.5,680.7 497.2,682.0 497.9,683.4 498.6,684.9 499.3,686.5 500.0,688.1 500.8,689.9 501.5,691.7 502.2,693.5 502.9,695.3 503.6,697.2 504.3,699.1 505.0,700.9 505.8,702.8 506.5,704.6 507.2,706.3 507.9,708.0 508.6,709.6 509.3,711.1 510.0,712.5 510.8,713.8 511.5,715.0 512.2,716.1 512.9,717.0 513.6,717.8 514.3,718.5 515.0,719.0 515.8,719.3 516.5,719.5 517.2,719.6 517.9,719.5 518.6,719.2 519.3,718.8 520.0,718.2 520.8,717.5 521.5,716.6 522.2,715.6 522.9,714.5 523.6,713.3 524.3,711.9 525.0,710.5 525.8,708.9 526.5,707.3 527.2,705.6 527.9,703.9 528.6,702.1 529.3,700.3 530.0,698.4 530.7,696.6 531.5,694.7 532.2,692.9 532.9,691.1 533.6,689.4 534.3,687.7 535.0,686.0 535.7,684.5 536.5,683.0 537.2,681.7 537.9,680.4 538.6,679.3 539.3,678.3 540.0,677.4 540.7,676.7 541.5,676.1 542.2,675.7 542.9,675.4 543.6,675.2 544.3,675.2 545.0,675.4 545.7,675.7 546.5,676.2 547.2,676.8 547.9,677.5 548.6,678.4 549.3,679.5 550.0,680.6 550.7,681.9 551.5,683.2 552.2,684.7 552.9,686.2 553.6,687.8 554.3,689.5 555.0,691.3 555.7,693.1 556.5,694.9 557.2,696.7 557.9,698.5 558.6,700.4 559.3,702.2 560.0,703.9 560.7,705.7 561.5,707.3 562.2,708.9 562.9,710.5 563.6,711.9 564.3,713.2 565.0,714.5 565.7,715.6 566.4,716.6 567.2,717.4 567.9,718.1 568.6,718.7 569.3,719.2 570.0,719.4 570.7,719.6 571.4,719.6 572.2,719.4 572.9,719.1 573.6,718.6 574.3,718.0 575.0,717.3 575.7,716.4 576.4,715.4 577.2,714.3 577.9,713.0 578.6,711.7 579.3,710.2 580.0,708.7 580.7,707.1 581.4,705.4 582.2,703.7 582.9,701.9 583.6,700.1 584.3,698.3 585.0,696.5 585.7,694.7 586.4,692.9 587.2,691.1 587.9,689.4 588.6,687.7 589.3,686.1 590.0,684.6 590.7,683.1 591.4,681.8 592.2,680.6 592.9,679.4 593.6,678.4 594.3,677.5 595.0,676.8 595.7,676.2 596.4,675.7 597.1,675.4 597.9,675.2 598.6,675.2 599.3,675.3 600.0,675.6 600.7,676.0 601.4,676.6 602.1,677.3 602.9,678.1 603.6,679.1 604.3,680.2 605.0,681.4 605.7,682.7 606.4,684.1 607.1,685.6 607.9,687.2 608.6,688.8 609.3,690.5 610.0,692.3 610.7,694.1 611.4,695.9 612.1,697.7 612.9,699.5 613.6,701.3 614.3,703.1 615.0,704.8 615.7,706.5 616.4,708.1 617.1,709.7 617.9,711.1 618.6,712.5 619.3,713.8 620.0,714.9 620.7,716.0 621.4,716.9 622.1,717.7 622.9,718.4 623.6,718.9 624.3,719.3 625.0,719.5 625.7,719.6 626.4,719.5 627.1,719.3 627.9,719.0 628.6,718.5 629.3,717.8 630.0,717.0 630.7,716.1 631.4,715.1 632.1,713.9 632.9,712.7 633.6,711.3 634.3,709.9 635.0,708.3 635.7,706.7 636.4,705.0 637.1,703.3 637.8,701.5 638.6,699.7 639.3,697.9 640.0,696.1 640.7,694.3 641.4,692.5 642.1,690.8 642.8,689.1 643.6,687.4 644.3,685.8 645.0,684.3 645.7,682.9 646.4,681.6 647.1,680.4 647.8,679.3 648.6,678.3 649.3,677.4 650.0,676.7 650.7,676.1 651.4,675.7 652.1,675.4 652.8,675.2 653.6,675.2 654.3,675.4 655.0,675.7 655.7,676.1 656.4,676.7 657.1,677.4 657.8,678.2 658.6,679.2 659.3,680.3 660.0,681.5 660.7,682.9 661.4,684.3 662.1,685.8 662.8,687.4 663.6,689.0 664.3,690.7 665.0,692.5 665.7,694.2 666.4,696.0 667.1,697.8 667.8,699.7 668.5,701.5 669.3,703.2 670.0,704.9 670.7,706.6 671.4,708.2 672.1,709.8 672.8,711.2 673.5,712.6 674.3,713.9 675.0,715.0 675.7,716.1 676.4,717.0 677.1,717.8 677.8,718.4 678.5,718.9 679.3,719.3 680.0,719.5 680.7,719.6 681.4,719.5 682.1,719.3 682.8,718.9 683.5,718.4 684.3,717.8 685.0,717.0 685.7,716.0 686.4,715.0 687.1,713.8 687.8,712.6 688.5,711.2 689.3,709.7 690.0,708.2 690.7,706.6 691.4,704.9 692.1,703.1 692.8,701.4 693.5,699.6 694.3,697.8 695.0,696.0 695.7,694.2 696.4,692.4 697.1,690.6 697.8,688.9 698.5,687.3 699.3,685.7 700.0,684.2 700.7,682.8 701.4,681.5 702.1,680.3 702.8,679.2 703.5,678.2 704.2,677.4 705.0,676.7 705.7,676.1 706.4,675.6 707.1,675.4 707.8,675.2 708.5,675.2 709.2,675.4 710.0,675.7 710.7,676.1 711.4,676.7 712.1,677.5 712.8,678.3 713.5,679.3 714.2,680.4 715.0,681.6 715.7,683.0 716.4,684.4 717.1,685.9 717.8,687.5 718.5,689.1 719.2,690.9 720.0,692.6 720.7,694.4 721.4,696.2 722.1,698.0 722.8,699.8 723.5,701.6 724.2,703.4 725.0,705.1 725.7,706.8 726.4,708.4 727.1,709.9 727.8,711.4 728.5,712.7 729.2,714.0 730.0,715.1 730.7,716.2 731.4,717.1 732.1,717.8 732.8,718.5 733.5,719.0 734.2,719.3 735.0,719.5 735.7,719.6 736.4,719.5 737.1,719.3 737.8,718.9 738.5,718.4 739.2,717.7 739.9,716.9 740.7,716.0 741.4,714.9 742.1,713.7 742.8,712.4 743.5,711.1 744.2,709.6 744.9,708.0 745.7,706.4 746.4,704.7 747.1,703.0 747.8,701.2 748.5,699.4 749.2,697.6 749.9,695.8 750.7,694.0 751.4,692.2 752.1,690.5 752.8,688.8 753.5,687.1 754.2,685.6 754.9,684.1 755.7,682.7 756.4,681.4 757.1,680.2 757.8,679.1 758.5,678.1 759.2,677.3 759.9,676.6 760.7,676.0 761.4,675.6 762.1,675.3 762.8,675.2 763.5,675.2 764.2,675.4 764.9,675.7 765.7,676.2 766.4,676.8 767.1,677.5 767.8,678.4 768.5,679.4 769.2,680.5 769.9,681.8 770.7,683.1 771.4,684.5 772.1,686.0 772.8,687.6 773.5,689.3 774.2,691.0 774.9,692.8 775.6,694.5 776.4,696.4 777.1,698.2 777.8,700.0 778.5,701.8 779.2,703.5 779.9,705.2 780.6,706.9 781.4,708.5 782.1,710.0 782.8,711.5 783.5,712.8 784.2,714.1 784.9,715.2 785.6,716.2 786.4,717.1 787.1,717.9 787.8,718.5 788.5,719.0 789.2,719.3 789.9,719.5 790.6,719.6 791.4,719.5 792.1,719.2 792.8,718.8 793.5,718.3" stroke="#0072bd" stroke-width="2.3"/><polyline points="79.5,760.8 258.0,760.8 615.0,1077.8 793.5,1077.8" stroke="#0072bd" stroke-width="3.4" stroke-dasharray="15 14.5" stroke-linejoin="miter"/><polyline points="79.5,1080.5 83.1,1080.5 86.6,1080.5 90.2,1080.5 93.8,1080.5 97.3,1080.5 100.9,1080.5 104.5,1080.5 108.1,1080.5 111.6,1080.5 115.2,1080.5 118.8,1080.5 122.3,1080.5 125.9,1080.5 129.5,1080.5 133.1,1080.5 136.6,1080.5 140.2,1080.5 143.8,1080.5 147.3,1080.5 150.9,1080.5 154.5,1080.5 158.0,1080.5 161.6,1080.5 165.2,1080.5 168.8,1080.5 172.3,1080.5 175.9,1080.5 179.5,1080.5 183.0,1080.5 186.6,1080.5 190.2,1080.5 193.7,1080.5 197.3,1080.5 200.9,1080.5 204.4,1080.5 208.0,1080.5 211.6,1080.5 215.2,1080.5 218.7,1080.5 222.3,1080.5 225.9,1080.5 229.4,1080.5 233.0,1080.5 236.6,1080.5 240.2,1080.5 243.7,1080.5 247.3,1080.5 250.9,1080.5 254.4,1080.5 258.0,1080.5 261.6,1076.8 265.1,1073.2 268.7,1069.6 272.3,1066.0 275.9,1062.5 279.4,1059.0 283.0,1055.5 286.6,1052.0 290.1,1048.6 293.7,1045.2 297.3,1041.8 300.8,1038.5 304.4,1035.2 308.0,1031.8 311.5,1028.5 315.1,1025.2 318.7,1022.0 322.3,1018.7 325.8,1015.4 329.4,1012.2 333.0,1008.9 336.5,1005.7 340.1,1002.4 343.7,999.2 347.2,996.0 350.8,992.8 354.4,989.5 358.0,986.3 361.5,983.1 365.1,979.9 368.7,976.7 372.2,973.4 375.8,970.2 379.4,967.0 382.9,963.8 386.5,960.6 390.1,957.3 393.7,954.1 397.2,950.9 400.8,947.6 404.4,944.4 407.9,941.1 411.5,937.9 415.1,934.6 418.6,931.3 422.2,928.1 425.8,924.8 429.4,921.5 432.9,918.2 436.5,914.9 440.1,911.6 443.6,908.3 447.2,905.0 450.8,901.7 454.3,898.3 457.9,895.0 461.5,891.7 465.1,888.3 468.6,884.9 472.2,881.6 475.8,878.2 479.3,874.8 482.9,871.4 486.5,868.0 490.0,864.6 493.6,861.2 497.2,857.8 500.8,854.4 504.3,850.9 507.9,847.5 511.5,844.0 515.0,840.6 518.6,837.1 522.2,833.6 525.8,830.1 529.3,826.7 532.9,823.2 536.5,819.6 540.0,816.1 543.6,812.6 547.2,809.1 550.7,805.6 554.3,802.0 557.9,798.5 561.5,794.9 565.0,791.3 568.6,787.8 572.2,784.2 575.7,780.6 579.3,777.0 582.9,773.4 586.4,769.8 590.0,766.2 593.6,762.6 597.1,759.0 600.7,755.3 604.3,751.7 607.9,748.1 611.4,744.4 615.0,740.8 618.6,740.8 622.1,740.8 625.7,740.8 629.3,740.8 632.9,740.8 636.4,740.8 640.0,740.8 643.6,740.8 647.1,740.8 650.7,740.8 654.3,740.8 657.8,740.8 661.4,740.8 665.0,740.8 668.5,740.8 672.1,740.8 675.7,740.8 679.3,740.8 682.8,740.8 686.4,740.8 690.0,740.8 693.5,740.8 697.1,740.8 700.7,740.8 704.2,740.8 707.8,740.8 711.4,740.8 715.0,740.8 718.5,740.8 722.1,740.8 725.7,740.8 729.2,740.8 732.8,740.8 736.4,740.8 739.9,740.8 743.5,740.8 747.1,740.8 750.7,740.8 754.2,740.8 757.8,740.8 761.4,740.8 764.9,740.8 768.5,740.8 772.1,740.8 775.6,740.8 779.2,740.8 782.8,740.8 786.4,740.8 789.9,740.8 793.5,740.8" stroke="#d95319" stroke-width="3.8" stroke-linejoin="miter"/></g>
<text x="72.8" y="705.7" font-size="22" class="b e">0</text>
<text x="72.8" y="769.1" font-size="22" class="b e">-10</text>
<text x="72.8" y="832.5" font-size="22" class="b e">-20</text>
<text x="72.8" y="895.9" font-size="22" class="b e">-30</text>
<text x="72.8" y="959.3" font-size="22" class="b e">-40</text>
<text x="72.8" y="1022.7" font-size="22" class="b e">-50</text>
<text x="72.8" y="1086.1" font-size="22" class="b e">-60</text>
<text x="799.3" y="676.3" font-size="22" class="o l">0.45</text>
<text x="799.3" y="736.59" font-size="22" class="o l">0.4</text>
<text x="799.3" y="796.87" font-size="22" class="o l">0.35</text>
<text x="799.3" y="857.16" font-size="22" class="o l">0.3</text>
<text x="799.3" y="917.44" font-size="22" class="o l">0.25</text>
<text x="799.3" y="977.73" font-size="22" class="o l">0.2</text>
<text x="799.3" y="1038.01" font-size="22" class="o l">0.15</text>
<text x="799.3" y="1098.3" font-size="22" class="o l">0.1</text>
<text x="79.5" y="1116.1" font-size="22">200</text>
<text x="150.9" y="1116.1" font-size="22">400</text>
<text x="222.3" y="1116.1" font-size="22">600</text>
<text x="293.7" y="1116.1" font-size="22">800</text>
<text x="365.1" y="1116.1" font-size="22">1000</text>
<text x="436.5" y="1116.1" font-size="22">1200</text>
<text x="507.9" y="1116.1" font-size="22">1400</text>
<text x="579.3" y="1116.1" font-size="22">1600</text>
<text x="650.7" y="1116.1" font-size="22">1800</text>
<text x="722.1" y="1116.1" font-size="22">2000</text>
<text x="793.5" y="1116.1" font-size="22">2200</text>
<text class="l"><tspan x="383.98" y="1145" font-size="24.3" letter-spacing="0.56">range </tspan><tspan x="456.21" y="1145" font-size="22" class="n">(</tspan><tspan x="466.35" y="1145" font-size="24.3">m</tspan><tspan x="488.25" y="1145" font-size="22" class="n">)</tspan></text>
<text class="b l" transform="translate(34 0) rotate(-90)"><tspan x="-903.47" y="0" font-size="24.3">z </tspan><tspan x="-886.16" y="0" font-size="21.5" class="n">(</tspan><tspan x="-877.5" y="0" font-size="24.3">m</tspan><tspan x="-854.94" y="0" font-size="21.5" class="n">)</tspan></text>
<text class="o l" transform="translate(867.6 0) rotate(-90)"><tspan x="-893.9" y="0" font-size="24.3" letter-spacing="-0.09">kh</tspan></text>
<text class="s k l" font-size="37.5"><tspan x="416.98" y="1207.3">(</tspan><tspan x="428.88" y="1207.1" font-weight="bold" font-size="36.47">c</tspan><tspan x="444.85" y="1207.3">)</tspan></text>
<line x1="1039.5" y1="673.5" x2="1039.5" y2="1089.5" stroke="#262626" stroke-width="1" stroke-opacity="0.1"/>
<line x1="1109.5" y1="673.5" x2="1109.5" y2="1089.5" stroke="#262626" stroke-width="1" stroke-opacity="0.09"/>
<line x1="1180.5" y1="673.5" x2="1180.5" y2="1089.5" stroke="#262626" stroke-width="1" stroke-opacity="0.07"/>
<line x1="1250.5" y1="673.5" x2="1250.5" y2="1089.5" stroke="#262626" stroke-width="1" stroke-opacity="0.09"/>
<line x1="1320.5" y1="673.5" x2="1320.5" y2="1089.5" stroke="#262626" stroke-width="1" stroke-opacity="0.1"/>
<line x1="1391.5" y1="673.5" x2="1391.5" y2="1089.5" stroke="#262626" stroke-width="1" stroke-opacity="0.1"/>
<line x1="1461.5" y1="673.5" x2="1461.5" y2="1089.5" stroke="#262626" stroke-width="1" stroke-opacity="0.09"/>
<line x1="1532.5" y1="673.5" x2="1532.5" y2="1089.5" stroke="#262626" stroke-width="1" stroke-opacity="0.1"/>
<line x1="1602.5" y1="673.5" x2="1602.5" y2="1089.5" stroke="#262626" stroke-width="1" stroke-opacity="0.04"/>
<line x1="969" y1="725.5" x2="1673" y2="725.5" stroke="#5a8fb5" stroke-width="1" stroke-opacity="0.08"/>
<line x1="969" y1="784.5" x2="1673" y2="784.5" stroke="#5a8fb5" stroke-width="1" stroke-opacity="0.1"/>
<line x1="969" y1="843.5" x2="1673" y2="843.5" stroke="#5a8fb5" stroke-width="1" stroke-opacity="0.08"/>
<line x1="969" y1="901.5" x2="1673" y2="901.5" stroke="#5a8fb5" stroke-width="1" stroke-opacity="0.07"/>
<line x1="969" y1="960.5" x2="1673" y2="960.5" stroke="#5a8fb5" stroke-width="1" stroke-opacity="0.07"/>
<line x1="969" y1="1018.5" x2="1673" y2="1018.5" stroke="#5a8fb5" stroke-width="1" stroke-opacity="0.07"/>
<line x1="969" y1="1077.5" x2="1673" y2="1077.5" stroke="#5a8fb5" stroke-width="1" stroke-opacity="0.1"/>
<line x1="969" y1="1089.5" x2="1673" y2="1089.5" stroke="#262626" stroke-width="1.2" stroke-opacity="0.9"/>
<line x1="969" y1="673.5" x2="1673" y2="673.5" stroke="#262626" stroke-width="1" stroke-opacity="0.5"/>
<line x1="969" y1="673.5" x2="969" y2="1089.5" stroke="#0072bd" stroke-width="1" stroke-opacity="0.1"/>
<line x1="1673" y1="673.5" x2="1673" y2="1089.5" stroke="#d95319" stroke-width="1" stroke-opacity="0.22"/>
<line x1="1039.5" y1="1089.5" x2="1039.5" y2="1082.5" stroke="#262626" stroke-width="1" stroke-opacity="0.8"/>
<line x1="1109.5" y1="1089.5" x2="1109.5" y2="1082.5" stroke="#262626" stroke-width="1" stroke-opacity="0.7"/>
<line x1="1180.5" y1="1089.5" x2="1180.5" y2="1082.5" stroke="#262626" stroke-width="1" stroke-opacity="0.4"/>
<line x1="1250.5" y1="1089.5" x2="1250.5" y2="1082.5" stroke="#262626" stroke-width="1" stroke-opacity="0.6"/>
<line x1="1320.5" y1="1089.5" x2="1320.5" y2="1082.5" stroke="#262626" stroke-width="1" stroke-opacity="0.8"/>
<line x1="1391.5" y1="1089.5" x2="1391.5" y2="1082.5" stroke="#262626" stroke-width="1" stroke-opacity="0.8"/>
<line x1="1461.5" y1="1089.5" x2="1461.5" y2="1082.5" stroke="#262626" stroke-width="1" stroke-opacity="0.6"/>
<line x1="1532.5" y1="1089.5" x2="1532.5" y2="1082.5" stroke="#262626" stroke-width="1" stroke-opacity="0.9"/>
<line x1="1602.5" y1="1089.5" x2="1602.5" y2="1082.5" stroke="#262626" stroke-width="1" stroke-opacity="0.2"/>
<line x1="1039.5" y1="673.5" x2="1039.5" y2="680.5" stroke="#262626" stroke-width="1" stroke-opacity="0.8"/>
<line x1="1109.5" y1="673.5" x2="1109.5" y2="680.5" stroke="#262626" stroke-width="1" stroke-opacity="0.6"/>
<line x1="1180.5" y1="673.5" x2="1180.5" y2="680.5" stroke="#262626" stroke-width="1" stroke-opacity="0.4"/>
<line x1="1250.5" y1="673.5" x2="1250.5" y2="680.5" stroke="#262626" stroke-width="1" stroke-opacity="0.6"/>
<line x1="1320.5" y1="673.5" x2="1320.5" y2="680.5" stroke="#262626" stroke-width="1" stroke-opacity="0.8"/>
<line x1="1391.5" y1="673.5" x2="1391.5" y2="680.5" stroke="#262626" stroke-width="1" stroke-opacity="0.8"/>
<line x1="1461.5" y1="673.5" x2="1461.5" y2="680.5" stroke="#262626" stroke-width="1" stroke-opacity="0.6"/>
<line x1="1532.5" y1="673.5" x2="1532.5" y2="680.5" stroke="#262626" stroke-width="1" stroke-opacity="0.9"/>
<line x1="1602.5" y1="673.5" x2="1602.5" y2="680.5" stroke="#262626" stroke-width="1" stroke-opacity="0.2"/>
<line x1="969" y1="843.5" x2="976" y2="843.5" stroke="#0072bd" stroke-width="1" stroke-opacity="0.3"/>
<line x1="969" y1="901.5" x2="976" y2="901.5" stroke="#0072bd" stroke-width="1" stroke-opacity="0.2"/>
<line x1="969" y1="1077.5" x2="976" y2="1077.5" stroke="#0072bd" stroke-width="1" stroke-opacity="0.6"/>
<line x1="1666" y1="771.5" x2="1673" y2="771.5" stroke="#d95319" stroke-width="1" stroke-opacity="0.5"/>
<line x1="1666" y1="820.5" x2="1673" y2="820.5" stroke="#d95319" stroke-width="1" stroke-opacity="0.4"/>
<line x1="1666" y1="869.5" x2="1673" y2="869.5" stroke="#d95319" stroke-width="1" stroke-opacity="0.3"/>
<line x1="1666" y1="918.5" x2="1673" y2="918.5" stroke="#d95319" stroke-width="1" stroke-opacity="0.3"/>
<line x1="1666" y1="967.5" x2="1673" y2="967.5" stroke="#d95319" stroke-width="1" stroke-opacity="0.2"/>
<line x1="1666" y1="1016.5" x2="1673" y2="1016.5" stroke="#d95319" stroke-width="1" stroke-opacity="0.2"/>
<line x1="1666" y1="1065.5" x2="1673" y2="1065.5" stroke="#d95319" stroke-width="1" stroke-opacity="0.2"/>
<g clip-path="url(#cp969)" fill="none" stroke-linejoin="round"><polyline points="969.0,720.5 970.4,724.3 971.8,727.0 973.2,728.7 974.6,728.6 976.0,730.0 977.4,731.5 978.9,728.7 980.3,725.4 981.7,727.5 983.1,733.2 984.5,734.0 985.9,725.9 987.3,718.3 988.7,717.9 990.1,719.2 991.5,719.7 992.9,720.9 994.3,722.2 995.8,726.4 997.2,730.5 998.6,729.1 1000.0,728.5 1001.4,730.9 1002.8,730.4 1004.2,730.3 1005.6,732.2 1007.0,729.5 1008.4,723.4 1009.8,718.8 1011.2,717.8 1012.6,718.8 1014.1,716.9 1015.5,718.0 1016.9,727.2 1018.3,731.3 1019.7,728.2 1021.1,730.4 1022.5,732.5 1023.9,731.2 1025.3,733.8 1026.7,733.9 1028.1,728.8 1029.5,726.6 1031.0,724.0 1032.4,720.5 1033.8,721.1 1035.2,719.0 1036.6,712.0 1038.0,708.9 1039.4,712.0 1040.8,720.8 1042.2,732.8 1043.6,741.1 1045.0,742.3 1046.4,737.6 1047.8,733.2 1049.3,733.9 1050.7,734.9 1052.1,732.3 1053.5,726.0 1054.9,716.3 1056.3,710.1 1057.7,709.9 1059.1,709.7 1060.5,713.9 1061.9,724.6 1063.3,730.7 1064.7,732.7 1066.2,738.3 1067.6,740.3 1069.0,733.0 1070.4,726.5 1071.8,727.7 1073.2,728.5 1074.6,721.7 1076.0,715.2 1077.4,715.6 1078.8,716.8 1080.2,719.5 1081.6,729.1 1083.0,736.1 1084.5,732.1 1085.9,727.2 1087.3,731.3 1088.7,736.6 1090.1,732.9 1091.5,725.1 1092.9,719.8 1094.3,716.1 1095.7,717.1 1097.1,721.2 1098.5,718.9 1099.9,716.2 1101.4,721.6 1102.8,728.1 1104.2,732.2 1105.6,737.5 1107.0,741.0 1108.4,739.9 1109.8,733.4 1111.2,726.4 1112.6,725.3 1114.0,719.9 1115.4,706.9 1116.8,702.9 1118.2,709.7 1119.7,718.3 1121.1,729.7 1122.5,737.5 1123.9,738.9 1125.3,742.3 1126.7,742.1 1128.1,735.0 1129.5,733.0 1130.9,730.6 1132.3,717.3 1133.7,705.6 1135.1,704.6 1136.6,708.7 1138.0,716.5 1139.4,727.6 1140.8,735.5 1142.2,737.0 1143.6,733.9 1145.0,728.6 1146.4,726.0 1147.8,729.4 1149.2,733.0 1150.6,732.4 1152.0,731.3 1153.4,729.6 1154.9,724.4 1156.3,719.9 1157.7,716.7 1159.1,711.0 1160.5,709.0 1161.9,715.7 1163.3,724.5 1164.7,729.3 1166.1,732.2 1167.5,736.5 1168.9,739.7 1170.3,738.0 1171.8,734.2 1173.2,729.5 1174.6,723.8 1176.0,722.5 1177.4,724.0 1178.8,721.4 1180.2,719.5 1181.6,720.1 1183.0,717.1 1184.4,715.1 1185.8,718.8 1187.2,722.6 1188.6,727.6 1190.1,735.0 1191.5,737.2 1192.9,734.0 1194.3,731.4 1195.7,728.8 1197.1,726.8 1198.5,728.7 1199.9,729.9 1201.3,724.9 1202.7,718.8 1204.1,716.3 1205.5,714.4 1207.0,716.5 1208.4,725.4 1209.8,730.7 1211.2,731.0 1212.6,735.6 1214.0,738.5 1215.4,731.6 1216.8,723.7 1218.2,720.5 1219.6,716.9 1221.0,713.4 1222.4,715.7 1223.8,723.8 1225.3,730.7 1226.7,731.6 1228.1,729.8 1229.5,729.1 1230.9,729.7 1232.3,732.6 1233.7,736.6 1235.1,736.5 1236.5,730.7 1237.9,723.6 1239.3,721.0 1240.7,721.1 1242.2,716.3 1243.6,708.3 1245.0,708.1 1246.4,716.9 1247.8,723.4 1249.2,722.2 1250.6,722.5 1252.0,732.0 1253.4,740.6 1254.8,736.9 1256.2,730.0 1257.6,731.8 1259.0,735.3 1260.5,733.2 1261.9,730.9 1263.3,730.2 1264.7,727.3 1266.1,725.6 1267.5,726.6 1268.9,724.3 1270.3,719.6 1271.7,717.6 1273.1,718.1 1274.5,721.1 1275.9,723.7 1277.4,720.1 1278.8,715.2 1280.2,715.7 1281.6,717.6 1283.0,720.6 1284.4,727.4 1285.8,732.0 1287.2,732.6 1288.6,737.2 1290.0,742.7 1291.4,739.2 1292.8,732.3 1294.2,732.1 1295.7,731.9 1297.1,724.8 1298.5,718.5 1299.9,717.7 1301.3,719.8 1302.7,724.1 1304.1,727.1 1305.5,725.2 1306.9,719.1 1308.3,712.9 1309.7,713.7 1311.1,718.7 1312.6,720.2 1314.0,725.8 1315.4,734.7 1316.8,731.1 1318.2,723.5 1319.6,728.0 1321.0,735.6 1322.4,740.1 1323.8,742.2 1325.2,737.6 1326.6,730.9 1328.0,724.5 1329.4,714.3 1330.9,709.4 1332.3,713.7 1333.7,718.1 1335.1,722.3 1336.5,725.8 1337.9,725.9 1339.3,726.5 1340.7,728.9 1342.1,733.1 1343.5,738.0 1344.9,736.8 1346.3,732.7 1347.8,730.3 1349.2,726.1 1350.6,723.6 1352.0,720.7 1353.4,711.4 1354.8,710.1 1356.2,716.9 1357.6,715.2 1359.0,716.1 1360.4,724.6 1361.8,722.5 1363.2,717.8 1364.6,722.5 1366.1,728.0 1367.5,735.7 1368.9,745.5 1370.3,747.3 1371.7,745.3 1373.1,740.8 1374.5,731.1 1375.9,727.0 1377.3,728.0 1378.7,723.5 1380.1,719.0 1381.5,717.4 1383.0,713.5 1384.4,711.6 1385.8,714.3 1387.2,717.8 1388.6,721.9 1390.0,726.5 1391.4,728.2 1392.8,726.6 1394.2,726.9 1395.6,731.0 1397.0,734.1 1398.4,733.8 1399.8,733.5 1401.3,732.6 1402.7,728.7 1404.1,722.8 1405.5,716.3 1406.9,712.8 1408.3,716.0 1409.7,721.1 1411.1,721.9 1412.5,723.8 1413.9,732.9 1415.3,740.8 1416.7,736.2 1418.2,727.0 1419.6,725.9 1421.0,728.6 1422.4,726.2 1423.8,721.5 1425.2,719.4 1426.6,719.9 1428.0,721.0 1429.4,720.5 1430.8,719.0 1432.2,718.6 1433.6,720.3 1435.0,723.8 1436.5,729.4 1437.9,737.0 1439.3,742.3 1440.7,742.1 1442.1,740.5 1443.5,738.0 1444.9,730.4 1446.3,721.3 1447.7,718.4 1449.1,721.5 1450.5,723.8 1451.9,722.2 1453.4,720.6 1454.8,718.3 1456.2,709.7 1457.6,705.5 1459.0,715.4 1460.4,725.0 1461.8,725.8 1463.2,726.6 1464.6,728.0 1466.0,731.6 1467.4,740.8 1468.8,745.0 1470.2,740.8 1471.7,738.6 1473.1,737.6 1474.5,731.2 1475.9,721.4 1477.3,711.6 1478.7,706.3 1480.1,707.6 1481.5,711.3 1482.9,715.7 1484.3,721.2 1485.7,725.4 1487.1,728.5 1488.6,732.3 1490.0,735.1 1491.4,734.9 1492.8,731.9 1494.2,727.2 1495.6,723.0 1497.0,722.5 1498.4,725.6 1499.8,727.3 1501.2,726.0 1502.6,725.2 1504.0,727.2 1505.4,731.6 1506.9,736.9 1508.3,739.3 1509.7,736.8 1511.1,731.6 1512.5,726.8 1513.9,722.9 1515.3,719.6 1516.7,717.7 1518.1,715.9 1519.5,710.8 1520.9,707.0 1522.3,712.8 1523.8,723.7 1525.2,730.1 1526.6,730.7 1528.0,729.4 1529.4,729.7 1530.8,731.3 1532.2,727.7 1533.6,719.2 1535.0,717.7 1536.4,725.4 1537.8,732.5 1539.2,735.9 1540.6,737.7 1542.1,735.2 1543.5,727.6 1544.9,720.5 1546.3,717.8 1547.7,719.5 1549.1,722.5 1550.5,725.3 1551.9,730.6 1553.3,735.6 1554.7,734.5 1556.1,733.0 1557.5,733.5 1559.0,727.5 1560.4,718.9 1561.8,715.8 1563.2,712.5 1564.6,710.5 1566.0,716.0 1567.4,722.2 1568.8,724.5 1570.2,727.1 1571.6,730.4 1573.0,734.6 1574.4,735.4 1575.8,729.3 1577.3,724.2 1578.7,722.9 1580.1,721.9 1581.5,725.2 1582.9,730.2 1584.3,729.2 1585.7,725.0 1587.1,722.7 1588.5,726.5 1589.9,736.4 1591.3,739.8 1592.7,734.5 1594.2,732.2 1595.6,731.4 1597.0,726.4 1598.4,720.7 1599.8,715.0 1601.2,710.5 1602.6,709.9 1604.0,710.9 1605.4,711.7 1606.8,712.6 1608.2,716.3 1609.6,725.3 1611.0,732.2 1612.5,734.6 1613.9,738.9 1615.3,741.0 1616.7,738.1 1618.1,736.6 1619.5,734.7 1620.9,731.5 1622.3,731.4 1623.7,728.6 1625.1,724.0 1626.5,726.1 1627.9,726.4 1629.4,718.1 1630.8,714.2 1632.2,719.8 1633.6,724.0 1635.0,722.3 1636.4,720.6 1637.8,718.6 1639.2,715.8 1640.6,719.3 1642.0,726.2 1643.4,726.7 1644.8,727.0 1646.2,732.4 1647.7,735.2 1649.1,736.7 1650.5,739.1 1651.9,735.5 1653.3,727.8 1654.7,721.1 1656.1,716.8 1657.5,718.4 1658.9,721.9 1660.3,722.7 1661.7,723.6 1663.1,722.3 1664.6,720.6 1666.0,725.5 1667.4,729.6 1668.8,729.3 1670.2,732.6 1671.6,735.0 1673.0,732.2" stroke="#0072bd" stroke-width="2.1"/><polyline points="969.0,784.4 1145.0,784.4 1497.0,1077.5 1673.0,1077.5" stroke="#0072bd" stroke-width="3.4" stroke-dasharray="15 14" stroke-linejoin="miter"/><polyline points="969.0,1081.1 972.5,1081.1 976.0,1081.1 979.6,1081.1 983.1,1081.1 986.6,1081.1 990.1,1081.1 993.6,1081.1 997.2,1081.1 1000.7,1081.1 1004.2,1081.1 1007.7,1081.1 1011.2,1081.1 1014.8,1081.1 1018.3,1081.1 1021.8,1081.1 1025.3,1081.1 1028.8,1081.1 1032.4,1081.1 1035.9,1081.1 1039.4,1081.1 1042.9,1081.1 1046.4,1081.1 1050.0,1081.1 1053.5,1081.1 1057.0,1081.1 1060.5,1081.1 1064.0,1081.1 1067.6,1081.1 1071.1,1081.1 1074.6,1081.1 1078.1,1081.1 1081.6,1081.1 1085.2,1081.1 1088.7,1081.1 1092.2,1081.1 1095.7,1081.1 1099.2,1081.1 1102.8,1081.1 1106.3,1081.1 1109.8,1081.1 1113.3,1081.1 1116.8,1081.1 1120.4,1081.1 1123.9,1081.1 1127.4,1081.1 1130.9,1081.1 1134.4,1081.1 1138.0,1081.1 1141.5,1081.1 1145.0,1081.1 1148.5,1078.4 1152.0,1075.7 1155.6,1073.1 1159.1,1070.4 1162.6,1067.7 1166.1,1065.1 1169.6,1062.4 1173.2,1059.7 1176.7,1057.0 1180.2,1054.4 1183.7,1051.7 1187.2,1049.0 1190.8,1046.2 1194.3,1043.5 1197.8,1040.8 1201.3,1038.0 1204.8,1035.3 1208.4,1032.5 1211.9,1029.7 1215.4,1026.9 1218.9,1024.1 1222.4,1021.3 1226.0,1018.5 1229.5,1015.6 1233.0,1012.8 1236.5,1009.9 1240.0,1007.0 1243.6,1004.1 1247.1,1001.2 1250.6,998.2 1254.1,995.3 1257.6,992.4 1261.2,989.4 1264.7,986.4 1268.2,983.4 1271.7,980.5 1275.2,977.4 1278.8,974.4 1282.3,971.4 1285.8,968.4 1289.3,965.3 1292.8,962.3 1296.4,959.2 1299.9,956.2 1303.4,953.1 1306.9,950.0 1310.4,946.9 1314.0,943.8 1317.5,940.7 1321.0,937.6 1324.5,934.5 1328.0,931.4 1331.6,928.3 1335.1,925.2 1338.6,922.0 1342.1,918.9 1345.6,915.8 1349.2,912.6 1352.7,909.5 1356.2,906.3 1359.7,903.2 1363.2,900.0 1366.8,896.9 1370.3,893.7 1373.8,890.5 1377.3,887.4 1380.8,884.2 1384.4,881.0 1387.9,877.9 1391.4,874.7 1394.9,871.5 1398.4,868.3 1402.0,865.2 1405.5,862.0 1409.0,858.8 1412.5,855.6 1416.0,852.4 1419.6,849.3 1423.1,846.1 1426.6,842.9 1430.1,839.7 1433.6,836.5 1437.2,833.3 1440.7,830.1 1444.2,826.9 1447.7,823.7 1451.2,820.6 1454.8,817.4 1458.3,814.2 1461.8,811.0 1465.3,807.8 1468.8,804.6 1472.4,801.4 1475.9,798.2 1479.4,795.0 1482.9,791.8 1486.4,788.6 1490.0,785.4 1493.5,782.2 1497.0,779.0 1500.5,779.0 1504.0,779.0 1507.6,779.0 1511.1,779.0 1514.6,779.0 1518.1,779.0 1521.6,779.0 1525.2,779.0 1528.7,779.0 1532.2,779.0 1535.7,779.0 1539.2,779.0 1542.8,779.0 1546.3,779.0 1549.8,779.0 1553.3,779.0 1556.8,779.0 1560.4,779.0 1563.9,779.0 1567.4,779.0 1570.9,779.0 1574.4,779.0 1578.0,779.0 1581.5,779.0 1585.0,779.0 1588.5,779.0 1592.0,779.0 1595.6,779.0 1599.1,779.0 1602.6,779.0 1606.1,779.0 1609.6,779.0 1613.2,779.0 1616.7,779.0 1620.2,779.0 1623.7,779.0 1627.2,779.0 1630.8,779.0 1634.3,779.0 1637.8,779.0 1641.3,779.0 1644.8,779.0 1648.4,779.0 1651.9,779.0 1655.4,779.0 1658.9,779.0 1662.4,779.0 1666.0,779.0 1669.5,779.0 1673.0,779.0" stroke="#d95319" stroke-width="3.6" stroke-linejoin="miter"/></g>
<text x="963" y="734.1" font-size="22" class="b e">0</text>
<text x="963" y="792.72" font-size="22" class="b e">-10</text>
<text x="963" y="851.34" font-size="22" class="b e">-20</text>
<text x="963" y="909.96" font-size="22" class="b e">-30</text>
<text x="963" y="968.58" font-size="22" class="b e">-40</text>
<text x="963" y="1027.2" font-size="22" class="b e">-50</text>
<text x="963" y="1085.82" font-size="22" class="b e">-60</text>
<text x="1679" y="681.2" font-size="22" class="o l">1</text>
<text x="1679" y="730.14" font-size="22" class="o l">0.9</text>
<text x="1679" y="779.08" font-size="22" class="o l">0.8</text>
<text x="1679" y="828.02" font-size="22" class="o l">0.7</text>
<text x="1679" y="876.96" font-size="22" class="o l">0.6</text>
<text x="1679" y="925.91" font-size="22" class="o l">0.5</text>
<text x="1679" y="974.85" font-size="22" class="o l">0.4</text>
<text x="1679" y="1023.79" font-size="22" class="o l">0.3</text>
<text x="1679" y="1072.73" font-size="22" class="o l">0.2</text>
<text x="969" y="1115" font-size="22">200</text>
<text x="1039.4" y="1115" font-size="22">400</text>
<text x="1109.8" y="1115" font-size="22">600</text>
<text x="1180.2" y="1115" font-size="22">800</text>
<text x="1250.6" y="1115" font-size="22">1000</text>
<text x="1321" y="1115" font-size="22">1200</text>
<text x="1391.4" y="1115" font-size="22">1400</text>
<text x="1461.8" y="1115" font-size="22">1600</text>
<text x="1532.2" y="1115" font-size="22">1800</text>
<text x="1602.6" y="1115" font-size="22">2000</text>
<text x="1673" y="1115" font-size="22">2200</text>
<text class="l"><tspan x="1269.78" y="1143.4" font-size="24.3" letter-spacing="0.06">range </tspan><tspan x="1341.61" y="1143.4" font-size="22" class="n">(</tspan><tspan x="1350.05" y="1143.4" font-size="24.3">m</tspan><tspan x="1372.05" y="1143.4" font-size="22" class="n">)</tspan></text>
<text class="b l" transform="translate(924 0) rotate(-90)"><tspan x="-904.62" y="0" font-size="24.3">z </tspan><tspan x="-887.42" y="0" font-size="24" class="n">(</tspan><tspan x="-879.35" y="0" font-size="24.3">m</tspan><tspan x="-857.36" y="0" font-size="24" class="n">)</tspan></text>
<text class="o l" transform="translate(1734 0) rotate(-90)"><tspan x="-901.38" y="0" font-size="24">k</tspan><tspan x="-887.85" y="12.1" font-size="18.8">p</tspan><tspan x="-875.58" y="0" font-size="24"> h</tspan></text>
<text class="s k l" font-size="37.5"><tspan x="1299.67" y="1207.3">(</tspan><tspan x="1311.66" y="1207.1" font-weight="bold" font-size="38.5">d</tspan><tspan x="1334.05" y="1207.3">)</tspan></text>
</svg>
</body></html>
